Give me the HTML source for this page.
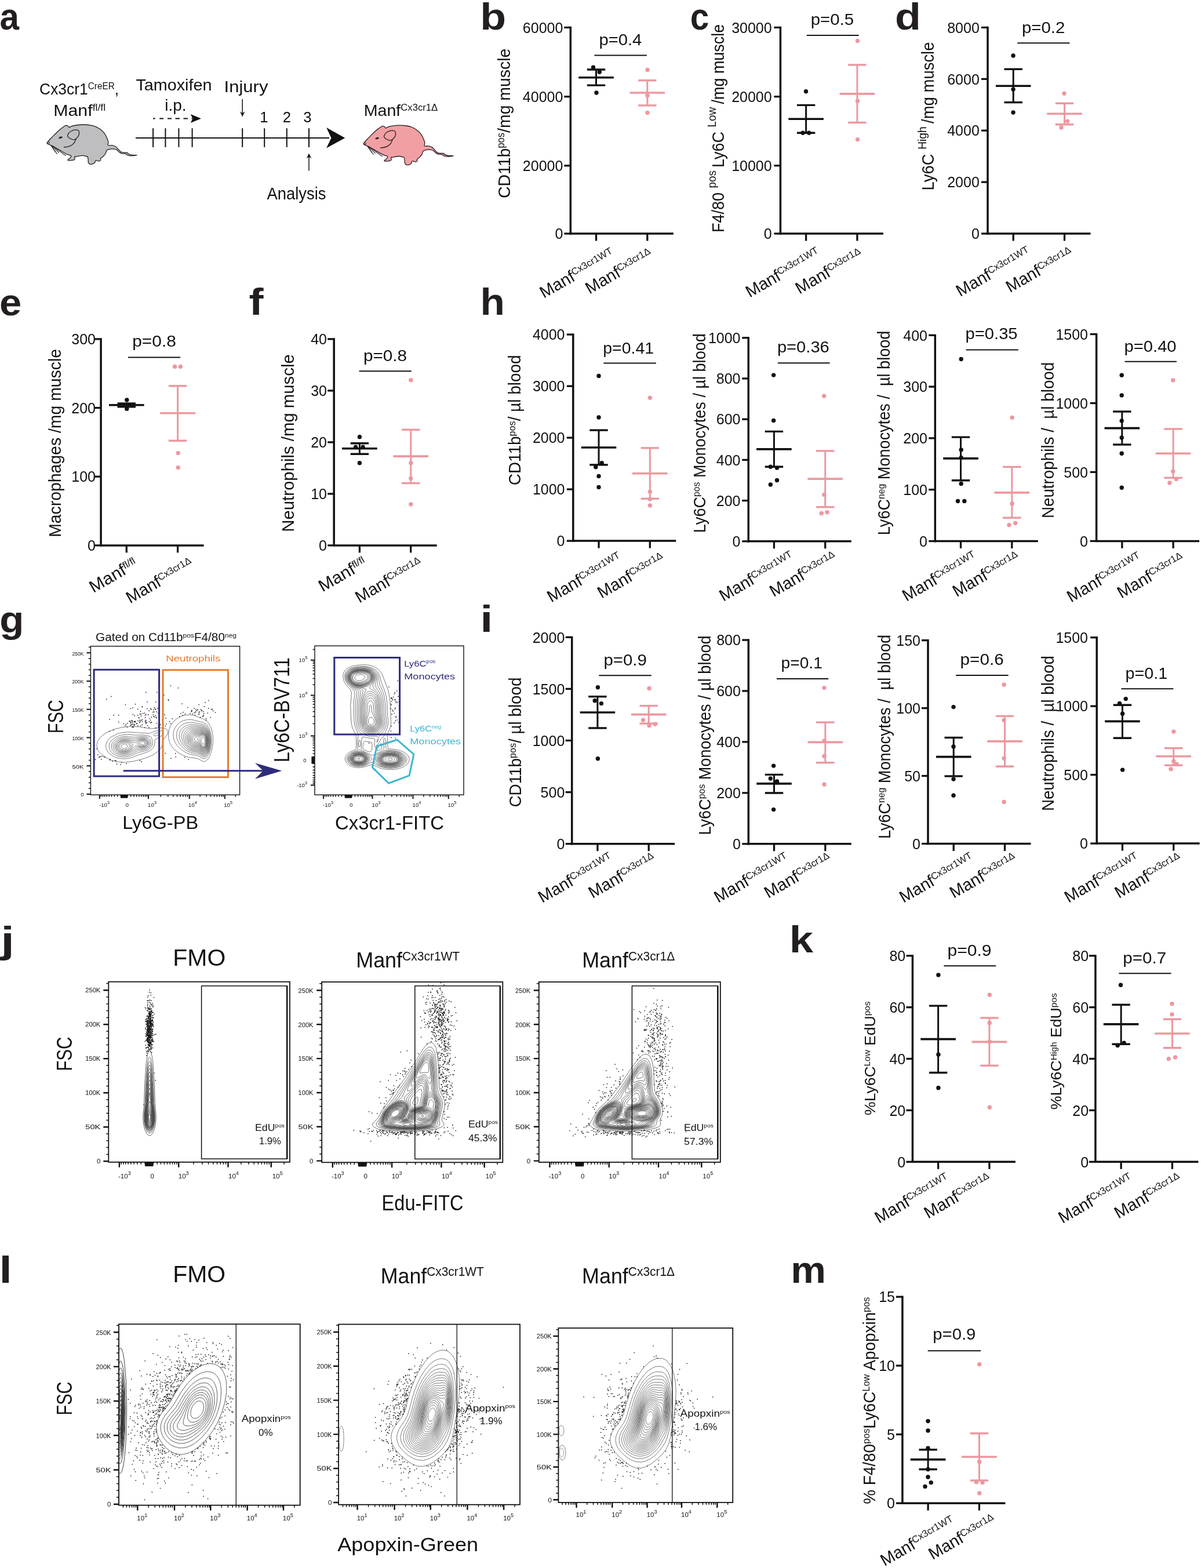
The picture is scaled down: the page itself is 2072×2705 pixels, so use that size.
<!DOCTYPE html>
<html><head><meta charset="utf-8"><title>Figure</title>
<style>html,body{margin:0;padding:0;background:#fff}svg{display:block}</style></head>
<body><svg width="2072" height="2705" viewBox="0 0 2072 2705" font-family="'Liberation Sans', Arial, sans-serif" fill="#111">
<rect width="2072" height="2705" fill="#fff"/>
<line x1="984.3" y1="45.8" x2="984.3" y2="404.7" stroke="#111" stroke-width="3.5"/>
<line x1="982.6" y1="403" x2="1161.8" y2="403" stroke="#111" stroke-width="3.5"/>
<line x1="973.3" y1="47.4" x2="984.3" y2="47.4" stroke="#111" stroke-width="3.3"/>
<text x="971.4" y="56.6" font-size="25" text-anchor="end">60000</text>
<line x1="973.3" y1="166.7" x2="984.3" y2="166.7" stroke="#111" stroke-width="3.3"/>
<text x="971.4" y="175.9" font-size="25" text-anchor="end">40000</text>
<line x1="973.3" y1="285.8" x2="984.3" y2="285.8" stroke="#111" stroke-width="3.3"/>
<text x="971.4" y="295" font-size="25" text-anchor="end">20000</text>
<line x1="973.3" y1="403" x2="984.3" y2="403" stroke="#111" stroke-width="3.3"/>
<text x="971.4" y="412.2" font-size="25" text-anchor="end">0</text>
<line x1="1028.5" y1="403" x2="1028.5" y2="415.5" stroke="#111" stroke-width="3.3"/>
<line x1="1116.8" y1="403" x2="1116.8" y2="415.5" stroke="#111" stroke-width="3.3"/>
<circle cx="1023.5" cy="116.2" r="3.7" fill="#111"/>
<circle cx="1034.3" cy="124.3" r="3.7" fill="#111"/>
<circle cx="1029" cy="160" r="3.7" fill="#111"/>
<circle cx="1117" cy="120.5" r="3.7" fill="#EC98A0"/>
<circle cx="1117" cy="164.8" r="3.7" fill="#EC98A0"/>
<circle cx="1117" cy="194.5" r="3.7" fill="#EC98A0"/>
<line x1="998.2" y1="133.8" x2="1058.8" y2="133.8" stroke="#111" stroke-width="3.6"/>
<line x1="1012.8" y1="120" x2="1044.2" y2="120" stroke="#111" stroke-width="3.4"/>
<line x1="1012.8" y1="147.1" x2="1044.2" y2="147.1" stroke="#111" stroke-width="3.4"/>
<line x1="1028.5" y1="120" x2="1028.5" y2="147.1" stroke="#111" stroke-width="3"/>
<line x1="1086.5" y1="160" x2="1147.1" y2="160" stroke="#EC98A0" stroke-width="3.6"/>
<line x1="1101.1" y1="138.7" x2="1132.5" y2="138.7" stroke="#EC98A0" stroke-width="3.4"/>
<line x1="1101.1" y1="181.9" x2="1132.5" y2="181.9" stroke="#EC98A0" stroke-width="3.4"/>
<line x1="1116.8" y1="138.7" x2="1116.8" y2="181.9" stroke="#EC98A0" stroke-width="3"/>
<line x1="1025.4" y1="95.5" x2="1115.8" y2="95.5" stroke="#111" stroke-width="2"/>
<text x="1033.4" y="78.3" font-size="28.5" textLength="74" lengthAdjust="spacingAndGlyphs">p=0.4</text>
<text x="880" y="341.9" font-size="30" transform="rotate(-90 880 341.9)" textLength="258.2" lengthAdjust="spacingAndGlyphs">CD11b<tspan dy="-10" font-size="17.5">pos</tspan><tspan dy="10">/mg muscle</tspan></text>
<text x="938.3" y="515.2" font-size="29" transform="rotate(-30 938.3 515.2)" textLength="143" lengthAdjust="spacingAndGlyphs">Manf<tspan dy="-8.7" font-size="16.8">Cx3cr1WT</tspan></text>
<text x="1016.9" y="508" font-size="29" transform="rotate(-30 1016.9 508)" textLength="128" lengthAdjust="spacingAndGlyphs">Manf<tspan dy="-8.7" font-size="16.8">Cx3cr1Δ</tspan></text>
<line x1="1346.4" y1="45.8" x2="1346.4" y2="404.7" stroke="#111" stroke-width="3.5"/>
<line x1="1344.7" y1="403" x2="1523.9" y2="403" stroke="#111" stroke-width="3.5"/>
<line x1="1335.4" y1="47.4" x2="1346.4" y2="47.4" stroke="#111" stroke-width="3.3"/>
<text x="1331.7" y="56.6" font-size="25" text-anchor="end">30000</text>
<line x1="1335.4" y1="166.7" x2="1346.4" y2="166.7" stroke="#111" stroke-width="3.3"/>
<text x="1331.7" y="175.9" font-size="25" text-anchor="end">20000</text>
<line x1="1335.4" y1="285.7" x2="1346.4" y2="285.7" stroke="#111" stroke-width="3.3"/>
<text x="1331.7" y="294.9" font-size="25" text-anchor="end">10000</text>
<line x1="1335.4" y1="403" x2="1346.4" y2="403" stroke="#111" stroke-width="3.3"/>
<text x="1331.7" y="412.2" font-size="25" text-anchor="end">0</text>
<line x1="1390.6" y1="403" x2="1390.6" y2="415.5" stroke="#111" stroke-width="3.3"/>
<line x1="1478.9" y1="403" x2="1478.9" y2="415.5" stroke="#111" stroke-width="3.3"/>
<circle cx="1390.5" cy="157.7" r="3.7" fill="#111"/>
<circle cx="1385" cy="229.3" r="3.7" fill="#111"/>
<circle cx="1395.7" cy="229.3" r="3.7" fill="#111"/>
<circle cx="1479.5" cy="70.4" r="3.7" fill="#EC98A0"/>
<circle cx="1479.5" cy="174.3" r="3.7" fill="#EC98A0"/>
<circle cx="1479.5" cy="240.6" r="3.7" fill="#EC98A0"/>
<line x1="1360.3" y1="205.3" x2="1420.9" y2="205.3" stroke="#111" stroke-width="3.6"/>
<line x1="1374.9" y1="181.4" x2="1406.3" y2="181.4" stroke="#111" stroke-width="3.4"/>
<line x1="1374.9" y1="229.3" x2="1406.3" y2="229.3" stroke="#111" stroke-width="3.4"/>
<line x1="1390.6" y1="181.4" x2="1390.6" y2="229.3" stroke="#111" stroke-width="3"/>
<line x1="1448.6" y1="161.9" x2="1509.2" y2="161.9" stroke="#EC98A0" stroke-width="3.6"/>
<line x1="1463.2" y1="111.9" x2="1494.6" y2="111.9" stroke="#EC98A0" stroke-width="3.4"/>
<line x1="1463.2" y1="211.5" x2="1494.6" y2="211.5" stroke="#EC98A0" stroke-width="3.4"/>
<line x1="1478.9" y1="111.9" x2="1478.9" y2="211.5" stroke="#EC98A0" stroke-width="3"/>
<line x1="1391.7" y1="60.9" x2="1481.6" y2="60.9" stroke="#111" stroke-width="2"/>
<text x="1398.7" y="42.7" font-size="28.5" textLength="74.4" lengthAdjust="spacingAndGlyphs">p=0.5</text>
<text x="1248.8" y="401" font-size="30" transform="rotate(-90 1248.8 401)" textLength="359.3" lengthAdjust="spacingAndGlyphs">F4/80 <tspan dy="-13.5" font-size="21">pos </tspan><tspan dy="13.5">Ly6C </tspan><tspan dy="-13.5" font-size="21">Low </tspan><tspan dy="13.5">/mg muscle</tspan></text>
<text x="1293.4" y="514.1" font-size="29" transform="rotate(-30 1293.4 514.1)" textLength="143" lengthAdjust="spacingAndGlyphs">Manf<tspan dy="-8.7" font-size="16.8">Cx3cr1WT</tspan></text>
<text x="1379.3" y="507.9" font-size="29" transform="rotate(-30 1379.3 507.9)" textLength="128" lengthAdjust="spacingAndGlyphs">Manf<tspan dy="-8.7" font-size="16.8">Cx3cr1Δ</tspan></text>
<line x1="1704" y1="45.8" x2="1704" y2="404.7" stroke="#111" stroke-width="3.5"/>
<line x1="1702.3" y1="403" x2="1881.5" y2="403" stroke="#111" stroke-width="3.5"/>
<line x1="1693" y1="47.4" x2="1704" y2="47.4" stroke="#111" stroke-width="3.3"/>
<text x="1689.8" y="56.6" font-size="25" text-anchor="end">8000</text>
<line x1="1693" y1="136.3" x2="1704" y2="136.3" stroke="#111" stroke-width="3.3"/>
<text x="1689.8" y="145.5" font-size="25" text-anchor="end">6000</text>
<line x1="1693" y1="225.2" x2="1704" y2="225.2" stroke="#111" stroke-width="3.3"/>
<text x="1689.8" y="234.4" font-size="25" text-anchor="end">4000</text>
<line x1="1693" y1="314.1" x2="1704" y2="314.1" stroke="#111" stroke-width="3.3"/>
<text x="1689.8" y="323.3" font-size="25" text-anchor="end">2000</text>
<line x1="1693" y1="403" x2="1704" y2="403" stroke="#111" stroke-width="3.3"/>
<text x="1689.8" y="412.2" font-size="25" text-anchor="end">0</text>
<line x1="1748.2" y1="403" x2="1748.2" y2="415.5" stroke="#111" stroke-width="3.3"/>
<line x1="1836.5" y1="403" x2="1836.5" y2="415.5" stroke="#111" stroke-width="3.3"/>
<circle cx="1748" cy="96" r="3.7" fill="#111"/>
<circle cx="1748" cy="154.1" r="3.7" fill="#111"/>
<circle cx="1748" cy="194" r="3.7" fill="#111"/>
<circle cx="1836" cy="161.2" r="3.7" fill="#EC98A0"/>
<circle cx="1841.6" cy="209.1" r="3.7" fill="#EC98A0"/>
<circle cx="1831" cy="220" r="3.7" fill="#EC98A0"/>
<line x1="1717.9" y1="148.2" x2="1778.5" y2="148.2" stroke="#111" stroke-width="3.6"/>
<line x1="1732.5" y1="119.3" x2="1763.9" y2="119.3" stroke="#111" stroke-width="3.4"/>
<line x1="1732.5" y1="176.6" x2="1763.9" y2="176.6" stroke="#111" stroke-width="3.4"/>
<line x1="1748.2" y1="119.3" x2="1748.2" y2="176.6" stroke="#111" stroke-width="3"/>
<line x1="1806.2" y1="196.3" x2="1866.8" y2="196.3" stroke="#EC98A0" stroke-width="3.6"/>
<line x1="1820.8" y1="178.3" x2="1852.2" y2="178.3" stroke="#EC98A0" stroke-width="3.4"/>
<line x1="1820.8" y1="214.8" x2="1852.2" y2="214.8" stroke="#EC98A0" stroke-width="3.4"/>
<line x1="1836.5" y1="178.3" x2="1836.5" y2="214.8" stroke="#EC98A0" stroke-width="3"/>
<line x1="1755.3" y1="74.2" x2="1845.4" y2="74.2" stroke="#111" stroke-width="2"/>
<text x="1763" y="56.9" font-size="28.5" textLength="74.4" lengthAdjust="spacingAndGlyphs">p=0.2</text>
<text x="1611" y="328.5" font-size="30" transform="rotate(-90 1611 328.5)" textLength="256" lengthAdjust="spacingAndGlyphs">Ly6C <tspan dy="-13.5" font-size="21">High </tspan><tspan dy="13.5">/mg muscle</tspan></text>
<text x="1656.5" y="512.6" font-size="29" transform="rotate(-30 1656.5 512.6)" textLength="143" lengthAdjust="spacingAndGlyphs">Manf<tspan dy="-8.7" font-size="16.8">Cx3cr1WT</tspan></text>
<text x="1742.4" y="505.6" font-size="29" transform="rotate(-30 1742.4 505.6)" textLength="128" lengthAdjust="spacingAndGlyphs">Manf<tspan dy="-8.7" font-size="16.8">Cx3cr1Δ</tspan></text>
<line x1="174.1" y1="583.3" x2="174.1" y2="942.6" stroke="#111" stroke-width="3.5"/>
<line x1="172.4" y1="940.9" x2="351.6" y2="940.9" stroke="#111" stroke-width="3.5"/>
<line x1="163.1" y1="584.9" x2="174.1" y2="584.9" stroke="#111" stroke-width="3.3"/>
<text x="165" y="594.1" font-size="25" text-anchor="end">300</text>
<line x1="163.1" y1="703.6" x2="174.1" y2="703.6" stroke="#111" stroke-width="3.3"/>
<text x="165" y="712.8" font-size="25" text-anchor="end">200</text>
<line x1="163.1" y1="822.2" x2="174.1" y2="822.2" stroke="#111" stroke-width="3.3"/>
<text x="165" y="831.4" font-size="25" text-anchor="end">100</text>
<line x1="163.1" y1="940.9" x2="174.1" y2="940.9" stroke="#111" stroke-width="3.3"/>
<text x="165" y="950.1" font-size="25" text-anchor="end">0</text>
<line x1="218.3" y1="940.9" x2="218.3" y2="953.4" stroke="#111" stroke-width="3.3"/>
<line x1="306.6" y1="940.9" x2="306.6" y2="953.4" stroke="#111" stroke-width="3.3"/>
<circle cx="218.8" cy="690" r="3.7" fill="#111"/>
<circle cx="212" cy="699" r="3.7" fill="#111"/>
<circle cx="226" cy="699" r="3.7" fill="#111"/>
<circle cx="218.8" cy="705.2" r="3.7" fill="#111"/>
<circle cx="301.5" cy="632.4" r="3.7" fill="#EC98A0"/>
<circle cx="311.4" cy="632.4" r="3.7" fill="#EC98A0"/>
<circle cx="307.2" cy="781.6" r="3.7" fill="#EC98A0"/>
<circle cx="307.2" cy="806.6" r="3.7" fill="#EC98A0"/>
<line x1="188" y1="698.7" x2="248.6" y2="698.7" stroke="#111" stroke-width="3.6"/>
<line x1="202.6" y1="696" x2="234" y2="696" stroke="#111" stroke-width="3.4"/>
<line x1="202.6" y1="701.8" x2="234" y2="701.8" stroke="#111" stroke-width="3.4"/>
<line x1="218.3" y1="696" x2="218.3" y2="701.8" stroke="#111" stroke-width="3"/>
<line x1="276.3" y1="712.7" x2="336.9" y2="712.7" stroke="#EC98A0" stroke-width="3.6"/>
<line x1="290.9" y1="665.7" x2="322.3" y2="665.7" stroke="#EC98A0" stroke-width="3.4"/>
<line x1="290.9" y1="760.3" x2="322.3" y2="760.3" stroke="#EC98A0" stroke-width="3.4"/>
<line x1="306.6" y1="665.7" x2="306.6" y2="760.3" stroke="#EC98A0" stroke-width="3"/>
<line x1="220.9" y1="616.6" x2="311.1" y2="616.6" stroke="#111" stroke-width="2"/>
<text x="228.2" y="597.9" font-size="28.5" textLength="75.7" lengthAdjust="spacingAndGlyphs">p=0.8</text>
<text x="105.3" y="926.8" font-size="30" transform="rotate(-90 105.3 926.8)" textLength="324.8" lengthAdjust="spacingAndGlyphs">Macrophages /mg muscle</text>
<text x="161.1" y="1023.2" font-size="29" transform="rotate(-30 161.1 1023.2)" textLength="90" lengthAdjust="spacingAndGlyphs">Manf<tspan dy="-8.7" font-size="16.8">fl/fl</tspan></text>
<text x="224.6" y="1041.8" font-size="29" transform="rotate(-30 224.6 1041.8)" textLength="128" lengthAdjust="spacingAndGlyphs">Manf<tspan dy="-8.7" font-size="16.8">Cx3cr1Δ</tspan></text>
<line x1="576.2" y1="583.3" x2="576.2" y2="942.6" stroke="#111" stroke-width="3.5"/>
<line x1="574.5" y1="940.9" x2="753.7" y2="940.9" stroke="#111" stroke-width="3.5"/>
<line x1="565.2" y1="584.9" x2="576.2" y2="584.9" stroke="#111" stroke-width="3.3"/>
<text x="564" y="594.1" font-size="25" text-anchor="end">40</text>
<line x1="565.2" y1="673.9" x2="576.2" y2="673.9" stroke="#111" stroke-width="3.3"/>
<text x="564" y="683.1" font-size="25" text-anchor="end">30</text>
<line x1="565.2" y1="762.9" x2="576.2" y2="762.9" stroke="#111" stroke-width="3.3"/>
<text x="564" y="772.1" font-size="25" text-anchor="end">20</text>
<line x1="565.2" y1="851.9" x2="576.2" y2="851.9" stroke="#111" stroke-width="3.3"/>
<text x="564" y="861.1" font-size="25" text-anchor="end">10</text>
<line x1="565.2" y1="940.9" x2="576.2" y2="940.9" stroke="#111" stroke-width="3.3"/>
<text x="564" y="950.1" font-size="25" text-anchor="end">0</text>
<line x1="620.4" y1="940.9" x2="620.4" y2="953.4" stroke="#111" stroke-width="3.3"/>
<line x1="708.7" y1="940.9" x2="708.7" y2="953.4" stroke="#111" stroke-width="3.3"/>
<circle cx="620.4" cy="753.8" r="3.7" fill="#111"/>
<circle cx="613.6" cy="771.2" r="3.7" fill="#111"/>
<circle cx="626.1" cy="771.2" r="3.7" fill="#111"/>
<circle cx="620.4" cy="798.8" r="3.7" fill="#111"/>
<circle cx="708.8" cy="655.8" r="3.7" fill="#EC98A0"/>
<circle cx="708.8" cy="798.8" r="3.7" fill="#EC98A0"/>
<circle cx="708.8" cy="825.3" r="3.7" fill="#EC98A0"/>
<circle cx="708.8" cy="870" r="3.7" fill="#EC98A0"/>
<line x1="590.1" y1="773.8" x2="650.7" y2="773.8" stroke="#111" stroke-width="3.6"/>
<line x1="604.7" y1="764.7" x2="636.1" y2="764.7" stroke="#111" stroke-width="3.4"/>
<line x1="604.7" y1="783.2" x2="636.1" y2="783.2" stroke="#111" stroke-width="3.4"/>
<line x1="620.4" y1="764.7" x2="620.4" y2="783.2" stroke="#111" stroke-width="3"/>
<line x1="678.4" y1="787.1" x2="739" y2="787.1" stroke="#EC98A0" stroke-width="3.6"/>
<line x1="693" y1="741.3" x2="724.4" y2="741.3" stroke="#EC98A0" stroke-width="3.4"/>
<line x1="693" y1="833.6" x2="724.4" y2="833.6" stroke="#EC98A0" stroke-width="3.4"/>
<line x1="708.7" y1="741.3" x2="708.7" y2="833.6" stroke="#EC98A0" stroke-width="3"/>
<line x1="619.6" y1="640.2" x2="709.8" y2="640.2" stroke="#111" stroke-width="2"/>
<text x="626.9" y="622.5" font-size="28.5" textLength="75.2" lengthAdjust="spacingAndGlyphs">p=0.8</text>
<text x="506.6" y="917.7" font-size="30" transform="rotate(-90 506.6 917.7)" textLength="306.5" lengthAdjust="spacingAndGlyphs">Neutrophils /mg muscle</text>
<text x="556.5" y="1021.7" font-size="29" transform="rotate(-30 556.5 1021.7)" textLength="90" lengthAdjust="spacingAndGlyphs">Manf<tspan dy="-8.7" font-size="16.8">fl/fl</tspan></text>
<text x="619.9" y="1041" font-size="29" transform="rotate(-30 619.9 1041)" textLength="128" lengthAdjust="spacingAndGlyphs">Manf<tspan dy="-8.7" font-size="16.8">Cx3cr1Δ</tspan></text>
<line x1="988.8" y1="575.5" x2="988.8" y2="934.8" stroke="#111" stroke-width="3.5"/>
<line x1="987.1" y1="933.1" x2="1166.3" y2="933.1" stroke="#111" stroke-width="3.5"/>
<line x1="977.8" y1="577.1" x2="988.8" y2="577.1" stroke="#111" stroke-width="3.3"/>
<text x="974.5" y="586.3" font-size="25" text-anchor="end">4000</text>
<line x1="977.8" y1="666.1" x2="988.8" y2="666.1" stroke="#111" stroke-width="3.3"/>
<text x="974.5" y="675.3" font-size="25" text-anchor="end">3000</text>
<line x1="977.8" y1="755.1" x2="988.8" y2="755.1" stroke="#111" stroke-width="3.3"/>
<text x="974.5" y="764.3" font-size="25" text-anchor="end">2000</text>
<line x1="977.8" y1="844.1" x2="988.8" y2="844.1" stroke="#111" stroke-width="3.3"/>
<text x="974.5" y="853.3" font-size="25" text-anchor="end">1000</text>
<line x1="977.8" y1="933.1" x2="988.8" y2="933.1" stroke="#111" stroke-width="3.3"/>
<text x="974.5" y="942.3" font-size="25" text-anchor="end">0</text>
<line x1="1033" y1="933.1" x2="1033" y2="945.6" stroke="#111" stroke-width="3.3"/>
<line x1="1121.3" y1="933.1" x2="1121.3" y2="945.6" stroke="#111" stroke-width="3.3"/>
<circle cx="1033" cy="648.5" r="3.7" fill="#111"/>
<circle cx="1033" cy="720" r="3.7" fill="#111"/>
<circle cx="1038.2" cy="798.8" r="3.7" fill="#111"/>
<circle cx="1027.8" cy="805.8" r="3.7" fill="#111"/>
<circle cx="1033" cy="821.4" r="3.7" fill="#111"/>
<circle cx="1033" cy="840.4" r="3.7" fill="#111"/>
<circle cx="1121.4" cy="686.2" r="3.7" fill="#EC98A0"/>
<circle cx="1121.4" cy="848.2" r="3.7" fill="#EC98A0"/>
<circle cx="1121.4" cy="861.1" r="3.7" fill="#EC98A0"/>
<circle cx="1121.4" cy="872" r="3.7" fill="#EC98A0"/>
<line x1="1002.7" y1="772" x2="1063.3" y2="772" stroke="#111" stroke-width="3.6"/>
<line x1="1017.3" y1="742.1" x2="1048.7" y2="742.1" stroke="#111" stroke-width="3.4"/>
<line x1="1017.3" y1="801.9" x2="1048.7" y2="801.9" stroke="#111" stroke-width="3.4"/>
<line x1="1033" y1="742.1" x2="1033" y2="801.9" stroke="#111" stroke-width="3"/>
<line x1="1091" y1="816.7" x2="1151.6" y2="816.7" stroke="#EC98A0" stroke-width="3.6"/>
<line x1="1105.6" y1="772.8" x2="1137" y2="772.8" stroke="#EC98A0" stroke-width="3.4"/>
<line x1="1105.6" y1="860.3" x2="1137" y2="860.3" stroke="#EC98A0" stroke-width="3.4"/>
<line x1="1121.3" y1="772.8" x2="1121.3" y2="860.3" stroke="#EC98A0" stroke-width="3"/>
<line x1="1041.3" y1="626.5" x2="1131.8" y2="626.5" stroke="#111" stroke-width="2"/>
<text x="1040.2" y="609.5" font-size="28.5" textLength="87.9" lengthAdjust="spacingAndGlyphs">p=0.41</text>
<text x="898.4" y="837.2" font-size="29" transform="rotate(-90 898.4 837.2)" textLength="224.7" lengthAdjust="spacingAndGlyphs">CD11b<tspan dy="-9.7" font-size="16.9">pos</tspan><tspan dy="9.7">/ µl blood</tspan></text>
<text x="951.1" y="1039.9" font-size="29" transform="rotate(-30 951.1 1039.9)" textLength="143" lengthAdjust="spacingAndGlyphs">Manf<tspan dy="-8.7" font-size="16.8">Cx3cr1WT</tspan></text>
<text x="1037.8" y="1032.9" font-size="29" transform="rotate(-30 1037.8 1032.9)" textLength="128" lengthAdjust="spacingAndGlyphs">Manf<tspan dy="-8.7" font-size="16.8">Cx3cr1Δ</tspan></text>
<line x1="1291.2" y1="581.2" x2="1291.2" y2="935.5" stroke="#111" stroke-width="3.5"/>
<line x1="1289.5" y1="933.8" x2="1468.7" y2="933.8" stroke="#111" stroke-width="3.5"/>
<line x1="1280.2" y1="582.8" x2="1291.2" y2="582.8" stroke="#111" stroke-width="3.3"/>
<text x="1277.5" y="592" font-size="25" text-anchor="end">1000</text>
<line x1="1280.2" y1="653" x2="1291.2" y2="653" stroke="#111" stroke-width="3.3"/>
<text x="1277.5" y="662.2" font-size="25" text-anchor="end">800</text>
<line x1="1280.2" y1="723.2" x2="1291.2" y2="723.2" stroke="#111" stroke-width="3.3"/>
<text x="1277.5" y="732.4" font-size="25" text-anchor="end">600</text>
<line x1="1280.2" y1="793.4" x2="1291.2" y2="793.4" stroke="#111" stroke-width="3.3"/>
<text x="1277.5" y="802.6" font-size="25" text-anchor="end">400</text>
<line x1="1280.2" y1="863.6" x2="1291.2" y2="863.6" stroke="#111" stroke-width="3.3"/>
<text x="1277.5" y="872.8" font-size="25" text-anchor="end">200</text>
<line x1="1280.2" y1="933.8" x2="1291.2" y2="933.8" stroke="#111" stroke-width="3.3"/>
<text x="1277.5" y="943" font-size="25" text-anchor="end">0</text>
<line x1="1335.4" y1="933.8" x2="1335.4" y2="946.3" stroke="#111" stroke-width="3.3"/>
<line x1="1423.7" y1="933.8" x2="1423.7" y2="946.3" stroke="#111" stroke-width="3.3"/>
<circle cx="1334.6" cy="647.1" r="3.7" fill="#111"/>
<circle cx="1334.6" cy="725.4" r="3.7" fill="#111"/>
<circle cx="1329.3" cy="805.2" r="3.7" fill="#111"/>
<circle cx="1340.5" cy="807.1" r="3.7" fill="#111"/>
<circle cx="1340.5" cy="828.5" r="3.7" fill="#111"/>
<circle cx="1329.3" cy="836" r="3.7" fill="#111"/>
<circle cx="1421.7" cy="683.3" r="3.7" fill="#EC98A0"/>
<circle cx="1421.7" cy="853.4" r="3.7" fill="#EC98A0"/>
<circle cx="1417.2" cy="885.5" r="3.7" fill="#EC98A0"/>
<circle cx="1427" cy="883.7" r="3.7" fill="#EC98A0"/>
<line x1="1305.1" y1="774.9" x2="1365.7" y2="774.9" stroke="#111" stroke-width="3.6"/>
<line x1="1319.7" y1="744.4" x2="1351.1" y2="744.4" stroke="#111" stroke-width="3.4"/>
<line x1="1319.7" y1="805.2" x2="1351.1" y2="805.2" stroke="#111" stroke-width="3.4"/>
<line x1="1335.4" y1="744.4" x2="1335.4" y2="805.2" stroke="#111" stroke-width="3"/>
<line x1="1393.4" y1="826.1" x2="1454" y2="826.1" stroke="#EC98A0" stroke-width="3.6"/>
<line x1="1408" y1="777.9" x2="1439.4" y2="777.9" stroke="#EC98A0" stroke-width="3.4"/>
<line x1="1408" y1="874.8" x2="1439.4" y2="874.8" stroke="#EC98A0" stroke-width="3.4"/>
<line x1="1423.7" y1="777.9" x2="1423.7" y2="874.8" stroke="#EC98A0" stroke-width="3"/>
<line x1="1341.9" y1="626.3" x2="1431.6" y2="626.3" stroke="#111" stroke-width="2"/>
<text x="1340.9" y="608.3" font-size="28.5" textLength="89.9" lengthAdjust="spacingAndGlyphs">p=0.36</text>
<text x="1216.8" y="919.2" font-size="29" transform="rotate(-90 1216.8 919.2)" textLength="344" lengthAdjust="spacingAndGlyphs">Ly6C<tspan dy="-9.7" font-size="16.9">pos</tspan><tspan dy="9.7"> Monocytes / µl blood</tspan></text>
<text x="1248" y="1038.3" font-size="29" transform="rotate(-30 1248 1038.3)" textLength="143" lengthAdjust="spacingAndGlyphs">Manf<tspan dy="-8.7" font-size="16.8">Cx3cr1WT</tspan></text>
<text x="1334.7" y="1030.6" font-size="29" transform="rotate(-30 1334.7 1030.6)" textLength="128" lengthAdjust="spacingAndGlyphs">Manf<tspan dy="-8.7" font-size="16.8">Cx3cr1Δ</tspan></text>
<line x1="1613.3" y1="576.7" x2="1613.3" y2="935.2" stroke="#111" stroke-width="3.5"/>
<line x1="1611.6" y1="933.5" x2="1790.8" y2="933.5" stroke="#111" stroke-width="3.5"/>
<line x1="1602.3" y1="578.3" x2="1613.3" y2="578.3" stroke="#111" stroke-width="3.3"/>
<text x="1600" y="587.5" font-size="25" text-anchor="end">400</text>
<line x1="1602.3" y1="667.1" x2="1613.3" y2="667.1" stroke="#111" stroke-width="3.3"/>
<text x="1600" y="676.3" font-size="25" text-anchor="end">300</text>
<line x1="1602.3" y1="755.9" x2="1613.3" y2="755.9" stroke="#111" stroke-width="3.3"/>
<text x="1600" y="765.1" font-size="25" text-anchor="end">200</text>
<line x1="1602.3" y1="844.7" x2="1613.3" y2="844.7" stroke="#111" stroke-width="3.3"/>
<text x="1600" y="853.9" font-size="25" text-anchor="end">100</text>
<line x1="1602.3" y1="933.5" x2="1613.3" y2="933.5" stroke="#111" stroke-width="3.3"/>
<text x="1600" y="942.7" font-size="25" text-anchor="end">0</text>
<line x1="1657.5" y1="933.5" x2="1657.5" y2="946" stroke="#111" stroke-width="3.3"/>
<line x1="1745.8" y1="933.5" x2="1745.8" y2="946" stroke="#111" stroke-width="3.3"/>
<circle cx="1658.2" cy="619.5" r="3.7" fill="#111"/>
<circle cx="1658.2" cy="776" r="3.7" fill="#111"/>
<circle cx="1658.2" cy="789.5" r="3.7" fill="#111"/>
<circle cx="1658.2" cy="834.5" r="3.7" fill="#111"/>
<circle cx="1652.5" cy="864.5" r="3.7" fill="#111"/>
<circle cx="1663.8" cy="864.5" r="3.7" fill="#111"/>
<circle cx="1746.1" cy="720.4" r="3.7" fill="#EC98A0"/>
<circle cx="1746.1" cy="868.7" r="3.7" fill="#EC98A0"/>
<circle cx="1741" cy="905.8" r="3.7" fill="#EC98A0"/>
<circle cx="1751.7" cy="902.5" r="3.7" fill="#EC98A0"/>
<line x1="1627.2" y1="790.9" x2="1687.8" y2="790.9" stroke="#111" stroke-width="3.6"/>
<line x1="1641.8" y1="754.1" x2="1673.2" y2="754.1" stroke="#111" stroke-width="3.4"/>
<line x1="1641.8" y1="828.8" x2="1673.2" y2="828.8" stroke="#111" stroke-width="3.4"/>
<line x1="1657.5" y1="754.1" x2="1657.5" y2="828.8" stroke="#111" stroke-width="3"/>
<line x1="1715.5" y1="849.9" x2="1776.1" y2="849.9" stroke="#EC98A0" stroke-width="3.6"/>
<line x1="1730.1" y1="805.5" x2="1761.5" y2="805.5" stroke="#EC98A0" stroke-width="3.4"/>
<line x1="1730.1" y1="893.2" x2="1761.5" y2="893.2" stroke="#EC98A0" stroke-width="3.4"/>
<line x1="1745.8" y1="805.5" x2="1745.8" y2="893.2" stroke="#EC98A0" stroke-width="3"/>
<line x1="1666.6" y1="603.5" x2="1756.8" y2="603.5" stroke="#111" stroke-width="2"/>
<text x="1665.6" y="585" font-size="28.5" textLength="90" lengthAdjust="spacingAndGlyphs">p=0.35</text>
<text x="1535.5" y="923.2" font-size="29" transform="rotate(-90 1535.5 923.2)" textLength="352.6" lengthAdjust="spacingAndGlyphs">Ly6C<tspan dy="-9.7" font-size="16.9">neg</tspan><tspan dy="9.7"> Monocytes /  µl blood</tspan></text>
<text x="1563.7" y="1038.3" font-size="29" transform="rotate(-30 1563.7 1038.3)" textLength="143" lengthAdjust="spacingAndGlyphs">Manf<tspan dy="-8.7" font-size="16.8">Cx3cr1WT</tspan></text>
<text x="1650.4" y="1030.6" font-size="29" transform="rotate(-30 1650.4 1030.6)" textLength="128" lengthAdjust="spacingAndGlyphs">Manf<tspan dy="-8.7" font-size="16.8">Cx3cr1Δ</tspan></text>
<line x1="1891.6" y1="574.9" x2="1891.6" y2="935.1" stroke="#111" stroke-width="3.5"/>
<line x1="1889.9" y1="933.4" x2="2069.1" y2="933.4" stroke="#111" stroke-width="3.5"/>
<line x1="1880.6" y1="576.5" x2="1891.6" y2="576.5" stroke="#111" stroke-width="3.3"/>
<text x="1877" y="585.7" font-size="25" text-anchor="end">1500</text>
<line x1="1880.6" y1="695.5" x2="1891.6" y2="695.5" stroke="#111" stroke-width="3.3"/>
<text x="1877" y="704.7" font-size="25" text-anchor="end">1000</text>
<line x1="1880.6" y1="814.4" x2="1891.6" y2="814.4" stroke="#111" stroke-width="3.3"/>
<text x="1877" y="823.6" font-size="25" text-anchor="end">500</text>
<line x1="1880.6" y1="933.4" x2="1891.6" y2="933.4" stroke="#111" stroke-width="3.3"/>
<text x="1877" y="942.6" font-size="25" text-anchor="end">0</text>
<line x1="1935.8" y1="933.4" x2="1935.8" y2="945.9" stroke="#111" stroke-width="3.3"/>
<line x1="2024.1" y1="933.4" x2="2024.1" y2="945.9" stroke="#111" stroke-width="3.3"/>
<circle cx="1935.2" cy="647.3" r="3.7" fill="#111"/>
<circle cx="1935.2" cy="681.9" r="3.7" fill="#111"/>
<circle cx="1935.2" cy="726" r="3.7" fill="#111"/>
<circle cx="1935.2" cy="755" r="3.7" fill="#111"/>
<circle cx="1935.2" cy="782.2" r="3.7" fill="#111"/>
<circle cx="1935.2" cy="841.2" r="3.7" fill="#111"/>
<circle cx="2023.7" cy="656" r="3.7" fill="#EC98A0"/>
<circle cx="2023.7" cy="813.1" r="3.7" fill="#EC98A0"/>
<circle cx="2029.3" cy="826.6" r="3.7" fill="#EC98A0"/>
<circle cx="2018" cy="833" r="3.7" fill="#EC98A0"/>
<line x1="1905.5" y1="738.6" x2="1966.1" y2="738.6" stroke="#111" stroke-width="3.6"/>
<line x1="1920.1" y1="710" x2="1951.5" y2="710" stroke="#111" stroke-width="3.4"/>
<line x1="1920.1" y1="767" x2="1951.5" y2="767" stroke="#111" stroke-width="3.4"/>
<line x1="1935.8" y1="710" x2="1935.8" y2="767" stroke="#111" stroke-width="3"/>
<line x1="1993.8" y1="782.2" x2="2054.4" y2="782.2" stroke="#EC98A0" stroke-width="3.6"/>
<line x1="2008.4" y1="740" x2="2039.8" y2="740" stroke="#EC98A0" stroke-width="3.4"/>
<line x1="2008.4" y1="824.3" x2="2039.8" y2="824.3" stroke="#EC98A0" stroke-width="3.4"/>
<line x1="2024.1" y1="740" x2="2024.1" y2="824.3" stroke="#EC98A0" stroke-width="3"/>
<line x1="1940.5" y1="623.7" x2="2029.9" y2="623.7" stroke="#111" stroke-width="2"/>
<text x="1939.6" y="606.9" font-size="28.5" textLength="90" lengthAdjust="spacingAndGlyphs">p=0.40</text>
<text x="1817.7" y="894.1" font-size="29" transform="rotate(-90 1817.7 894.1)" textLength="269.4" lengthAdjust="spacingAndGlyphs">Neutrophils /  µl blood</text>
<text x="1847.8" y="1039.9" font-size="29" transform="rotate(-30 1847.8 1039.9)" textLength="143" lengthAdjust="spacingAndGlyphs">Manf<tspan dy="-8.7" font-size="16.8">Cx3cr1WT</tspan></text>
<text x="1934.5" y="1032.9" font-size="29" transform="rotate(-30 1934.5 1032.9)" textLength="128" lengthAdjust="spacingAndGlyphs">Manf<tspan dy="-8.7" font-size="16.8">Cx3cr1Δ</tspan></text>
<line x1="986.7" y1="1097.7" x2="986.7" y2="1457.4" stroke="#111" stroke-width="3.5"/>
<line x1="985" y1="1455.7" x2="1164.2" y2="1455.7" stroke="#111" stroke-width="3.5"/>
<line x1="975.7" y1="1099.3" x2="986.7" y2="1099.3" stroke="#111" stroke-width="3.3"/>
<text x="974.3" y="1108.5" font-size="25" text-anchor="end">2000</text>
<line x1="975.7" y1="1188.4" x2="986.7" y2="1188.4" stroke="#111" stroke-width="3.3"/>
<text x="974.3" y="1197.6" font-size="25" text-anchor="end">1500</text>
<line x1="975.7" y1="1277.5" x2="986.7" y2="1277.5" stroke="#111" stroke-width="3.3"/>
<text x="974.3" y="1286.7" font-size="25" text-anchor="end">1000</text>
<line x1="975.7" y1="1366.6" x2="986.7" y2="1366.6" stroke="#111" stroke-width="3.3"/>
<text x="974.3" y="1375.8" font-size="25" text-anchor="end">500</text>
<line x1="975.7" y1="1455.7" x2="986.7" y2="1455.7" stroke="#111" stroke-width="3.3"/>
<text x="974.3" y="1464.9" font-size="25" text-anchor="end">0</text>
<line x1="1030.9" y1="1455.7" x2="1030.9" y2="1468.2" stroke="#111" stroke-width="3.3"/>
<line x1="1119.2" y1="1455.7" x2="1119.2" y2="1468.2" stroke="#111" stroke-width="3.3"/>
<circle cx="1031.4" cy="1185.7" r="3.7" fill="#111"/>
<circle cx="1026.2" cy="1208.8" r="3.7" fill="#111"/>
<circle cx="1037.4" cy="1213.6" r="3.7" fill="#111"/>
<circle cx="1031.4" cy="1308.8" r="3.7" fill="#111"/>
<circle cx="1120" cy="1187.4" r="3.7" fill="#EC98A0"/>
<circle cx="1109.5" cy="1242.1" r="3.7" fill="#EC98A0"/>
<circle cx="1120" cy="1251.7" r="3.7" fill="#EC98A0"/>
<circle cx="1130.2" cy="1249.3" r="3.7" fill="#EC98A0"/>
<line x1="1000.6" y1="1229" x2="1061.2" y2="1229" stroke="#111" stroke-width="3.6"/>
<line x1="1015.2" y1="1201.7" x2="1046.6" y2="1201.7" stroke="#111" stroke-width="3.4"/>
<line x1="1015.2" y1="1256" x2="1046.6" y2="1256" stroke="#111" stroke-width="3.4"/>
<line x1="1030.9" y1="1201.7" x2="1030.9" y2="1256" stroke="#111" stroke-width="3"/>
<line x1="1088.9" y1="1232.6" x2="1149.5" y2="1232.6" stroke="#EC98A0" stroke-width="3.6"/>
<line x1="1103.5" y1="1217.6" x2="1134.9" y2="1217.6" stroke="#EC98A0" stroke-width="3.4"/>
<line x1="1103.5" y1="1248.1" x2="1134.9" y2="1248.1" stroke="#EC98A0" stroke-width="3.4"/>
<line x1="1119.2" y1="1217.6" x2="1119.2" y2="1248.1" stroke="#EC98A0" stroke-width="3"/>
<line x1="1033.3" y1="1165.2" x2="1123.8" y2="1165.2" stroke="#111" stroke-width="2"/>
<text x="1041.5" y="1147.6" font-size="28.5" textLength="74.4" lengthAdjust="spacingAndGlyphs">p=0.9</text>
<text x="899.3" y="1392.5" font-size="29" transform="rotate(-90 899.3 1392.5)" textLength="224" lengthAdjust="spacingAndGlyphs">CD11b<tspan dy="-9.7" font-size="16.9">pos</tspan><tspan dy="9.7">/ µl blood</tspan></text>
<text x="935.6" y="1558.3" font-size="29" transform="rotate(-30 935.6 1558.3)" textLength="143" lengthAdjust="spacingAndGlyphs">Manf<tspan dy="-8.7" font-size="16.8">Cx3cr1WT</tspan></text>
<text x="1022.3" y="1550.6" font-size="29" transform="rotate(-30 1022.3 1550.6)" textLength="128" lengthAdjust="spacingAndGlyphs">Manf<tspan dy="-8.7" font-size="16.8">Cx3cr1Δ</tspan></text>
<line x1="1291.3" y1="1102.5" x2="1291.3" y2="1457.5" stroke="#111" stroke-width="3.5"/>
<line x1="1289.6" y1="1455.8" x2="1468.8" y2="1455.8" stroke="#111" stroke-width="3.5"/>
<line x1="1280.3" y1="1104.1" x2="1291.3" y2="1104.1" stroke="#111" stroke-width="3.3"/>
<text x="1277.9" y="1113.3" font-size="25" text-anchor="end">800</text>
<line x1="1280.3" y1="1192" x2="1291.3" y2="1192" stroke="#111" stroke-width="3.3"/>
<text x="1277.9" y="1201.2" font-size="25" text-anchor="end">600</text>
<line x1="1280.3" y1="1279.9" x2="1291.3" y2="1279.9" stroke="#111" stroke-width="3.3"/>
<text x="1277.9" y="1289.1" font-size="25" text-anchor="end">400</text>
<line x1="1280.3" y1="1367.9" x2="1291.3" y2="1367.9" stroke="#111" stroke-width="3.3"/>
<text x="1277.9" y="1377.1" font-size="25" text-anchor="end">200</text>
<line x1="1280.3" y1="1455.8" x2="1291.3" y2="1455.8" stroke="#111" stroke-width="3.3"/>
<text x="1277.9" y="1465" font-size="25" text-anchor="end">0</text>
<line x1="1335.5" y1="1455.8" x2="1335.5" y2="1468.3" stroke="#111" stroke-width="3.3"/>
<line x1="1423.8" y1="1455.8" x2="1423.8" y2="1468.3" stroke="#111" stroke-width="3.3"/>
<circle cx="1334.6" cy="1321.1" r="3.7" fill="#111"/>
<circle cx="1329.3" cy="1343" r="3.7" fill="#111"/>
<circle cx="1340.5" cy="1347.9" r="3.7" fill="#111"/>
<circle cx="1334.6" cy="1396.6" r="3.7" fill="#111"/>
<circle cx="1422" cy="1186.6" r="3.7" fill="#EC98A0"/>
<circle cx="1422" cy="1278.2" r="3.7" fill="#EC98A0"/>
<circle cx="1422" cy="1304.5" r="3.7" fill="#EC98A0"/>
<circle cx="1422" cy="1353.2" r="3.7" fill="#EC98A0"/>
<line x1="1305.2" y1="1351.9" x2="1365.8" y2="1351.9" stroke="#111" stroke-width="3.6"/>
<line x1="1319.8" y1="1336.4" x2="1351.2" y2="1336.4" stroke="#111" stroke-width="3.4"/>
<line x1="1319.8" y1="1368" x2="1351.2" y2="1368" stroke="#111" stroke-width="3.4"/>
<line x1="1335.5" y1="1336.4" x2="1335.5" y2="1368" stroke="#111" stroke-width="3"/>
<line x1="1393.5" y1="1280.4" x2="1454.1" y2="1280.4" stroke="#EC98A0" stroke-width="3.6"/>
<line x1="1408.1" y1="1246.1" x2="1439.5" y2="1246.1" stroke="#EC98A0" stroke-width="3.4"/>
<line x1="1408.1" y1="1315.7" x2="1439.5" y2="1315.7" stroke="#EC98A0" stroke-width="3.4"/>
<line x1="1423.8" y1="1246.1" x2="1423.8" y2="1315.7" stroke="#EC98A0" stroke-width="3"/>
<line x1="1340" y1="1171.1" x2="1429.2" y2="1171.1" stroke="#111" stroke-width="2"/>
<text x="1347.6" y="1152.9" font-size="28.5" textLength="71.2" lengthAdjust="spacingAndGlyphs">p=0.1</text>
<text x="1226" y="1440.5" font-size="29" transform="rotate(-90 1226 1440.5)" textLength="344.1" lengthAdjust="spacingAndGlyphs">Ly6C<tspan dy="-9.7" font-size="16.9">pos</tspan><tspan dy="9.7"> Monocytes / µl blood</tspan></text>
<text x="1239" y="1558.3" font-size="29" transform="rotate(-30 1239 1558.3)" textLength="143" lengthAdjust="spacingAndGlyphs">Manf<tspan dy="-8.7" font-size="16.8">Cx3cr1WT</tspan></text>
<text x="1325.6" y="1550.6" font-size="29" transform="rotate(-30 1325.6 1550.6)" textLength="128" lengthAdjust="spacingAndGlyphs">Manf<tspan dy="-8.7" font-size="16.8">Cx3cr1Δ</tspan></text>
<line x1="1601" y1="1103" x2="1601" y2="1457.2" stroke="#111" stroke-width="3.5"/>
<line x1="1599.3" y1="1455.5" x2="1778.5" y2="1455.5" stroke="#111" stroke-width="3.5"/>
<line x1="1590" y1="1104.6" x2="1601" y2="1104.6" stroke="#111" stroke-width="3.3"/>
<text x="1588" y="1113.8" font-size="25" text-anchor="end">150</text>
<line x1="1590" y1="1221.6" x2="1601" y2="1221.6" stroke="#111" stroke-width="3.3"/>
<text x="1588" y="1230.8" font-size="25" text-anchor="end">100</text>
<line x1="1590" y1="1338.5" x2="1601" y2="1338.5" stroke="#111" stroke-width="3.3"/>
<text x="1588" y="1347.7" font-size="25" text-anchor="end">50</text>
<line x1="1590" y1="1455.5" x2="1601" y2="1455.5" stroke="#111" stroke-width="3.3"/>
<text x="1588" y="1464.7" font-size="25" text-anchor="end">0</text>
<line x1="1645.2" y1="1455.5" x2="1645.2" y2="1468" stroke="#111" stroke-width="3.3"/>
<line x1="1733.5" y1="1455.5" x2="1733.5" y2="1468" stroke="#111" stroke-width="3.3"/>
<circle cx="1645" cy="1219.6" r="3.7" fill="#111"/>
<circle cx="1645" cy="1287.9" r="3.7" fill="#111"/>
<circle cx="1645" cy="1344.1" r="3.7" fill="#111"/>
<circle cx="1645" cy="1372.2" r="3.7" fill="#111"/>
<circle cx="1732.1" cy="1181.1" r="3.7" fill="#EC98A0"/>
<circle cx="1732.1" cy="1242.4" r="3.7" fill="#EC98A0"/>
<circle cx="1732.1" cy="1308.1" r="3.7" fill="#EC98A0"/>
<circle cx="1732.1" cy="1383.4" r="3.7" fill="#EC98A0"/>
<line x1="1614.9" y1="1305.6" x2="1675.5" y2="1305.6" stroke="#111" stroke-width="3.6"/>
<line x1="1629.5" y1="1272.5" x2="1660.9" y2="1272.5" stroke="#111" stroke-width="3.4"/>
<line x1="1629.5" y1="1339" x2="1660.9" y2="1339" stroke="#111" stroke-width="3.4"/>
<line x1="1645.2" y1="1272.5" x2="1645.2" y2="1339" stroke="#111" stroke-width="3"/>
<line x1="1703.2" y1="1278.9" x2="1763.8" y2="1278.9" stroke="#EC98A0" stroke-width="3.6"/>
<line x1="1717.8" y1="1235.4" x2="1749.2" y2="1235.4" stroke="#EC98A0" stroke-width="3.4"/>
<line x1="1717.8" y1="1322.2" x2="1749.2" y2="1322.2" stroke="#EC98A0" stroke-width="3.4"/>
<line x1="1733.5" y1="1235.4" x2="1733.5" y2="1322.2" stroke="#EC98A0" stroke-width="3"/>
<line x1="1649.2" y1="1165.1" x2="1739.6" y2="1165.1" stroke="#111" stroke-width="2"/>
<text x="1656.6" y="1147.4" font-size="28.5" textLength="75.1" lengthAdjust="spacingAndGlyphs">p=0.6</text>
<text x="1535.6" y="1447.1" font-size="29" transform="rotate(-90 1535.6 1447.1)" textLength="352.1" lengthAdjust="spacingAndGlyphs">Ly6C<tspan dy="-9.7" font-size="16.9">neg</tspan><tspan dy="9.7"> Monocytes /  µl blood</tspan></text>
<text x="1558.7" y="1558.3" font-size="29" transform="rotate(-30 1558.7 1558.3)" textLength="143" lengthAdjust="spacingAndGlyphs">Manf<tspan dy="-8.7" font-size="16.8">Cx3cr1WT</tspan></text>
<text x="1645.4" y="1550.6" font-size="29" transform="rotate(-30 1645.4 1550.6)" textLength="128" lengthAdjust="spacingAndGlyphs">Manf<tspan dy="-8.7" font-size="16.8">Cx3cr1Δ</tspan></text>
<line x1="1892.2" y1="1098.1" x2="1892.2" y2="1456.8" stroke="#111" stroke-width="3.5"/>
<line x1="1890.5" y1="1455.1" x2="2069.7" y2="1455.1" stroke="#111" stroke-width="3.5"/>
<line x1="1881.2" y1="1099.7" x2="1892.2" y2="1099.7" stroke="#111" stroke-width="3.3"/>
<text x="1877" y="1108.9" font-size="25" text-anchor="end">1500</text>
<line x1="1881.2" y1="1218.2" x2="1892.2" y2="1218.2" stroke="#111" stroke-width="3.3"/>
<text x="1877" y="1227.4" font-size="25" text-anchor="end">1000</text>
<line x1="1881.2" y1="1336.6" x2="1892.2" y2="1336.6" stroke="#111" stroke-width="3.3"/>
<text x="1877" y="1345.8" font-size="25" text-anchor="end">500</text>
<line x1="1881.2" y1="1455.1" x2="1892.2" y2="1455.1" stroke="#111" stroke-width="3.3"/>
<text x="1877" y="1464.3" font-size="25" text-anchor="end">0</text>
<line x1="1936.4" y1="1455.1" x2="1936.4" y2="1467.6" stroke="#111" stroke-width="3.3"/>
<line x1="2024.7" y1="1455.1" x2="2024.7" y2="1467.6" stroke="#111" stroke-width="3.3"/>
<circle cx="1942.2" cy="1205.6" r="3.7" fill="#111"/>
<circle cx="1931.5" cy="1213.5" r="3.7" fill="#111"/>
<circle cx="1936.6" cy="1231.2" r="3.7" fill="#111"/>
<circle cx="1936.6" cy="1328.1" r="3.7" fill="#111"/>
<circle cx="2024.8" cy="1262.1" r="3.7" fill="#EC98A0"/>
<circle cx="2024.8" cy="1313.2" r="3.7" fill="#EC98A0"/>
<circle cx="2029.9" cy="1318.3" r="3.7" fill="#EC98A0"/>
<circle cx="2020" cy="1326.7" r="3.7" fill="#EC98A0"/>
<line x1="1906.1" y1="1244.4" x2="1966.7" y2="1244.4" stroke="#111" stroke-width="3.6"/>
<line x1="1920.7" y1="1216.3" x2="1952.1" y2="1216.3" stroke="#111" stroke-width="3.4"/>
<line x1="1920.7" y1="1273.3" x2="1952.1" y2="1273.3" stroke="#111" stroke-width="3.4"/>
<line x1="1936.4" y1="1216.3" x2="1936.4" y2="1273.3" stroke="#111" stroke-width="3"/>
<line x1="1994.4" y1="1304.8" x2="2055" y2="1304.8" stroke="#EC98A0" stroke-width="3.6"/>
<line x1="2009" y1="1290.7" x2="2040.4" y2="1290.7" stroke="#EC98A0" stroke-width="3.4"/>
<line x1="2009" y1="1320.2" x2="2040.4" y2="1320.2" stroke="#EC98A0" stroke-width="3.4"/>
<line x1="2024.7" y1="1290.7" x2="2024.7" y2="1320.2" stroke="#EC98A0" stroke-width="3"/>
<line x1="1934.3" y1="1188.2" x2="2024.3" y2="1188.2" stroke="#111" stroke-width="2"/>
<text x="1941.5" y="1170.5" font-size="28.5" textLength="72.6" lengthAdjust="spacingAndGlyphs">p=0.1</text>
<text x="1817.7" y="1399" font-size="29" transform="rotate(-90 1817.7 1399)" textLength="268" lengthAdjust="spacingAndGlyphs">Neutrophils /  µl blood</text>
<text x="1843.5" y="1558.3" font-size="29" transform="rotate(-30 1843.5 1558.3)" textLength="143" lengthAdjust="spacingAndGlyphs">Manf<tspan dy="-8.7" font-size="16.8">Cx3cr1WT</tspan></text>
<text x="1930.2" y="1550.6" font-size="29" transform="rotate(-30 1930.2 1550.6)" textLength="128" lengthAdjust="spacingAndGlyphs">Manf<tspan dy="-8.7" font-size="16.8">Cx3cr1Δ</tspan></text>
<line x1="1574.4" y1="1647.2" x2="1574.4" y2="2006" stroke="#111" stroke-width="3.5"/>
<line x1="1572.7" y1="2004.3" x2="1751.9" y2="2004.3" stroke="#111" stroke-width="3.5"/>
<line x1="1563.4" y1="1648.8" x2="1574.4" y2="1648.8" stroke="#111" stroke-width="3.3"/>
<text x="1562.2" y="1658" font-size="25" text-anchor="end">80</text>
<line x1="1563.4" y1="1737.7" x2="1574.4" y2="1737.7" stroke="#111" stroke-width="3.3"/>
<text x="1562.2" y="1746.9" font-size="25" text-anchor="end">60</text>
<line x1="1563.4" y1="1826.5" x2="1574.4" y2="1826.5" stroke="#111" stroke-width="3.3"/>
<text x="1562.2" y="1835.8" font-size="25" text-anchor="end">40</text>
<line x1="1563.4" y1="1915.4" x2="1574.4" y2="1915.4" stroke="#111" stroke-width="3.3"/>
<text x="1562.2" y="1924.6" font-size="25" text-anchor="end">20</text>
<line x1="1563.4" y1="2004.3" x2="1574.4" y2="2004.3" stroke="#111" stroke-width="3.3"/>
<text x="1562.2" y="2013.5" font-size="25" text-anchor="end">0</text>
<line x1="1618.6" y1="2004.3" x2="1618.6" y2="2016.8" stroke="#111" stroke-width="3.3"/>
<line x1="1706.9" y1="2004.3" x2="1706.9" y2="2016.8" stroke="#111" stroke-width="3.3"/>
<circle cx="1618.9" cy="1681.9" r="3.7" fill="#111"/>
<circle cx="1618.9" cy="1819.2" r="3.7" fill="#111"/>
<circle cx="1618.9" cy="1876.7" r="3.7" fill="#111"/>
<circle cx="1707.3" cy="1716.3" r="3.7" fill="#EC98A0"/>
<circle cx="1707.3" cy="1764.7" r="3.7" fill="#EC98A0"/>
<circle cx="1707.3" cy="1796.9" r="3.7" fill="#EC98A0"/>
<circle cx="1707.3" cy="1910.2" r="3.7" fill="#EC98A0"/>
<line x1="1588.3" y1="1792.6" x2="1648.9" y2="1792.6" stroke="#111" stroke-width="3.6"/>
<line x1="1602.9" y1="1735.1" x2="1634.3" y2="1735.1" stroke="#111" stroke-width="3.4"/>
<line x1="1602.9" y1="1850.5" x2="1634.3" y2="1850.5" stroke="#111" stroke-width="3.4"/>
<line x1="1618.6" y1="1735.1" x2="1618.6" y2="1850.5" stroke="#111" stroke-width="3"/>
<line x1="1676.6" y1="1797.4" x2="1737.2" y2="1797.4" stroke="#EC98A0" stroke-width="3.6"/>
<line x1="1691.2" y1="1756" x2="1722.6" y2="1756" stroke="#EC98A0" stroke-width="3.4"/>
<line x1="1691.2" y1="1838.3" x2="1722.6" y2="1838.3" stroke="#EC98A0" stroke-width="3.4"/>
<line x1="1706.9" y1="1756" x2="1706.9" y2="1838.3" stroke="#EC98A0" stroke-width="3"/>
<line x1="1628.4" y1="1666.2" x2="1718.2" y2="1666.2" stroke="#111" stroke-width="2"/>
<text x="1634.5" y="1648.8" font-size="28.5" textLength="76.1" lengthAdjust="spacingAndGlyphs">p=0.9</text>
<text x="1509.9" y="1923.9" font-size="26.5" transform="rotate(-90 1509.9 1923.9)" textLength="196.4" lengthAdjust="spacingAndGlyphs">%Ly6C<tspan dy="-8.8" font-size="15.4">Low</tspan><tspan dy="8.8"> EdU</tspan><tspan dy="-8.8" font-size="15.4">pos</tspan></text>
<text x="1516.2" y="2111.2" font-size="29" transform="rotate(-30 1516.2 2111.2)" textLength="143" lengthAdjust="spacingAndGlyphs">Manf<tspan dy="-8.7" font-size="16.8">Cx3cr1WT</tspan></text>
<text x="1601.2" y="2102.9" font-size="29" transform="rotate(-30 1601.2 2102.9)" textLength="128" lengthAdjust="spacingAndGlyphs">Manf<tspan dy="-8.7" font-size="16.8">Cx3cr1Δ</tspan></text>
<line x1="1889.9" y1="1647.2" x2="1889.9" y2="2006" stroke="#111" stroke-width="3.5"/>
<line x1="1888.2" y1="2004.3" x2="2067.4" y2="2004.3" stroke="#111" stroke-width="3.5"/>
<line x1="1878.9" y1="1648.8" x2="1889.9" y2="1648.8" stroke="#111" stroke-width="3.3"/>
<text x="1878.1" y="1658" font-size="25" text-anchor="end">80</text>
<line x1="1878.9" y1="1737.7" x2="1889.9" y2="1737.7" stroke="#111" stroke-width="3.3"/>
<text x="1878.1" y="1746.9" font-size="25" text-anchor="end">60</text>
<line x1="1878.9" y1="1826.5" x2="1889.9" y2="1826.5" stroke="#111" stroke-width="3.3"/>
<text x="1878.1" y="1835.8" font-size="25" text-anchor="end">40</text>
<line x1="1878.9" y1="1915.4" x2="1889.9" y2="1915.4" stroke="#111" stroke-width="3.3"/>
<text x="1878.1" y="1924.6" font-size="25" text-anchor="end">20</text>
<line x1="1878.9" y1="2004.3" x2="1889.9" y2="2004.3" stroke="#111" stroke-width="3.3"/>
<text x="1878.1" y="2013.5" font-size="25" text-anchor="end">0</text>
<line x1="1934.1" y1="2004.3" x2="1934.1" y2="2016.8" stroke="#111" stroke-width="3.3"/>
<line x1="2022.4" y1="2004.3" x2="2022.4" y2="2016.8" stroke="#111" stroke-width="3.3"/>
<circle cx="1933.5" cy="1699.3" r="3.7" fill="#111"/>
<circle cx="1928.2" cy="1803.5" r="3.7" fill="#111"/>
<circle cx="1939.1" cy="1799.1" r="3.7" fill="#111"/>
<circle cx="2021.9" cy="1731.6" r="3.7" fill="#EC98A0"/>
<circle cx="2021.9" cy="1749.9" r="3.7" fill="#EC98A0"/>
<circle cx="2016.2" cy="1826.6" r="3.7" fill="#EC98A0"/>
<circle cx="2027.6" cy="1824" r="3.7" fill="#EC98A0"/>
<line x1="1903.8" y1="1766.9" x2="1964.4" y2="1766.9" stroke="#111" stroke-width="3.6"/>
<line x1="1918.4" y1="1733.3" x2="1949.8" y2="1733.3" stroke="#111" stroke-width="3.4"/>
<line x1="1918.4" y1="1801.3" x2="1949.8" y2="1801.3" stroke="#111" stroke-width="3.4"/>
<line x1="1934.1" y1="1733.3" x2="1934.1" y2="1801.3" stroke="#111" stroke-width="3"/>
<line x1="1992.1" y1="1783" x2="2052.7" y2="1783" stroke="#EC98A0" stroke-width="3.6"/>
<line x1="2006.7" y1="1758.2" x2="2038.1" y2="1758.2" stroke="#EC98A0" stroke-width="3.4"/>
<line x1="2006.7" y1="1807.8" x2="2038.1" y2="1807.8" stroke="#EC98A0" stroke-width="3.4"/>
<line x1="2022.4" y1="1758.2" x2="2022.4" y2="1807.8" stroke="#EC98A0" stroke-width="3"/>
<line x1="1930.4" y1="1679.3" x2="2020.6" y2="1679.3" stroke="#111" stroke-width="2"/>
<text x="1937.3" y="1661.9" font-size="28.5" textLength="74.8" lengthAdjust="spacingAndGlyphs">p=0.7</text>
<text x="1831.5" y="1914.3" font-size="26.5" transform="rotate(-90 1831.5 1914.3)" textLength="201.1" lengthAdjust="spacingAndGlyphs">%Ly6C<tspan dy="-8.8" font-size="15.4">High</tspan><tspan dy="8.8"> EdU</tspan><tspan dy="-8.8" font-size="15.4">pos</tspan></text>
<text x="1832.9" y="2111.2" font-size="29" transform="rotate(-30 1832.9 2111.2)" textLength="143" lengthAdjust="spacingAndGlyphs">Manf<tspan dy="-8.7" font-size="16.8">Cx3cr1WT</tspan></text>
<text x="1929.6" y="2102.9" font-size="29" transform="rotate(-30 1929.6 2102.9)" textLength="128" lengthAdjust="spacingAndGlyphs">Manf<tspan dy="-8.7" font-size="16.8">Cx3cr1Δ</tspan></text>
<line x1="1556.9" y1="2235.6" x2="1556.9" y2="2594.9" stroke="#111" stroke-width="3.5"/>
<line x1="1555.2" y1="2593.2" x2="1734.4" y2="2593.2" stroke="#111" stroke-width="3.5"/>
<line x1="1545.9" y1="2237.2" x2="1556.9" y2="2237.2" stroke="#111" stroke-width="3.3"/>
<text x="1544" y="2246.4" font-size="25" text-anchor="end">15</text>
<line x1="1545.9" y1="2355.9" x2="1556.9" y2="2355.9" stroke="#111" stroke-width="3.3"/>
<text x="1544" y="2365.1" font-size="25" text-anchor="end">10</text>
<line x1="1545.9" y1="2474.5" x2="1556.9" y2="2474.5" stroke="#111" stroke-width="3.3"/>
<text x="1544" y="2483.7" font-size="25" text-anchor="end">5</text>
<line x1="1545.9" y1="2593.2" x2="1556.9" y2="2593.2" stroke="#111" stroke-width="3.3"/>
<text x="1544" y="2602.4" font-size="25" text-anchor="end">0</text>
<line x1="1601.1" y1="2593.2" x2="1601.1" y2="2605.7" stroke="#111" stroke-width="3.3"/>
<line x1="1689.4" y1="2593.2" x2="1689.4" y2="2605.7" stroke="#111" stroke-width="3.3"/>
<circle cx="1601" cy="2451.6" r="3.7" fill="#111"/>
<circle cx="1601" cy="2468" r="3.7" fill="#111"/>
<circle cx="1601" cy="2498.2" r="3.7" fill="#111"/>
<circle cx="1601" cy="2534.8" r="3.7" fill="#111"/>
<circle cx="1601" cy="2548" r="3.7" fill="#111"/>
<circle cx="1606.2" cy="2557.6" r="3.7" fill="#111"/>
<circle cx="1596" cy="2564.4" r="3.7" fill="#111"/>
<circle cx="1689.7" cy="2353.6" r="3.7" fill="#EC98A0"/>
<circle cx="1689.7" cy="2522" r="3.7" fill="#EC98A0"/>
<circle cx="1684.5" cy="2556.7" r="3.7" fill="#EC98A0"/>
<circle cx="1695.1" cy="2557.6" r="3.7" fill="#EC98A0"/>
<circle cx="1689.7" cy="2575.9" r="3.7" fill="#EC98A0"/>
<line x1="1570.8" y1="2517.9" x2="1631.4" y2="2517.9" stroke="#111" stroke-width="3.6"/>
<line x1="1585.4" y1="2500.9" x2="1616.8" y2="2500.9" stroke="#111" stroke-width="3.4"/>
<line x1="1585.4" y1="2534.8" x2="1616.8" y2="2534.8" stroke="#111" stroke-width="3.4"/>
<line x1="1601.1" y1="2500.9" x2="1601.1" y2="2534.8" stroke="#111" stroke-width="3"/>
<line x1="1659.1" y1="2513.2" x2="1719.7" y2="2513.2" stroke="#EC98A0" stroke-width="3.6"/>
<line x1="1673.7" y1="2472.7" x2="1705.1" y2="2472.7" stroke="#EC98A0" stroke-width="3.4"/>
<line x1="1673.7" y1="2554" x2="1705.1" y2="2554" stroke="#EC98A0" stroke-width="3.4"/>
<line x1="1689.4" y1="2472.7" x2="1689.4" y2="2554" stroke="#EC98A0" stroke-width="3"/>
<line x1="1600.7" y1="2330.3" x2="1691.9" y2="2330.3" stroke="#111" stroke-width="2"/>
<text x="1609.3" y="2311.1" font-size="28.5" textLength="74.1" lengthAdjust="spacingAndGlyphs">p=0.9</text>
<text x="1509.8" y="2594.7" font-size="28.8" transform="rotate(-90 1509.8 2594.7)" textLength="357.1" lengthAdjust="spacingAndGlyphs">% F4/80<tspan dy="-9.6" font-size="16.8">pos</tspan><tspan dy="9.6">Ly6C</tspan><tspan dy="-9.6" font-size="16.8">Low</tspan><tspan dy="9.6"> Apopxin</tspan><tspan dy="-9.6" font-size="16.8">pos</tspan></text>
<text x="1525.9" y="2702.5" font-size="29" transform="rotate(-30 1525.9 2702.5)" textLength="143" lengthAdjust="spacingAndGlyphs">Manf<tspan dy="-8.7" font-size="16.8">Cx3cr1WT</tspan></text>
<text x="1608.9" y="2691.6" font-size="29" transform="rotate(-30 1608.9 2691.6)" textLength="128" lengthAdjust="spacingAndGlyphs">Manf<tspan dy="-8.7" font-size="16.8">Cx3cr1Δ</tspan></text>
<text transform="translate(-0.6 51.2) scale(0.941 1)" font-size="64" font-weight="bold" fill="#231f20">a</text>
<text transform="translate(828.2 51) scale(1.147 1)" font-size="64" font-weight="bold" fill="#231f20">b</text>
<text transform="translate(1190.7 51) scale(0.913 1)" font-size="64" font-weight="bold" fill="#231f20">c</text>
<text transform="translate(1544 51) scale(1.147 1)" font-size="64" font-weight="bold" fill="#231f20">d</text>
<text transform="translate(-0.9 543.6) scale(1.074 1)" font-size="64" font-weight="bold" fill="#231f20">e</text>
<text transform="translate(429.4 543.3) scale(1.175 1)" font-size="64" font-weight="bold" fill="#231f20">f</text>
<text transform="translate(828.5 543.3) scale(1.086 1)" font-size="64" font-weight="bold" fill="#231f20">h</text>
<text transform="translate(-0.7 1090.5) scale(1.078 1)" font-size="64" font-weight="bold" fill="#231f20">g</text>
<text transform="translate(828.4 1089.8) scale(1.219 1)" font-size="64" font-weight="bold" fill="#231f20">i</text>
<text transform="translate(1.3 1644) scale(1.330 1)" font-size="64" font-weight="bold" fill="#231f20">j</text>
<text transform="translate(1361.8 1642.7) scale(1.161 1)" font-size="64" font-weight="bold" fill="#231f20">k</text>
<text transform="translate(-1.6 2212.7) scale(1.253 1)" font-size="64" font-weight="bold" fill="#231f20">l</text>
<text transform="translate(1364.3 2213.4) scale(1.067 1)" font-size="64" font-weight="bold" fill="#231f20">m</text>
<g transform="translate(0 0)">
<path d="M81.4 246.2C82.3 244.7 85.0 241.6 87.4 239.0C89.8 236.5 93.1 233.3 95.7 230.7C98.3 228.2 100.8 225.6 102.9 223.8C104.9 222.0 106.6 220.9 108.2 219.8C109.8 218.6 110.9 217.4 112.4 216.9C113.9 216.4 116.0 216.5 117.1 217.0C118.3 217.5 118.3 219.6 119.3 219.8C120.3 219.9 121.1 218.5 123.1 217.9C125.1 217.2 128.1 216.4 131.4 216.0C134.8 215.5 139.4 215.0 143.3 215.0C147.3 215.0 151.7 215.3 155.2 215.8C158.8 216.4 161.8 217.1 164.8 218.3C167.7 219.5 170.5 221.1 173.1 223.1C175.7 225.1 178.4 227.7 180.2 230.1C182.1 232.6 183.3 235.4 184.4 237.9C185.5 240.3 186.4 242.9 186.8 245.0C187.1 247.1 185.3 249.6 186.4 250.6C187.5 251.5 191.2 250.4 193.3 250.7C195.5 251.1 197.5 251.6 199.3 252.7C201.1 253.9 202.5 256.0 204.0 257.5C205.6 259.0 207.0 261.1 208.8 262.0C210.6 263.0 213.1 263.1 214.8 263.3C216.4 263.5 217.6 262.8 218.9 263.2C220.2 263.7 221.0 265.3 222.5 266.0C224.0 266.6 225.6 267.1 227.9 267.4C230.1 267.7 236.3 267.4 236.2 267.6C236.1 267.9 229.8 268.8 227.3 268.8C224.7 268.8 222.6 268.5 220.7 267.9C218.8 267.3 217.6 265.8 216.0 265.2C214.3 264.7 212.2 265.2 210.6 264.8C209.0 264.4 207.7 263.8 206.2 262.9C204.7 261.9 203.2 259.8 201.7 258.8C200.1 257.9 198.7 257.4 196.9 257.1C195.1 256.9 193.0 256.8 191.0 257.1C188.9 257.5 186.1 257.7 184.5 259.0C183.0 260.4 182.8 263.7 181.7 265.5C180.6 267.3 179.2 268.7 177.9 270.0C176.5 271.3 174.4 272.1 173.7 273.1C173.0 274.1 174.1 275.4 173.7 276.2C173.3 277.0 172.4 277.7 171.3 277.9C170.2 278.0 168.2 277.1 167.1 276.9C166.1 276.7 165.3 276.3 164.8 276.9C164.2 277.5 164.5 279.3 163.8 280.2C163.1 281.2 162.0 282.1 160.6 282.6C159.2 283.1 156.6 283.5 155.2 283.1C153.9 282.7 152.9 281.6 152.4 280.2C151.9 278.8 152.4 276.4 152.1 274.8C151.9 273.1 151.6 271.3 151.0 270.5C150.3 269.6 149.4 269.9 148.1 269.5C146.8 269.2 145.1 268.5 143.3 268.3C141.5 268.2 139.4 268.5 137.4 268.8C135.4 269.1 132.9 270.0 131.4 270.2C130.0 270.5 129.2 269.5 128.8 270.2C128.4 271.0 129.4 273.5 129.0 274.5C128.7 275.5 128.4 275.8 126.7 276.2C124.9 276.6 120.2 277.0 118.6 276.9C117.0 276.8 116.8 276.4 117.1 275.7C117.5 275.0 119.8 274.0 120.7 272.9C121.7 271.7 123.1 270.0 122.9 269.0C122.7 268.1 120.9 267.9 119.5 267.4C118.2 266.8 116.7 266.7 114.8 265.7C112.8 264.8 110.2 263.1 107.6 261.7C105.0 260.2 102.1 258.5 99.3 256.9C96.5 255.3 93.3 253.4 91.0 252.1C88.6 250.9 86.5 250.2 85.0 249.5C83.5 248.8 82.7 248.7 82.1 248.1C81.5 247.5 80.6 247.7 81.4 246.2Z" fill="#BEBDBF" stroke="#231f20" stroke-width="1.3"/>
<path d="M116.5 234.5C116.5 233.0 117.9 230.4 119.2 228.9C120.5 227.4 122.4 226.3 124.3 225.5C126.1 224.6 128.5 224.0 130.2 223.9C132.0 223.8 133.9 224.3 135.0 225.0C136.1 225.7 136.4 226.9 136.5 228.3C136.7 229.8 136.4 232.0 135.7 233.7C135.0 235.4 133.4 237.2 132.1 238.5C130.9 239.7 129.4 240.6 128.1 241.0C126.8 241.3 125.7 241.0 124.3 240.5C122.9 240.0 120.8 239.1 119.5 238.1C118.2 237.1 116.6 236.1 116.5 234.5Z" fill="#BEBDBF" stroke="#231f20" stroke-width="1.3"/>
<path d="M131.4 239.0C130.9 240.1 129.8 243.7 128.5 245.6C127.1 247.5 125.2 249.4 123.1 250.7C121.0 252.0 118.1 252.8 116.0 253.3C113.8 253.8 111.0 253.7 110.0 253.8" fill="none" stroke="#231f20" stroke-width="1.3"/>
<ellipse cx="104.6" cy="237.3" rx="3.2" ry="1.5" transform="rotate(-15 104.6 237.3)" fill="#231f20"/>
<circle cx="83.6" cy="246.4" r="1.8" fill="none" stroke="#231f20" stroke-width="1"/>
<line x1="87.6" y1="250.7" x2="98.7" y2="265.8" stroke="#231f20" stroke-width="1.1"/>
<line x1="89.2" y1="251.2" x2="101.7" y2="263.5" stroke="#231f20" stroke-width="1.1"/>
<line x1="90.7" y1="251.9" x2="113.8" y2="268.8" stroke="#231f20" stroke-width="1.1"/>
<line x1="88.6" y1="251" x2="95.7" y2="262.3" stroke="#231f20" stroke-width="1.1"/>
</g>
<g transform="translate(546 1.2)">
<path d="M81.4 246.2C82.3 244.7 85.0 241.6 87.4 239.0C89.8 236.5 93.1 233.3 95.7 230.7C98.3 228.2 100.8 225.6 102.9 223.8C104.9 222.0 106.6 220.9 108.2 219.8C109.8 218.6 110.9 217.4 112.4 216.9C113.9 216.4 116.0 216.5 117.1 217.0C118.3 217.5 118.3 219.6 119.3 219.8C120.3 219.9 121.1 218.5 123.1 217.9C125.1 217.2 128.1 216.4 131.4 216.0C134.8 215.5 139.4 215.0 143.3 215.0C147.3 215.0 151.7 215.3 155.2 215.8C158.8 216.4 161.8 217.1 164.8 218.3C167.7 219.5 170.5 221.1 173.1 223.1C175.7 225.1 178.4 227.7 180.2 230.1C182.1 232.6 183.3 235.4 184.4 237.9C185.5 240.3 186.4 242.9 186.8 245.0C187.1 247.1 185.3 249.6 186.4 250.6C187.5 251.5 191.2 250.4 193.3 250.7C195.5 251.1 197.5 251.6 199.3 252.7C201.1 253.9 202.5 256.0 204.0 257.5C205.6 259.0 207.0 261.1 208.8 262.0C210.6 263.0 213.1 263.1 214.8 263.3C216.4 263.5 217.6 262.8 218.9 263.2C220.2 263.7 221.0 265.3 222.5 266.0C224.0 266.6 225.6 267.1 227.9 267.4C230.1 267.7 236.3 267.4 236.2 267.6C236.1 267.9 229.8 268.8 227.3 268.8C224.7 268.8 222.6 268.5 220.7 267.9C218.8 267.3 217.6 265.8 216.0 265.2C214.3 264.7 212.2 265.2 210.6 264.8C209.0 264.4 207.7 263.8 206.2 262.9C204.7 261.9 203.2 259.8 201.7 258.8C200.1 257.9 198.7 257.4 196.9 257.1C195.1 256.9 193.0 256.8 191.0 257.1C188.9 257.5 186.1 257.7 184.5 259.0C183.0 260.4 182.8 263.7 181.7 265.5C180.6 267.3 179.2 268.7 177.9 270.0C176.5 271.3 174.4 272.1 173.7 273.1C173.0 274.1 174.1 275.4 173.7 276.2C173.3 277.0 172.4 277.7 171.3 277.9C170.2 278.0 168.2 277.1 167.1 276.9C166.1 276.7 165.3 276.3 164.8 276.9C164.2 277.5 164.5 279.3 163.8 280.2C163.1 281.2 162.0 282.1 160.6 282.6C159.2 283.1 156.6 283.5 155.2 283.1C153.9 282.7 152.9 281.6 152.4 280.2C151.9 278.8 152.4 276.4 152.1 274.8C151.9 273.1 151.6 271.3 151.0 270.5C150.3 269.6 149.4 269.9 148.1 269.5C146.8 269.2 145.1 268.5 143.3 268.3C141.5 268.2 139.4 268.5 137.4 268.8C135.4 269.1 132.9 270.0 131.4 270.2C130.0 270.5 129.2 269.5 128.8 270.2C128.4 271.0 129.4 273.5 129.0 274.5C128.7 275.5 128.4 275.8 126.7 276.2C124.9 276.6 120.2 277.0 118.6 276.9C117.0 276.8 116.8 276.4 117.1 275.7C117.5 275.0 119.8 274.0 120.7 272.9C121.7 271.7 123.1 270.0 122.9 269.0C122.7 268.1 120.9 267.9 119.5 267.4C118.2 266.8 116.7 266.7 114.8 265.7C112.8 264.8 110.2 263.1 107.6 261.7C105.0 260.2 102.1 258.5 99.3 256.9C96.5 255.3 93.3 253.4 91.0 252.1C88.6 250.9 86.5 250.2 85.0 249.5C83.5 248.8 82.7 248.7 82.1 248.1C81.5 247.5 80.6 247.7 81.4 246.2Z" fill="#F29FA3" stroke="#231f20" stroke-width="1.3"/>
<path d="M116.5 234.5C116.5 233.0 117.9 230.4 119.2 228.9C120.5 227.4 122.4 226.3 124.3 225.5C126.1 224.6 128.5 224.0 130.2 223.9C132.0 223.8 133.9 224.3 135.0 225.0C136.1 225.7 136.4 226.9 136.5 228.3C136.7 229.8 136.4 232.0 135.7 233.7C135.0 235.4 133.4 237.2 132.1 238.5C130.9 239.7 129.4 240.6 128.1 241.0C126.8 241.3 125.7 241.0 124.3 240.5C122.9 240.0 120.8 239.1 119.5 238.1C118.2 237.1 116.6 236.1 116.5 234.5Z" fill="#F29FA3" stroke="#231f20" stroke-width="1.3"/>
<path d="M131.4 239.0C130.9 240.1 129.8 243.7 128.5 245.6C127.1 247.5 125.2 249.4 123.1 250.7C121.0 252.0 118.1 252.8 116.0 253.3C113.8 253.8 111.0 253.7 110.0 253.8" fill="none" stroke="#231f20" stroke-width="1.3"/>
<ellipse cx="104.6" cy="237.3" rx="3.2" ry="1.5" transform="rotate(-15 104.6 237.3)" fill="#231f20"/>
<circle cx="83.6" cy="246.4" r="1.8" fill="none" stroke="#231f20" stroke-width="1"/>
<line x1="87.6" y1="250.7" x2="98.7" y2="265.8" stroke="#231f20" stroke-width="1.1"/>
<line x1="89.2" y1="251.2" x2="101.7" y2="263.5" stroke="#231f20" stroke-width="1.1"/>
<line x1="90.7" y1="251.9" x2="113.8" y2="268.8" stroke="#231f20" stroke-width="1.1"/>
<line x1="88.6" y1="251" x2="95.7" y2="262.3" stroke="#231f20" stroke-width="1.1"/>
</g>
<text x="68.1" y="162.9" font-size="28" textLength="137" lengthAdjust="spacingAndGlyphs">Cx3cr1<tspan dy="-9.3" font-size="16.3">CreER</tspan><tspan dy="9.3">,</tspan></text>
<text x="92.2" y="199.8" font-size="28" textLength="90" lengthAdjust="spacingAndGlyphs">Manf<tspan dy="-9.3" font-size="16.3">fl/fl</tspan></text>
<text x="234.4" y="156" font-size="27.6" textLength="131" lengthAdjust="spacingAndGlyphs">Tamoxifen</text>
<text x="284.2" y="191" font-size="27.6" textLength="37.5" lengthAdjust="spacingAndGlyphs">i.p.</text>
<text x="386.5" y="159" font-size="27.6" textLength="76" lengthAdjust="spacingAndGlyphs">Injury</text>
<text x="455.4" y="210.5" font-size="25.7" text-anchor="middle">1</text>
<text x="495" y="210.5" font-size="25.7" text-anchor="middle">2</text>
<text x="530.3" y="210.5" font-size="25.7" text-anchor="middle">3</text>
<text x="460.5" y="344" font-size="29" textLength="102" lengthAdjust="spacingAndGlyphs">Analysis</text>
<text x="627.7" y="200" font-size="28.5" textLength="127.5" lengthAdjust="spacingAndGlyphs">Manf<tspan dy="-9.5" font-size="16.6">Cx3cr1Δ</tspan></text>
<line x1="234" y1="237.9" x2="568" y2="237.9" stroke="#111" stroke-width="2"/>
<path d="M595.2 237.9L563.1 220L571.5 237.9L563.1 255.5Z" fill="#111"/>
<line x1="264.1" y1="221.3" x2="264.1" y2="253.9" stroke="#111" stroke-width="2"/>
<line x1="285.4" y1="221.3" x2="285.4" y2="253.9" stroke="#111" stroke-width="2"/>
<line x1="308.4" y1="221.3" x2="308.4" y2="253.9" stroke="#111" stroke-width="2"/>
<line x1="331.6" y1="221.3" x2="331.6" y2="253.9" stroke="#111" stroke-width="2"/>
<line x1="418.2" y1="221.3" x2="418.2" y2="253.9" stroke="#111" stroke-width="2"/>
<line x1="456.2" y1="221.3" x2="456.2" y2="253.9" stroke="#111" stroke-width="2"/>
<line x1="494.8" y1="221.3" x2="494.8" y2="253.9" stroke="#111" stroke-width="2"/>
<line x1="533" y1="221.3" x2="533" y2="253.9" stroke="#111" stroke-width="2"/>
<line x1="264" y1="204.6" x2="332" y2="204.6" stroke="#111" stroke-width="2" stroke-dasharray="3.7 7.5 7 6.8 7 6.5 7.5 6.5 7.5 6.5 7.5 20"/>
<path d="M347 204.6L328.8 197.1L332.5 204.6L328.8 212.1Z" fill="#111"/>
<line x1="418.2" y1="171" x2="418.2" y2="196" stroke="#111" stroke-width="1.5"/>
<path d="M418.2 201.4L414 192.3L418.2 195.5L422.5 192.3Z" fill="#111"/>
<line x1="533" y1="270" x2="533" y2="294.5" stroke="#111" stroke-width="1.5"/>
<path d="M533 264.5L528.8 273.6L533 270.4L537.2 273.6Z" fill="#111"/>
<clipPath id="c1"><rect x="156.4" y="1114.8" width="257.2" height="256.4"/></clipPath>
<g clip-path="url(#c1)">
<path d="M224.9 1253.3 240.9 1253.9 259.4 1257.1 273.9 1255.8 279.4 1255.8 284.4 1256.8 288.1 1258.8 289.9 1261.8 289.4 1265.8 281.8 1276.3 280.3 1284.3 278.2 1289.3 275.3 1293.3 271.4 1297.1 266.9 1300.4 261.4 1303.6 248.9 1308.5 229.9 1313.5 214.9 1315.2 202.4 1314.2 190.9 1311.0 180.1 1305.3 175.5 1301.8 172.0 1298.3 169.5 1294.8 167.9 1291.3 167.1 1287.8 167.2 1283.8 168.2 1279.8 170.0 1276.3 172.6 1272.8 176.4 1269.1 185.4 1263.0 197.4 1258.0 210.9 1254.7 224.9 1253.3 M273.0 1260.3 277.4 1260.4 280.9 1261.8 282.1 1263.8 281.5 1266.3 277.9 1269.9 268.2 1275.3 267.3 1277.3 266.7 1284.8 264.4 1289.8 259.4 1294.6 252.4 1298.1 241.9 1301.3 225.4 1307.5 217.4 1308.9 209.9 1308.9 200.9 1307.1 193.4 1303.7 187.0 1298.3 183.4 1292.3 182.6 1288.8 182.7 1284.8 183.8 1280.8 185.8 1277.3 188.9 1273.8 192.4 1271.0 201.9 1266.1 211.4 1263.6 221.4 1262.8 256.4 1265.2 259.4 1264.6 267.4 1261.4 273.0 1260.3 M270.0 1264.3 272.9 1263.9 274.9 1264.4 275.5 1265.8 274.5 1267.3 269.4 1269.4 266.4 1269.5 265.1 1268.8 265.1 1267.8 266.2 1266.3 270.0 1264.3 M214.6 1267.3 221.4 1267.1 233.4 1268.2 246.9 1267.9 259.4 1270.5 261.4 1272.2 263.0 1278.3 263.3 1282.3 262.5 1285.8 259.6 1290.3 254.4 1294.0 249.9 1295.6 239.4 1297.9 224.4 1304.4 218.4 1305.7 212.4 1306.0 206.9 1305.4 201.4 1303.8 194.9 1300.2 190.1 1294.8 188.1 1288.8 188.9 1282.8 192.4 1277.2 198.4 1272.3 205.9 1269.0 214.6 1267.3 M217.0 1270.3 231.4 1271.9 244.9 1270.2 248.9 1270.5 252.9 1271.5 256.5 1273.3 259.1 1276.3 260.5 1280.8 260.1 1284.8 257.4 1289.1 252.9 1292.1 248.4 1293.6 236.9 1295.3 227.9 1300.1 222.9 1302.1 218.4 1303.1 213.4 1303.5 208.9 1303.2 204.4 1302.1 198.1 1298.8 193.9 1294.3 192.1 1288.8 192.9 1283.3 196.2 1278.3 201.9 1274.0 208.9 1271.3 217.0 1270.3 M243.4 1272.3 247.9 1272.3 252.4 1273.5 255.4 1275.4 257.6 1278.3 258.4 1281.8 257.6 1285.3 255.4 1288.3 251.4 1290.8 246.4 1292.0 235.9 1292.5 223.9 1299.4 218.9 1300.9 213.9 1301.4 207.9 1300.8 202.6 1298.8 198.6 1295.8 196.0 1291.8 195.3 1286.8 196.8 1282.3 200.4 1278.2 205.9 1274.9 210.9 1273.4 216.9 1272.8 231.9 1275.0 243.4 1272.3 M244.3 1273.8 247.9 1273.8 251.4 1274.8 254.4 1276.8 256.0 1279.3 256.5 1282.3 255.6 1285.3 253.5 1287.8 250.4 1289.5 245.4 1290.5 236.9 1289.7 234.4 1290.0 223.8 1297.3 219.4 1298.9 214.4 1299.6 208.9 1299.1 204.4 1297.5 200.8 1294.8 198.5 1291.3 197.9 1286.8 199.3 1282.8 202.5 1279.3 207.4 1276.5 212.4 1275.2 217.9 1274.9 231.9 1278.0 240.4 1274.7 244.3 1273.8 M243.2 1275.3 246.4 1275.0 249.9 1275.6 252.4 1277.0 254.4 1279.3 255.0 1281.8 254.4 1284.5 252.6 1286.8 249.9 1288.4 243.9 1289.1 235.4 1286.9 233.4 1286.8 224.1 1295.3 219.9 1297.2 214.9 1298.1 210.4 1297.9 205.9 1296.4 202.4 1293.9 200.4 1290.8 200.0 1286.8 201.3 1283.3 204.4 1280.0 208.9 1277.7 213.9 1276.6 219.4 1276.8 223.4 1277.8 231.9 1281.4 233.9 1280.7 239.2 1276.8 243.2 1275.3 M243.7 1276.3 248.9 1276.4 252.6 1278.8 253.6 1280.8 253.7 1282.8 252.9 1284.8 251.4 1286.3 248.4 1287.8 244.4 1288.1 240.4 1287.0 237.2 1284.8 236.4 1282.8 237.4 1280.3 240.1 1277.8 243.7 1276.3 M214.9 1277.8 220.9 1278.6 225.9 1281.0 228.9 1284.3 228.7 1287.8 225.4 1292.6 220.4 1295.7 214.4 1297.0 208.4 1296.1 205.0 1294.3 202.7 1291.8 201.6 1288.8 202.1 1285.3 204.0 1282.3 206.9 1280.0 210.9 1278.4 214.9 1277.8 M243.5 1277.8 247.4 1277.5 250.9 1279.1 252.1 1281.8 250.9 1284.8 248.9 1286.2 245.9 1286.8 242.9 1286.3 240.4 1284.8 239.3 1282.8 239.7 1280.8 241.4 1278.9 243.5 1277.8 M211.6 1279.8 215.4 1279.3 218.9 1279.7 221.9 1280.8 224.6 1282.8 225.9 1284.8 226.2 1286.8 225.5 1289.3 223.6 1291.8 219.4 1294.5 214.4 1295.5 209.4 1294.8 205.4 1292.3 203.6 1288.8 204.2 1285.3 207.2 1281.8 211.6 1279.8 M244.6 1279.3 247.4 1279.2 249.4 1280.3 250.0 1282.3 249.3 1283.8 247.9 1284.7 245.9 1285.1 242.7 1283.8 242.1 1282.8 242.2 1281.3 244.6 1279.3 M212.7 1281.3 218.4 1281.5 220.9 1282.6 222.7 1284.3 223.5 1286.3 223.3 1288.3 220.7 1291.8 217.4 1293.4 213.4 1293.9 209.4 1292.9 206.8 1290.8 205.8 1288.3 206.5 1285.3 209.0 1282.8 212.7 1281.3 M212.6 1283.8 215.9 1283.5 218.9 1284.8 220.1 1287.3 218.9 1289.8 216.9 1291.1 214.4 1291.6 212.2 1291.3 210.3 1290.3 209.2 1288.8 209.2 1286.8 210.4 1285.0 212.6 1283.8" fill="none" stroke="#5a5a5a" stroke-width="0.8"/>
</g>
<clipPath id="c2"><rect x="156.4" y="1114.8" width="257.2" height="256.4"/></clipPath>
<g clip-path="url(#c2)">
<path d="M322.4 1233.3 328.9 1233.3 334.9 1234.4 352.4 1240.9 355.9 1243.1 358.9 1246.1 363.7 1254.3 366.0 1261.8 367.3 1269.8 367.5 1278.3 366.6 1287.8 364.7 1296.8 361.7 1304.8 358.4 1309.9 354.4 1313.1 352.4 1313.6 349.9 1313.4 340.3 1308.3 325.4 1306.5 319.4 1304.5 312.9 1301.6 305.9 1297.3 300.4 1292.6 296.1 1287.3 292.7 1280.8 290.6 1272.8 290.4 1264.8 292.1 1256.8 295.7 1249.3 300.9 1243.0 307.4 1238.0 314.4 1234.9 322.4 1233.3 M321.5 1241.8 326.9 1241.4 332.9 1241.9 351.4 1246.6 356.4 1249.8 360.6 1255.8 363.0 1262.3 364.5 1269.3 365.0 1276.8 364.6 1284.8 363.2 1292.8 360.7 1300.3 357.9 1305.0 354.4 1308.1 352.4 1308.7 349.9 1308.6 340.4 1303.1 328.9 1301.6 321.4 1298.7 315.2 1294.8 309.1 1289.8 304.9 1285.3 301.8 1280.3 299.5 1274.3 298.8 1267.8 299.5 1261.8 301.8 1255.8 305.2 1250.8 309.9 1246.6 315.4 1243.5 321.5 1241.8 M326.8 1246.3 334.4 1246.6 351.9 1250.1 356.4 1253.3 360.0 1258.8 362.1 1264.8 363.2 1271.3 363.6 1278.3 363.1 1285.8 361.7 1292.8 359.6 1298.8 356.9 1303.0 353.9 1305.4 351.9 1305.9 349.4 1305.6 340.9 1300.3 329.9 1298.6 323.4 1295.8 318.3 1292.3 313.5 1287.8 309.4 1282.8 306.5 1277.8 304.8 1272.3 304.4 1266.8 305.4 1261.8 307.7 1256.8 311.0 1252.8 315.4 1249.6 320.9 1247.3 326.8 1246.3 M326.3 1250.3 333.9 1249.9 350.9 1252.2 355.4 1254.8 358.6 1259.3 360.7 1264.3 362.1 1270.8 362.6 1277.3 362.2 1284.3 361.1 1290.8 359.1 1296.8 356.7 1300.8 353.9 1303.2 351.9 1303.8 349.9 1303.5 340.9 1297.9 330.9 1296.3 325.4 1294.0 321.6 1291.3 317.9 1287.8 311.9 1279.3 309.9 1274.3 309.2 1269.8 309.5 1265.3 311.0 1260.8 313.4 1257.3 316.9 1254.1 321.4 1251.7 326.3 1250.3 M330.3 1252.8 335.4 1252.7 351.4 1254.3 355.4 1256.9 358.6 1261.8 360.4 1266.8 361.4 1272.8 361.7 1278.8 361.3 1285.3 360.0 1291.3 358.2 1296.3 355.9 1299.7 353.4 1301.6 351.4 1302.0 349.4 1301.6 340.9 1296.0 331.9 1294.5 326.9 1292.4 320.7 1287.3 315.7 1279.8 313.9 1274.8 313.2 1270.3 313.5 1266.3 315.0 1262.3 317.5 1258.8 320.9 1256.0 325.4 1253.9 330.3 1252.8 M331.0 1255.3 335.4 1255.0 350.9 1255.9 354.9 1258.2 357.7 1262.3 359.5 1266.8 360.6 1272.3 360.7 1283.8 359.7 1289.3 358.0 1294.3 355.9 1297.9 353.4 1299.9 349.9 1300.1 340.9 1294.2 332.4 1292.7 328.4 1291.1 323.1 1286.8 319.0 1280.8 317.3 1276.3 316.6 1272.3 316.8 1268.3 318.1 1264.3 320.4 1260.9 323.4 1258.3 326.9 1256.4 331.0 1255.3 M333.7 1257.3 350.9 1257.5 354.4 1259.5 357.4 1263.8 359.0 1268.3 360.0 1273.3 360.0 1283.8 359.1 1288.8 357.5 1293.3 355.7 1296.3 353.4 1298.3 351.9 1298.8 349.9 1298.6 341.4 1292.7 332.9 1291.0 329.4 1289.6 324.9 1285.9 321.5 1280.8 320.0 1276.8 319.5 1272.8 319.8 1268.8 321.1 1265.3 323.2 1262.3 326.2 1259.8 329.9 1258.1 333.7 1257.3 M345.3 1259.3 350.4 1259.1 353.9 1260.8 357.1 1265.3 359.0 1271.8 359.5 1280.3 358.2 1288.8 355.4 1294.9 353.9 1296.4 351.9 1297.2 348.4 1296.3 340.9 1290.7 332.9 1289.0 328.9 1287.0 324.7 1282.3 322.2 1275.8 322.1 1271.8 322.9 1268.3 324.8 1264.8 327.4 1262.2 330.4 1260.5 333.4 1259.6 345.3 1259.3 M345.6 1260.8 350.4 1260.4 353.9 1262.3 356.6 1266.3 358.4 1272.3 358.9 1280.3 357.8 1287.8 355.4 1293.3 353.9 1294.9 351.9 1295.9 348.4 1294.9 341.4 1289.3 333.4 1287.4 330.1 1285.8 326.4 1281.8 324.3 1276.3 324.1 1272.8 324.8 1269.3 326.4 1266.3 328.9 1263.8 331.4 1262.3 334.4 1261.5 345.6 1260.8 M348.1 1261.8 351.9 1262.3 354.8 1264.8 357.0 1269.3 358.2 1275.3 358.2 1282.3 356.8 1288.8 354.4 1293.0 351.4 1294.6 348.4 1293.6 341.4 1287.7 333.9 1285.8 330.9 1284.2 327.6 1280.3 326.1 1275.3 326.2 1272.3 327.1 1269.3 328.8 1266.8 331.1 1264.8 334.9 1263.4 342.4 1263.0 348.1 1261.8 M347.1 1263.3 350.9 1263.1 353.6 1264.8 355.9 1268.3 357.4 1273.8 357.8 1280.3 356.7 1286.8 354.6 1291.3 351.9 1293.3 350.4 1293.3 348.4 1292.3 341.4 1286.1 334.4 1284.1 331.9 1282.8 329.4 1280.0 328.1 1276.3 328.0 1273.3 328.6 1270.8 329.9 1268.5 331.9 1266.6 335.4 1265.2 342.4 1264.6 347.1 1263.3 M348.4 1264.3 351.4 1264.5 354.2 1266.8 356.1 1270.8 357.1 1275.8 357.1 1281.8 355.9 1287.3 353.9 1290.8 351.4 1292.2 348.4 1291.1 341.4 1284.4 333.0 1281.3 330.9 1278.8 329.9 1275.8 330.6 1271.3 333.4 1268.1 336.4 1267.0 342.4 1266.3 348.4 1264.3 M347.4 1265.8 350.4 1265.4 352.9 1266.6 355.1 1269.8 356.4 1274.5 356.7 1280.3 355.8 1285.8 353.9 1289.5 351.4 1291.0 348.2 1289.8 341.4 1282.6 334.4 1279.7 332.9 1278.1 332.1 1275.8 332.4 1272.7 334.4 1270.2 336.4 1269.2 342.4 1268.1 347.4 1265.8 M347.9 1266.8 350.4 1266.5 352.9 1267.8 354.9 1271.0 356.0 1275.3 356.2 1280.3 355.4 1285.0 353.8 1288.3 351.4 1289.9 348.4 1288.8 341.9 1281.1 336.4 1277.8 334.9 1275.3 335.1 1273.8 336.4 1272.3 341.4 1270.5 347.9 1266.8 M348.5 1267.8 350.9 1267.7 352.9 1269.1 354.5 1271.8 355.5 1275.8 355.7 1280.3 354.9 1284.6 353.4 1287.6 351.4 1288.8 349.4 1288.4 346.9 1286.0 342.6 1279.3 341.1 1275.8 341.6 1273.8 343.1 1271.8 345.9 1269.2 348.5 1267.8 M348.8 1269.8 350.9 1269.7 352.4 1270.7 353.7 1272.8 354.6 1275.8 354.8 1279.3 354.3 1282.8 352.9 1285.8 351.4 1286.8 349.4 1286.4 347.8 1284.8 345.8 1281.3 344.7 1277.8 344.7 1275.3 345.3 1273.3 346.9 1271.1 348.8 1269.8 M349.0 1272.8 350.4 1272.4 351.4 1272.8 352.6 1274.3 353.3 1276.8 353.0 1281.8 351.9 1283.6 350.9 1284.1 348.8 1282.8 347.1 1278.8 347.3 1275.3 349.0 1272.8" fill="none" stroke="#5a5a5a" stroke-width="0.8"/>
</g>
<clipPath id="c3"><rect x="156.4" y="1114.8" width="257.2" height="256.4"/></clipPath>
<g clip-path="url(#c3)">
<path d="M324.4 1232.8 330.4 1233.1 336.4 1234.4 353.4 1241.1 356.9 1243.7 359.7 1246.8 362.2 1250.8 364.6 1256.3 366.6 1263.8 367.6 1272.3 367.5 1280.8 366.2 1290.8 364.0 1299.3 361.1 1306.3 357.9 1310.8 353.9 1313.5 351.4 1313.9 348.9 1313.4 339.4 1308.3 329.9 1307.6 323.9 1306.4 311.9 1301.5 304.9 1297.4 299.0 1292.8 292.3 1286.3 285.4 1278.0 283.9 1277.3 281.4 1278.8 277.2 1286.8 273.0 1292.3 268.3 1296.8 262.9 1300.5 255.4 1304.1 244.4 1308.1 232.4 1311.5 222.4 1313.4 214.4 1314.0 206.4 1313.6 198.9 1312.1 191.4 1309.5 184.9 1306.1 178.9 1301.7 174.3 1296.8 171.5 1291.8 170.5 1287.8 170.7 1283.3 172.1 1278.8 174.6 1274.8 178.2 1270.8 182.9 1267.1 188.9 1263.5 195.4 1260.6 207.9 1257.0 222.4 1255.2 238.4 1255.6 257.9 1258.6 274.9 1256.3 287.9 1255.8 291.4 1254.0 299.4 1243.9 306.4 1238.2 314.9 1234.3 324.4 1232.8" fill="none" stroke="none" stroke-width="0.8"/>
<path d="M259.6 1246.1h1.5v1.5h-1.5zM291.9 1243.8h1.5v1.5h-1.5zM337.1 1223.3h1.5v1.5h-1.5zM340.3 1223.5h1.5v1.5h-1.5zM175.2 1304.3h1.5v1.5h-1.5zM248.9 1254.4h1.5v1.5h-1.5zM180.2 1305.7h1.5v1.5h-1.5zM345.8 1223.3h1.5v1.5h-1.5zM237.3 1251.6h1.5v1.5h-1.5zM330.2 1226.1h1.5v1.5h-1.5zM258.9 1241.7h1.5v1.5h-1.5zM244.6 1249.5h1.5v1.5h-1.5zM362.4 1237.1h1.5v1.5h-1.5zM364.1 1223.0h1.5v1.5h-1.5zM343.4 1227.6h1.5v1.5h-1.5zM212.7 1248.0h1.5v1.5h-1.5zM170.0 1305.4h1.5v1.5h-1.5zM232.0 1244.5h1.5v1.5h-1.5zM260.2 1223.1h1.5v1.5h-1.5zM271.3 1221.3h1.5v1.5h-1.5zM168.2 1301.4h1.5v1.5h-1.5zM244.9 1218.6h1.5v1.5h-1.5zM242.5 1231.1h1.5v1.5h-1.5zM243.2 1241.9h1.5v1.5h-1.5zM273.9 1305.3h1.5v1.5h-1.5zM284.3 1298.8h1.5v1.5h-1.5zM302.0 1299.3h1.5v1.5h-1.5zM243.4 1313.4h1.5v1.5h-1.5zM330.1 1224.5h1.5v1.5h-1.5zM265.0 1227.3h1.5v1.5h-1.5zM334.5 1228.9h1.5v1.5h-1.5zM267.9 1210.3h1.5v1.5h-1.5zM293.8 1247.3h1.5v1.5h-1.5zM349.7 1235.0h1.5v1.5h-1.5zM294.3 1307.4h1.5v1.5h-1.5zM226.2 1242.3h1.5v1.5h-1.5zM188.5 1261.0h1.5v1.5h-1.5zM252.5 1245.6h1.5v1.5h-1.5zM272.5 1250.2h1.5v1.5h-1.5zM284.6 1251.8h1.5v1.5h-1.5zM251.1 1193.8h1.5v1.5h-1.5zM336.9 1227.2h1.5v1.5h-1.5zM228.2 1220.6h1.5v1.5h-1.5zM251.1 1231.7h1.5v1.5h-1.5zM244.6 1240.6h1.5v1.5h-1.5zM237.3 1242.7h1.5v1.5h-1.5zM334.4 1221.3h1.5v1.5h-1.5zM241.2 1244.7h1.5v1.5h-1.5zM242.7 1234.4h1.5v1.5h-1.5zM269.3 1226.9h1.5v1.5h-1.5zM242.2 1251.4h1.5v1.5h-1.5zM269.2 1237.7h1.5v1.5h-1.5zM359.0 1221.0h1.5v1.5h-1.5zM172.7 1304.6h1.5v1.5h-1.5zM349.0 1235.3h1.5v1.5h-1.5zM256.1 1254.3h1.5v1.5h-1.5zM222.6 1243.5h1.5v1.5h-1.5zM240.7 1241.4h1.5v1.5h-1.5zM268.3 1236.5h1.5v1.5h-1.5zM240.7 1231.2h1.5v1.5h-1.5zM224.6 1250.7h1.5v1.5h-1.5zM344.8 1236.7h1.5v1.5h-1.5zM350.3 1233.5h1.5v1.5h-1.5zM239.1 1237.8h1.5v1.5h-1.5zM280.7 1231.4h1.5v1.5h-1.5zM244.4 1218.7h1.5v1.5h-1.5zM293.7 1182.3h1.5v1.5h-1.5zM241.7 1226.5h1.5v1.5h-1.5zM225.2 1250.1h1.5v1.5h-1.5zM268.3 1255.0h1.5v1.5h-1.5zM342.8 1231.1h1.5v1.5h-1.5zM306.8 1186.1h1.5v1.5h-1.5zM266.9 1222.2h1.5v1.5h-1.5zM263.1 1227.8h1.5v1.5h-1.5zM253.8 1251.0h1.5v1.5h-1.5zM318.6 1231.1h1.5v1.5h-1.5zM260.8 1244.9h1.5v1.5h-1.5zM237.0 1222.7h1.5v1.5h-1.5zM267.8 1223.6h1.5v1.5h-1.5zM357.5 1229.4h1.5v1.5h-1.5zM238.7 1236.9h1.5v1.5h-1.5zM342.4 1227.9h1.5v1.5h-1.5zM263.7 1232.6h1.5v1.5h-1.5zM323.2 1219.9h1.5v1.5h-1.5zM204.0 1233.3h1.5v1.5h-1.5zM265.5 1235.9h1.5v1.5h-1.5zM285.5 1238.5h1.5v1.5h-1.5zM267.7 1233.6h1.5v1.5h-1.5zM313.3 1213.5h1.5v1.5h-1.5zM366.9 1225.7h1.5v1.5h-1.5zM251.1 1247.7h1.5v1.5h-1.5zM270.4 1193.8h1.5v1.5h-1.5zM224.6 1221.8h1.5v1.5h-1.5zM215.7 1214.9h1.5v1.5h-1.5zM200.8 1317.2h1.5v1.5h-1.5zM178.5 1303.9h1.5v1.5h-1.5zM204.0 1245.1h1.5v1.5h-1.5zM281.0 1250.6h1.5v1.5h-1.5zM226.5 1248.7h1.5v1.5h-1.5zM354.8 1241.8h1.5v1.5h-1.5zM249.8 1233.1h1.5v1.5h-1.5zM256.8 1244.5h1.5v1.5h-1.5zM217.6 1316.7h1.5v1.5h-1.5zM264.2 1223.8h1.5v1.5h-1.5zM231.4 1234.1h1.5v1.5h-1.5zM197.9 1311.6h1.5v1.5h-1.5zM183.1 1205.6h1.5v1.5h-1.5zM249.8 1237.5h1.5v1.5h-1.5zM255.0 1232.6h1.5v1.5h-1.5zM302.5 1305.1h1.5v1.5h-1.5zM318.1 1305.7h1.5v1.5h-1.5zM272.5 1253.7h1.5v1.5h-1.5zM232.6 1245.0h1.5v1.5h-1.5zM191.1 1200.8h1.5v1.5h-1.5zM194.9 1258.8h1.5v1.5h-1.5zM365.8 1222.7h1.5v1.5h-1.5zM282.2 1198.4h1.5v1.5h-1.5zM351.5 1218.1h1.5v1.5h-1.5zM250.3 1241.7h1.5v1.5h-1.5zM195.5 1233.1h1.5v1.5h-1.5zM259.3 1221.8h1.5v1.5h-1.5zM166.4 1291.1h1.5v1.5h-1.5zM324.3 1309.5h1.5v1.5h-1.5zM359.0 1207.8h1.5v1.5h-1.5zM219.1 1247.1h1.5v1.5h-1.5zM227.7 1253.6h1.5v1.5h-1.5zM335.7 1232.9h1.5v1.5h-1.5zM354.8 1239.0h1.5v1.5h-1.5zM331.7 1231.1h1.5v1.5h-1.5zM256.5 1225.6h1.5v1.5h-1.5zM249.7 1244.2h1.5v1.5h-1.5zM347.8 1225.1h1.5v1.5h-1.5zM235.6 1247.0h1.5v1.5h-1.5zM218.7 1253.4h1.5v1.5h-1.5zM228.6 1248.5h1.5v1.5h-1.5zM216.5 1249.0h1.5v1.5h-1.5zM286.2 1248.6h1.5v1.5h-1.5zM231.5 1249.2h1.5v1.5h-1.5zM207.2 1318.2h1.5v1.5h-1.5zM276.1 1249.3h1.5v1.5h-1.5zM230.4 1250.9h1.5v1.5h-1.5zM174.2 1309.0h1.5v1.5h-1.5zM351.0 1230.3h1.5v1.5h-1.5zM329.1 1226.8h1.5v1.5h-1.5zM353.3 1211.3h1.5v1.5h-1.5zM170.8 1305.0h1.5v1.5h-1.5zM215.3 1251.5h1.5v1.5h-1.5zM227.2 1252.9h1.5v1.5h-1.5zM222.4 1243.5h1.5v1.5h-1.5zM230.4 1244.3h1.5v1.5h-1.5zM240.7 1311.2h1.5v1.5h-1.5zM245.8 1229.9h1.5v1.5h-1.5zM315.2 1228.1h1.5v1.5h-1.5zM257.2 1238.8h1.5v1.5h-1.5zM260.6 1236.5h1.5v1.5h-1.5zM290.1 1207.8h1.5v1.5h-1.5zM232.3 1243.6h1.5v1.5h-1.5zM240.6 1242.5h1.5v1.5h-1.5zM224.6 1244.9h1.5v1.5h-1.5zM339.1 1224.8h1.5v1.5h-1.5zM232.8 1213.9h1.5v1.5h-1.5zM289.5 1205.9h1.5v1.5h-1.5zM269.9 1246.9h1.5v1.5h-1.5zM234.6 1248.1h1.5v1.5h-1.5zM253.2 1210.3h1.5v1.5h-1.5zM327.4 1230.2h1.5v1.5h-1.5zM280.6 1229.9h1.5v1.5h-1.5zM223.6 1243.3h1.5v1.5h-1.5zM248.6 1229.2h1.5v1.5h-1.5zM342.1 1231.6h1.5v1.5h-1.5zM230.8 1249.6h1.5v1.5h-1.5zM251.1 1242.3h1.5v1.5h-1.5zM250.7 1245.6h1.5v1.5h-1.5zM224.7 1246.8h1.5v1.5h-1.5zM283.2 1232.2h1.5v1.5h-1.5zM189.4 1309.3h1.5v1.5h-1.5zM311.1 1230.1h1.5v1.5h-1.5zM189.0 1310.4h1.5v1.5h-1.5zM252.1 1245.7h1.5v1.5h-1.5zM244.9 1243.7h1.5v1.5h-1.5zM227.5 1245.8h1.5v1.5h-1.5zM188.4 1240.6h1.5v1.5h-1.5zM228.7 1231.8h1.5v1.5h-1.5zM272.1 1229.4h1.5v1.5h-1.5zM199.3 1311.8h1.5v1.5h-1.5zM231.2 1244.0h1.5v1.5h-1.5zM350.1 1226.9h1.5v1.5h-1.5zM209.3 1314.7h1.5v1.5h-1.5zM250.9 1242.0h1.5v1.5h-1.5zM342.4 1214.7h1.5v1.5h-1.5zM308.9 1235.3h1.5v1.5h-1.5zM164.0 1309.6h1.5v1.5h-1.5zM236.9 1233.2h1.5v1.5h-1.5zM250.9 1242.2h1.5v1.5h-1.5zM296.5 1239.3h1.5v1.5h-1.5zM265.4 1219.9h1.5v1.5h-1.5zM229.2 1253.9h1.5v1.5h-1.5zM346.7 1225.4h1.5v1.5h-1.5zM336.4 1227.8h1.5v1.5h-1.5zM227.6 1243.1h1.5v1.5h-1.5zM193.5 1312.6h1.5v1.5h-1.5zM253.1 1221.7h1.5v1.5h-1.5zM338.7 1225.0h1.5v1.5h-1.5zM227.5 1243.8h1.5v1.5h-1.5zM314.2 1232.9h1.5v1.5h-1.5zM264.4 1235.5h1.5v1.5h-1.5zM259.2 1245.9h1.5v1.5h-1.5zM279.4 1241.3h1.5v1.5h-1.5zM239.9 1245.4h1.5v1.5h-1.5zM370.9 1228.6h1.5v1.5h-1.5z" fill="#1a1a1a"/>
</g>
<rect x="156.4" y="1114.8" width="257.2" height="256.4" fill="none" stroke="#111" stroke-width="1.4"/>
<path d="M152.9 1360.2H156.4M152.9 1350.5H156.4M152.9 1340.8H156.4M152.9 1331.0H156.4M152.9 1311.5H156.4M152.9 1301.8H156.4M152.9 1292.0H156.4M152.9 1282.2H156.4M152.9 1262.8H156.4M152.9 1253.0H156.4M152.9 1243.2H156.4M152.9 1233.5H156.4M152.9 1214.0H156.4M152.9 1204.2H156.4M152.9 1194.5H156.4M152.9 1184.8H156.4M152.9 1165.2H156.4M152.9 1155.5H156.4M152.9 1145.8H156.4M152.9 1136.0H156.4M152.9 1116.5H156.4" fill="none" stroke="#111" stroke-width="1.5"/>
<path d="M149.4 1370.0H156.4M149.4 1321.2H156.4M149.4 1272.5H156.4M149.4 1223.8H156.4M149.4 1175.0H156.4M149.4 1126.2H156.4" fill="none" stroke="#111" stroke-width="2"/>
<text x="144.5" y="1374.2" font-size="9.5" text-anchor="end">0</text>
<text x="144.5" y="1325.5" font-size="9.5" text-anchor="end" textLength="20" lengthAdjust="spacingAndGlyphs">50K</text>
<text x="144.5" y="1276.7" font-size="9.5" text-anchor="end" textLength="20" lengthAdjust="spacingAndGlyphs">100K</text>
<text x="144.5" y="1228" font-size="9.5" text-anchor="end" textLength="20" lengthAdjust="spacingAndGlyphs">150K</text>
<text x="144.5" y="1179.2" font-size="9.5" text-anchor="end" textLength="20" lengthAdjust="spacingAndGlyphs">200K</text>
<text x="144.5" y="1130.5" font-size="9.5" text-anchor="end" textLength="20" lengthAdjust="spacingAndGlyphs">250K</text>
<path d="M208.4 1371.2V1374.7M220.1 1371.2V1374.7M202.7 1371.2V1374.7M225.7 1371.2V1374.7M197.4 1371.2V1374.7M230.9 1371.2V1374.7M192.6 1371.2V1374.7M235.6 1371.2V1374.7M188.2 1371.2V1374.7M239.9 1371.2V1374.7M184.2 1371.2V1374.7M243.8 1371.2V1374.7M180.6 1371.2V1374.7M247.3 1371.2V1374.7M177.4 1371.2V1374.7M250.5 1371.2V1374.7M174.4 1371.2V1374.7M253.4 1371.2V1374.7M277.4 1371.2V1374.7M289.8 1371.2V1374.7M298.7 1371.2V1374.7M305.5 1371.2V1374.7M311.1 1371.2V1374.7M315.8 1371.2V1374.7M319.9 1371.2V1374.7M323.6 1371.2V1374.7M345.2 1371.2V1374.7M356.0 1371.2V1374.7M363.6 1371.2V1374.7M369.5 1371.2V1374.7M374.3 1371.2V1374.7M378.4 1371.2V1374.7M382.0 1371.2V1374.7M385.1 1371.2V1374.7M406.3 1371.2V1374.7" fill="none" stroke="#111" stroke-width="1.5"/>
<path d="M171.7 1371.2V1378.2M256.1 1371.2V1378.2M326.8 1371.2V1378.2M387.9 1371.2V1378.2" fill="none" stroke="#111" stroke-width="2"/>
<path d="M213.7 1371.2V1376.8M214.9 1371.2V1376.8M213.1 1371.2V1376.8M215.5 1371.2V1376.8M212.5 1371.2V1376.8M216.1 1371.2V1376.8M211.9 1371.2V1376.8M216.6 1371.2V1376.8M211.3 1371.2V1376.8M217.2 1371.2V1376.8M210.7 1371.2V1376.8M217.8 1371.2V1376.8M210.1 1371.2V1376.8M218.4 1371.2V1376.8M209.6 1371.2V1376.8M219.0 1371.2V1376.8M209.0 1371.2V1376.8M219.5 1371.2V1376.8M214.3 1371.2V1376.8" fill="none" stroke="#111" stroke-width="1.6"/>
<text x="180" y="1392" font-size="9.5" text-anchor="middle">-10<tspan dy="-5.2" font-size="7.6">3</tspan></text>
<text x="219.5" y="1392" font-size="9.5" text-anchor="middle">0</text>
<text x="262.5" y="1392" font-size="9.5" text-anchor="middle">10<tspan dy="-5.2" font-size="7.6">3</tspan></text>
<text x="332.5" y="1392" font-size="9.5" text-anchor="middle">10<tspan dy="-5.2" font-size="7.6">4</tspan></text>
<text x="393.7" y="1392" font-size="9.5" text-anchor="middle">10<tspan dy="-5.2" font-size="7.6">5</tspan></text>
<rect x="162.1" y="1155.3" width="112.5" height="183.8" fill="none" stroke="#2D2C7C" stroke-width="3"/>
<rect x="281" y="1155.8" width="112.5" height="184.9" fill="none" stroke="#E8792D" stroke-width="3"/>
<text x="286.3" y="1141.2" font-size="15.5" fill="#E8792D" textLength="94" lengthAdjust="spacingAndGlyphs">Neutrophils</text>
<text x="165.1" y="1106.2" font-size="19.5" textLength="243" lengthAdjust="spacingAndGlyphs">Gated on Cd11b<tspan dy="-6.5" font-size="11.4">pos</tspan><tspan dy="6.5">F4/80</tspan><tspan dy="-6.5" font-size="11.4">neg</tspan></text>
<text x="109.5" y="1265.2" font-size="37" transform="rotate(-90 109.5 1265.2)" textLength="58" lengthAdjust="spacingAndGlyphs">FSC</text>
<text x="211.2" y="1430" font-size="31" textLength="131" lengthAdjust="spacingAndGlyphs">Ly6G-PB</text>
<line x1="212.7" y1="1329.7" x2="460" y2="1329.7" stroke="#2D2C7C" stroke-width="3"/>
<path d="M486.2 1329.7L440 1316.2L454 1329.7L440 1343.8Z" fill="#2D2C7C"/>
<clipPath id="c4"><rect x="543" y="1114.2" width="257" height="257"/></clipPath>
<g clip-path="url(#c4)">
<path d="M624.2 1146.8 631.0 1146.8 637.0 1147.5 642.5 1149.0 648.0 1151.5 652.5 1154.7 656.0 1158.2 658.7 1162.2 660.9 1167.2 669.9 1191.8 671.9 1201.2 673.1 1211.8 674.6 1247.8 673.4 1254.8 669.3 1264.2 668.3 1268.2 669.0 1289.0 670.0 1290.8 672.0 1291.7 685.5 1293.5 691.0 1295.0 696.0 1297.1 700.0 1299.6 702.9 1302.2 705.0 1305.2 706.1 1308.2 705.9 1312.8 703.4 1317.2 698.8 1321.2 692.5 1324.4 686.0 1326.4 680.0 1327.4 667.0 1327.5 656.0 1325.3 644.0 1319.9 641.0 1319.3 625.5 1323.8 620.0 1324.4 614.5 1324.1 608.0 1322.6 602.5 1320.0 598.6 1316.8 596.1 1312.8 595.4 1309.8 595.6 1306.8 596.8 1303.8 598.5 1301.4 603.0 1297.7 612.0 1293.8 614.1 1291.8 614.7 1288.8 614.5 1272.8 613.5 1267.0 607.7 1254.8 605.8 1245.2 604.7 1217.8 606.4 1197.2 606.2 1193.8 604.3 1189.8 597.1 1181.2 593.7 1175.8 591.9 1169.8 591.9 1164.2 593.0 1160.2 595.1 1156.8 598.0 1153.8 601.5 1151.5 610.5 1148.4 624.2 1146.8 M629.0 1278.7 627.5 1280.0 626.5 1283.3 625.8 1289.2 626.5 1292.2 629.0 1294.1 635.5 1296.6 638.0 1297.1 640.0 1296.5 641.1 1295.2 641.6 1292.8 642.1 1284.3 641.5 1281.4 639.5 1280.2 629.0 1278.7 M656.5 1283.1 651.2 1291.2 650.5 1293.2 651.0 1294.5 652.5 1294.7 655.5 1293.9 657.3 1292.8 658.4 1291.2 659.0 1288.2 658.6 1284.8 657.5 1282.9 656.5 1283.1 M618.1 1149.8 630.0 1149.5 640.0 1151.5 644.5 1153.6 648.4 1156.2 651.5 1159.2 653.8 1162.8 655.7 1167.8 658.0 1177.6 663.7 1191.8 666.4 1201.8 667.7 1211.8 668.3 1230.2 669.6 1244.2 669.4 1249.2 668.5 1253.8 662.2 1270.2 658.0 1273.5 652.5 1283.5 649.5 1287.6 647.5 1288.9 646.5 1288.6 646.0 1287.8 645.8 1284.2 647.0 1276.8 646.0 1274.2 644.0 1273.6 636.0 1273.3 628.0 1271.3 626.1 1271.2 624.7 1272.2 624.1 1274.2 623.1 1290.2 623.5 1292.8 626.0 1295.5 640.5 1302.6 643.0 1303.1 645.5 1302.3 658.4 1295.8 661.9 1292.2 662.6 1289.2 661.7 1277.8 662.1 1274.2 663.0 1273.1 664.5 1274.8 665.5 1278.0 665.9 1282.2 665.4 1289.2 665.8 1290.8 667.0 1292.4 670.0 1293.9 681.5 1295.1 690.0 1297.4 696.5 1300.8 700.7 1305.2 701.8 1307.8 702.1 1310.2 700.7 1314.8 697.0 1318.8 691.0 1322.2 685.5 1324.1 678.5 1325.3 671.5 1325.6 665.0 1325.0 654.5 1322.0 650.1 1319.8 644.5 1315.8 642.0 1315.0 639.5 1315.6 632.5 1319.4 627.0 1321.4 621.0 1322.4 615.5 1322.2 610.0 1321.1 605.5 1319.1 601.7 1316.2 599.2 1312.8 598.4 1309.8 598.6 1307.2 599.4 1304.8 601.2 1302.2 606.0 1298.6 614.5 1295.0 616.6 1292.8 617.1 1290.2 616.7 1279.8 618.2 1268.2 617.2 1263.8 612.4 1252.8 610.9 1244.2 610.1 1216.8 610.6 1208.2 612.1 1197.8 612.0 1194.2 609.9 1190.2 601.4 1182.2 597.2 1176.8 594.9 1170.8 594.6 1165.2 595.4 1162.2 596.8 1159.2 601.5 1154.6 608.5 1151.5 618.1 1149.8 M623.3 1150.8 631.5 1151.1 639.0 1153.0 645.0 1156.0 649.5 1160.2 651.4 1163.2 652.7 1166.8 654.8 1180.2 660.2 1192.2 662.7 1200.2 664.6 1212.8 665.1 1229.8 666.7 1244.2 666.4 1249.8 665.2 1254.8 662.5 1260.4 653.0 1272.6 650.0 1270.1 636.0 1270.1 631.5 1268.9 623.0 1265.5 621.0 1263.6 618.5 1259.6 616.2 1254.8 614.7 1250.2 613.8 1242.8 613.2 1217.8 613.8 1208.8 615.6 1197.2 615.5 1193.8 613.4 1190.2 604.0 1182.7 599.6 1177.8 596.8 1172.2 596.1 1166.2 596.9 1162.8 598.4 1159.8 601.0 1156.9 604.0 1154.8 612.0 1152.0 623.3 1150.8 M652.0 1274.8 652.5 1274.3 652.6 1274.8 652.1 1277.8 650.4 1280.8 650.0 1280.6 650.1 1279.2 652.0 1274.8 M619.6 1277.2 620.5 1276.8 621.0 1277.3 621.9 1281.8 621.5 1286.2 620.0 1288.9 619.0 1287.3 618.4 1283.2 618.7 1279.8 619.6 1277.2 M619.5 1293.2 620.5 1293.2 624.6 1296.2 631.5 1299.4 635.5 1301.9 639.9 1306.2 641.0 1308.2 641.1 1309.8 639.5 1312.2 635.8 1315.8 631.9 1318.2 627.5 1320.1 623.0 1321.0 618.5 1321.3 614.0 1320.9 609.5 1319.6 605.0 1317.2 601.6 1313.8 600.2 1310.2 600.6 1306.2 602.3 1303.2 605.5 1300.4 615.5 1296.0 619.5 1293.2 M663.2 1294.8 665.0 1294.4 670.0 1295.4 681.5 1296.4 687.5 1298.0 692.0 1299.9 696.0 1302.8 698.8 1306.2 699.7 1310.2 698.8 1313.8 696.0 1317.2 691.6 1320.2 686.0 1322.5 679.5 1323.9 672.5 1324.3 666.0 1323.8 659.5 1322.4 654.0 1320.1 650.0 1317.5 646.7 1314.2 644.2 1310.8 644.1 1308.8 646.6 1305.2 650.5 1301.8 663.2 1294.8 M618.4 1152.2 627.5 1152.0 635.5 1153.3 642.0 1156.0 647.1 1160.2 649.4 1163.8 650.7 1167.8 650.6 1178.2 651.1 1181.8 657.0 1193.2 659.8 1201.2 661.7 1212.8 662.3 1229.8 664.0 1244.2 663.7 1249.8 661.9 1255.8 658.5 1260.8 654.0 1264.6 649.0 1266.4 643.5 1267.6 638.5 1267.7 634.0 1266.9 629.0 1264.9 625.0 1262.5 622.0 1259.6 619.5 1255.7 617.6 1250.8 616.5 1243.2 616.1 1217.2 616.8 1208.2 619.0 1196.8 618.9 1193.2 618.0 1191.2 616.5 1189.8 607.0 1183.5 602.0 1178.8 598.6 1173.2 597.5 1167.8 597.8 1164.8 598.9 1161.8 600.6 1159.2 603.0 1157.1 609.5 1153.9 618.4 1152.2 M618.3 1296.2 621.0 1296.1 629.5 1299.7 633.5 1302.2 636.1 1304.8 637.6 1307.8 637.6 1310.2 636.0 1313.2 633.5 1315.8 630.0 1317.9 626.0 1319.4 618.0 1320.3 613.5 1319.7 609.5 1318.5 606.0 1316.5 603.6 1314.2 602.1 1311.8 601.6 1309.2 602.1 1306.2 603.6 1303.8 608.5 1300.0 618.3 1296.2 M663.2 1296.8 666.0 1296.4 678.5 1297.1 684.5 1298.3 689.5 1300.2 694.0 1303.1 696.6 1306.2 697.6 1309.8 696.8 1313.2 694.7 1316.2 691.0 1319.0 686.0 1321.2 680.0 1322.6 674.0 1323.2 667.5 1322.8 661.5 1321.7 656.0 1319.5 652.4 1317.2 649.4 1314.2 647.9 1311.2 647.9 1308.2 649.6 1305.2 652.5 1302.5 663.2 1296.8 M618.1 1153.2 629.0 1153.1 638.0 1155.4 641.6 1157.2 644.7 1159.8 647.1 1162.8 648.5 1166.2 648.9 1171.2 647.4 1179.2 647.3 1182.2 648.5 1185.2 654.7 1195.2 657.9 1204.8 659.1 1212.8 659.8 1229.8 661.8 1246.2 660.6 1252.8 657.5 1258.1 653.0 1262.1 646.5 1264.7 639.0 1265.5 632.0 1263.8 625.5 1259.8 621.4 1254.2 619.7 1249.8 618.9 1244.8 618.6 1218.2 619.2 1209.8 622.3 1195.8 622.2 1192.2 621.4 1190.8 619.7 1189.2 610.5 1184.5 605.0 1180.5 601.4 1176.2 599.1 1171.2 598.7 1167.8 599.0 1164.8 600.3 1161.8 602.5 1158.9 605.5 1156.7 609.0 1155.1 618.1 1153.2 M617.4 1297.8 620.5 1297.4 624.0 1298.4 630.0 1301.1 633.9 1304.2 635.7 1307.2 635.9 1309.8 635.0 1312.2 632.9 1314.7 630.0 1316.8 626.5 1318.3 618.5 1319.5 614.5 1319.1 610.5 1317.9 607.5 1316.3 605.1 1314.2 603.4 1311.8 602.9 1309.2 603.3 1306.8 604.6 1304.2 609.0 1300.7 617.4 1297.8 M664.9 1297.8 679.0 1298.2 684.5 1299.4 689.0 1301.2 692.6 1303.8 695.0 1306.8 695.8 1310.2 695.0 1313.2 692.6 1316.2 689.0 1318.7 684.5 1320.6 679.0 1321.8 673.5 1322.2 667.5 1321.9 662.0 1320.7 657.0 1318.8 653.5 1316.4 651.1 1313.8 649.9 1310.8 650.2 1307.8 652.1 1304.8 655.0 1302.3 661.0 1299.0 664.9 1297.8 M616.8 1154.2 627.5 1153.9 636.5 1155.8 640.3 1157.8 643.5 1160.2 645.8 1163.2 647.0 1166.3 647.0 1172.2 643.6 1181.2 643.3 1184.2 644.2 1186.2 651.5 1195.4 655.3 1204.8 656.8 1212.8 657.5 1229.8 659.6 1245.8 658.7 1251.8 656.0 1256.6 651.5 1260.5 646.0 1262.8 639.5 1263.5 633.0 1262.1 627.0 1258.3 623.3 1253.2 621.8 1249.2 621.1 1244.2 621.0 1216.2 622.1 1207.2 626.0 1194.2 626.1 1191.2 625.2 1189.8 623.8 1188.8 613.0 1184.6 607.0 1181.0 602.5 1176.2 600.1 1171.2 599.7 1168.2 600.0 1165.2 601.2 1162.2 603.0 1159.9 608.5 1156.3 616.8 1154.2 M617.0 1298.8 620.0 1298.4 623.5 1299.2 629.0 1301.6 632.5 1304.2 634.1 1306.8 634.5 1309.2 633.9 1311.8 631.9 1314.2 626.5 1317.5 619.0 1318.8 612.0 1317.6 609.0 1316.2 606.4 1314.2 604.9 1312.2 604.1 1309.8 604.3 1307.2 605.2 1305.2 606.9 1303.2 609.5 1301.4 617.0 1298.8 M665.6 1298.8 678.5 1299.0 683.5 1300.1 688.0 1301.9 691.4 1304.2 693.6 1307.2 694.3 1310.2 693.4 1313.2 691.4 1315.8 688.0 1318.1 683.5 1319.9 678.5 1321.0 673.0 1321.4 667.5 1321.0 662.5 1319.9 658.0 1318.1 654.6 1315.8 652.5 1313.2 651.6 1310.8 652.0 1307.8 653.5 1305.2 656.5 1302.7 661.5 1299.9 665.6 1298.8 M618.0 1154.8 628.0 1154.6 636.5 1156.7 640.0 1158.5 642.7 1160.8 644.6 1163.2 645.8 1166.2 646.1 1170.2 645.0 1174.2 643.0 1177.9 638.4 1184.2 637.6 1186.2 638.6 1187.8 644.0 1191.0 647.5 1194.2 650.5 1198.5 652.8 1203.8 654.8 1212.8 655.6 1229.8 657.9 1245.7 657.0 1251.2 654.5 1255.7 650.5 1259.2 645.5 1261.3 642.0 1261.9 638.0 1261.8 634.5 1260.9 631.0 1259.2 628.0 1256.9 625.8 1254.2 623.2 1247.8 622.8 1241.8 622.9 1218.2 623.4 1211.8 625.5 1202.8 631.2 1190.8 631.3 1188.8 629.4 1187.8 616.5 1185.0 610.5 1182.5 607.0 1180.1 604.1 1177.2 602.1 1174.2 600.9 1171.2 600.5 1168.2 600.8 1165.2 602.1 1162.2 604.0 1160.0 609.5 1156.6 618.0 1154.8 M618.0 1299.2 621.5 1299.3 625.5 1300.6 629.5 1302.7 632.0 1305.0 633.4 1307.8 633.4 1310.2 632.2 1312.8 630.2 1314.8 624.5 1317.5 617.5 1318.1 611.0 1316.5 606.5 1313.2 604.9 1309.2 605.3 1306.8 606.5 1304.8 611.0 1301.4 618.0 1299.2 M671.0 1299.2 681.0 1300.2 685.5 1301.6 689.0 1303.6 691.4 1305.8 692.7 1308.2 692.9 1311.2 691.8 1313.8 689.3 1316.2 685.5 1318.4 681.0 1319.8 676.0 1320.6 670.5 1320.6 665.5 1319.9 661.0 1318.6 657.0 1316.5 654.2 1313.8 653.0 1311.2 653.1 1308.2 654.5 1305.8 657.5 1303.1 662.5 1300.4 666.0 1299.5 671.0 1299.2 M618.5 1155.2 627.0 1155.1 634.0 1156.4 639.7 1159.2 643.5 1163.2 645.1 1168.2 644.2 1173.2 640.6 1178.8 635.5 1183.0 632.0 1184.6 628.0 1185.4 623.0 1185.4 617.5 1184.5 613.0 1183.0 609.0 1180.8 605.5 1177.9 603.1 1174.8 601.6 1171.2 601.2 1167.8 601.7 1164.8 603.3 1161.8 605.9 1159.2 609.0 1157.5 613.5 1156.0 618.5 1155.2 M636.7 1192.8 641.0 1193.0 644.9 1195.2 648.4 1199.2 650.9 1204.2 652.9 1212.8 653.9 1230.2 656.4 1244.2 655.8 1250.2 653.0 1255.3 648.0 1258.9 642.0 1260.5 638.5 1260.4 635.0 1259.6 629.5 1256.3 625.9 1251.2 624.4 1244.8 624.7 1217.2 625.9 1208.2 627.7 1202.8 630.5 1197.6 633.5 1194.3 636.7 1192.8 M618.9 1299.8 622.0 1300.0 626.5 1301.7 629.5 1303.5 631.6 1305.8 632.6 1308.2 632.4 1310.8 630.8 1313.2 628.5 1315.2 623.0 1317.3 616.5 1317.5 610.5 1315.7 606.7 1312.2 605.8 1310.2 605.7 1308.2 606.4 1306.2 607.9 1304.2 612.5 1301.4 618.9 1299.8 M665.6 1300.2 676.5 1300.0 681.5 1300.9 685.5 1302.4 689.0 1304.6 691.3 1307.2 692.0 1310.2 691.2 1312.8 689.2 1315.2 686.3 1317.2 682.5 1318.8 678.0 1319.8 668.5 1319.9 664.0 1318.9 660.0 1317.4 657.0 1315.5 655.0 1313.2 654.0 1310.8 654.2 1308.2 655.7 1305.8 658.0 1303.6 662.0 1301.4 665.6 1300.2 M618.8 1155.8 626.0 1155.6 632.5 1156.6 637.7 1158.8 641.5 1161.9 643.7 1165.8 644.0 1170.2 642.2 1174.8 638.5 1178.9 634.5 1181.7 630.5 1183.4 626.0 1184.3 621.5 1184.3 617.0 1183.6 612.5 1182.1 608.5 1179.7 605.3 1176.8 603.0 1173.2 601.9 1169.8 602.0 1166.2 603.4 1162.8 605.6 1160.2 609.0 1158.1 613.5 1156.6 618.8 1155.8 M636.3 1196.8 640.0 1196.4 643.5 1197.9 646.5 1200.9 649.1 1205.8 651.1 1213.2 652.0 1230.2 654.7 1243.8 654.4 1249.2 652.0 1254.0 647.5 1257.5 642.0 1259.0 636.0 1258.4 631.0 1255.6 627.6 1251.2 626.0 1245.2 626.7 1230.8 626.5 1217.8 627.4 1210.8 628.8 1205.8 631.0 1201.5 633.5 1198.5 636.3 1196.8 M616.2 1300.8 619.0 1300.3 622.0 1300.6 626.0 1302.0 629.0 1303.9 630.8 1305.8 631.8 1308.2 631.5 1310.8 630.4 1312.8 626.0 1315.8 620.0 1317.1 614.0 1316.5 609.0 1313.9 606.6 1310.2 606.5 1308.2 607.2 1306.2 610.5 1303.0 616.2 1300.8 M666.6 1300.8 676.5 1300.6 681.0 1301.4 685.0 1302.9 688.0 1304.8 690.2 1307.2 690.9 1309.8 690.4 1312.2 688.6 1314.8 686.0 1316.6 678.5 1319.1 669.5 1319.4 665.0 1318.6 661.0 1317.1 658.0 1315.3 656.1 1313.2 655.1 1310.7 655.3 1308.2 656.8 1305.8 659.5 1303.5 663.0 1301.7 666.6 1300.8 M618.7 1156.2 625.0 1156.0 631.0 1156.8 636.0 1158.6 639.9 1161.2 642.5 1164.8 643.2 1168.8 642.2 1172.8 639.5 1176.6 636.0 1179.4 632.0 1181.6 627.5 1183.0 623.0 1183.6 618.5 1183.3 614.0 1182.1 610.0 1180.1 606.9 1177.8 604.1 1174.2 602.7 1170.8 602.5 1167.2 603.5 1163.8 605.9 1160.8 609.0 1158.7 613.5 1157.1 618.7 1156.2 M636.7 1200.2 640.0 1199.9 643.0 1201.2 645.5 1203.8 647.6 1207.8 649.4 1215.2 650.3 1230.8 653.2 1243.8 652.9 1248.8 650.7 1253.2 646.9 1256.2 642.0 1257.6 636.5 1257.0 632.0 1254.5 629.0 1250.6 627.6 1245.2 628.5 1230.2 628.5 1217.8 629.1 1212.2 630.2 1208.2 632.0 1204.6 634.0 1202.0 636.7 1200.2 M616.2 1301.2 619.0 1300.8 622.0 1301.1 625.5 1302.4 628.5 1304.2 630.3 1306.2 631.0 1308.2 630.8 1310.8 629.5 1312.8 625.5 1315.5 620.0 1316.7 614.5 1316.1 609.7 1313.8 607.3 1310.2 607.7 1306.8 611.0 1303.3 616.2 1301.2 M667.2 1301.2 676.5 1301.1 681.0 1302.0 684.5 1303.3 687.4 1305.2 689.1 1307.2 689.9 1309.8 689.4 1312.2 688.0 1314.2 685.3 1316.2 678.0 1318.7 669.5 1318.9 665.0 1318.0 661.5 1316.7 658.5 1314.8 656.8 1312.8 656.1 1310.8 656.3 1308.2 657.9 1305.8 660.4 1303.8 663.5 1302.2 667.2 1301.2 M618.4 1156.8 625.0 1156.5 630.5 1157.2 635.0 1158.8 638.9 1161.2 641.3 1164.2 642.4 1167.8 641.7 1171.8 639.5 1175.2 636.5 1177.9 632.5 1180.3 628.0 1182.0 623.5 1182.8 619.0 1182.7 615.0 1181.8 611.5 1180.4 608.0 1178.0 605.1 1174.8 603.4 1171.2 603.0 1167.8 603.9 1164.2 606.0 1161.5 609.0 1159.3 613.5 1157.6 618.4 1156.8 M636.9 1204.2 639.5 1203.8 642.0 1204.8 644.3 1207.2 646.0 1210.7 647.3 1216.8 648.1 1230.2 651.6 1244.2 651.2 1248.8 649.4 1252.2 646.0 1254.9 642.0 1256.1 637.0 1255.6 633.0 1253.2 630.4 1249.8 629.2 1245.2 629.3 1241.2 630.6 1230.8 631.1 1214.2 633.4 1207.8 635.0 1205.6 636.9 1204.2 M616.2 1301.8 619.0 1301.3 622.0 1301.6 627.6 1304.2 629.5 1306.2 630.3 1308.2 630.2 1310.2 629.1 1312.2 625.5 1314.9 620.5 1316.2 615.0 1315.8 610.5 1313.7 608.0 1310.2 608.4 1306.8 611.3 1303.8 616.2 1301.8 M667.8 1301.8 676.5 1301.7 684.0 1303.8 686.9 1305.8 688.4 1307.8 689.0 1310.2 688.4 1312.2 686.9 1314.2 684.5 1315.9 677.5 1318.2 669.5 1318.3 662.0 1316.2 659.7 1314.8 657.8 1312.8 657.0 1310.8 657.3 1308.2 659.0 1305.8 661.5 1303.8 664.5 1302.5 667.8 1301.8 M618.0 1157.2 624.0 1157.0 629.5 1157.5 634.0 1158.9 638.0 1161.2 640.5 1164.2 641.5 1167.2 641.2 1170.8 639.2 1174.2 636.5 1176.9 632.5 1179.4 628.5 1181.0 624.0 1182.1 620.0 1182.2 616.0 1181.6 612.5 1180.3 609.0 1178.2 606.1 1175.2 604.1 1171.8 603.6 1168.2 604.3 1164.8 606.5 1161.8 609.2 1159.8 613.0 1158.2 618.0 1157.2 M638.4 1208.8 640.0 1208.9 641.5 1209.8 644.0 1214.2 645.4 1229.8 649.1 1240.8 649.9 1244.8 649.5 1248.2 648.0 1251.2 645.0 1253.6 641.5 1254.5 637.5 1254.0 634.0 1251.9 631.8 1248.8 630.9 1244.8 631.2 1240.8 633.2 1230.2 633.8 1215.2 635.5 1210.9 637.0 1209.4 638.4 1208.8 M616.2 1302.2 619.0 1301.8 622.0 1302.1 627.3 1304.8 628.7 1306.2 629.6 1308.2 629.4 1310.3 628.3 1312.2 624.7 1314.8 620.0 1315.8 615.0 1315.3 610.9 1313.2 608.7 1310.2 609.1 1306.8 611.5 1304.2 616.2 1302.2 M668.1 1302.2 676.5 1302.2 683.5 1304.2 685.8 1305.8 687.4 1307.8 688.0 1310.2 687.4 1312.2 685.8 1314.2 683.5 1315.8 677.0 1317.8 669.5 1317.8 662.5 1315.8 660.2 1314.2 658.5 1312.2 657.9 1310.2 658.3 1308.2 659.6 1306.2 662.0 1304.3 668.1 1302.2 M617.0 1157.8 622.5 1157.3 628.0 1157.7 632.5 1158.8 636.5 1160.8 639.5 1163.7 640.8 1166.8 640.6 1170.2 639.2 1173.2 636.5 1176.1 633.0 1178.4 628.5 1180.4 624.5 1181.5 617.0 1181.4 613.5 1180.3 610.0 1178.4 607.0 1175.8 604.8 1172.2 604.0 1168.7 604.4 1165.8 606.0 1162.9 608.5 1160.7 612.0 1159.0 617.0 1157.8 M638.7 1216.2 639.5 1216.3 640.6 1217.8 641.8 1228.8 647.0 1239.8 648.3 1244.8 648.0 1247.8 646.7 1250.2 644.5 1252.1 641.5 1253.0 638.0 1252.6 635.1 1250.8 633.4 1248.2 632.6 1244.8 633.2 1239.8 636.8 1228.2 637.2 1218.8 638.0 1216.8 638.7 1216.2 M618.5 1302.2 624.0 1303.2 628.1 1306.2 628.9 1307.8 629.0 1309.8 628.1 1311.8 626.5 1313.2 622.5 1315.0 617.5 1315.4 613.0 1314.1 610.1 1311.8 609.1 1308.8 610.5 1305.8 614.0 1303.4 618.5 1302.2 M667.8 1302.8 675.5 1302.5 682.4 1304.2 684.8 1305.8 686.6 1307.8 687.2 1309.8 686.9 1311.8 685.5 1313.7 683.5 1315.2 677.5 1317.2 670.0 1317.5 663.6 1315.8 659.7 1312.8 658.8 1310.8 658.9 1308.8 660.0 1306.8 662.0 1304.9 667.8 1302.8 M616.8 1158.2 622.0 1157.8 627.5 1158.1 632.0 1159.2 635.5 1160.8 638.2 1163.2 639.8 1166.2 639.9 1169.8 638.5 1172.8 636.3 1175.2 633.0 1177.6 629.0 1179.5 624.5 1180.8 620.5 1181.1 617.0 1180.8 610.5 1178.2 607.5 1175.5 605.4 1172.2 604.6 1169.2 605.0 1166.0 606.5 1163.2 609.0 1161.0 612.5 1159.3 616.8 1158.2 M638.4 1237.8 640.0 1237.3 642.0 1238.1 644.0 1240.3 645.3 1243.2 645.6 1245.8 645.1 1247.8 643.9 1249.2 642.0 1250.3 640.0 1250.4 638.0 1249.7 636.4 1248.2 635.5 1246.2 635.7 1241.8 636.9 1239.2 638.4 1237.8 M618.9 1302.8 624.0 1303.8 627.6 1306.8 628.2 1308.2 628.1 1310.2 625.5 1313.2 621.5 1314.7 617.0 1314.8 613.0 1313.5 610.6 1311.2 609.9 1308.2 611.3 1305.8 614.5 1303.7 618.9 1302.8 M668.4 1303.2 675.5 1303.0 681.9 1304.8 685.5 1307.8 686.2 1309.8 685.8 1311.8 682.8 1314.8 677.0 1316.8 670.0 1316.9 664.1 1315.2 660.4 1312.2 659.8 1310.8 659.9 1308.8 661.1 1306.8 662.8 1305.2 668.4 1303.2 M619.7 1158.8 625.0 1158.7 629.5 1159.4 633.1 1160.8 636.0 1162.7 637.9 1165.2 638.5 1167.8 637.9 1170.8 636.3 1173.2 630.5 1177.5 626.5 1179.1 622.5 1179.9 615.5 1179.4 612.5 1178.2 609.5 1176.2 607.3 1173.8 606.0 1170.8 605.7 1167.8 606.7 1164.8 608.5 1162.6 611.5 1160.7 615.0 1159.5 619.7 1158.8 M619.0 1303.8 623.5 1304.8 626.3 1307.2 626.8 1308.8 626.5 1310.2 624.1 1312.8 621.0 1313.8 617.0 1313.8 614.0 1312.8 611.8 1310.8 611.4 1308.2 612.6 1306.2 615.5 1304.5 619.0 1303.8 M669.3 1304.2 675.5 1304.1 681.0 1305.8 683.0 1307.2 684.0 1308.8 684.2 1310.2 683.8 1311.8 680.5 1314.5 675.5 1315.9 670.0 1315.8 665.0 1314.3 662.2 1311.8 661.9 1308.8 664.5 1305.9 669.3 1304.2 M617.0 1160.2 625.5 1160.0 629.3 1160.8 632.5 1162.1 635.0 1164.2 636.1 1166.2 636.4 1168.8 635.4 1171.2 631.0 1175.3 624.0 1178.2 618.0 1178.6 612.4 1176.8 609.8 1174.8 608.0 1172.2 607.2 1169.2 607.5 1166.8 608.5 1164.7 610.5 1162.8 613.5 1161.2 617.0 1160.2 M616.6 1305.8 619.5 1305.3 622.7 1306.2 624.4 1308.2 624.1 1310.2 622.5 1311.7 620.5 1312.4 618.0 1312.4 615.5 1311.6 614.0 1310.2 613.7 1308.8 614.5 1307.1 616.6 1305.8 M670.7 1305.8 675.0 1305.7 678.5 1306.8 680.9 1308.8 680.9 1311.2 678.5 1313.2 675.0 1314.3 670.9 1314.2 667.0 1313.0 665.0 1311.1 665.0 1308.8 667.3 1306.8 670.7 1305.8 M618.0 1161.2 625.0 1161.2 631.0 1163.1 633.1 1164.8 634.1 1166.8 634.2 1168.8 633.5 1170.8 629.5 1174.4 623.5 1176.9 618.0 1177.3 613.0 1175.6 610.7 1173.8 609.4 1171.8 608.7 1169.2 609.1 1166.8 610.3 1164.8 612.1 1163.2 618.0 1161.2 M618.7 1307.8 620.6 1308.2 620.8 1309.2 620.3 1309.8 619.0 1310.1 617.5 1309.4 617.6 1308.2 618.7 1307.8 M670.8 1308.2 675.0 1308.2 676.6 1309.2 676.9 1310.2 676.1 1311.2 674.5 1311.9 670.8 1311.8 669.3 1310.8 669.0 1309.8 670.8 1308.2 M617.9 1163.8 623.0 1163.5 627.3 1164.8 629.5 1167.0 629.4 1169.8 627.1 1172.2 623.0 1174.2 619.0 1174.7 615.3 1173.8 612.5 1171.2 612.0 1168.3 614.0 1165.4 617.9 1163.8" fill="none" stroke="#555" stroke-width="0.8"/>
<path d="M680.1 1206.6h1.5v1.5h-1.5zM673.5 1213.7h1.5v1.5h-1.5zM684.0 1191.0h1.5v1.5h-1.5zM677.9 1201.8h1.5v1.5h-1.5zM681.3 1243.0h1.5v1.5h-1.5zM674.5 1204.0h1.5v1.5h-1.5zM675.7 1204.8h1.5v1.5h-1.5zM674.1 1203.3h1.5v1.5h-1.5zM682.4 1235.1h1.5v1.5h-1.5zM674.8 1209.6h1.5v1.5h-1.5zM681.4 1206.5h1.5v1.5h-1.5zM673.5 1221.7h1.5v1.5h-1.5zM685.5 1173.7h1.5v1.5h-1.5zM679.7 1196.4h1.5v1.5h-1.5zM675.2 1231.6h1.5v1.5h-1.5zM680.5 1194.1h1.5v1.5h-1.5zM680.6 1222.5h1.5v1.5h-1.5zM682.6 1211.4h1.5v1.5h-1.5zM679.2 1246.5h1.5v1.5h-1.5zM681.2 1272.8h1.5v1.5h-1.5zM670.2 1184.2h1.5v1.5h-1.5zM682.3 1209.6h1.5v1.5h-1.5zM681.3 1220.5h1.5v1.5h-1.5zM685.1 1210.8h1.5v1.5h-1.5zM672.6 1267.1h1.5v1.5h-1.5zM644.7 1327.4h1.5v1.5h-1.5zM673.6 1260.6h1.5v1.5h-1.5zM687.1 1245.5h1.5v1.5h-1.5zM677.4 1226.2h1.5v1.5h-1.5zM684.4 1241.6h1.5v1.5h-1.5zM674.2 1271.4h1.5v1.5h-1.5zM674.5 1252.0h1.5v1.5h-1.5zM686.0 1200.8h1.5v1.5h-1.5zM635.9 1281.3h1.5v1.5h-1.5zM676.2 1224.6h1.5v1.5h-1.5zM675.1 1203.4h1.5v1.5h-1.5zM674.6 1215.4h1.5v1.5h-1.5zM679.7 1229.8h1.5v1.5h-1.5zM682.4 1237.0h1.5v1.5h-1.5zM676.8 1206.7h1.5v1.5h-1.5z" fill="#1a1a1a"/>
</g>
<rect x="543" y="1114.2" width="257" height="257" fill="none" stroke="#111" stroke-width="1.4"/>
<path d="M539.5 1317.3H543.0M539.5 1305.5H543.0M539.5 1323.0H543.0M539.5 1299.9H543.0M539.5 1328.4H543.0M539.5 1294.7H543.0M539.5 1333.3H543.0M539.5 1289.9H543.0M539.5 1337.8H543.0M539.5 1285.6H543.0M539.5 1341.8H543.0M539.5 1281.8H543.0M539.5 1345.4H543.0M539.5 1278.3H543.0M539.5 1348.7H543.0M539.5 1275.1H543.0M539.5 1351.7H543.0M539.5 1272.2H543.0M539.5 1248.4H543.0M539.5 1236.1H543.0M539.5 1227.4H543.0M539.5 1220.6H543.0M539.5 1215.0H543.0M539.5 1210.3H543.0M539.5 1206.3H543.0M539.5 1202.7H543.0M539.5 1181.2H543.0M539.5 1170.5H543.0M539.5 1162.9H543.0M539.5 1157.0H543.0M539.5 1152.2H543.0M539.5 1148.2H543.0M539.5 1144.6H543.0M539.5 1141.5H543.0M539.5 1120.5H543.0" fill="none" stroke="#111" stroke-width="1.5"/>
<path d="M536.0 1354.5H543.0M536.0 1269.5H543.0M536.0 1199.5H543.0M536.0 1138.8H543.0" fill="none" stroke="#111" stroke-width="2"/>
<path d="M537.4 1311.9H543.0M537.4 1310.7H543.0M537.4 1312.5H543.0M537.4 1310.1H543.0M537.4 1313.1H543.0M537.4 1309.5H543.0M537.4 1313.7H543.0M537.4 1308.9H543.0M537.4 1314.3H543.0M537.4 1308.3H543.0M537.4 1314.9H543.0M537.4 1307.8H543.0M537.4 1315.5H543.0M537.4 1307.2H543.0M537.4 1316.1H543.0M537.4 1306.6H543.0M537.4 1316.7H543.0M537.4 1306.0H543.0M537.4 1311.2H543.0" fill="none" stroke="#111" stroke-width="1.6"/>
<text x="523" y="1142.2" font-size="9.5" text-anchor="middle">10<tspan dy="-5.2" font-size="7.6">5</tspan></text>
<text x="523" y="1203" font-size="9.5" text-anchor="middle">10<tspan dy="-5.2" font-size="7.6">4</tspan></text>
<text x="523" y="1273" font-size="9.5" text-anchor="middle">10<tspan dy="-5.2" font-size="7.6">3</tspan></text>
<text x="526" y="1314.8" font-size="9.5" text-anchor="middle">0</text>
<text x="521" y="1358" font-size="9.5" text-anchor="middle">-10<tspan dy="-5.2" font-size="7.6">3</tspan></text>
<path d="M595.2 1371.2V1374.8M607.0 1371.2V1374.8M589.5 1371.2V1374.8M612.5 1371.2V1374.8M584.1 1371.2V1374.8M617.6 1371.2V1374.8M579.2 1371.2V1374.8M622.3 1371.2V1374.8M574.7 1371.2V1374.8M626.5 1371.2V1374.8M570.7 1371.2V1374.8M630.4 1371.2V1374.8M567.1 1371.2V1374.8M633.8 1371.2V1374.8M563.8 1371.2V1374.8M637.0 1371.2V1374.8M560.8 1371.2V1374.8M639.9 1371.2V1374.8M663.6 1371.2V1374.8M675.9 1371.2V1374.8M684.6 1371.2V1374.8M691.4 1371.2V1374.8M697.0 1371.2V1374.8M701.7 1371.2V1374.8M705.7 1371.2V1374.8M709.3 1371.2V1374.8M730.9 1371.2V1374.8M741.7 1371.2V1374.8M749.4 1371.2V1374.8M755.3 1371.2V1374.8M760.2 1371.2V1374.8M764.3 1371.2V1374.8M767.8 1371.2V1374.8M770.9 1371.2V1374.8M792.2 1371.2V1374.8" fill="none" stroke="#111" stroke-width="1.5"/>
<path d="M558.0 1371.2V1378.2M642.5 1371.2V1378.2M712.5 1371.2V1378.2M773.8 1371.2V1378.2" fill="none" stroke="#111" stroke-width="2"/>
<path d="M600.6 1371.2V1376.8M601.8 1371.2V1376.8M600.0 1371.2V1376.8M602.4 1371.2V1376.8M599.4 1371.2V1376.8M603.0 1371.2V1376.8M598.8 1371.2V1376.8M603.6 1371.2V1376.8M598.2 1371.2V1376.8M604.1 1371.2V1376.8M597.6 1371.2V1376.8M604.7 1371.2V1376.8M597.0 1371.2V1376.8M605.3 1371.2V1376.8M596.4 1371.2V1376.8M605.8 1371.2V1376.8M595.8 1371.2V1376.8M606.4 1371.2V1376.8M601.2 1371.2V1376.8" fill="none" stroke="#111" stroke-width="1.6"/>
<text x="566" y="1392" font-size="9.5" text-anchor="middle">-10<tspan dy="-5.2" font-size="7.6">3</tspan></text>
<text x="606" y="1392" font-size="9.5" text-anchor="middle">0</text>
<text x="649" y="1392" font-size="9.5" text-anchor="middle">10<tspan dy="-5.2" font-size="7.6">3</tspan></text>
<text x="719" y="1392" font-size="9.5" text-anchor="middle">10<tspan dy="-5.2" font-size="7.6">4</tspan></text>
<text x="780" y="1392" font-size="9.5" text-anchor="middle">10<tspan dy="-5.2" font-size="7.6">5</tspan></text>
<rect x="576.8" y="1134.5" width="112.8" height="132.5" fill="none" stroke="#2D2C7C" stroke-width="3"/>
<polygon points="685,1276.2 713.8,1301.2 706.2,1338 670.5,1351.2 642.5,1323.8 650,1287.5" fill="none" stroke="#3EB6D1" stroke-width="3"/>
<text x="697.2" y="1149.5" font-size="15.5" fill="#2D2C7C" textLength="54" lengthAdjust="spacingAndGlyphs">Ly6C<tspan dy="-5.2" font-size="9">pos</tspan></text>
<text x="697.2" y="1172" font-size="15.5" fill="#2D2C7C" textLength="88" lengthAdjust="spacingAndGlyphs">Monocytes</text>
<text x="707.2" y="1262" font-size="15.5" fill="#3EB6D1" textLength="54" lengthAdjust="spacingAndGlyphs">Ly6C<tspan dy="-5.2" font-size="9">neg</tspan></text>
<text x="707.2" y="1283.8" font-size="15.5" fill="#3EB6D1" textLength="88" lengthAdjust="spacingAndGlyphs">Monocytes</text>
<text x="498.8" y="1315.2" font-size="36" transform="rotate(-90 498.8 1315.2)" textLength="181" lengthAdjust="spacingAndGlyphs">Ly6C-BV711</text>
<text x="578" y="1431.2" font-size="33" textLength="188" lengthAdjust="spacingAndGlyphs">Cx3cr1-FITC</text>
<clipPath id="c5"><rect x="187.3" y="1693.7" width="312.6" height="311.1"/></clipPath>
<g clip-path="url(#c5)">
<path d="M257.1 1813.2 257.8 1812.8 258.8 1813.1 260.8 1816.7 262.4 1823.2 263.7 1832.2 266.5 1872.7 267.4 1902.7 269.4 1926.7 268.6 1938.7 266.1 1949.2 262.3 1956.5 260.3 1958.4 257.8 1959.2 255.8 1958.5 253.8 1956.6 249.9 1949.2 247.5 1939.2 246.6 1927.7 248.6 1902.7 249.5 1872.7 252.0 1835.7 254.1 1820.7 255.6 1815.7 257.1 1813.2 M257.7 1823.7 258.3 1823.7 259.3 1824.7 260.4 1827.7 262.6 1841.2 264.9 1876.7 265.7 1903.2 267.9 1927.2 267.1 1937.7 265.1 1946.2 261.8 1952.5 259.8 1954.2 257.8 1954.7 255.8 1954.0 254.3 1952.6 250.9 1946.2 248.9 1938.2 248.1 1927.2 250.3 1902.9 251.1 1876.2 253.4 1841.7 255.3 1828.7 256.3 1825.5 257.7 1823.7 M257.7 1831.2 258.8 1831.6 259.8 1833.9 261.7 1845.7 263.9 1877.7 264.7 1902.7 266.6 1919.2 267.1 1927.2 266.4 1936.2 264.4 1944.7 261.3 1950.4 259.3 1952.0 257.8 1952.2 255.8 1951.5 254.3 1950.0 251.6 1944.7 249.6 1936.7 248.9 1927.2 249.4 1918.7 251.3 1902.7 252.1 1877.7 254.1 1847.7 255.7 1835.7 256.8 1832.3 257.7 1831.2 M257.7 1837.2 258.8 1837.8 259.8 1840.7 261.1 1850.2 263.1 1877.7 263.9 1902.2 266.0 1919.2 266.5 1927.2 265.9 1935.7 264.0 1943.7 261.3 1948.7 259.8 1950.1 257.8 1950.6 254.8 1948.8 252.0 1943.7 250.1 1935.7 249.5 1927.2 250.0 1919.2 252.1 1902.7 252.9 1877.7 254.8 1851.2 256.1 1841.2 257.7 1837.2 M257.7 1843.2 258.3 1843.1 259.3 1845.4 260.7 1855.2 262.5 1879.2 263.3 1902.7 265.6 1919.2 266.0 1927.2 265.4 1935.7 263.5 1943.2 260.8 1947.9 259.3 1949.0 257.8 1949.3 256.3 1948.8 254.8 1947.4 252.1 1942.2 250.5 1935.2 250.0 1927.2 250.4 1919.2 252.8 1902.2 253.5 1879.2 255.2 1855.7 256.3 1847.2 257.7 1843.2 M257.7 1849.2 258.3 1849.2 259.2 1851.7 260.3 1859.5 261.9 1879.7 262.7 1902.2 265.1 1918.7 265.6 1927.2 265.1 1935.2 263.4 1942.2 260.8 1946.8 259.3 1948.0 257.8 1948.3 256.3 1947.7 254.8 1946.3 252.5 1941.7 250.9 1935.2 250.4 1927.2 250.9 1918.7 253.3 1902.2 254.0 1881.2 255.3 1863.6 256.3 1854.2 257.7 1849.2 M257.6 1856.2 258.3 1855.9 258.8 1857.1 260.3 1867.4 261.5 1882.2 262.2 1902.2 264.8 1918.7 265.3 1927.2 264.7 1935.2 263.1 1941.7 260.8 1945.8 259.3 1947.0 257.8 1947.3 255.1 1945.7 252.7 1941.2 251.2 1934.7 250.7 1927.2 251.2 1919.2 253.8 1902.2 255.6 1868.7 256.8 1858.9 257.6 1856.2 M257.7 1863.2 258.3 1863.2 258.8 1864.5 259.8 1870.7 260.9 1882.7 261.7 1902.2 264.5 1919.2 265.0 1927.2 264.5 1934.7 263.0 1940.7 260.8 1944.9 259.3 1946.2 257.8 1946.5 255.3 1945.0 253.0 1940.7 251.5 1934.7 251.0 1927.2 251.6 1918.7 254.3 1901.7 255.8 1873.9 256.8 1866.3 257.7 1863.2 M257.7 1870.2 258.3 1870.2 258.8 1871.5 259.8 1877.6 261.1 1901.7 264.1 1918.7 264.7 1927.2 264.2 1934.7 262.6 1940.7 260.3 1944.6 257.8 1945.7 255.3 1944.2 253.2 1940.2 251.8 1934.2 251.3 1927.2 251.9 1918.2 254.8 1902.7 255.9 1880.7 256.8 1873.3 257.7 1870.2 M257.7 1877.2 258.3 1877.2 259.3 1881.5 260.6 1901.7 263.8 1918.2 264.5 1927.2 264.0 1934.2 262.4 1940.2 260.3 1943.8 257.8 1945.0 255.3 1943.4 253.4 1939.7 252.0 1934.2 251.5 1927.2 252.2 1918.7 255.4 1901.7 256.4 1884.7 257.7 1877.2 M257.7 1885.2 258.3 1885.1 258.8 1887.5 259.9 1901.2 263.4 1917.7 264.2 1927.2 263.7 1934.2 262.3 1939.6 260.3 1943.1 257.8 1944.3 255.3 1942.7 253.5 1939.2 252.2 1933.7 251.8 1927.2 252.6 1917.7 256.2 1901.2 257.7 1885.2 M257.8 1900.2 258.3 1900.2 258.8 1901.4 262.5 1914.7 263.6 1921.2 264.0 1927.2 263.5 1933.7 262.1 1939.2 260.3 1942.4 257.8 1943.6 255.6 1942.2 253.7 1938.7 252.5 1933.7 252.0 1927.2 253.3 1915.7 257.8 1900.2 M257.7 1906.2 258.3 1906.2 259.3 1907.4 261.6 1913.7 263.0 1920.2 263.5 1926.7 263.1 1933.2 261.8 1938.2 259.8 1941.6 257.8 1942.4 255.8 1941.1 254.0 1937.7 252.9 1933.2 252.5 1927.2 252.8 1921.2 254.0 1915.2 255.8 1909.3 257.7 1906.2 M257.3 1909.7 258.8 1909.7 260.8 1913.5 262.4 1919.7 263.0 1926.2 262.8 1931.7 261.7 1936.7 259.8 1940.2 257.8 1941.1 255.8 1939.7 254.3 1936.7 253.0 1927.7 254.1 1917.2 255.8 1912.0 257.3 1909.7 M257.2 1912.2 258.8 1912.1 260.3 1914.5 261.8 1919.4 262.5 1925.2 262.4 1930.7 261.5 1935.2 260.2 1938.2 258.3 1939.7 256.7 1939.2 255.0 1936.7 253.5 1928.7 254.3 1919.0 255.8 1914.2 257.2 1912.2 M257.3 1914.2 258.8 1914.3 260.3 1916.6 261.6 1921.2 262.0 1926.2 261.8 1931.2 260.8 1935.2 259.3 1937.7 257.8 1938.3 256.3 1937.3 255.2 1935.2 254.0 1927.7 254.8 1919.5 255.8 1916.4 257.3 1914.2 M257.1 1916.2 258.3 1915.8 259.8 1917.4 260.9 1920.7 261.5 1925.2 260.8 1933.2 259.8 1935.7 258.3 1937.0 256.8 1936.5 255.8 1934.9 254.5 1928.7 255.0 1921.2 257.1 1916.2 M257.7 1917.7 258.8 1918.0 259.8 1919.7 261.0 1926.7 260.1 1933.2 258.8 1935.2 257.8 1935.5 256.8 1934.8 255.8 1932.9 255.0 1927.2 255.8 1920.7 256.8 1918.5 257.7 1917.7 M257.7 1919.7 258.8 1920.1 259.5 1921.2 260.4 1926.7 259.8 1931.7 258.8 1933.5 257.8 1933.8 256.3 1931.9 255.6 1927.2 256.2 1922.2 257.7 1919.7 M257.6 1922.2 258.3 1922.1 258.8 1922.7 259.7 1926.7 259.2 1930.2 257.8 1931.7 256.8 1930.3 256.3 1927.2 256.8 1923.7 257.6 1922.2" fill="none" stroke="#444" stroke-width="0.8"/>
<path d="M260.4 1809.2h1.5v1.5h-1.5zM258.7 1784.0h1.5v1.5h-1.5zM256.6 1773.4h1.5v1.5h-1.5zM254.7 1772.6h1.5v1.5h-1.5zM254.3 1765.4h1.5v1.5h-1.5zM259.4 1716.1h1.5v1.5h-1.5zM255.8 1789.2h1.5v1.5h-1.5zM252.8 1786.0h1.5v1.5h-1.5zM256.3 1747.7h1.5v1.5h-1.5zM257.6 1793.3h1.5v1.5h-1.5zM262.0 1769.1h1.5v1.5h-1.5zM262.4 1760.7h1.5v1.5h-1.5zM260.7 1796.4h1.5v1.5h-1.5zM257.6 1789.0h1.5v1.5h-1.5zM256.5 1748.6h1.5v1.5h-1.5zM251.4 1807.2h1.5v1.5h-1.5zM260.4 1780.2h1.5v1.5h-1.5zM256.3 1725.1h1.5v1.5h-1.5zM255.6 1779.7h1.5v1.5h-1.5zM255.4 1769.2h1.5v1.5h-1.5zM259.3 1797.0h1.5v1.5h-1.5zM257.6 1752.4h1.5v1.5h-1.5zM255.9 1792.9h1.5v1.5h-1.5zM260.2 1767.7h1.5v1.5h-1.5zM265.2 1850.5h1.5v1.5h-1.5zM254.5 1767.6h1.5v1.5h-1.5zM255.8 1776.7h1.5v1.5h-1.5zM259.7 1767.1h1.5v1.5h-1.5zM255.2 1774.9h1.5v1.5h-1.5zM254.1 1796.0h1.5v1.5h-1.5zM253.9 1789.4h1.5v1.5h-1.5zM258.9 1807.3h1.5v1.5h-1.5zM257.2 1798.6h1.5v1.5h-1.5zM258.8 1756.1h1.5v1.5h-1.5zM260.4 1777.1h1.5v1.5h-1.5zM259.9 1808.1h1.5v1.5h-1.5zM254.0 1785.0h1.5v1.5h-1.5zM253.9 1777.2h1.5v1.5h-1.5zM255.1 1801.7h1.5v1.5h-1.5zM258.8 1800.1h1.5v1.5h-1.5zM257.3 1770.2h1.5v1.5h-1.5zM261.7 1777.4h1.5v1.5h-1.5zM255.1 1773.5h1.5v1.5h-1.5zM255.0 1789.0h1.5v1.5h-1.5zM260.5 1748.0h1.5v1.5h-1.5zM255.4 1797.3h1.5v1.5h-1.5zM254.6 1773.7h1.5v1.5h-1.5zM260.0 1759.8h1.5v1.5h-1.5zM255.2 1788.6h1.5v1.5h-1.5zM263.0 1762.8h1.5v1.5h-1.5zM259.1 1809.7h1.5v1.5h-1.5zM249.7 1737.2h1.5v1.5h-1.5zM254.5 1788.7h1.5v1.5h-1.5zM260.2 1725.4h1.5v1.5h-1.5zM256.0 1752.6h1.5v1.5h-1.5zM255.7 1765.6h1.5v1.5h-1.5zM258.2 1765.4h1.5v1.5h-1.5zM256.9 1792.9h1.5v1.5h-1.5zM263.2 1775.3h1.5v1.5h-1.5zM254.8 1770.4h1.5v1.5h-1.5zM251.2 1783.0h1.5v1.5h-1.5zM256.1 1776.5h1.5v1.5h-1.5zM253.2 1791.6h1.5v1.5h-1.5zM259.6 1711.9h1.5v1.5h-1.5zM259.7 1782.5h1.5v1.5h-1.5zM259.0 1803.3h1.5v1.5h-1.5zM262.0 1758.0h1.5v1.5h-1.5zM260.0 1764.7h1.5v1.5h-1.5zM262.7 1767.2h1.5v1.5h-1.5zM254.8 1739.4h1.5v1.5h-1.5zM255.2 1812.7h1.5v1.5h-1.5zM251.8 1813.1h1.5v1.5h-1.5zM257.5 1764.3h1.5v1.5h-1.5zM251.8 1765.8h1.5v1.5h-1.5zM257.2 1745.6h1.5v1.5h-1.5zM259.8 1745.0h1.5v1.5h-1.5zM253.3 1770.7h1.5v1.5h-1.5zM252.7 1794.8h1.5v1.5h-1.5zM257.7 1788.2h1.5v1.5h-1.5zM259.9 1739.5h1.5v1.5h-1.5zM257.9 1763.4h1.5v1.5h-1.5zM259.0 1782.3h1.5v1.5h-1.5zM256.5 1801.3h1.5v1.5h-1.5zM253.7 1737.6h1.5v1.5h-1.5zM251.1 1786.0h1.5v1.5h-1.5zM254.3 1729.2h1.5v1.5h-1.5zM252.5 1752.4h1.5v1.5h-1.5zM251.7 1757.5h1.5v1.5h-1.5zM261.0 1804.0h1.5v1.5h-1.5zM251.4 1765.9h1.5v1.5h-1.5zM260.5 1732.8h1.5v1.5h-1.5zM254.5 1800.8h1.5v1.5h-1.5zM261.7 1781.9h1.5v1.5h-1.5zM255.7 1796.2h1.5v1.5h-1.5zM258.8 1798.7h1.5v1.5h-1.5zM255.1 1783.7h1.5v1.5h-1.5zM262.2 1746.2h1.5v1.5h-1.5zM257.0 1810.3h1.5v1.5h-1.5zM255.8 1785.1h1.5v1.5h-1.5zM254.2 1792.0h1.5v1.5h-1.5zM254.0 1776.4h1.5v1.5h-1.5zM253.9 1762.5h1.5v1.5h-1.5zM257.4 1747.9h1.5v1.5h-1.5zM258.8 1798.0h1.5v1.5h-1.5zM259.6 1756.9h1.5v1.5h-1.5zM253.8 1731.9h1.5v1.5h-1.5zM260.9 1760.7h1.5v1.5h-1.5zM262.8 1736.2h1.5v1.5h-1.5zM261.1 1803.8h1.5v1.5h-1.5zM257.8 1761.0h1.5v1.5h-1.5zM252.6 1778.7h1.5v1.5h-1.5zM257.6 1748.7h1.5v1.5h-1.5zM258.3 1795.3h1.5v1.5h-1.5zM255.5 1756.4h1.5v1.5h-1.5zM258.7 1779.8h1.5v1.5h-1.5zM260.0 1800.1h1.5v1.5h-1.5zM260.6 1784.2h1.5v1.5h-1.5zM256.8 1759.9h1.5v1.5h-1.5zM258.3 1753.5h1.5v1.5h-1.5zM251.8 1780.2h1.5v1.5h-1.5zM260.1 1774.7h1.5v1.5h-1.5zM254.8 1738.5h1.5v1.5h-1.5zM265.6 1748.4h1.5v1.5h-1.5zM253.5 1785.0h1.5v1.5h-1.5zM255.2 1786.7h1.5v1.5h-1.5zM258.3 1762.6h1.5v1.5h-1.5zM257.0 1801.3h1.5v1.5h-1.5zM252.7 1762.3h1.5v1.5h-1.5zM260.4 1766.6h1.5v1.5h-1.5zM256.3 1789.6h1.5v1.5h-1.5zM257.1 1796.7h1.5v1.5h-1.5zM263.3 1769.1h1.5v1.5h-1.5zM260.2 1745.5h1.5v1.5h-1.5zM253.2 1784.0h1.5v1.5h-1.5zM253.4 1773.2h1.5v1.5h-1.5zM261.8 1778.2h1.5v1.5h-1.5zM259.2 1770.3h1.5v1.5h-1.5zM260.7 1806.4h1.5v1.5h-1.5zM254.1 1812.9h1.5v1.5h-1.5zM258.9 1748.7h1.5v1.5h-1.5zM250.5 1802.5h1.5v1.5h-1.5zM254.3 1791.4h1.5v1.5h-1.5zM259.9 1748.9h1.5v1.5h-1.5zM259.8 1756.4h1.5v1.5h-1.5zM254.7 1779.4h1.5v1.5h-1.5zM257.6 1763.1h1.5v1.5h-1.5zM256.1 1801.8h1.5v1.5h-1.5zM259.2 1790.4h1.5v1.5h-1.5zM262.4 1791.9h1.5v1.5h-1.5zM259.6 1798.6h1.5v1.5h-1.5zM260.7 1765.0h1.5v1.5h-1.5zM260.0 1759.5h1.5v1.5h-1.5zM255.5 1801.6h1.5v1.5h-1.5zM259.7 1792.7h1.5v1.5h-1.5zM258.4 1740.4h1.5v1.5h-1.5zM254.7 1796.2h1.5v1.5h-1.5zM262.2 1801.5h1.5v1.5h-1.5zM254.3 1757.0h1.5v1.5h-1.5zM261.9 1755.1h1.5v1.5h-1.5zM252.9 1781.6h1.5v1.5h-1.5zM256.6 1779.0h1.5v1.5h-1.5zM253.4 1813.1h1.5v1.5h-1.5zM262.5 1778.7h1.5v1.5h-1.5zM262.1 1793.6h1.5v1.5h-1.5zM254.9 1740.6h1.5v1.5h-1.5zM256.8 1778.3h1.5v1.5h-1.5zM258.2 1768.7h1.5v1.5h-1.5zM259.7 1779.4h1.5v1.5h-1.5zM260.8 1772.5h1.5v1.5h-1.5zM255.6 1806.9h1.5v1.5h-1.5zM258.3 1764.5h1.5v1.5h-1.5zM254.1 1785.6h1.5v1.5h-1.5zM255.0 1763.9h1.5v1.5h-1.5zM255.1 1789.6h1.5v1.5h-1.5zM258.2 1782.8h1.5v1.5h-1.5zM257.9 1756.7h1.5v1.5h-1.5zM263.6 1745.7h1.5v1.5h-1.5zM263.9 1785.3h1.5v1.5h-1.5zM259.6 1779.1h1.5v1.5h-1.5zM263.0 1750.7h1.5v1.5h-1.5zM258.8 1758.8h1.5v1.5h-1.5zM257.1 1728.1h1.5v1.5h-1.5zM256.0 1781.3h1.5v1.5h-1.5zM255.2 1797.6h1.5v1.5h-1.5zM261.1 1732.9h1.5v1.5h-1.5zM254.6 1810.7h1.5v1.5h-1.5zM264.3 1796.1h1.5v1.5h-1.5zM257.8 1777.3h1.5v1.5h-1.5zM257.5 1802.5h1.5v1.5h-1.5zM254.0 1719.8h1.5v1.5h-1.5zM259.0 1761.7h1.5v1.5h-1.5zM255.1 1805.4h1.5v1.5h-1.5zM259.0 1780.0h1.5v1.5h-1.5zM254.0 1794.5h1.5v1.5h-1.5zM254.0 1785.7h1.5v1.5h-1.5zM257.0 1771.7h1.5v1.5h-1.5zM255.5 1759.6h1.5v1.5h-1.5zM254.0 1761.3h1.5v1.5h-1.5zM256.7 1759.4h1.5v1.5h-1.5zM259.3 1769.6h1.5v1.5h-1.5zM258.3 1766.4h1.5v1.5h-1.5zM264.1 1770.6h1.5v1.5h-1.5zM256.0 1787.7h1.5v1.5h-1.5zM256.7 1787.0h1.5v1.5h-1.5zM259.2 1773.1h1.5v1.5h-1.5zM263.8 1735.6h1.5v1.5h-1.5zM259.1 1788.5h1.5v1.5h-1.5zM259.7 1762.7h1.5v1.5h-1.5zM255.4 1773.9h1.5v1.5h-1.5zM254.2 1773.8h1.5v1.5h-1.5zM259.2 1774.6h1.5v1.5h-1.5zM260.2 1800.8h1.5v1.5h-1.5zM261.0 1781.8h1.5v1.5h-1.5zM258.0 1772.3h1.5v1.5h-1.5zM259.7 1768.9h1.5v1.5h-1.5zM252.8 1759.5h1.5v1.5h-1.5zM260.0 1807.1h1.5v1.5h-1.5zM262.7 1759.4h1.5v1.5h-1.5zM259.3 1778.9h1.5v1.5h-1.5zM257.6 1734.8h1.5v1.5h-1.5zM254.5 1759.9h1.5v1.5h-1.5zM263.2 1754.8h1.5v1.5h-1.5zM250.0 1760.9h1.5v1.5h-1.5zM253.1 1783.8h1.5v1.5h-1.5zM253.0 1793.8h1.5v1.5h-1.5zM255.5 1774.3h1.5v1.5h-1.5zM249.6 1795.7h1.5v1.5h-1.5zM258.0 1780.4h1.5v1.5h-1.5zM257.2 1706.9h1.5v1.5h-1.5zM250.7 1758.0h1.5v1.5h-1.5zM257.7 1745.6h1.5v1.5h-1.5zM259.7 1743.7h1.5v1.5h-1.5zM255.6 1774.1h1.5v1.5h-1.5zM260.4 1743.4h1.5v1.5h-1.5zM258.0 1752.1h1.5v1.5h-1.5zM256.7 1787.6h1.5v1.5h-1.5zM257.1 1750.4h1.5v1.5h-1.5zM253.9 1763.2h1.5v1.5h-1.5zM262.9 1733.2h1.5v1.5h-1.5zM258.5 1729.7h1.5v1.5h-1.5zM255.4 1771.3h1.5v1.5h-1.5zM260.1 1765.6h1.5v1.5h-1.5zM258.3 1787.0h1.5v1.5h-1.5zM256.4 1779.5h1.5v1.5h-1.5zM257.5 1798.6h1.5v1.5h-1.5zM257.2 1748.7h1.5v1.5h-1.5zM254.2 1794.1h1.5v1.5h-1.5zM262.9 1782.6h1.5v1.5h-1.5zM257.1 1751.7h1.5v1.5h-1.5zM260.3 1785.6h1.5v1.5h-1.5zM258.1 1776.5h1.5v1.5h-1.5zM258.9 1766.7h1.5v1.5h-1.5zM256.4 1759.3h1.5v1.5h-1.5zM260.3 1788.4h1.5v1.5h-1.5zM259.8 1786.6h1.5v1.5h-1.5zM258.2 1798.6h1.5v1.5h-1.5zM260.4 1771.3h1.5v1.5h-1.5zM259.9 1794.4h1.5v1.5h-1.5zM255.5 1755.8h1.5v1.5h-1.5zM262.4 1751.8h1.5v1.5h-1.5zM267.5 1863.0h1.5v1.5h-1.5zM263.4 1766.4h1.5v1.5h-1.5zM253.5 1789.5h1.5v1.5h-1.5zM263.9 1762.4h1.5v1.5h-1.5zM261.3 1754.4h1.5v1.5h-1.5zM259.2 1745.1h1.5v1.5h-1.5zM255.0 1798.3h1.5v1.5h-1.5zM256.0 1757.2h1.5v1.5h-1.5zM253.3 1781.3h1.5v1.5h-1.5zM256.7 1768.3h1.5v1.5h-1.5zM260.5 1769.7h1.5v1.5h-1.5zM256.0 1754.4h1.5v1.5h-1.5zM259.0 1780.0h1.5v1.5h-1.5zM256.0 1738.3h1.5v1.5h-1.5zM257.2 1772.0h1.5v1.5h-1.5zM254.5 1781.9h1.5v1.5h-1.5zM254.5 1785.0h1.5v1.5h-1.5zM259.4 1768.8h1.5v1.5h-1.5zM261.5 1743.2h1.5v1.5h-1.5zM256.6 1746.7h1.5v1.5h-1.5zM253.0 1759.8h1.5v1.5h-1.5zM255.7 1777.4h1.5v1.5h-1.5zM247.5 1904.4h1.5v1.5h-1.5zM256.9 1770.7h1.5v1.5h-1.5zM256.1 1798.1h1.5v1.5h-1.5zM256.2 1774.9h1.5v1.5h-1.5zM256.9 1783.9h1.5v1.5h-1.5zM256.2 1773.8h1.5v1.5h-1.5zM260.6 1792.4h1.5v1.5h-1.5zM252.2 1756.3h1.5v1.5h-1.5zM261.4 1784.4h1.5v1.5h-1.5zM258.9 1765.0h1.5v1.5h-1.5zM258.8 1796.9h1.5v1.5h-1.5zM255.2 1782.3h1.5v1.5h-1.5zM250.2 1772.6h1.5v1.5h-1.5zM252.9 1769.1h1.5v1.5h-1.5zM257.8 1770.0h1.5v1.5h-1.5zM260.8 1801.4h1.5v1.5h-1.5zM254.2 1777.9h1.5v1.5h-1.5zM253.8 1734.3h1.5v1.5h-1.5zM258.2 1769.8h1.5v1.5h-1.5zM255.5 1779.9h1.5v1.5h-1.5zM257.2 1793.7h1.5v1.5h-1.5zM254.5 1794.8h1.5v1.5h-1.5zM262.6 1765.2h1.5v1.5h-1.5zM254.5 1743.4h1.5v1.5h-1.5zM260.3 1763.6h1.5v1.5h-1.5zM266.4 1784.0h1.5v1.5h-1.5zM254.8 1782.9h1.5v1.5h-1.5zM254.3 1776.1h1.5v1.5h-1.5zM255.8 1788.7h1.5v1.5h-1.5zM254.4 1769.0h1.5v1.5h-1.5zM262.9 1794.3h1.5v1.5h-1.5zM254.1 1759.5h1.5v1.5h-1.5zM261.6 1776.0h1.5v1.5h-1.5zM256.3 1808.0h1.5v1.5h-1.5zM255.2 1753.4h1.5v1.5h-1.5zM259.1 1813.3h1.5v1.5h-1.5zM250.9 1782.7h1.5v1.5h-1.5zM257.6 1773.9h1.5v1.5h-1.5zM257.3 1740.0h1.5v1.5h-1.5zM257.2 1775.0h1.5v1.5h-1.5zM257.6 1810.5h1.5v1.5h-1.5zM257.2 1771.9h1.5v1.5h-1.5zM253.4 1796.7h1.5v1.5h-1.5zM257.1 1778.2h1.5v1.5h-1.5zM253.1 1794.7h1.5v1.5h-1.5zM256.0 1790.0h1.5v1.5h-1.5zM259.5 1768.8h1.5v1.5h-1.5zM258.0 1724.4h1.5v1.5h-1.5zM260.6 1739.7h1.5v1.5h-1.5zM259.4 1806.8h1.5v1.5h-1.5zM252.2 1806.2h1.5v1.5h-1.5zM256.7 1774.7h1.5v1.5h-1.5zM256.9 1776.6h1.5v1.5h-1.5zM262.6 1791.2h1.5v1.5h-1.5zM258.5 1760.2h1.5v1.5h-1.5zM258.0 1804.5h1.5v1.5h-1.5zM251.0 1793.9h1.5v1.5h-1.5zM254.8 1760.7h1.5v1.5h-1.5zM253.4 1774.7h1.5v1.5h-1.5zM255.5 1802.2h1.5v1.5h-1.5zM254.4 1781.5h1.5v1.5h-1.5zM255.8 1796.9h1.5v1.5h-1.5zM255.4 1792.0h1.5v1.5h-1.5zM258.8 1760.0h1.5v1.5h-1.5zM264.3 1755.1h1.5v1.5h-1.5zM256.8 1774.4h1.5v1.5h-1.5zM257.4 1771.8h1.5v1.5h-1.5zM253.5 1766.0h1.5v1.5h-1.5zM255.3 1765.5h1.5v1.5h-1.5zM257.2 1763.9h1.5v1.5h-1.5zM260.1 1794.4h1.5v1.5h-1.5zM255.2 1787.0h1.5v1.5h-1.5zM253.5 1783.3h1.5v1.5h-1.5zM255.2 1772.2h1.5v1.5h-1.5zM259.7 1751.8h1.5v1.5h-1.5zM253.0 1761.7h1.5v1.5h-1.5zM259.7 1742.5h1.5v1.5h-1.5zM252.7 1770.3h1.5v1.5h-1.5zM261.2 1760.5h1.5v1.5h-1.5zM257.3 1791.7h1.5v1.5h-1.5zM254.3 1795.2h1.5v1.5h-1.5zM258.4 1758.3h1.5v1.5h-1.5zM256.8 1770.4h1.5v1.5h-1.5zM262.9 1807.0h1.5v1.5h-1.5zM259.0 1760.8h1.5v1.5h-1.5zM252.5 1776.0h1.5v1.5h-1.5zM256.8 1784.2h1.5v1.5h-1.5zM257.1 1740.9h1.5v1.5h-1.5zM256.0 1810.1h1.5v1.5h-1.5zM254.7 1805.4h1.5v1.5h-1.5zM253.9 1806.0h1.5v1.5h-1.5zM256.9 1770.4h1.5v1.5h-1.5zM256.5 1803.8h1.5v1.5h-1.5zM255.1 1765.4h1.5v1.5h-1.5zM257.8 1801.2h1.5v1.5h-1.5zM256.3 1754.3h1.5v1.5h-1.5zM263.4 1795.4h1.5v1.5h-1.5zM255.0 1738.1h1.5v1.5h-1.5zM252.4 1760.6h1.5v1.5h-1.5zM255.3 1790.5h1.5v1.5h-1.5zM257.7 1790.1h1.5v1.5h-1.5zM257.3 1763.0h1.5v1.5h-1.5zM251.3 1761.7h1.5v1.5h-1.5zM258.3 1738.0h1.5v1.5h-1.5zM251.3 1787.5h1.5v1.5h-1.5zM257.5 1762.1h1.5v1.5h-1.5zM255.5 1788.4h1.5v1.5h-1.5zM254.8 1752.7h1.5v1.5h-1.5zM252.4 1766.7h1.5v1.5h-1.5zM259.3 1767.6h1.5v1.5h-1.5zM253.3 1786.3h1.5v1.5h-1.5zM257.3 1798.0h1.5v1.5h-1.5zM254.9 1717.0h1.5v1.5h-1.5zM262.1 1779.4h1.5v1.5h-1.5zM257.1 1788.6h1.5v1.5h-1.5zM257.9 1745.5h1.5v1.5h-1.5zM252.1 1783.6h1.5v1.5h-1.5zM257.1 1779.7h1.5v1.5h-1.5zM256.6 1754.5h1.5v1.5h-1.5zM262.0 1730.3h1.5v1.5h-1.5zM256.9 1773.5h1.5v1.5h-1.5zM262.2 1786.3h1.5v1.5h-1.5zM259.9 1750.5h1.5v1.5h-1.5zM259.0 1769.1h1.5v1.5h-1.5zM258.0 1758.6h1.5v1.5h-1.5zM260.5 1764.5h1.5v1.5h-1.5zM260.2 1768.9h1.5v1.5h-1.5zM259.2 1798.1h1.5v1.5h-1.5zM258.3 1785.5h1.5v1.5h-1.5zM256.2 1755.3h1.5v1.5h-1.5zM255.6 1747.1h1.5v1.5h-1.5zM259.4 1750.9h1.5v1.5h-1.5zM256.0 1776.9h1.5v1.5h-1.5zM257.2 1786.5h1.5v1.5h-1.5zM256.1 1738.3h1.5v1.5h-1.5zM256.0 1794.9h1.5v1.5h-1.5zM255.0 1790.6h1.5v1.5h-1.5zM258.5 1755.8h1.5v1.5h-1.5zM255.9 1756.0h1.5v1.5h-1.5zM253.6 1767.2h1.5v1.5h-1.5zM258.1 1765.6h1.5v1.5h-1.5zM250.2 1772.8h1.5v1.5h-1.5zM261.8 1789.3h1.5v1.5h-1.5zM260.0 1796.8h1.5v1.5h-1.5zM257.0 1788.5h1.5v1.5h-1.5zM250.8 1807.2h1.5v1.5h-1.5zM259.7 1731.7h1.5v1.5h-1.5zM255.9 1740.5h1.5v1.5h-1.5zM254.3 1780.3h1.5v1.5h-1.5zM257.3 1764.0h1.5v1.5h-1.5zM253.1 1771.1h1.5v1.5h-1.5zM257.2 1764.1h1.5v1.5h-1.5zM257.7 1785.4h1.5v1.5h-1.5zM256.8 1751.7h1.5v1.5h-1.5zM258.4 1779.5h1.5v1.5h-1.5zM255.6 1762.5h1.5v1.5h-1.5zM254.0 1789.5h1.5v1.5h-1.5zM253.5 1770.8h1.5v1.5h-1.5zM264.6 1719.9h1.5v1.5h-1.5zM261.1 1760.0h1.5v1.5h-1.5zM261.9 1774.2h1.5v1.5h-1.5zM259.2 1787.4h1.5v1.5h-1.5zM253.7 1759.7h1.5v1.5h-1.5zM259.5 1747.6h1.5v1.5h-1.5zM255.8 1762.0h1.5v1.5h-1.5zM262.5 1746.0h1.5v1.5h-1.5zM257.9 1767.1h1.5v1.5h-1.5zM255.3 1769.4h1.5v1.5h-1.5zM256.8 1786.1h1.5v1.5h-1.5zM256.8 1789.8h1.5v1.5h-1.5zM260.0 1742.6h1.5v1.5h-1.5zM254.7 1792.5h1.5v1.5h-1.5zM254.0 1764.9h1.5v1.5h-1.5zM262.4 1796.6h1.5v1.5h-1.5zM259.9 1747.9h1.5v1.5h-1.5zM254.6 1755.2h1.5v1.5h-1.5zM255.0 1778.5h1.5v1.5h-1.5zM254.4 1725.7h1.5v1.5h-1.5zM255.5 1775.3h1.5v1.5h-1.5zM259.3 1779.3h1.5v1.5h-1.5zM259.3 1787.0h1.5v1.5h-1.5zM256.5 1744.0h1.5v1.5h-1.5zM258.3 1757.2h1.5v1.5h-1.5zM255.0 1802.8h1.5v1.5h-1.5zM258.0 1774.7h1.5v1.5h-1.5zM259.4 1759.4h1.5v1.5h-1.5zM259.9 1767.5h1.5v1.5h-1.5zM255.3 1766.7h1.5v1.5h-1.5zM268.3 1783.2h1.5v1.5h-1.5zM252.7 1816.0h1.5v1.5h-1.5zM258.8 1751.9h1.5v1.5h-1.5zM259.0 1752.9h1.5v1.5h-1.5zM257.5 1803.1h1.5v1.5h-1.5zM254.5 1785.5h1.5v1.5h-1.5zM258.0 1776.3h1.5v1.5h-1.5zM257.9 1776.3h1.5v1.5h-1.5zM259.3 1761.1h1.5v1.5h-1.5zM257.5 1765.3h1.5v1.5h-1.5zM253.3 1778.0h1.5v1.5h-1.5zM255.2 1782.8h1.5v1.5h-1.5zM258.8 1779.5h1.5v1.5h-1.5zM257.4 1776.2h1.5v1.5h-1.5zM261.7 1794.5h1.5v1.5h-1.5zM256.3 1749.8h1.5v1.5h-1.5zM253.2 1792.6h1.5v1.5h-1.5zM260.0 1789.2h1.5v1.5h-1.5zM261.4 1784.9h1.5v1.5h-1.5zM253.9 1785.4h1.5v1.5h-1.5zM261.8 1759.9h1.5v1.5h-1.5zM255.9 1769.1h1.5v1.5h-1.5zM252.8 1791.1h1.5v1.5h-1.5zM261.4 1765.0h1.5v1.5h-1.5zM257.8 1794.8h1.5v1.5h-1.5zM262.0 1766.7h1.5v1.5h-1.5zM254.1 1752.2h1.5v1.5h-1.5zM253.7 1776.6h1.5v1.5h-1.5zM259.5 1763.6h1.5v1.5h-1.5zM255.2 1760.3h1.5v1.5h-1.5zM257.7 1750.1h1.5v1.5h-1.5zM253.2 1778.6h1.5v1.5h-1.5zM253.0 1742.6h1.5v1.5h-1.5zM257.7 1760.9h1.5v1.5h-1.5zM262.0 1759.5h1.5v1.5h-1.5zM258.3 1785.3h1.5v1.5h-1.5zM257.6 1744.8h1.5v1.5h-1.5zM253.4 1725.6h1.5v1.5h-1.5zM255.9 1762.7h1.5v1.5h-1.5zM257.6 1776.0h1.5v1.5h-1.5zM255.6 1773.1h1.5v1.5h-1.5zM262.6 1768.6h1.5v1.5h-1.5zM257.9 1735.3h1.5v1.5h-1.5zM259.4 1753.5h1.5v1.5h-1.5zM257.2 1749.3h1.5v1.5h-1.5zM258.8 1786.6h1.5v1.5h-1.5zM258.0 1784.1h1.5v1.5h-1.5zM256.1 1748.9h1.5v1.5h-1.5zM256.9 1711.1h1.5v1.5h-1.5zM253.7 1790.5h1.5v1.5h-1.5zM254.4 1766.7h1.5v1.5h-1.5zM257.5 1781.7h1.5v1.5h-1.5zM256.7 1799.6h1.5v1.5h-1.5zM258.3 1750.3h1.5v1.5h-1.5zM252.6 1784.1h1.5v1.5h-1.5zM258.1 1800.6h1.5v1.5h-1.5zM259.5 1749.4h1.5v1.5h-1.5zM256.2 1752.5h1.5v1.5h-1.5zM256.2 1772.6h1.5v1.5h-1.5zM253.5 1751.6h1.5v1.5h-1.5zM258.8 1754.9h1.5v1.5h-1.5zM252.9 1764.3h1.5v1.5h-1.5zM259.2 1773.9h1.5v1.5h-1.5zM253.4 1771.0h1.5v1.5h-1.5zM254.4 1778.8h1.5v1.5h-1.5zM259.4 1787.1h1.5v1.5h-1.5zM258.0 1804.3h1.5v1.5h-1.5zM252.3 1793.0h1.5v1.5h-1.5zM259.0 1804.0h1.5v1.5h-1.5zM257.3 1762.2h1.5v1.5h-1.5zM260.9 1815.0h1.5v1.5h-1.5zM250.7 1739.5h1.5v1.5h-1.5zM255.4 1786.1h1.5v1.5h-1.5zM260.6 1768.9h1.5v1.5h-1.5zM257.8 1746.7h1.5v1.5h-1.5zM256.2 1802.0h1.5v1.5h-1.5zM259.4 1775.5h1.5v1.5h-1.5zM256.1 1756.0h1.5v1.5h-1.5zM261.2 1745.5h1.5v1.5h-1.5zM252.0 1820.2h1.5v1.5h-1.5zM257.2 1784.6h1.5v1.5h-1.5zM252.0 1784.1h1.5v1.5h-1.5zM259.8 1798.6h1.5v1.5h-1.5zM260.5 1780.8h1.5v1.5h-1.5zM259.3 1778.4h1.5v1.5h-1.5zM256.7 1772.7h1.5v1.5h-1.5zM258.3 1766.2h1.5v1.5h-1.5zM250.5 1774.7h1.5v1.5h-1.5zM260.1 1762.5h1.5v1.5h-1.5zM256.5 1776.1h1.5v1.5h-1.5z" fill="#1a1a1a"/>
</g>
<rect x="187.3" y="1693.7" width="312.6" height="311.1" fill="none" stroke="#111" stroke-width="1.8"/>
<path d="M183.3 1991.4H187.3M183.3 1979.6H187.3M183.3 1967.8H187.3M183.3 1956.0H187.3M183.3 1932.4H187.3M183.3 1920.6H187.3M183.3 1908.8H187.3M183.3 1897.0H187.3M183.3 1873.4H187.3M183.3 1861.6H187.3M183.3 1849.8H187.3M183.3 1838.0H187.3M183.3 1814.4H187.3M183.3 1802.6H187.3M183.3 1790.8H187.3M183.3 1779.0H187.3M183.3 1755.4H187.3M183.3 1743.6H187.3M183.3 1731.8H187.3M183.3 1720.0H187.3M183.3 1696.4H187.3" fill="none" stroke="#111" stroke-width="1.5"/>
<path d="M178.3 2003.2H187.3M178.3 1944.2H187.3M178.3 1885.2H187.3M178.3 1826.2H187.3M178.3 1767.2H187.3M178.3 1708.2H187.3" fill="none" stroke="#111" stroke-width="2.4"/>
<text x="173.3" y="2007.4" font-size="11.5" text-anchor="end">0</text>
<text x="173.3" y="1948.4" font-size="11.5" text-anchor="end" textLength="26" lengthAdjust="spacingAndGlyphs">50K</text>
<text x="173.3" y="1889.4" font-size="11.5" text-anchor="end" textLength="26" lengthAdjust="spacingAndGlyphs">100K</text>
<text x="173.3" y="1830.4" font-size="11.5" text-anchor="end" textLength="26" lengthAdjust="spacingAndGlyphs">150K</text>
<text x="173.3" y="1771.4" font-size="11.5" text-anchor="end" textLength="26" lengthAdjust="spacingAndGlyphs">200K</text>
<text x="173.3" y="1712.4" font-size="11.5" text-anchor="end" textLength="26" lengthAdjust="spacingAndGlyphs">250K</text>
<path d="M250.2 2004.8V2008.8M264.4 2004.8V2008.8M243.3 2004.8V2008.8M271.2 2004.8V2008.8M236.9 2004.8V2008.8M277.5 2004.8V2008.8M231.1 2004.8V2008.8M283.3 2004.8V2008.8M225.8 2004.8V2008.8M288.5 2004.8V2008.8M221.0 2004.8V2008.8M293.2 2004.8V2008.8M216.7 2004.8V2008.8M297.5 2004.8V2008.8M212.8 2004.8V2008.8M301.4 2004.8V2008.8M209.2 2004.8V2008.8M304.9 2004.8V2008.8M333.9 2004.8V2008.8M348.9 2004.8V2008.8M359.6 2004.8V2008.8M367.8 2004.8V2008.8M374.6 2004.8V2008.8M380.3 2004.8V2008.8M385.2 2004.8V2008.8M389.6 2004.8V2008.8M415.9 2004.8V2008.8M429.0 2004.8V2008.8M438.2 2004.8V2008.8M445.4 2004.8V2008.8M451.3 2004.8V2008.8M456.3 2004.8V2008.8M460.6 2004.8V2008.8M464.4 2004.8V2008.8M490.2 2004.8V2008.8" fill="none" stroke="#111" stroke-width="1.5"/>
<path d="M205.9 2004.8V2013.8M308.2 2004.8V2013.8M393.5 2004.8V2013.8M467.8 2004.8V2013.8" fill="none" stroke="#111" stroke-width="2.4"/>
<path d="M256.6 2004.8V2012.0M258.0 2004.8V2012.0M255.9 2004.8V2012.0M258.7 2004.8V2012.0M255.1 2004.8V2012.0M259.4 2004.8V2012.0M254.4 2004.8V2012.0M260.1 2004.8V2012.0M253.7 2004.8V2012.0M260.9 2004.8V2012.0M253.0 2004.8V2012.0M261.6 2004.8V2012.0M252.3 2004.8V2012.0M262.3 2004.8V2012.0M251.6 2004.8V2012.0M263.0 2004.8V2012.0M250.9 2004.8V2012.0M263.7 2004.8V2012.0M257.3 2004.8V2012.0" fill="none" stroke="#111" stroke-width="1.6"/>
<text x="214.9" y="2033" font-size="11.5" text-anchor="middle">-10<tspan dy="-6.3" font-size="9.2">3</tspan></text>
<text x="262.8" y="2033" font-size="11.5" text-anchor="middle">0</text>
<text x="316.7" y="2033" font-size="11.5" text-anchor="middle">10<tspan dy="-6.3" font-size="9.2">3</tspan></text>
<text x="403" y="2033" font-size="11.5" text-anchor="middle">10<tspan dy="-6.3" font-size="9.2">4</tspan></text>
<text x="478.8" y="2033" font-size="11.5" text-anchor="middle">10<tspan dy="-6.3" font-size="9.2">5</tspan></text>
<rect x="347.6" y="1700.8" width="147.6" height="298.4" fill="none" stroke="#111" stroke-width="1.5"/>
<line x1="495.2" y1="1700.8" x2="495.2" y2="1999.2" stroke="#111" stroke-width="2.5"/>
<text x="440" y="1950.6" font-size="17" textLength="51" lengthAdjust="spacingAndGlyphs">EdU<tspan dy="-5.7" font-size="9.9">pos</tspan></text>
<text x="465.9" y="1973.8" font-size="17" text-anchor="middle" textLength="38" lengthAdjust="spacingAndGlyphs">1.9%</text>
<text x="298.3" y="1665.8" font-size="41" textLength="91" lengthAdjust="spacingAndGlyphs">FMO</text>
<text x="123.8" y="1847.8" font-size="37" transform="rotate(-90 123.8 1847.8)" textLength="59" lengthAdjust="spacingAndGlyphs">FSC</text>
<clipPath id="c6"><rect x="555.2" y="1694" width="312.1" height="311.3"/></clipPath>
<g clip-path="url(#c6)">
<path d="M742.9 1798.5 746.7 1799.4 750.2 1803.0 752.4 1808.5 754.2 1817.0 756.6 1841.0 757.7 1877.0 759.6 1883.5 766.0 1896.0 767.6 1903.0 767.0 1911.0 762.2 1930.5 762.8 1933.5 765.8 1938.5 766.0 1940.0 765.3 1941.5 763.1 1943.5 759.2 1945.4 747.2 1948.8 733.2 1950.7 713.7 1951.7 693.7 1951.6 662.7 1949.9 653.2 1948.1 645.7 1944.7 642.7 1941.5 642.4 1940.0 643.0 1938.0 651.7 1929.4 659.8 1914.5 670.1 1900.5 683.0 1881.0 700.7 1857.1 730.7 1808.4 737.2 1801.1 740.2 1799.2 742.9 1798.5 M718.7 1892.9 715.2 1895.7 712.6 1900.0 712.2 1904.1 712.8 1905.5 714.2 1906.4 716.2 1906.3 718.1 1905.5 720.3 1902.5 721.0 1898.5 721.0 1894.5 720.2 1892.8 718.7 1892.9 M739.6 1806.5 742.7 1806.1 745.7 1807.6 748.1 1811.0 750.0 1816.5 751.9 1827.5 753.4 1842.5 754.4 1878.5 756.2 1884.8 762.0 1896.5 763.4 1902.0 763.1 1910.0 757.9 1931.5 757.8 1934.0 758.9 1938.5 758.1 1941.0 755.9 1943.0 752.9 1944.5 743.7 1947.2 729.7 1949.1 713.2 1950.1 693.2 1950.0 667.7 1948.2 658.7 1946.7 652.1 1944.0 649.5 1941.5 649.1 1938.5 654.7 1930.2 660.8 1917.5 665.2 1911.5 676.9 1898.0 687.1 1882.5 700.2 1864.2 720.9 1829.5 729.2 1816.8 734.7 1810.0 739.6 1806.5 M724.7 1879.0 722.2 1880.4 718.2 1884.3 711.1 1892.5 708.3 1897.0 707.4 1900.5 707.7 1904.5 708.7 1908.0 710.5 1910.0 713.7 1910.3 718.7 1909.0 722.4 1907.0 724.3 1904.5 727.6 1889.0 728.1 1884.5 727.2 1880.1 726.2 1879.1 724.7 1879.0 M739.2 1811.5 742.2 1811.4 744.7 1813.2 746.6 1816.5 748.2 1821.5 750.0 1832.5 751.4 1846.5 752.1 1879.5 753.8 1885.5 759.4 1897.0 760.8 1902.5 760.5 1909.5 757.8 1924.0 755.0 1932.5 754.7 1938.5 753.9 1940.5 752.2 1942.2 749.2 1943.8 740.7 1946.3 727.7 1948.1 712.7 1949.1 694.2 1948.9 670.7 1947.2 661.7 1945.7 655.7 1943.4 653.2 1941.0 652.9 1938.0 661.9 1918.5 667.6 1911.0 679.3 1899.5 683.1 1895.0 703.7 1863.6 718.9 1837.0 726.7 1824.5 733.7 1815.4 736.7 1812.8 739.2 1811.5 M725.7 1872.8 722.7 1874.8 719.2 1878.4 707.7 1891.5 704.8 1896.0 704.2 1899.0 704.7 1902.5 706.7 1909.5 708.7 1912.1 712.7 1912.3 720.6 1910.0 724.5 1908.0 726.7 1905.2 730.9 1887.0 731.4 1881.0 730.9 1877.0 729.7 1874.2 727.7 1872.6 725.7 1872.8 M738.5 1815.5 741.2 1815.5 743.4 1817.0 745.2 1820.1 746.7 1825.0 748.4 1835.5 749.7 1849.0 750.1 1879.5 751.7 1885.5 757.6 1897.5 758.9 1903.0 758.8 1907.5 756.3 1923.5 752.9 1933.0 751.2 1940.0 747.2 1943.0 739.2 1945.6 727.7 1947.3 712.7 1948.3 695.2 1948.1 672.7 1946.4 664.2 1945.1 658.2 1942.9 655.7 1940.5 655.3 1937.5 660.4 1923.5 663.0 1918.5 670.2 1909.8 683.9 1898.0 688.0 1893.5 704.4 1866.5 718.0 1842.0 725.2 1830.1 732.7 1819.8 735.7 1817.0 738.5 1815.5 M726.7 1868.4 724.2 1869.8 720.7 1873.1 704.3 1891.0 701.6 1895.0 701.2 1897.5 701.7 1900.0 705.7 1911.5 707.7 1913.9 711.7 1913.8 723.2 1910.2 726.9 1908.0 728.6 1905.5 733.2 1886.0 733.8 1879.0 732.9 1874.0 731.2 1870.0 729.2 1868.3 726.7 1868.4 M738.1 1818.5 740.3 1818.5 742.5 1820.0 744.2 1823.0 745.5 1827.5 747.2 1838.0 748.4 1851.0 748.4 1880.0 750.3 1886.0 756.1 1897.5 757.5 1903.0 757.4 1907.0 755.9 1915.0 754.9 1924.5 749.4 1939.5 745.7 1942.5 738.2 1945.0 726.7 1946.8 712.7 1947.7 695.7 1947.6 674.2 1945.9 665.2 1944.5 659.7 1942.4 657.3 1940.0 657.0 1937.0 660.9 1924.5 663.8 1918.5 668.1 1913.0 673.2 1908.0 679.2 1903.2 691.3 1895.0 693.9 1892.5 699.1 1880.0 721.7 1838.2 731.2 1824.1 734.7 1820.4 738.1 1818.5 M727.7 1864.9 722.7 1868.3 711.2 1880.6 699.4 1891.0 697.4 1893.5 697.8 1897.0 702.6 1905.5 705.2 1913.6 706.7 1915.3 710.2 1915.1 724.5 1910.5 728.0 1908.5 729.8 1906.0 731.8 1896.5 735.1 1885.0 735.6 1878.5 734.7 1872.5 732.7 1867.5 730.2 1865.0 727.7 1864.9 M737.7 1821.0 739.7 1821.0 741.7 1822.5 743.3 1825.5 744.6 1830.0 746.2 1840.0 747.3 1852.5 747.3 1862.0 746.5 1875.5 746.8 1880.0 748.6 1885.5 754.7 1897.0 756.3 1903.0 754.1 1924.5 748.1 1939.0 744.2 1942.2 737.2 1944.6 726.2 1946.3 712.7 1947.3 695.7 1947.1 674.7 1945.4 666.2 1944.1 660.8 1942.0 658.7 1940.0 658.1 1937.0 661.3 1925.0 664.1 1919.0 667.8 1914.0 673.2 1908.7 679.7 1903.8 686.7 1899.7 692.7 1897.9 694.7 1898.2 697.2 1899.8 701.4 1905.0 704.7 1915.1 706.2 1916.6 708.7 1916.4 724.9 1911.0 728.1 1909.5 730.2 1907.5 731.3 1905.0 733.1 1895.5 736.5 1885.0 737.3 1880.5 737.1 1876.0 736.0 1871.0 734.5 1866.5 732.6 1863.5 729.7 1862.0 726.7 1862.9 723.2 1865.5 713.2 1875.8 708.2 1880.1 704.2 1882.1 703.0 1881.5 702.9 1880.0 704.2 1875.5 708.7 1865.5 722.2 1839.6 731.2 1826.2 734.7 1822.6 737.7 1821.0 M700.2 1926.9 698.6 1928.0 698.3 1929.0 698.7 1929.4 700.2 1929.4 701.3 1928.5 701.2 1927.1 700.2 1926.9 M737.7 1823.5 740.2 1824.3 742.2 1827.3 743.7 1832.5 744.9 1840.0 746.0 1858.0 744.4 1875.5 744.6 1879.5 746.4 1884.5 753.4 1896.5 755.2 1903.0 755.1 1907.0 753.8 1914.5 753.3 1924.5 752.1 1928.0 747.0 1938.5 743.2 1941.8 736.7 1944.1 726.2 1945.9 713.2 1946.8 696.2 1946.7 676.2 1945.0 667.2 1943.7 661.7 1941.6 659.7 1939.5 659.2 1936.5 661.5 1926.0 664.1 1920.0 667.7 1914.8 672.7 1909.8 678.7 1905.2 684.7 1901.7 688.7 1900.1 692.2 1899.6 695.2 1900.3 697.7 1901.9 701.5 1907.0 704.0 1916.5 705.2 1918.2 706.7 1918.0 715.2 1914.6 726.5 1911.0 729.4 1909.5 731.4 1907.5 732.3 1905.0 734.1 1896.0 738.5 1884.0 739.5 1879.5 738.4 1872.0 734.7 1862.5 731.7 1859.6 728.2 1859.7 724.2 1862.2 712.2 1873.1 709.7 1874.0 709.1 1873.5 708.9 1872.0 710.2 1867.0 713.7 1858.5 723.2 1840.2 731.7 1827.7 734.7 1824.8 737.7 1823.5 M701.2 1924.4 697.2 1927.5 696.2 1929.5 696.6 1930.5 699.7 1930.9 702.7 1929.4 703.3 1928.0 703.2 1926.0 702.3 1924.5 701.2 1924.4 M736.7 1826.0 739.2 1826.5 740.8 1828.5 742.2 1832.2 743.4 1838.5 744.6 1857.0 744.0 1864.0 742.7 1869.0 741.7 1870.1 740.7 1869.6 735.3 1859.5 733.3 1857.5 731.2 1856.7 729.2 1856.9 726.7 1858.1 717.2 1865.9 714.2 1867.1 713.6 1866.5 713.5 1865.0 714.7 1860.5 722.2 1844.2 730.7 1830.9 734.2 1827.3 736.7 1826.0 M741.3 1884.0 742.7 1883.6 744.2 1884.6 749.7 1891.9 753.2 1898.5 754.3 1904.0 752.9 1914.0 753.0 1921.5 752.4 1925.5 746.1 1938.0 743.2 1940.9 737.2 1943.4 728.2 1945.2 716.2 1946.4 702.7 1946.6 689.7 1945.9 670.2 1943.8 663.9 1942.0 660.8 1939.5 660.1 1937.5 660.4 1934.0 662.0 1926.0 664.0 1921.0 669.4 1913.5 677.2 1906.7 684.2 1902.7 690.2 1900.8 694.7 1901.2 698.7 1903.9 700.7 1906.7 702.0 1910.0 703.2 1920.5 696.7 1927.0 695.0 1930.0 695.4 1931.0 696.7 1931.6 701.2 1931.3 702.9 1930.5 704.1 1929.0 704.0 1922.0 705.6 1920.0 712.8 1916.0 727.8 1911.0 731.7 1908.5 733.0 1906.0 734.3 1898.5 735.7 1894.0 738.7 1887.6 741.3 1884.0 M735.3 1829.0 737.2 1828.7 738.8 1829.5 740.2 1831.7 741.3 1835.5 742.8 1850.5 742.5 1856.5 741.7 1860.1 741.2 1860.8 740.2 1860.9 735.2 1855.3 731.7 1853.9 728.2 1854.6 720.7 1859.4 718.7 1859.8 718.2 1858.0 719.1 1854.5 724.1 1843.5 730.2 1833.8 732.7 1830.9 735.3 1829.0 M741.3 1887.5 742.7 1887.1 744.2 1887.6 748.7 1892.4 752.2 1898.5 753.3 1904.0 752.0 1913.5 752.4 1921.5 751.8 1925.5 750.4 1929.0 745.3 1937.5 742.2 1940.7 736.7 1943.0 727.7 1944.9 715.7 1946.0 702.7 1946.3 690.2 1945.6 671.2 1943.5 665.2 1941.9 661.7 1939.3 660.9 1936.5 661.5 1931.0 662.6 1925.5 664.4 1921.0 666.9 1917.0 670.2 1913.1 678.7 1906.2 685.2 1902.9 690.7 1901.6 695.2 1902.4 698.8 1905.0 700.5 1907.5 701.7 1911.0 702.3 1915.5 702.1 1919.0 701.0 1921.5 695.1 1928.0 694.0 1930.5 694.4 1931.5 696.2 1932.3 701.2 1932.0 703.6 1931.0 704.9 1929.5 705.5 1922.5 706.3 1921.0 708.4 1919.0 715.7 1915.2 729.1 1911.0 732.7 1908.6 734.0 1906.0 735.1 1899.0 736.6 1894.5 739.2 1889.7 741.3 1887.5 M735.1 1832.5 736.7 1832.5 737.7 1833.2 739.2 1836.5 740.0 1843.5 739.2 1849.3 737.7 1850.5 732.2 1850.0 726.2 1851.3 724.7 1851.2 724.3 1850.0 724.6 1848.0 727.7 1841.1 731.7 1835.1 735.1 1832.5 M742.1 1890.0 743.7 1890.0 745.2 1890.8 748.8 1894.5 751.4 1899.5 752.2 1904.5 751.0 1913.0 751.7 1921.5 751.0 1926.0 749.4 1929.5 744.2 1937.3 740.9 1940.5 735.2 1942.9 726.7 1944.6 715.2 1945.7 702.7 1945.9 690.7 1945.2 671.7 1943.1 665.9 1941.5 662.6 1939.0 661.7 1936.0 662.0 1931.0 662.9 1926.0 664.6 1921.5 667.0 1917.5 670.2 1913.7 678.7 1906.7 684.7 1903.7 690.2 1902.4 694.7 1903.0 698.3 1905.5 700.0 1908.0 701.2 1911.0 701.4 1918.0 700.0 1921.5 694.1 1928.5 693.0 1931.0 693.7 1932.3 695.7 1932.9 701.8 1932.5 704.2 1931.5 705.7 1930.0 706.6 1922.5 709.5 1919.0 715.2 1915.9 729.4 1911.5 733.6 1909.0 735.0 1906.5 736.1 1899.5 737.4 1895.5 739.7 1891.7 742.1 1890.0 M742.5 1892.5 744.7 1892.8 747.2 1894.8 749.2 1897.7 750.5 1901.0 750.9 1905.0 749.8 1913.0 750.9 1923.0 750.2 1926.5 748.2 1930.2 742.7 1937.6 739.3 1940.5 733.2 1942.8 724.7 1944.4 713.7 1945.3 701.7 1945.4 690.7 1944.7 671.7 1942.5 666.6 1941.0 663.4 1938.5 662.6 1935.5 662.8 1929.5 663.7 1925.0 665.3 1921.0 667.8 1917.0 671.2 1913.2 679.7 1906.7 685.7 1903.9 690.7 1903.1 694.7 1903.9 698.3 1906.5 699.9 1909.0 700.8 1912.0 701.0 1915.5 700.6 1918.5 698.8 1922.0 693.0 1929.0 692.0 1931.5 692.7 1932.8 694.7 1933.5 701.7 1933.2 704.9 1932.0 706.4 1930.5 707.4 1923.0 708.4 1921.0 710.7 1918.9 716.7 1915.7 730.7 1911.6 734.6 1909.5 736.1 1907.0 737.1 1900.5 738.2 1897.0 740.2 1893.9 742.5 1892.5 M742.1 1897.5 743.7 1897.1 745.2 1897.7 746.7 1899.2 747.8 1901.5 748.1 1904.5 747.1 1911.5 749.5 1920.0 749.6 1924.0 748.6 1927.5 746.2 1931.1 740.5 1937.5 736.7 1940.3 730.7 1942.4 722.2 1943.9 711.7 1944.7 700.7 1944.7 672.2 1941.5 667.2 1939.8 664.7 1937.3 663.8 1934.0 663.8 1928.5 664.6 1924.5 666.3 1920.5 669.0 1916.5 672.7 1912.6 681.2 1906.7 686.7 1904.7 691.2 1904.3 695.2 1905.5 698.1 1908.0 700.0 1913.0 699.5 1918.5 697.3 1922.5 691.1 1930.0 690.2 1932.5 691.2 1933.9 693.2 1934.6 700.7 1934.4 705.2 1933.3 707.7 1931.5 708.3 1930.0 708.8 1923.0 710.4 1920.5 712.8 1918.5 718.7 1915.7 733.0 1912.0 737.2 1909.9 738.9 1907.5 740.2 1900.0 742.1 1897.5 M686.6 1905.5 691.2 1905.2 695.1 1906.5 697.7 1909.1 699.1 1913.0 699.0 1917.0 697.7 1920.5 688.8 1932.0 688.7 1934.0 690.7 1935.3 694.2 1935.7 699.2 1935.4 707.2 1933.5 708.6 1932.5 709.5 1931.0 709.4 1925.5 709.9 1923.0 711.1 1921.0 713.4 1919.0 721.2 1915.5 740.2 1911.2 743.2 1911.7 746.7 1916.1 748.6 1921.5 748.2 1926.0 745.1 1931.0 737.7 1938.1 732.7 1940.7 725.7 1942.6 714.2 1943.9 701.2 1944.0 691.7 1943.1 670.7 1940.0 667.0 1938.0 665.1 1934.5 664.6 1928.0 666.2 1922.0 669.7 1916.5 674.7 1911.6 680.7 1907.7 686.6 1905.5 M686.2 1906.5 690.7 1906.2 694.6 1907.5 697.2 1910.3 698.3 1914.0 698.0 1917.5 696.5 1921.0 686.4 1933.5 686.3 1935.5 688.2 1937.0 692.2 1937.3 699.2 1936.7 705.2 1935.6 709.2 1934.2 711.1 1932.0 710.7 1925.0 711.2 1923.0 712.5 1921.0 717.7 1917.5 725.7 1915.2 737.2 1913.6 742.2 1914.4 744.7 1916.4 746.7 1919.5 747.4 1922.5 747.1 1925.5 744.1 1930.5 736.7 1936.7 730.7 1939.9 723.2 1941.9 712.7 1943.0 701.7 1942.9 693.4 1942.0 685.2 1940.2 675.7 1939.5 671.7 1938.7 668.2 1936.7 666.2 1933.0 665.6 1927.5 667.0 1922.0 670.2 1917.0 674.7 1912.5 680.2 1908.8 686.2 1906.5 M687.5 1907.0 692.7 1907.5 694.7 1908.6 696.4 1910.5 697.3 1913.0 697.5 1915.5 695.8 1921.0 693.2 1924.5 681.7 1937.2 676.2 1938.1 670.7 1936.8 667.9 1934.0 666.5 1930.0 666.6 1925.5 668.4 1920.5 671.7 1916.0 676.7 1911.6 682.2 1908.5 687.5 1907.0 M730.7 1915.0 736.7 1914.7 740.7 1915.4 743.7 1917.3 745.9 1920.5 746.4 1924.0 745.3 1927.5 742.7 1930.7 738.7 1934.0 729.4 1939.0 719.2 1941.4 704.2 1942.0 697.7 1941.2 694.7 1940.0 695.2 1939.2 697.0 1938.5 707.2 1936.4 711.2 1934.8 712.7 1932.5 711.7 1924.5 713.6 1921.0 716.2 1919.0 720.2 1917.2 730.7 1915.0 M685.8 1908.0 691.2 1907.9 693.7 1909.0 695.3 1910.5 696.3 1912.5 696.8 1915.0 696.5 1917.5 695.3 1920.5 690.7 1926.4 680.7 1935.2 676.2 1936.5 673.7 1936.3 671.2 1935.4 668.7 1933.0 667.3 1929.5 667.3 1925.5 668.8 1921.0 672.0 1916.5 676.2 1912.6 680.7 1909.8 685.8 1908.0 M728.0 1916.0 737.2 1915.7 740.2 1916.5 742.7 1918.1 744.6 1920.5 745.3 1923.5 744.7 1926.5 742.6 1929.5 739.7 1932.1 735.2 1934.8 725.7 1938.5 713.7 1940.4 708.2 1940.3 705.5 1939.5 712.2 1936.7 714.4 1935.0 714.8 1933.0 712.7 1925.5 713.3 1923.0 714.7 1921.1 719.8 1918.0 728.0 1916.0 M688.2 1908.5 692.7 1909.6 695.3 1912.5 695.7 1917.0 693.6 1922.0 687.7 1928.3 680.2 1933.7 675.2 1934.9 671.2 1933.6 668.9 1931.0 668.0 1927.0 668.7 1923.0 670.8 1919.0 674.3 1915.0 678.7 1911.6 683.7 1909.3 688.2 1908.5 M729.9 1916.5 736.7 1916.7 741.2 1918.5 743.8 1922.0 744.1 1924.0 743.5 1926.5 740.1 1930.5 733.7 1934.1 725.7 1936.3 722.2 1936.5 720.1 1936.0 718.2 1934.3 714.5 1928.5 713.9 1925.5 714.5 1923.0 716.8 1920.5 720.2 1918.6 724.7 1917.3 729.9 1916.5 M684.8 1910.0 689.7 1909.8 691.7 1910.5 693.4 1912.0 694.4 1914.0 694.7 1916.0 693.1 1921.0 688.5 1926.5 681.7 1931.3 676.7 1933.0 674.2 1932.8 672.2 1932.0 670.2 1930.0 669.2 1927.0 669.5 1924.0 670.9 1920.5 673.5 1917.0 676.7 1914.0 680.7 1911.5 684.8 1910.0 M730.8 1917.5 736.7 1918.1 740.8 1920.5 741.9 1922.0 742.3 1924.0 741.9 1926.0 740.7 1928.0 735.7 1931.7 729.2 1933.7 723.2 1933.5 718.7 1931.1 716.7 1928.9 715.7 1926.5 715.8 1924.0 717.0 1922.0 719.2 1920.3 722.7 1918.8 730.8 1917.5 M684.9 1911.0 689.7 1911.1 692.7 1913.4 693.4 1917.0 691.7 1921.5 687.2 1926.5 681.7 1930.1 676.7 1931.5 672.8 1930.5 671.1 1928.5 670.4 1926.0 670.9 1923.0 672.3 1920.0 674.6 1917.0 677.7 1914.3 681.2 1912.3 684.9 1911.0 M726.0 1919.0 732.2 1918.6 737.5 1920.0 739.2 1921.3 740.2 1923.0 740.4 1924.5 739.8 1926.5 736.7 1929.6 731.2 1931.7 725.7 1932.1 721.2 1930.7 717.9 1927.5 717.4 1925.5 717.6 1924.0 720.4 1921.0 726.0 1919.0 M685.7 1912.0 689.5 1912.5 691.7 1914.7 692.0 1918.0 690.2 1922.0 686.3 1926.0 681.7 1928.9 677.2 1930.0 673.7 1929.1 672.3 1927.5 671.8 1925.0 672.2 1922.5 673.8 1919.5 676.2 1916.7 679.2 1914.4 682.7 1912.7 685.7 1912.0 M727.2 1920.0 732.2 1920.0 736.2 1921.3 738.1 1923.5 738.2 1925.0 737.6 1926.5 734.6 1929.0 730.2 1930.4 725.7 1930.4 722.0 1929.0 719.7 1926.5 719.5 1925.0 720.0 1923.5 722.7 1921.3 727.2 1920.0 M683.9 1913.5 687.7 1913.5 690.0 1915.0 690.7 1917.5 689.5 1921.0 686.6 1924.5 682.2 1927.4 678.2 1928.5 675.2 1927.9 673.7 1926.5 673.2 1925.0 673.4 1923.0 674.4 1920.5 678.6 1916.0 683.9 1913.5 M727.1 1921.5 730.7 1921.4 733.7 1922.2 735.4 1924.0 735.1 1926.0 733.2 1927.6 730.2 1928.7 727.2 1928.8 724.2 1927.9 722.5 1926.5 722.2 1924.5 724.1 1922.5 727.1 1921.5 M682.9 1915.0 686.2 1914.7 688.5 1916.0 689.1 1918.0 688.1 1921.0 685.5 1924.0 682.2 1926.1 678.7 1927.0 676.3 1926.5 675.3 1925.5 674.8 1924.0 675.8 1920.5 679.0 1917.0 682.9 1915.0 M727.3 1924.0 729.7 1923.8 731.1 1925.0 730.1 1926.0 727.7 1926.2 726.4 1925.0 727.3 1924.0" fill="none" stroke="#4a4a4a" stroke-width="0.8"/>
<path d="M784.8 1774.9h1.5v1.5h-1.5zM763.3 1835.9h1.5v1.5h-1.5zM753.7 1738.1h1.5v1.5h-1.5zM773.6 1762.0h1.5v1.5h-1.5zM758.2 1722.3h1.5v1.5h-1.5zM762.9 1788.2h1.5v1.5h-1.5zM769.1 1858.9h1.5v1.5h-1.5zM766.7 1724.9h1.5v1.5h-1.5zM767.3 1763.1h1.5v1.5h-1.5zM715.3 1955.3h1.5v1.5h-1.5zM701.1 1848.0h1.5v1.5h-1.5zM770.6 1901.7h1.5v1.5h-1.5zM751.9 1739.1h1.5v1.5h-1.5zM691.0 1952.3h1.5v1.5h-1.5zM772.3 1887.9h1.5v1.5h-1.5zM672.4 1887.5h1.5v1.5h-1.5zM762.3 1789.5h1.5v1.5h-1.5zM779.5 1874.5h1.5v1.5h-1.5zM752.9 1776.9h1.5v1.5h-1.5zM696.2 1954.1h1.5v1.5h-1.5zM772.7 1845.1h1.5v1.5h-1.5zM764.2 1840.4h1.5v1.5h-1.5zM761.4 1719.6h1.5v1.5h-1.5zM756.0 1757.4h1.5v1.5h-1.5zM776.5 1853.2h1.5v1.5h-1.5zM759.1 1781.1h1.5v1.5h-1.5zM710.3 1954.2h1.5v1.5h-1.5zM761.6 1714.6h1.5v1.5h-1.5zM762.4 1711.1h1.5v1.5h-1.5zM659.2 1949.9h1.5v1.5h-1.5zM758.4 1749.3h1.5v1.5h-1.5zM766.5 1795.4h1.5v1.5h-1.5zM773.1 1747.0h1.5v1.5h-1.5zM754.5 1755.6h1.5v1.5h-1.5zM651.1 1951.8h1.5v1.5h-1.5zM771.3 1755.9h1.5v1.5h-1.5zM678.6 1872.2h1.5v1.5h-1.5zM764.5 1835.1h1.5v1.5h-1.5zM729.4 1954.1h1.5v1.5h-1.5zM634.2 1954.9h1.5v1.5h-1.5zM769.5 1776.0h1.5v1.5h-1.5zM763.5 1788.3h1.5v1.5h-1.5zM761.5 1769.0h1.5v1.5h-1.5zM765.5 1917.0h1.5v1.5h-1.5zM757.7 1704.2h1.5v1.5h-1.5zM759.7 1750.4h1.5v1.5h-1.5zM765.8 1796.7h1.5v1.5h-1.5zM752.4 1795.8h1.5v1.5h-1.5zM755.6 1792.2h1.5v1.5h-1.5zM756.5 1728.9h1.5v1.5h-1.5zM775.5 1816.9h1.5v1.5h-1.5zM774.0 1743.2h1.5v1.5h-1.5zM704.4 1843.9h1.5v1.5h-1.5zM759.0 1776.8h1.5v1.5h-1.5zM746.3 1719.9h1.5v1.5h-1.5zM735.5 1728.2h1.5v1.5h-1.5zM765.9 1760.1h1.5v1.5h-1.5zM782.4 1769.5h1.5v1.5h-1.5zM736.8 1765.9h1.5v1.5h-1.5zM756.3 1836.5h1.5v1.5h-1.5zM761.3 1799.1h1.5v1.5h-1.5zM680.9 1955.7h1.5v1.5h-1.5zM767.0 1805.4h1.5v1.5h-1.5zM780.7 1888.3h1.5v1.5h-1.5zM622.1 1951.7h1.5v1.5h-1.5zM759.4 1707.2h1.5v1.5h-1.5zM759.3 1749.5h1.5v1.5h-1.5zM750.4 1756.6h1.5v1.5h-1.5zM766.6 1813.3h1.5v1.5h-1.5zM763.4 1864.8h1.5v1.5h-1.5zM762.7 1874.1h1.5v1.5h-1.5zM765.6 1944.8h1.5v1.5h-1.5zM762.1 1852.7h1.5v1.5h-1.5zM773.4 1774.3h1.5v1.5h-1.5zM766.9 1844.0h1.5v1.5h-1.5zM776.0 1876.7h1.5v1.5h-1.5zM748.2 1773.2h1.5v1.5h-1.5zM752.5 1753.1h1.5v1.5h-1.5zM756.3 1747.3h1.5v1.5h-1.5zM682.8 1956.2h1.5v1.5h-1.5zM698.1 1847.6h1.5v1.5h-1.5zM756.3 1764.7h1.5v1.5h-1.5zM762.7 1747.1h1.5v1.5h-1.5zM666.9 1953.2h1.5v1.5h-1.5zM677.4 1953.5h1.5v1.5h-1.5zM758.3 1824.7h1.5v1.5h-1.5zM732.0 1955.2h1.5v1.5h-1.5zM643.4 1949.5h1.5v1.5h-1.5zM766.5 1725.1h1.5v1.5h-1.5zM768.6 1805.1h1.5v1.5h-1.5zM707.7 1955.5h1.5v1.5h-1.5zM757.5 1759.4h1.5v1.5h-1.5zM757.1 1757.0h1.5v1.5h-1.5zM767.3 1730.4h1.5v1.5h-1.5zM683.3 1954.7h1.5v1.5h-1.5zM748.8 1762.2h1.5v1.5h-1.5zM766.0 1863.2h1.5v1.5h-1.5zM675.1 1952.4h1.5v1.5h-1.5zM761.4 1754.6h1.5v1.5h-1.5zM738.7 1698.6h1.5v1.5h-1.5zM695.9 1951.1h1.5v1.5h-1.5zM756.6 1828.3h1.5v1.5h-1.5zM746.3 1724.9h1.5v1.5h-1.5zM758.6 1837.1h1.5v1.5h-1.5zM636.4 1946.0h1.5v1.5h-1.5zM768.3 1882.9h1.5v1.5h-1.5zM757.9 1726.9h1.5v1.5h-1.5zM766.3 1747.3h1.5v1.5h-1.5zM774.0 1808.4h1.5v1.5h-1.5zM776.0 1811.1h1.5v1.5h-1.5zM780.1 1940.2h1.5v1.5h-1.5zM771.2 1844.3h1.5v1.5h-1.5zM745.6 1750.9h1.5v1.5h-1.5zM763.6 1740.2h1.5v1.5h-1.5zM744.8 1772.0h1.5v1.5h-1.5zM769.9 1863.4h1.5v1.5h-1.5zM731.2 1757.4h1.5v1.5h-1.5zM670.8 1951.2h1.5v1.5h-1.5zM772.9 1905.7h1.5v1.5h-1.5zM753.6 1708.3h1.5v1.5h-1.5zM749.9 1733.6h1.5v1.5h-1.5zM755.7 1756.8h1.5v1.5h-1.5zM750.3 1720.0h1.5v1.5h-1.5zM662.4 1908.3h1.5v1.5h-1.5zM766.3 1754.2h1.5v1.5h-1.5zM763.6 1886.4h1.5v1.5h-1.5zM761.4 1870.4h1.5v1.5h-1.5zM771.5 1758.0h1.5v1.5h-1.5zM744.7 1738.9h1.5v1.5h-1.5zM746.4 1760.2h1.5v1.5h-1.5zM708.9 1952.0h1.5v1.5h-1.5zM725.9 1788.6h1.5v1.5h-1.5zM776.6 1824.7h1.5v1.5h-1.5zM763.9 1761.5h1.5v1.5h-1.5zM763.8 1881.3h1.5v1.5h-1.5zM746.4 1757.0h1.5v1.5h-1.5zM763.0 1848.5h1.5v1.5h-1.5zM773.9 1800.6h1.5v1.5h-1.5zM714.7 1956.6h1.5v1.5h-1.5zM753.0 1956.8h1.5v1.5h-1.5zM760.2 1870.0h1.5v1.5h-1.5zM761.7 1739.6h1.5v1.5h-1.5zM767.9 1807.5h1.5v1.5h-1.5zM757.4 1759.0h1.5v1.5h-1.5zM770.1 1873.3h1.5v1.5h-1.5zM755.3 1822.7h1.5v1.5h-1.5zM759.4 1782.4h1.5v1.5h-1.5zM703.1 1953.0h1.5v1.5h-1.5zM650.0 1952.9h1.5v1.5h-1.5zM768.5 1785.4h1.5v1.5h-1.5zM669.5 1863.1h1.5v1.5h-1.5zM752.8 1734.8h1.5v1.5h-1.5zM762.4 1784.5h1.5v1.5h-1.5zM697.1 1951.5h1.5v1.5h-1.5zM690.6 1953.9h1.5v1.5h-1.5zM756.0 1741.4h1.5v1.5h-1.5zM758.1 1846.6h1.5v1.5h-1.5zM775.3 1829.9h1.5v1.5h-1.5zM769.4 1892.1h1.5v1.5h-1.5zM759.6 1859.4h1.5v1.5h-1.5zM756.8 1761.4h1.5v1.5h-1.5zM767.4 1775.9h1.5v1.5h-1.5zM763.4 1828.1h1.5v1.5h-1.5zM771.8 1870.6h1.5v1.5h-1.5zM689.8 1952.1h1.5v1.5h-1.5zM742.4 1711.5h1.5v1.5h-1.5zM676.7 1951.7h1.5v1.5h-1.5zM744.0 1771.1h1.5v1.5h-1.5zM749.6 1768.7h1.5v1.5h-1.5zM779.7 1751.2h1.5v1.5h-1.5zM769.1 1774.5h1.5v1.5h-1.5zM745.3 1771.2h1.5v1.5h-1.5zM760.0 1820.3h1.5v1.5h-1.5zM773.9 1926.5h1.5v1.5h-1.5zM779.5 1867.9h1.5v1.5h-1.5zM762.3 1775.5h1.5v1.5h-1.5zM757.9 1849.6h1.5v1.5h-1.5zM720.8 1956.7h1.5v1.5h-1.5zM771.9 1908.7h1.5v1.5h-1.5zM746.4 1739.1h1.5v1.5h-1.5zM759.3 1750.8h1.5v1.5h-1.5zM777.0 1776.9h1.5v1.5h-1.5zM770.4 1885.7h1.5v1.5h-1.5zM762.2 1816.5h1.5v1.5h-1.5zM765.1 1811.9h1.5v1.5h-1.5zM756.9 1762.6h1.5v1.5h-1.5zM774.8 1828.8h1.5v1.5h-1.5zM767.8 1740.3h1.5v1.5h-1.5zM756.1 1755.4h1.5v1.5h-1.5zM762.5 1755.6h1.5v1.5h-1.5zM764.5 1858.2h1.5v1.5h-1.5zM744.0 1720.6h1.5v1.5h-1.5zM761.6 1726.1h1.5v1.5h-1.5zM756.0 1953.5h1.5v1.5h-1.5zM754.1 1953.5h1.5v1.5h-1.5zM770.7 1759.0h1.5v1.5h-1.5zM765.6 1885.5h1.5v1.5h-1.5zM773.9 1775.2h1.5v1.5h-1.5zM620.5 1951.2h1.5v1.5h-1.5zM640.5 1951.1h1.5v1.5h-1.5zM762.1 1775.5h1.5v1.5h-1.5zM765.6 1745.4h1.5v1.5h-1.5zM732.8 1747.8h1.5v1.5h-1.5zM735.9 1800.0h1.5v1.5h-1.5zM740.1 1740.0h1.5v1.5h-1.5zM698.2 1842.2h1.5v1.5h-1.5zM760.7 1788.4h1.5v1.5h-1.5zM715.3 1952.2h1.5v1.5h-1.5zM761.7 1817.0h1.5v1.5h-1.5zM754.3 1737.6h1.5v1.5h-1.5zM764.9 1774.2h1.5v1.5h-1.5zM766.3 1795.2h1.5v1.5h-1.5zM770.5 1846.3h1.5v1.5h-1.5zM682.2 1854.5h1.5v1.5h-1.5zM751.7 1739.7h1.5v1.5h-1.5zM772.8 1742.2h1.5v1.5h-1.5zM731.9 1762.6h1.5v1.5h-1.5zM741.5 1729.6h1.5v1.5h-1.5zM756.8 1758.0h1.5v1.5h-1.5zM716.0 1953.6h1.5v1.5h-1.5zM745.7 1780.2h1.5v1.5h-1.5zM769.6 1863.7h1.5v1.5h-1.5zM759.2 1703.9h1.5v1.5h-1.5zM773.8 1864.4h1.5v1.5h-1.5zM769.8 1880.6h1.5v1.5h-1.5zM775.0 1865.9h1.5v1.5h-1.5zM743.8 1953.7h1.5v1.5h-1.5zM765.2 1891.2h1.5v1.5h-1.5zM743.6 1779.0h1.5v1.5h-1.5zM755.2 1744.8h1.5v1.5h-1.5zM761.2 1767.0h1.5v1.5h-1.5zM685.1 1953.8h1.5v1.5h-1.5zM766.0 1799.0h1.5v1.5h-1.5zM751.5 1732.4h1.5v1.5h-1.5zM634.1 1947.5h1.5v1.5h-1.5zM760.4 1742.5h1.5v1.5h-1.5zM757.3 1738.4h1.5v1.5h-1.5zM655.3 1949.2h1.5v1.5h-1.5zM775.5 1954.8h1.5v1.5h-1.5zM777.5 1751.8h1.5v1.5h-1.5zM762.1 1778.0h1.5v1.5h-1.5zM780.4 1852.9h1.5v1.5h-1.5zM765.3 1698.0h1.5v1.5h-1.5zM749.5 1757.9h1.5v1.5h-1.5zM787.5 1760.2h1.5v1.5h-1.5zM748.1 1746.5h1.5v1.5h-1.5zM731.0 1955.8h1.5v1.5h-1.5zM767.5 1822.4h1.5v1.5h-1.5zM742.3 1763.3h1.5v1.5h-1.5zM775.1 1826.6h1.5v1.5h-1.5zM768.9 1809.9h1.5v1.5h-1.5zM757.0 1858.0h1.5v1.5h-1.5zM649.6 1956.4h1.5v1.5h-1.5zM737.9 1722.8h1.5v1.5h-1.5zM766.9 1855.7h1.5v1.5h-1.5zM757.5 1768.7h1.5v1.5h-1.5zM692.5 1952.9h1.5v1.5h-1.5zM770.2 1835.3h1.5v1.5h-1.5zM758.4 1735.4h1.5v1.5h-1.5zM755.9 1756.0h1.5v1.5h-1.5zM760.4 1794.3h1.5v1.5h-1.5zM772.6 1757.5h1.5v1.5h-1.5zM773.2 1753.6h1.5v1.5h-1.5zM656.4 1902.4h1.5v1.5h-1.5zM686.6 1962.8h1.5v1.5h-1.5zM677.3 1955.5h1.5v1.5h-1.5zM720.9 1816.9h1.5v1.5h-1.5zM764.2 1867.2h1.5v1.5h-1.5zM773.0 1797.2h1.5v1.5h-1.5zM754.6 1744.5h1.5v1.5h-1.5zM717.9 1952.2h1.5v1.5h-1.5zM651.6 1959.2h1.5v1.5h-1.5zM748.2 1780.6h1.5v1.5h-1.5zM784.1 1736.9h1.5v1.5h-1.5zM765.1 1794.7h1.5v1.5h-1.5zM641.8 1951.2h1.5v1.5h-1.5zM764.3 1731.0h1.5v1.5h-1.5zM692.9 1952.5h1.5v1.5h-1.5zM663.1 1955.7h1.5v1.5h-1.5zM757.4 1859.1h1.5v1.5h-1.5zM759.9 1854.5h1.5v1.5h-1.5zM761.3 1762.7h1.5v1.5h-1.5zM764.4 1744.7h1.5v1.5h-1.5zM680.7 1952.5h1.5v1.5h-1.5zM738.9 1761.6h1.5v1.5h-1.5zM765.0 1719.6h1.5v1.5h-1.5zM650.2 1952.5h1.5v1.5h-1.5zM756.1 1765.5h1.5v1.5h-1.5zM759.8 1741.8h1.5v1.5h-1.5zM768.5 1788.5h1.5v1.5h-1.5zM763.9 1786.3h1.5v1.5h-1.5zM759.8 1958.2h1.5v1.5h-1.5zM733.3 1729.5h1.5v1.5h-1.5zM699.0 1849.7h1.5v1.5h-1.5zM620.6 1950.3h1.5v1.5h-1.5zM757.0 1802.0h1.5v1.5h-1.5zM784.8 1823.2h1.5v1.5h-1.5zM763.0 1779.6h1.5v1.5h-1.5zM636.1 1917.0h1.5v1.5h-1.5zM706.5 1953.1h1.5v1.5h-1.5zM783.3 1846.2h1.5v1.5h-1.5zM672.4 1879.6h1.5v1.5h-1.5zM727.0 1759.7h1.5v1.5h-1.5zM748.2 1953.7h1.5v1.5h-1.5zM749.9 1741.6h1.5v1.5h-1.5zM760.2 1877.4h1.5v1.5h-1.5zM694.5 1846.8h1.5v1.5h-1.5zM758.5 1825.2h1.5v1.5h-1.5zM743.5 1750.2h1.5v1.5h-1.5zM746.4 1747.8h1.5v1.5h-1.5zM768.3 1756.5h1.5v1.5h-1.5zM760.9 1745.4h1.5v1.5h-1.5zM703.1 1954.2h1.5v1.5h-1.5zM729.0 1951.9h1.5v1.5h-1.5zM740.7 1743.9h1.5v1.5h-1.5zM754.1 1711.0h1.5v1.5h-1.5zM777.9 1956.8h1.5v1.5h-1.5zM763.9 1781.3h1.5v1.5h-1.5zM732.0 1746.4h1.5v1.5h-1.5zM777.7 1762.0h1.5v1.5h-1.5zM728.6 1950.2h1.5v1.5h-1.5zM677.2 1880.1h1.5v1.5h-1.5zM733.9 1766.9h1.5v1.5h-1.5zM759.4 1758.4h1.5v1.5h-1.5zM743.3 1756.4h1.5v1.5h-1.5zM766.6 1783.1h1.5v1.5h-1.5zM765.5 1800.7h1.5v1.5h-1.5zM763.5 1856.8h1.5v1.5h-1.5zM741.5 1752.8h1.5v1.5h-1.5zM677.9 1884.1h1.5v1.5h-1.5zM766.8 1951.5h1.5v1.5h-1.5zM755.9 1777.4h1.5v1.5h-1.5zM765.2 1802.4h1.5v1.5h-1.5zM665.3 1951.0h1.5v1.5h-1.5zM740.1 1769.9h1.5v1.5h-1.5zM777.5 1727.4h1.5v1.5h-1.5zM756.9 1803.0h1.5v1.5h-1.5zM757.8 1759.4h1.5v1.5h-1.5zM739.5 1953.2h1.5v1.5h-1.5zM757.3 1766.4h1.5v1.5h-1.5zM659.5 1949.2h1.5v1.5h-1.5zM771.3 1799.3h1.5v1.5h-1.5zM747.6 1776.6h1.5v1.5h-1.5zM775.5 1891.3h1.5v1.5h-1.5zM737.1 1952.3h1.5v1.5h-1.5zM773.9 1789.7h1.5v1.5h-1.5zM690.0 1851.4h1.5v1.5h-1.5zM769.3 1804.7h1.5v1.5h-1.5zM757.4 1792.4h1.5v1.5h-1.5zM689.2 1860.4h1.5v1.5h-1.5zM760.1 1819.2h1.5v1.5h-1.5zM776.4 1804.7h1.5v1.5h-1.5zM766.5 1803.3h1.5v1.5h-1.5zM764.5 1750.6h1.5v1.5h-1.5zM740.8 1763.8h1.5v1.5h-1.5zM757.5 1756.9h1.5v1.5h-1.5zM761.9 1747.4h1.5v1.5h-1.5zM667.4 1951.9h1.5v1.5h-1.5zM749.3 1734.8h1.5v1.5h-1.5zM769.5 1728.2h1.5v1.5h-1.5zM738.4 1745.1h1.5v1.5h-1.5zM746.5 1699.3h1.5v1.5h-1.5zM765.5 1819.2h1.5v1.5h-1.5zM751.7 1947.9h1.5v1.5h-1.5zM760.2 1761.1h1.5v1.5h-1.5zM769.9 1887.8h1.5v1.5h-1.5zM766.7 1809.5h1.5v1.5h-1.5zM730.4 1957.5h1.5v1.5h-1.5zM681.9 1955.2h1.5v1.5h-1.5zM765.0 1841.1h1.5v1.5h-1.5zM752.8 1766.5h1.5v1.5h-1.5zM747.0 1729.6h1.5v1.5h-1.5zM693.9 1952.4h1.5v1.5h-1.5zM698.3 1957.7h1.5v1.5h-1.5zM760.6 1852.0h1.5v1.5h-1.5zM763.5 1808.8h1.5v1.5h-1.5zM709.3 1954.6h1.5v1.5h-1.5zM720.4 1957.0h1.5v1.5h-1.5zM776.0 1767.6h1.5v1.5h-1.5zM772.4 1950.7h1.5v1.5h-1.5zM769.6 1822.0h1.5v1.5h-1.5zM666.1 1898.4h1.5v1.5h-1.5zM674.7 1952.6h1.5v1.5h-1.5zM757.1 1841.9h1.5v1.5h-1.5zM749.4 1732.5h1.5v1.5h-1.5zM763.3 1783.2h1.5v1.5h-1.5zM750.1 1953.6h1.5v1.5h-1.5zM686.7 1953.6h1.5v1.5h-1.5zM759.2 1824.0h1.5v1.5h-1.5zM657.0 1955.0h1.5v1.5h-1.5zM762.2 1777.8h1.5v1.5h-1.5zM763.3 1761.6h1.5v1.5h-1.5zM764.3 1862.9h1.5v1.5h-1.5zM768.5 1750.4h1.5v1.5h-1.5zM782.0 1853.4h1.5v1.5h-1.5zM675.5 1886.6h1.5v1.5h-1.5zM745.5 1750.8h1.5v1.5h-1.5zM767.6 1788.9h1.5v1.5h-1.5zM763.3 1784.4h1.5v1.5h-1.5zM769.1 1930.5h1.5v1.5h-1.5zM754.8 1712.6h1.5v1.5h-1.5zM758.9 1770.9h1.5v1.5h-1.5zM609.4 1948.9h1.5v1.5h-1.5zM661.7 1949.6h1.5v1.5h-1.5zM759.8 1853.1h1.5v1.5h-1.5zM752.7 1771.9h1.5v1.5h-1.5zM764.0 1746.9h1.5v1.5h-1.5zM770.9 1842.9h1.5v1.5h-1.5zM745.9 1761.7h1.5v1.5h-1.5zM761.5 1778.0h1.5v1.5h-1.5zM764.7 1760.3h1.5v1.5h-1.5zM768.5 1812.2h1.5v1.5h-1.5zM756.9 1849.4h1.5v1.5h-1.5zM665.8 1875.1h1.5v1.5h-1.5zM774.2 1725.9h1.5v1.5h-1.5zM766.3 1727.0h1.5v1.5h-1.5zM775.3 1792.0h1.5v1.5h-1.5zM757.5 1775.4h1.5v1.5h-1.5zM758.0 1739.6h1.5v1.5h-1.5zM683.1 1956.1h1.5v1.5h-1.5zM768.1 1860.0h1.5v1.5h-1.5zM748.0 1786.3h1.5v1.5h-1.5zM699.5 1953.3h1.5v1.5h-1.5zM760.1 1768.0h1.5v1.5h-1.5zM640.8 1919.4h1.5v1.5h-1.5zM768.4 1772.4h1.5v1.5h-1.5zM760.5 1761.1h1.5v1.5h-1.5zM760.4 1805.7h1.5v1.5h-1.5zM751.4 1763.0h1.5v1.5h-1.5zM745.5 1749.8h1.5v1.5h-1.5zM690.7 1814.0h1.5v1.5h-1.5zM759.7 1757.8h1.5v1.5h-1.5zM655.3 1865.6h1.5v1.5h-1.5zM760.8 1722.3h1.5v1.5h-1.5zM662.3 1903.1h1.5v1.5h-1.5zM752.5 1785.3h1.5v1.5h-1.5zM756.5 1825.7h1.5v1.5h-1.5zM703.6 1959.4h1.5v1.5h-1.5zM774.1 1902.6h1.5v1.5h-1.5zM767.7 1897.0h1.5v1.5h-1.5zM758.8 1734.2h1.5v1.5h-1.5zM755.5 1793.2h1.5v1.5h-1.5zM755.9 1727.5h1.5v1.5h-1.5zM728.4 1954.2h1.5v1.5h-1.5zM771.6 1912.3h1.5v1.5h-1.5zM765.4 1928.6h1.5v1.5h-1.5zM772.7 1776.9h1.5v1.5h-1.5zM740.0 1740.0h1.5v1.5h-1.5zM669.7 1878.1h1.5v1.5h-1.5zM768.8 1866.3h1.5v1.5h-1.5zM653.7 1892.8h1.5v1.5h-1.5zM748.1 1762.6h1.5v1.5h-1.5zM772.5 1815.9h1.5v1.5h-1.5zM765.6 1789.8h1.5v1.5h-1.5zM638.8 1967.9h1.5v1.5h-1.5zM748.6 1743.2h1.5v1.5h-1.5zM760.8 1741.0h1.5v1.5h-1.5zM671.6 1950.5h1.5v1.5h-1.5zM771.0 1926.4h1.5v1.5h-1.5zM679.3 1953.7h1.5v1.5h-1.5zM689.2 1955.8h1.5v1.5h-1.5zM655.5 1952.5h1.5v1.5h-1.5zM762.7 1821.8h1.5v1.5h-1.5zM672.8 1853.1h1.5v1.5h-1.5zM715.3 1955.9h1.5v1.5h-1.5zM772.5 1801.8h1.5v1.5h-1.5zM736.3 1742.2h1.5v1.5h-1.5zM703.7 1953.2h1.5v1.5h-1.5zM661.1 1951.2h1.5v1.5h-1.5zM693.1 1951.6h1.5v1.5h-1.5zM750.5 1742.6h1.5v1.5h-1.5zM701.2 1958.4h1.5v1.5h-1.5zM765.9 1790.9h1.5v1.5h-1.5zM649.1 1949.8h1.5v1.5h-1.5zM773.9 1835.7h1.5v1.5h-1.5zM753.1 1952.2h1.5v1.5h-1.5zM725.5 1772.4h1.5v1.5h-1.5zM745.3 1791.5h1.5v1.5h-1.5zM758.4 1739.2h1.5v1.5h-1.5zM764.2 1757.0h1.5v1.5h-1.5zM751.6 1770.4h1.5v1.5h-1.5zM779.3 1881.5h1.5v1.5h-1.5zM760.1 1816.4h1.5v1.5h-1.5zM699.6 1953.5h1.5v1.5h-1.5zM765.6 1735.2h1.5v1.5h-1.5zM751.0 1736.1h1.5v1.5h-1.5zM739.2 1951.0h1.5v1.5h-1.5zM764.7 1880.9h1.5v1.5h-1.5zM762.6 1740.4h1.5v1.5h-1.5zM714.6 1951.2h1.5v1.5h-1.5zM762.8 1726.7h1.5v1.5h-1.5zM751.6 1754.6h1.5v1.5h-1.5zM763.2 1751.5h1.5v1.5h-1.5zM770.5 1858.7h1.5v1.5h-1.5zM763.2 1765.8h1.5v1.5h-1.5zM779.9 1886.8h1.5v1.5h-1.5zM775.5 1877.5h1.5v1.5h-1.5zM770.6 1782.4h1.5v1.5h-1.5zM757.9 1716.4h1.5v1.5h-1.5zM772.1 1791.6h1.5v1.5h-1.5zM766.0 1795.6h1.5v1.5h-1.5zM753.6 1951.9h1.5v1.5h-1.5zM757.3 1847.0h1.5v1.5h-1.5zM764.3 1818.0h1.5v1.5h-1.5zM753.2 1709.4h1.5v1.5h-1.5zM764.8 1773.9h1.5v1.5h-1.5zM772.3 1833.7h1.5v1.5h-1.5zM707.1 1954.5h1.5v1.5h-1.5zM760.9 1764.7h1.5v1.5h-1.5zM774.1 1745.6h1.5v1.5h-1.5zM766.0 1808.6h1.5v1.5h-1.5zM739.8 1749.8h1.5v1.5h-1.5zM735.3 1722.4h1.5v1.5h-1.5zM756.9 1753.2h1.5v1.5h-1.5zM750.1 1788.2h1.5v1.5h-1.5zM753.9 1770.3h1.5v1.5h-1.5zM761.5 1839.0h1.5v1.5h-1.5zM770.0 1878.7h1.5v1.5h-1.5zM770.4 1854.9h1.5v1.5h-1.5zM785.6 1949.7h1.5v1.5h-1.5zM752.5 1747.1h1.5v1.5h-1.5zM741.8 1742.6h1.5v1.5h-1.5zM744.3 1954.1h1.5v1.5h-1.5zM688.3 1871.7h1.5v1.5h-1.5zM754.5 1799.9h1.5v1.5h-1.5zM778.8 1767.9h1.5v1.5h-1.5zM773.2 1797.8h1.5v1.5h-1.5zM690.8 1954.3h1.5v1.5h-1.5zM754.0 1771.9h1.5v1.5h-1.5zM765.0 1745.3h1.5v1.5h-1.5zM674.5 1881.7h1.5v1.5h-1.5zM757.4 1743.6h1.5v1.5h-1.5zM698.2 1852.3h1.5v1.5h-1.5zM762.0 1778.8h1.5v1.5h-1.5zM763.0 1880.6h1.5v1.5h-1.5zM745.5 1733.6h1.5v1.5h-1.5zM767.2 1904.3h1.5v1.5h-1.5zM770.1 1873.7h1.5v1.5h-1.5zM696.9 1846.7h1.5v1.5h-1.5zM755.2 1759.0h1.5v1.5h-1.5zM765.2 1747.1h1.5v1.5h-1.5zM771.7 1874.9h1.5v1.5h-1.5zM769.4 1864.2h1.5v1.5h-1.5zM754.2 1730.6h1.5v1.5h-1.5zM780.0 1940.0h1.5v1.5h-1.5zM756.0 1728.7h1.5v1.5h-1.5zM766.3 1732.9h1.5v1.5h-1.5zM766.8 1809.3h1.5v1.5h-1.5zM761.9 1879.8h1.5v1.5h-1.5zM755.4 1763.2h1.5v1.5h-1.5zM760.7 1745.5h1.5v1.5h-1.5zM766.5 1754.3h1.5v1.5h-1.5zM767.9 1798.9h1.5v1.5h-1.5zM708.4 1827.9h1.5v1.5h-1.5zM781.1 1945.3h1.5v1.5h-1.5zM762.7 1748.0h1.5v1.5h-1.5zM759.8 1789.9h1.5v1.5h-1.5zM775.2 1891.6h1.5v1.5h-1.5zM737.0 1717.1h1.5v1.5h-1.5zM749.8 1737.1h1.5v1.5h-1.5zM768.7 1896.8h1.5v1.5h-1.5zM750.1 1951.8h1.5v1.5h-1.5zM768.6 1795.5h1.5v1.5h-1.5zM744.9 1948.7h1.5v1.5h-1.5zM719.0 1955.1h1.5v1.5h-1.5zM742.1 1954.1h1.5v1.5h-1.5zM771.8 1820.7h1.5v1.5h-1.5zM758.6 1789.7h1.5v1.5h-1.5zM766.9 1822.0h1.5v1.5h-1.5zM766.6 1832.4h1.5v1.5h-1.5zM763.5 1718.1h1.5v1.5h-1.5zM761.4 1763.2h1.5v1.5h-1.5zM771.6 1811.1h1.5v1.5h-1.5zM715.6 1952.4h1.5v1.5h-1.5zM718.4 1957.8h1.5v1.5h-1.5zM774.4 1830.9h1.5v1.5h-1.5zM771.1 1819.3h1.5v1.5h-1.5zM749.6 1731.0h1.5v1.5h-1.5zM775.9 1786.9h1.5v1.5h-1.5zM627.2 1953.6h1.5v1.5h-1.5zM751.3 1791.3h1.5v1.5h-1.5zM756.1 1786.0h1.5v1.5h-1.5zM685.9 1874.8h1.5v1.5h-1.5zM753.5 1815.4h1.5v1.5h-1.5zM686.6 1957.4h1.5v1.5h-1.5zM767.7 1873.2h1.5v1.5h-1.5zM761.7 1810.3h1.5v1.5h-1.5zM771.9 1832.2h1.5v1.5h-1.5zM707.4 1952.1h1.5v1.5h-1.5zM750.9 1771.5h1.5v1.5h-1.5zM664.9 1893.1h1.5v1.5h-1.5zM756.2 1723.3h1.5v1.5h-1.5zM751.4 1752.3h1.5v1.5h-1.5zM765.5 1736.5h1.5v1.5h-1.5zM768.0 1830.5h1.5v1.5h-1.5zM769.3 1781.5h1.5v1.5h-1.5zM768.0 1804.1h1.5v1.5h-1.5zM747.7 1728.4h1.5v1.5h-1.5zM771.4 1943.9h1.5v1.5h-1.5zM754.8 1736.9h1.5v1.5h-1.5zM770.0 1871.4h1.5v1.5h-1.5zM743.7 1790.5h1.5v1.5h-1.5zM772.2 1832.4h1.5v1.5h-1.5zM730.7 1742.7h1.5v1.5h-1.5zM768.3 1842.9h1.5v1.5h-1.5zM728.9 1953.0h1.5v1.5h-1.5zM760.7 1773.3h1.5v1.5h-1.5zM669.5 1955.8h1.5v1.5h-1.5zM775.5 1895.8h1.5v1.5h-1.5zM673.9 1952.8h1.5v1.5h-1.5zM709.2 1839.2h1.5v1.5h-1.5zM754.6 1818.6h1.5v1.5h-1.5zM742.3 1739.9h1.5v1.5h-1.5zM768.9 1881.2h1.5v1.5h-1.5zM752.1 1787.1h1.5v1.5h-1.5zM746.9 1775.8h1.5v1.5h-1.5zM693.8 1853.6h1.5v1.5h-1.5zM738.5 1769.3h1.5v1.5h-1.5zM658.3 1950.9h1.5v1.5h-1.5zM760.9 1752.6h1.5v1.5h-1.5zM679.1 1953.9h1.5v1.5h-1.5zM724.6 1753.3h1.5v1.5h-1.5zM738.8 1952.1h1.5v1.5h-1.5zM750.8 1958.9h1.5v1.5h-1.5zM754.9 1779.3h1.5v1.5h-1.5zM773.1 1762.8h1.5v1.5h-1.5zM768.0 1826.3h1.5v1.5h-1.5zM745.2 1733.3h1.5v1.5h-1.5zM691.8 1956.0h1.5v1.5h-1.5zM750.4 1950.4h1.5v1.5h-1.5zM770.2 1774.6h1.5v1.5h-1.5zM766.3 1829.9h1.5v1.5h-1.5zM733.0 1747.1h1.5v1.5h-1.5zM761.9 1857.2h1.5v1.5h-1.5zM780.9 1958.6h1.5v1.5h-1.5zM770.0 1816.4h1.5v1.5h-1.5zM741.1 1951.4h1.5v1.5h-1.5zM753.0 1743.6h1.5v1.5h-1.5zM748.2 1739.5h1.5v1.5h-1.5zM785.8 1746.6h1.5v1.5h-1.5zM671.1 1953.0h1.5v1.5h-1.5zM664.3 1954.7h1.5v1.5h-1.5zM761.7 1767.0h1.5v1.5h-1.5zM771.1 1805.6h1.5v1.5h-1.5zM758.5 1733.0h1.5v1.5h-1.5zM758.2 1791.5h1.5v1.5h-1.5zM706.4 1832.8h1.5v1.5h-1.5zM766.5 1882.3h1.5v1.5h-1.5zM764.2 1733.0h1.5v1.5h-1.5zM779.5 1837.1h1.5v1.5h-1.5zM711.0 1953.7h1.5v1.5h-1.5zM758.6 1745.4h1.5v1.5h-1.5zM702.2 1954.0h1.5v1.5h-1.5zM759.8 1728.1h1.5v1.5h-1.5zM761.9 1738.8h1.5v1.5h-1.5zM682.3 1956.8h1.5v1.5h-1.5zM656.4 1958.6h1.5v1.5h-1.5zM774.2 1804.7h1.5v1.5h-1.5zM700.5 1952.0h1.5v1.5h-1.5zM745.2 1705.6h1.5v1.5h-1.5zM758.6 1828.4h1.5v1.5h-1.5zM768.5 1856.8h1.5v1.5h-1.5zM766.1 1744.9h1.5v1.5h-1.5zM660.8 1954.5h1.5v1.5h-1.5zM763.5 1764.5h1.5v1.5h-1.5zM659.6 1953.1h1.5v1.5h-1.5zM764.6 1760.8h1.5v1.5h-1.5zM750.6 1794.7h1.5v1.5h-1.5zM749.1 1780.5h1.5v1.5h-1.5zM729.6 1718.9h1.5v1.5h-1.5zM734.5 1954.6h1.5v1.5h-1.5zM678.2 1880.5h1.5v1.5h-1.5zM655.1 1948.8h1.5v1.5h-1.5zM695.9 1952.1h1.5v1.5h-1.5zM772.1 1759.0h1.5v1.5h-1.5zM759.1 1805.6h1.5v1.5h-1.5zM761.4 1880.2h1.5v1.5h-1.5zM753.0 1732.1h1.5v1.5h-1.5zM749.0 1776.2h1.5v1.5h-1.5zM774.1 1828.6h1.5v1.5h-1.5zM763.5 1730.9h1.5v1.5h-1.5zM732.5 1771.4h1.5v1.5h-1.5zM679.7 1877.8h1.5v1.5h-1.5zM766.2 1921.4h1.5v1.5h-1.5zM756.6 1814.5h1.5v1.5h-1.5zM762.6 1844.8h1.5v1.5h-1.5zM763.1 1758.4h1.5v1.5h-1.5zM771.5 1760.8h1.5v1.5h-1.5zM743.2 1795.9h1.5v1.5h-1.5zM747.6 1764.2h1.5v1.5h-1.5zM752.8 1746.4h1.5v1.5h-1.5zM694.2 1953.1h1.5v1.5h-1.5zM653.2 1950.7h1.5v1.5h-1.5zM677.3 1885.6h1.5v1.5h-1.5zM754.5 1745.2h1.5v1.5h-1.5zM745.1 1716.9h1.5v1.5h-1.5zM732.4 1956.5h1.5v1.5h-1.5zM749.9 1736.9h1.5v1.5h-1.5zM741.9 1951.4h1.5v1.5h-1.5zM760.7 1786.1h1.5v1.5h-1.5zM684.8 1952.4h1.5v1.5h-1.5zM650.1 1920.2h1.5v1.5h-1.5zM757.8 1750.9h1.5v1.5h-1.5zM757.5 1843.4h1.5v1.5h-1.5zM762.1 1797.0h1.5v1.5h-1.5zM744.2 1779.1h1.5v1.5h-1.5zM767.6 1742.6h1.5v1.5h-1.5zM748.9 1785.9h1.5v1.5h-1.5zM742.3 1710.5h1.5v1.5h-1.5zM764.9 1851.2h1.5v1.5h-1.5zM773.3 1894.9h1.5v1.5h-1.5zM758.8 1749.2h1.5v1.5h-1.5zM743.4 1743.7h1.5v1.5h-1.5zM746.1 1760.1h1.5v1.5h-1.5zM740.1 1957.0h1.5v1.5h-1.5zM777.3 1871.0h1.5v1.5h-1.5zM742.1 1758.5h1.5v1.5h-1.5zM766.1 1864.3h1.5v1.5h-1.5zM730.8 1951.1h1.5v1.5h-1.5zM759.6 1694.7h1.5v1.5h-1.5zM742.2 1745.8h1.5v1.5h-1.5zM768.3 1860.8h1.5v1.5h-1.5zM756.5 1816.3h1.5v1.5h-1.5zM753.7 1746.1h1.5v1.5h-1.5zM683.2 1863.1h1.5v1.5h-1.5zM765.4 1830.6h1.5v1.5h-1.5zM762.0 1882.4h1.5v1.5h-1.5zM773.5 1855.4h1.5v1.5h-1.5zM756.0 1964.2h1.5v1.5h-1.5zM756.6 1780.0h1.5v1.5h-1.5zM746.2 1779.6h1.5v1.5h-1.5zM740.6 1953.6h1.5v1.5h-1.5zM749.6 1754.6h1.5v1.5h-1.5zM762.7 1759.0h1.5v1.5h-1.5zM759.5 1725.2h1.5v1.5h-1.5zM757.9 1737.9h1.5v1.5h-1.5zM701.6 1812.0h1.5v1.5h-1.5zM749.9 1744.5h1.5v1.5h-1.5zM773.6 1844.0h1.5v1.5h-1.5zM767.5 1770.0h1.5v1.5h-1.5zM782.1 1835.5h1.5v1.5h-1.5zM751.3 1763.5h1.5v1.5h-1.5zM765.7 1769.2h1.5v1.5h-1.5zM762.5 1874.7h1.5v1.5h-1.5zM636.7 1951.0h1.5v1.5h-1.5zM759.2 1769.9h1.5v1.5h-1.5zM734.3 1731.9h1.5v1.5h-1.5zM761.5 1759.2h1.5v1.5h-1.5zM755.9 1747.5h1.5v1.5h-1.5zM764.2 1850.3h1.5v1.5h-1.5zM761.6 1792.8h1.5v1.5h-1.5zM763.7 1749.9h1.5v1.5h-1.5zM765.4 1953.6h1.5v1.5h-1.5zM748.8 1768.2h1.5v1.5h-1.5zM737.1 1764.6h1.5v1.5h-1.5zM765.9 1833.1h1.5v1.5h-1.5zM773.9 1849.0h1.5v1.5h-1.5zM750.7 1951.9h1.5v1.5h-1.5zM764.0 1757.7h1.5v1.5h-1.5zM758.9 1840.6h1.5v1.5h-1.5zM773.5 1792.9h1.5v1.5h-1.5zM766.7 1873.3h1.5v1.5h-1.5zM740.1 1765.5h1.5v1.5h-1.5zM736.0 1949.9h1.5v1.5h-1.5zM685.6 1850.6h1.5v1.5h-1.5zM777.5 1872.2h1.5v1.5h-1.5zM764.6 1749.3h1.5v1.5h-1.5zM756.9 1859.9h1.5v1.5h-1.5zM756.9 1767.7h1.5v1.5h-1.5zM748.1 1772.8h1.5v1.5h-1.5zM760.1 1738.7h1.5v1.5h-1.5zM767.8 1783.0h1.5v1.5h-1.5zM746.5 1783.4h1.5v1.5h-1.5zM757.2 1839.9h1.5v1.5h-1.5zM756.5 1749.8h1.5v1.5h-1.5zM754.5 1737.6h1.5v1.5h-1.5zM751.7 1725.4h1.5v1.5h-1.5zM738.5 1771.9h1.5v1.5h-1.5zM661.1 1910.3h1.5v1.5h-1.5zM738.2 1711.3h1.5v1.5h-1.5zM759.6 1741.9h1.5v1.5h-1.5zM750.6 1782.0h1.5v1.5h-1.5zM721.9 1956.5h1.5v1.5h-1.5zM772.4 1807.1h1.5v1.5h-1.5zM760.1 1766.0h1.5v1.5h-1.5zM668.1 1958.6h1.5v1.5h-1.5zM765.9 1754.2h1.5v1.5h-1.5zM770.7 1883.4h1.5v1.5h-1.5zM753.1 1769.9h1.5v1.5h-1.5zM695.3 1856.5h1.5v1.5h-1.5zM756.9 1804.7h1.5v1.5h-1.5zM749.1 1745.2h1.5v1.5h-1.5zM762.2 1766.9h1.5v1.5h-1.5zM759.2 1761.1h1.5v1.5h-1.5zM777.5 1893.9h1.5v1.5h-1.5zM768.9 1723.6h1.5v1.5h-1.5zM697.6 1952.8h1.5v1.5h-1.5zM701.7 1957.1h1.5v1.5h-1.5zM761.7 1710.8h1.5v1.5h-1.5zM755.4 1750.6h1.5v1.5h-1.5z" fill="#1a1a1a"/>
</g>
<rect x="555.2" y="1694" width="312.1" height="311.3" fill="none" stroke="#111" stroke-width="1.8"/>
<path d="M551.2 1990.8H555.2M551.2 1979.1H555.2M551.2 1967.3H555.2M551.2 1955.5H555.2M551.2 1932.0H555.2M551.2 1920.3H555.2M551.2 1908.5H555.2M551.2 1896.7H555.2M551.2 1873.2H555.2M551.2 1861.4H555.2M551.2 1849.7H555.2M551.2 1837.9H555.2M551.2 1814.4H555.2M551.2 1802.6H555.2M551.2 1790.8H555.2M551.2 1779.1H555.2M551.2 1755.6H555.2M551.2 1743.8H555.2M551.2 1732.0H555.2M551.2 1720.3H555.2M551.2 1696.7H555.2" fill="none" stroke="#111" stroke-width="1.5"/>
<path d="M546.2 2002.6H555.2M546.2 1943.8H555.2M546.2 1885.0H555.2M546.2 1826.1H555.2M546.2 1767.3H555.2M546.2 1708.5H555.2" fill="none" stroke="#111" stroke-width="2.4"/>
<text x="540.5" y="2006.8" font-size="11.5" text-anchor="end">0</text>
<text x="540.5" y="1948" font-size="11.5" text-anchor="end" textLength="26" lengthAdjust="spacingAndGlyphs">50K</text>
<text x="540.5" y="1889.2" font-size="11.5" text-anchor="end" textLength="26" lengthAdjust="spacingAndGlyphs">100K</text>
<text x="540.5" y="1830.3" font-size="11.5" text-anchor="end" textLength="26" lengthAdjust="spacingAndGlyphs">150K</text>
<text x="540.5" y="1771.5" font-size="11.5" text-anchor="end" textLength="26" lengthAdjust="spacingAndGlyphs">200K</text>
<text x="540.5" y="1712.7" font-size="11.5" text-anchor="end" textLength="26" lengthAdjust="spacingAndGlyphs">250K</text>
<path d="M618.1 2005.3V2009.3M632.3 2005.3V2009.3M611.2 2005.3V2009.3M639.1 2005.3V2009.3M604.8 2005.3V2009.3M645.4 2005.3V2009.3M599.0 2005.3V2009.3M651.2 2005.3V2009.3M593.7 2005.3V2009.3M656.4 2005.3V2009.3M588.9 2005.3V2009.3M661.1 2005.3V2009.3M584.6 2005.3V2009.3M665.4 2005.3V2009.3M580.7 2005.3V2009.3M669.3 2005.3V2009.3M577.1 2005.3V2009.3M672.8 2005.3V2009.3M701.8 2005.3V2009.3M716.8 2005.3V2009.3M727.5 2005.3V2009.3M735.7 2005.3V2009.3M742.5 2005.3V2009.3M748.2 2005.3V2009.3M753.1 2005.3V2009.3M757.5 2005.3V2009.3M783.8 2005.3V2009.3M796.9 2005.3V2009.3M806.1 2005.3V2009.3M813.3 2005.3V2009.3M819.2 2005.3V2009.3M824.2 2005.3V2009.3M828.5 2005.3V2009.3M832.3 2005.3V2009.3M858.1 2005.3V2009.3" fill="none" stroke="#111" stroke-width="1.5"/>
<path d="M573.8 2005.3V2014.3M676.1 2005.3V2014.3M761.4 2005.3V2014.3M835.7 2005.3V2014.3" fill="none" stroke="#111" stroke-width="2.4"/>
<path d="M624.5 2005.3V2012.5M625.9 2005.3V2012.5M623.8 2005.3V2012.5M626.6 2005.3V2012.5M623.0 2005.3V2012.5M627.3 2005.3V2012.5M622.3 2005.3V2012.5M628.0 2005.3V2012.5M621.6 2005.3V2012.5M628.8 2005.3V2012.5M620.9 2005.3V2012.5M629.5 2005.3V2012.5M620.2 2005.3V2012.5M630.2 2005.3V2012.5M619.5 2005.3V2012.5M630.9 2005.3V2012.5M618.8 2005.3V2012.5M631.6 2005.3V2012.5M625.2 2005.3V2012.5" fill="none" stroke="#111" stroke-width="1.6"/>
<text x="582.8" y="2033" font-size="11.5" text-anchor="middle">-10<tspan dy="-6.3" font-size="9.2">3</tspan></text>
<text x="630.7" y="2033" font-size="11.5" text-anchor="middle">0</text>
<text x="684.6" y="2033" font-size="11.5" text-anchor="middle">10<tspan dy="-6.3" font-size="9.2">3</tspan></text>
<text x="770.9" y="2033" font-size="11.5" text-anchor="middle">10<tspan dy="-6.3" font-size="9.2">4</tspan></text>
<text x="846.7" y="2033" font-size="11.5" text-anchor="middle">10<tspan dy="-6.3" font-size="9.2">5</tspan></text>
<rect x="715.8" y="1700.8" width="147" height="298.6" fill="none" stroke="#111" stroke-width="1.5"/>
<line x1="862.8" y1="1700.8" x2="862.8" y2="1999.4" stroke="#111" stroke-width="2.5"/>
<text x="808" y="1945.1" font-size="17" textLength="51" lengthAdjust="spacingAndGlyphs">EdU<tspan dy="-5.7" font-size="9.9">pos</tspan></text>
<text x="808" y="1969.1" font-size="17" textLength="49.5" lengthAdjust="spacingAndGlyphs">45.3%</text>
<text x="614.2" y="1669.2" font-size="37" textLength="179" lengthAdjust="spacingAndGlyphs">Manf<tspan dy="-12.3" font-size="21.6">Cx3cr1WT</tspan></text>
<text x="658.6" y="2087.6" font-size="37" textLength="141" lengthAdjust="spacingAndGlyphs">Edu-FITC</text>
<clipPath id="c7"><rect x="929.8" y="1694" width="313" height="311"/></clipPath>
<g clip-path="url(#c7)">
<path d="M1112.8 1818.5 1116.3 1818.7 1119.8 1820.8 1122.5 1824.5 1124.6 1829.5 1126.4 1837.0 1127.7 1846.5 1128.9 1876.0 1129.6 1881.5 1131.4 1886.5 1139.0 1899.0 1142.0 1909.0 1143.0 1915.0 1143.1 1919.5 1142.1 1924.0 1138.9 1932.0 1138.8 1934.0 1140.0 1939.0 1139.1 1941.5 1136.7 1943.5 1133.3 1945.2 1122.3 1948.2 1107.8 1950.3 1088.8 1951.4 1068.3 1951.3 1035.8 1949.4 1027.3 1947.8 1020.8 1944.7 1017.9 1941.5 1017.5 1940.0 1017.8 1938.0 1029.7 1917.0 1034.8 1911.0 1047.2 1899.5 1052.3 1893.8 1072.8 1867.2 1090.0 1841.5 1100.3 1828.0 1106.8 1821.4 1109.8 1819.5 1112.8 1818.5 M1094.8 1894.9 1091.4 1898.0 1090.8 1899.5 1091.3 1900.7 1092.8 1901.1 1094.8 1900.7 1097.3 1898.7 1097.8 1897.0 1097.3 1895.4 1096.3 1894.7 1094.8 1894.9 M1110.2 1826.0 1113.8 1825.7 1116.6 1827.0 1119.1 1830.0 1121.2 1834.5 1123.0 1842.0 1124.4 1852.0 1125.2 1878.0 1125.9 1883.5 1127.9 1888.5 1135.6 1900.5 1137.6 1905.5 1139.2 1912.0 1139.8 1917.5 1139.2 1922.0 1137.7 1926.0 1133.5 1933.0 1132.6 1938.5 1131.7 1940.5 1129.5 1942.5 1126.6 1944.0 1117.3 1946.7 1103.3 1948.6 1087.3 1949.6 1067.3 1949.4 1039.3 1947.3 1031.3 1945.9 1026.1 1943.5 1023.5 1940.5 1023.3 1937.0 1027.7 1925.0 1031.4 1918.5 1038.3 1910.7 1053.1 1899.0 1058.1 1894.0 1074.3 1872.1 1088.7 1849.5 1095.8 1839.5 1103.8 1830.3 1107.3 1827.5 1110.2 1826.0 M1098.3 1885.5 1095.8 1886.4 1092.8 1888.7 1084.5 1897.5 1081.6 1902.5 1081.5 1904.5 1082.3 1905.9 1085.8 1906.4 1094.8 1904.5 1098.9 1903.0 1101.8 1900.6 1103.3 1896.5 1102.9 1890.5 1100.9 1886.5 1098.3 1885.5 M1110.2 1830.0 1112.8 1830.0 1115.3 1831.2 1117.6 1834.0 1119.3 1838.0 1121.1 1845.5 1122.4 1855.0 1122.9 1879.5 1123.5 1884.5 1125.6 1889.5 1131.5 1897.5 1134.1 1902.0 1136.2 1907.5 1137.6 1913.5 1138.0 1918.5 1137.1 1923.0 1135.0 1927.0 1130.2 1933.5 1127.6 1940.0 1125.8 1941.7 1122.8 1943.3 1114.3 1945.8 1101.3 1947.7 1085.8 1948.6 1067.3 1948.3 1041.3 1946.1 1033.8 1944.9 1028.5 1942.5 1026.1 1939.5 1025.9 1936.0 1029.0 1925.5 1032.9 1918.5 1036.6 1914.0 1041.3 1909.7 1057.3 1898.5 1062.2 1894.0 1074.3 1876.9 1088.5 1853.5 1095.3 1843.6 1103.8 1833.9 1107.3 1831.2 1110.2 1830.0 M1098.3 1880.8 1095.3 1882.5 1091.8 1885.5 1079.5 1898.5 1077.9 1901.5 1077.1 1904.5 1077.3 1907.5 1078.6 1909.5 1081.8 1909.7 1097.3 1905.2 1101.3 1903.5 1104.1 1901.0 1105.3 1898.5 1106.0 1895.0 1105.9 1890.5 1105.1 1886.5 1103.8 1883.3 1102.3 1881.5 1100.3 1880.6 1098.3 1880.8 M1071.8 1923.9 1068.5 1927.0 1068.1 1928.5 1069.0 1929.5 1073.3 1929.6 1075.8 1928.0 1075.9 1926.5 1074.8 1924.5 1073.3 1923.6 1071.8 1923.9 M1110.4 1833.0 1113.3 1833.6 1115.8 1836.0 1117.6 1839.5 1119.1 1845.0 1121.0 1859.0 1121.0 1880.5 1121.8 1886.0 1124.0 1890.5 1129.9 1898.0 1132.7 1902.5 1135.1 1908.5 1136.5 1914.5 1136.6 1919.5 1135.4 1924.0 1133.2 1927.5 1127.7 1934.0 1124.9 1939.5 1120.8 1942.6 1112.3 1945.2 1100.3 1947.0 1085.8 1947.9 1067.8 1947.6 1042.3 1945.2 1035.0 1944.0 1030.3 1941.9 1027.9 1939.0 1027.7 1934.5 1030.0 1925.5 1033.8 1918.5 1038.2 1913.5 1043.3 1909.1 1061.4 1898.0 1065.5 1894.5 1070.3 1887.7 1088.2 1857.0 1094.8 1846.9 1103.8 1836.5 1107.3 1834.0 1110.4 1833.0 M1098.8 1877.4 1095.8 1879.1 1092.3 1882.0 1079.6 1894.0 1076.2 1898.0 1074.9 1901.0 1074.6 1905.0 1075.3 1910.5 1076.8 1913.1 1078.8 1913.0 1087.3 1909.3 1100.6 1905.0 1104.0 1903.0 1106.2 1900.5 1107.5 1897.0 1108.0 1892.5 1107.8 1888.0 1106.9 1884.0 1105.3 1880.3 1103.3 1877.9 1101.3 1877.1 1098.8 1877.4 M1073.3 1920.5 1070.3 1922.7 1067.0 1926.5 1065.9 1929.0 1066.7 1930.5 1069.3 1931.2 1073.3 1931.0 1076.3 1930.2 1078.0 1929.0 1078.1 1926.5 1076.3 1922.4 1074.8 1920.6 1073.3 1920.5 M1108.6 1835.5 1111.3 1835.3 1113.8 1836.7 1115.8 1839.5 1117.6 1844.5 1119.0 1852.0 1119.8 1860.5 1119.7 1884.5 1121.9 1890.0 1131.0 1901.5 1134.5 1909.5 1135.7 1914.5 1135.9 1919.0 1134.9 1923.0 1133.0 1926.5 1126.2 1934.0 1123.2 1939.0 1121.2 1941.0 1114.8 1943.8 1104.8 1945.8 1087.3 1947.3 1068.8 1947.1 1039.8 1944.3 1034.8 1943.1 1031.3 1941.4 1029.0 1938.5 1028.7 1933.5 1030.6 1925.5 1034.5 1918.5 1039.8 1912.7 1046.3 1907.7 1053.8 1903.3 1066.9 1897.0 1070.3 1894.5 1083.4 1868.0 1092.0 1853.0 1101.3 1840.8 1105.3 1837.2 1108.6 1835.5 M1099.3 1874.9 1094.8 1877.7 1073.1 1896.0 1072.4 1900.5 1073.9 1912.5 1073.9 1916.0 1072.6 1918.5 1065.4 1927.5 1064.6 1929.5 1065.3 1931.0 1067.8 1931.8 1071.8 1931.9 1076.3 1931.2 1078.8 1930.1 1079.6 1929.0 1079.6 1927.5 1077.0 1919.0 1077.4 1917.0 1078.4 1915.5 1081.5 1913.0 1086.3 1910.4 1102.8 1904.7 1105.3 1903.0 1107.4 1900.5 1108.9 1896.5 1109.7 1891.5 1109.6 1887.5 1108.6 1883.0 1106.6 1878.5 1104.3 1875.6 1101.8 1874.6 1099.3 1874.9 M1108.6 1837.5 1111.3 1837.6 1113.8 1839.6 1115.8 1843.5 1117.3 1849.4 1118.7 1863.5 1117.4 1882.0 1118.0 1886.5 1120.3 1890.5 1129.9 1901.5 1132.6 1906.5 1134.4 1912.0 1135.2 1916.0 1135.0 1920.0 1134.0 1923.5 1132.2 1926.5 1124.8 1934.0 1121.3 1939.0 1119.1 1941.0 1113.2 1943.5 1103.3 1945.5 1086.8 1946.9 1068.8 1946.7 1040.3 1943.7 1035.8 1942.7 1032.3 1941.0 1030.1 1938.5 1029.5 1935.0 1030.5 1928.0 1032.5 1922.5 1035.4 1918.0 1039.8 1913.3 1044.8 1909.3 1051.3 1905.3 1057.8 1902.3 1064.3 1900.2 1067.8 1900.1 1069.8 1901.5 1072.1 1908.0 1072.7 1912.0 1072.4 1915.5 1070.6 1919.5 1064.2 1928.0 1063.6 1930.5 1064.2 1931.5 1065.8 1932.2 1071.8 1932.5 1077.9 1931.5 1080.0 1930.5 1080.8 1929.5 1080.9 1928.0 1078.9 1922.5 1078.4 1919.5 1079.4 1916.5 1081.7 1914.0 1088.3 1910.2 1103.3 1905.1 1105.9 1903.5 1107.8 1901.5 1109.5 1898.5 1110.7 1894.5 1111.6 1890.0 1111.6 1886.5 1110.6 1882.5 1108.6 1878.0 1106.7 1875.0 1104.6 1873.0 1101.8 1872.2 1098.3 1873.3 1086.3 1882.6 1081.8 1885.3 1079.5 1885.5 1078.8 1884.0 1079.9 1879.5 1083.2 1871.5 1088.2 1861.5 1092.8 1853.7 1097.3 1847.3 1101.8 1842.1 1105.3 1839.1 1108.6 1837.5 M1107.1 1840.0 1110.3 1839.7 1112.8 1841.4 1114.7 1845.0 1116.0 1850.0 1117.1 1858.0 1117.3 1866.5 1116.4 1874.0 1114.8 1878.8 1113.8 1879.6 1112.8 1879.3 1106.8 1871.7 1104.8 1870.3 1102.3 1869.9 1097.8 1871.4 1087.3 1878.8 1084.3 1879.4 1083.7 1878.5 1083.6 1877.0 1084.7 1872.5 1087.8 1865.0 1091.8 1857.5 1099.8 1846.1 1103.8 1842.1 1107.1 1840.0 M1115.5 1890.0 1117.8 1890.9 1121.8 1894.1 1128.9 1901.5 1132.9 1909.5 1134.6 1917.0 1134.0 1921.5 1131.8 1926.0 1117.0 1941.0 1110.6 1943.5 1100.8 1945.4 1088.8 1946.4 1075.3 1946.6 1063.3 1945.8 1039.8 1943.0 1034.3 1941.3 1031.2 1938.5 1030.3 1935.5 1030.5 1930.5 1031.6 1926.0 1033.6 1921.5 1036.4 1917.5 1039.8 1913.8 1048.8 1907.2 1054.8 1904.2 1061.3 1902.0 1065.3 1901.6 1068.3 1902.8 1069.8 1904.7 1071.1 1908.0 1071.6 1911.5 1071.5 1915.0 1069.7 1919.5 1063.2 1928.5 1062.6 1931.0 1064.1 1932.5 1067.3 1933.1 1073.3 1932.9 1078.6 1932.0 1081.0 1931.0 1082.0 1929.5 1079.4 1920.5 1079.8 1918.0 1081.3 1915.5 1084.2 1913.0 1087.8 1911.0 1101.8 1906.3 1106.4 1904.0 1109.2 1901.0 1113.8 1891.5 1115.5 1890.0 M1106.5 1842.5 1108.8 1842.1 1111.1 1843.0 1112.8 1845.3 1114.1 1849.0 1115.2 1855.0 1115.5 1862.0 1115.1 1867.5 1114.0 1871.0 1112.8 1872.0 1111.8 1871.9 1106.7 1868.0 1102.8 1867.2 1098.8 1868.4 1091.3 1873.0 1088.8 1873.5 1087.9 1872.0 1088.4 1868.5 1093.3 1857.6 1100.3 1847.6 1103.8 1844.2 1106.5 1842.5 M1115.7 1894.0 1117.8 1893.8 1120.8 1895.2 1124.8 1898.3 1128.1 1902.0 1132.3 1910.0 1133.5 1914.0 1133.9 1918.0 1133.0 1922.5 1130.6 1926.5 1114.8 1941.0 1108.3 1943.4 1098.8 1945.1 1086.8 1946.1 1074.3 1946.1 1063.8 1945.3 1040.3 1942.4 1034.8 1940.6 1032.0 1938.0 1031.1 1935.0 1031.2 1930.0 1032.3 1925.5 1034.1 1921.5 1036.9 1917.5 1040.8 1913.5 1045.3 1909.9 1050.3 1906.9 1056.3 1904.3 1061.3 1903.0 1065.3 1903.1 1067.8 1904.4 1069.3 1906.5 1070.4 1909.5 1070.5 1915.5 1068.6 1920.0 1062.2 1929.0 1061.6 1930.5 1061.7 1932.0 1063.3 1933.1 1066.8 1933.7 1078.3 1932.7 1082.0 1931.5 1083.2 1930.0 1080.4 1920.5 1081.0 1917.5 1082.9 1915.0 1089.3 1910.9 1102.8 1906.5 1106.8 1904.5 1109.6 1902.0 1113.8 1895.7 1115.7 1894.0 M1107.2 1845.0 1108.8 1845.1 1110.3 1846.1 1112.4 1850.5 1113.2 1858.5 1112.1 1864.0 1110.3 1865.0 1105.8 1864.1 1102.8 1864.2 1094.8 1867.3 1092.8 1867.4 1092.3 1866.0 1092.8 1863.0 1096.8 1855.0 1102.3 1848.0 1104.8 1846.0 1107.2 1845.0 M1116.0 1896.5 1118.3 1896.1 1121.3 1897.2 1124.8 1899.8 1127.7 1903.0 1130.2 1907.0 1132.1 1911.5 1133.1 1915.5 1133.2 1919.0 1131.9 1923.5 1129.3 1927.2 1119.3 1935.0 1114.9 1939.5 1112.3 1941.2 1105.3 1943.4 1095.8 1945.0 1084.3 1945.7 1072.3 1945.5 1039.8 1941.6 1035.3 1940.0 1032.5 1937.0 1031.7 1933.5 1031.9 1929.0 1033.0 1925.0 1034.9 1921.0 1037.8 1917.0 1041.3 1913.5 1045.8 1910.1 1050.8 1907.2 1056.3 1904.9 1060.8 1903.9 1064.8 1904.2 1067.3 1905.6 1069.6 1910.0 1070.0 1913.0 1069.6 1916.0 1067.6 1920.5 1061.2 1929.5 1060.6 1931.0 1060.7 1932.5 1062.3 1933.7 1065.8 1934.2 1078.3 1933.3 1082.8 1932.1 1084.4 1930.5 1084.3 1929.0 1081.9 1924.0 1081.2 1921.0 1081.7 1918.0 1083.8 1915.0 1089.8 1911.2 1102.8 1907.0 1107.2 1905.0 1109.8 1903.0 1116.0 1896.5 M1105.1 1849.5 1107.3 1849.2 1109.1 1851.0 1109.8 1854.5 1109.0 1857.5 1106.3 1859.3 1100.8 1860.5 1098.8 1860.3 1098.3 1858.5 1099.8 1855.0 1102.3 1851.7 1105.1 1849.5 M1116.2 1898.5 1118.8 1898.0 1121.3 1898.8 1124.3 1900.8 1127.3 1903.9 1129.8 1907.8 1131.6 1912.0 1132.5 1916.0 1132.5 1919.5 1131.2 1923.5 1128.2 1927.5 1117.6 1935.0 1112.8 1939.5 1110.3 1941.0 1104.3 1943.0 1094.8 1944.6 1083.8 1945.3 1072.3 1945.1 1040.3 1941.1 1035.8 1939.3 1033.3 1936.5 1032.4 1933.0 1032.6 1928.5 1033.6 1924.5 1035.7 1920.5 1038.8 1916.5 1042.3 1913.2 1046.8 1909.9 1051.8 1907.2 1058.3 1905.0 1063.3 1904.9 1066.6 1906.5 1068.7 1910.0 1069.2 1913.5 1068.4 1917.5 1066.1 1922.0 1060.2 1930.0 1059.5 1932.0 1060.0 1933.5 1061.8 1934.5 1064.8 1934.8 1077.8 1934.0 1083.3 1932.8 1085.6 1931.0 1085.3 1929.0 1082.4 1923.5 1082.0 1921.0 1082.5 1918.0 1084.8 1915.0 1090.8 1911.3 1107.5 1905.5 1116.2 1898.5 M1117.8 1900.5 1120.3 1900.6 1122.8 1901.7 1125.6 1904.0 1128.0 1907.0 1129.9 1910.5 1131.3 1914.5 1131.7 1918.0 1131.3 1921.0 1129.7 1924.5 1126.3 1928.2 1114.1 1935.5 1109.5 1939.5 1106.8 1941.0 1099.9 1943.0 1091.3 1944.2 1080.8 1944.7 1070.8 1944.3 1052.8 1941.4 1040.3 1940.0 1036.3 1938.2 1033.9 1935.0 1033.2 1931.5 1033.5 1927.5 1034.5 1924.0 1036.7 1920.0 1039.5 1916.5 1043.3 1913.0 1047.3 1910.3 1052.3 1907.7 1058.3 1906.0 1062.8 1906.0 1066.2 1908.0 1067.9 1911.5 1068.1 1915.0 1067.1 1918.5 1064.9 1922.5 1058.6 1931.0 1057.9 1933.0 1058.3 1934.5 1060.2 1935.5 1063.3 1935.8 1077.8 1934.8 1084.8 1933.6 1087.5 1932.0 1087.4 1930.0 1084.2 1925.0 1083.0 1921.5 1083.7 1918.0 1086.0 1915.0 1092.3 1911.3 1107.3 1906.5 1115.8 1901.2 1117.8 1900.5 M1116.9 1903.0 1119.8 1902.8 1122.3 1903.6 1124.8 1905.4 1127.3 1908.3 1129.3 1911.9 1130.4 1915.5 1130.6 1919.0 1129.9 1922.0 1127.8 1925.5 1124.3 1928.6 1119.8 1931.2 1110.1 1935.5 1105.2 1939.5 1102.3 1941.0 1096.7 1942.5 1088.8 1943.5 1079.8 1943.8 1070.8 1943.4 1062.8 1942.0 1054.8 1939.4 1045.3 1939.4 1040.8 1938.8 1037.1 1937.0 1034.9 1934.0 1034.2 1930.0 1034.8 1925.5 1036.5 1921.5 1039.9 1917.0 1044.3 1913.0 1049.3 1909.9 1054.8 1907.6 1059.8 1906.9 1062.8 1907.4 1065.3 1909.0 1066.8 1912.0 1067.0 1915.5 1064.7 1921.5 1056.1 1933.0 1055.6 1935.5 1056.3 1936.9 1058.3 1937.6 1061.3 1937.5 1082.8 1935.2 1088.6 1934.0 1090.1 1933.0 1090.2 1931.5 1085.7 1925.5 1084.2 1921.5 1084.6 1918.5 1086.3 1916.0 1088.8 1913.9 1092.3 1912.1 1107.0 1907.5 1116.9 1903.0 M1117.2 1904.5 1120.8 1904.7 1124.3 1906.6 1127.5 1910.5 1129.4 1915.0 1129.8 1919.0 1128.9 1922.5 1126.8 1925.5 1123.3 1928.5 1116.8 1931.7 1105.2 1935.5 1100.2 1940.0 1093.6 1942.0 1084.8 1942.9 1075.3 1942.8 1067.8 1941.8 1065.1 1941.0 1063.7 1940.0 1064.3 1939.0 1067.8 1937.9 1088.3 1935.5 1092.8 1934.5 1093.6 1933.5 1093.3 1932.5 1087.4 1926.5 1085.4 1923.0 1085.3 1919.5 1086.8 1916.6 1089.8 1914.1 1093.8 1912.1 1107.5 1908.0 1117.2 1904.5 M1056.0 1908.0 1059.3 1907.7 1061.8 1908.1 1063.8 1909.1 1065.3 1910.8 1066.1 1913.0 1066.1 1916.0 1064.0 1921.5 1051.3 1937.0 1048.8 1937.9 1044.8 1938.2 1041.3 1937.8 1038.8 1936.8 1036.1 1934.0 1035.0 1930.0 1035.4 1925.5 1037.4 1921.0 1040.8 1916.7 1045.3 1912.9 1050.8 1909.7 1056.0 1908.0 M1115.5 1906.0 1119.3 1905.6 1122.8 1906.9 1126.3 1910.2 1128.5 1914.5 1129.1 1918.5 1128.3 1922.0 1126.3 1925.2 1123.0 1928.0 1118.8 1930.3 1112.8 1932.3 1105.8 1933.8 1100.8 1934.0 1097.8 1933.3 1094.3 1931.4 1089.8 1928.0 1087.2 1925.0 1085.9 1922.0 1086.1 1919.5 1087.3 1917.0 1090.1 1914.5 1096.3 1911.7 1115.5 1906.0 M1056.6 1908.5 1061.8 1909.0 1063.8 1910.3 1064.9 1912.0 1065.5 1914.5 1065.3 1917.0 1062.8 1922.5 1057.8 1928.6 1050.3 1935.8 1047.8 1936.8 1044.3 1937.2 1041.3 1936.7 1038.8 1935.6 1036.5 1933.0 1035.6 1929.0 1036.1 1925.0 1038.3 1920.5 1041.8 1916.3 1046.3 1912.7 1051.8 1909.8 1056.6 1908.5 M1084.4 1937.0 1093.3 1936.7 1096.7 1937.5 1097.2 1938.5 1096.5 1939.5 1090.8 1941.4 1084.3 1942.1 1076.8 1942.0 1071.3 1941.3 1068.8 1940.0 1069.9 1939.0 1072.8 1938.2 1084.4 1937.0 M1116.0 1907.0 1119.8 1907.0 1123.3 1908.7 1126.0 1911.5 1127.9 1915.5 1128.3 1919.0 1127.3 1922.5 1125.1 1925.5 1121.8 1928.0 1117.3 1930.2 1112.3 1931.7 1106.8 1932.6 1101.8 1932.6 1097.8 1931.8 1093.8 1929.9 1090.3 1927.4 1087.8 1924.5 1086.8 1921.5 1087.1 1919.0 1088.8 1916.5 1091.3 1914.5 1097.8 1911.7 1116.0 1907.0 M1054.7 1909.5 1060.3 1909.4 1062.3 1910.3 1063.8 1911.9 1064.7 1916.0 1062.8 1921.5 1057.8 1927.8 1050.3 1934.3 1047.8 1935.5 1044.8 1936.0 1042.3 1935.8 1039.8 1934.9 1037.4 1932.5 1036.4 1929.5 1036.6 1925.5 1038.3 1921.5 1041.3 1917.5 1045.3 1914.0 1049.8 1911.3 1054.7 1909.5 M1080.7 1939.0 1085.3 1938.9 1087.4 1939.5 1084.3 1940.4 1080.2 1940.5 1078.0 1940.0 1078.3 1939.5 1080.7 1939.0 M1112.9 1909.0 1117.3 1908.6 1120.8 1909.3 1123.8 1911.4 1126.0 1914.5 1126.9 1918.0 1126.3 1921.5 1124.4 1924.5 1121.4 1927.0 1117.8 1928.9 1113.3 1930.3 1108.3 1931.2 1103.3 1931.3 1099.3 1930.6 1095.3 1929.2 1091.8 1927.0 1089.4 1924.5 1088.3 1922.0 1088.4 1919.5 1089.9 1917.0 1092.3 1915.0 1098.8 1912.3 1112.9 1909.0 M1054.8 1910.5 1059.8 1910.7 1061.4 1911.5 1062.8 1913.2 1063.4 1915.0 1063.3 1917.5 1061.1 1922.5 1055.8 1928.5 1049.8 1932.9 1044.8 1934.3 1042.3 1934.1 1040.3 1933.2 1038.3 1931.0 1037.5 1928.0 1037.9 1924.5 1039.6 1921.0 1042.4 1917.5 1046.3 1914.2 1050.8 1911.7 1054.8 1910.5 M1111.6 1910.5 1115.8 1910.2 1119.3 1910.7 1122.3 1912.4 1124.4 1915.0 1125.3 1918.0 1124.9 1921.0 1123.1 1924.0 1120.3 1926.4 1112.8 1929.3 1103.8 1930.1 1099.3 1929.3 1095.8 1928.0 1092.8 1926.2 1090.8 1924.0 1089.9 1922.0 1090.1 1919.5 1091.2 1917.5 1093.6 1915.5 1100.3 1912.8 1111.6 1910.5 M1053.1 1912.0 1057.8 1911.7 1061.0 1913.5 1061.9 1915.5 1061.9 1917.5 1060.2 1922.0 1055.8 1927.2 1050.3 1931.1 1045.3 1932.6 1041.3 1931.7 1039.6 1930.0 1038.8 1927.5 1039.1 1924.5 1040.4 1921.5 1042.7 1918.5 1045.8 1915.7 1049.3 1913.5 1053.1 1912.0 M1113.7 1911.5 1117.3 1911.8 1119.8 1912.7 1122.0 1914.5 1123.4 1917.0 1123.7 1919.5 1122.8 1922.2 1120.9 1924.5 1117.9 1926.5 1110.8 1928.7 1102.8 1928.9 1095.8 1926.7 1093.4 1925.0 1091.8 1923.0 1091.4 1921.0 1091.9 1919.0 1093.5 1917.0 1095.8 1915.5 1103.3 1912.9 1113.7 1911.5 M1053.4 1913.0 1057.4 1913.0 1060.1 1915.0 1060.5 1918.5 1058.8 1922.4 1055.2 1926.5 1050.3 1929.8 1045.8 1931.1 1042.3 1930.4 1040.8 1928.9 1040.1 1926.5 1040.4 1924.0 1041.9 1921.0 1046.8 1916.0 1050.3 1914.0 1053.4 1913.0 M1108.5 1913.0 1115.8 1913.0 1118.7 1914.0 1120.6 1915.5 1121.8 1917.5 1121.9 1920.0 1120.9 1922.5 1118.8 1924.6 1112.8 1927.3 1105.3 1928.1 1098.3 1926.6 1095.8 1925.3 1093.9 1923.5 1093.2 1922.0 1093.2 1920.0 1095.5 1917.0 1100.8 1914.5 1108.5 1913.0 M1052.0 1914.5 1055.8 1914.2 1058.3 1915.5 1059.1 1918.5 1057.8 1922.0 1054.8 1925.5 1050.3 1928.5 1046.3 1929.6 1043.3 1928.9 1042.0 1927.5 1041.6 1926.0 1041.7 1924.0 1042.8 1921.5 1046.8 1917.2 1052.0 1914.5 M1108.7 1914.0 1115.3 1914.3 1119.1 1916.5 1120.1 1918.5 1120.1 1920.5 1119.0 1922.5 1117.3 1924.1 1111.8 1926.5 1105.3 1927.1 1099.3 1925.8 1095.5 1923.0 1094.8 1921.5 1095.0 1920.0 1097.3 1917.2 1102.3 1915.1 1108.7 1914.0 M1053.1 1915.5 1055.8 1915.8 1057.4 1917.5 1057.3 1920.0 1055.8 1922.9 1053.2 1925.5 1049.8 1927.5 1046.8 1928.1 1044.3 1927.4 1043.3 1926.1 1043.1 1924.5 1044.8 1920.5 1048.8 1917.0 1053.1 1915.5 M1105.3 1915.5 1110.8 1915.1 1115.3 1916.0 1117.8 1918.0 1118.2 1919.5 1117.9 1921.0 1115.3 1923.8 1110.8 1925.6 1105.3 1926.0 1100.3 1924.9 1097.2 1922.5 1096.7 1921.0 1097.2 1919.5 1100.3 1917.0 1105.3 1915.5 M1050.7 1917.5 1053.3 1917.1 1055.2 1918.0 1055.6 1920.0 1054.8 1922.0 1052.8 1924.2 1050.3 1925.8 1047.8 1926.5 1045.9 1926.0 1044.9 1924.0 1045.7 1921.5 1047.8 1919.2 1050.7 1917.5 M1107.3 1916.5 1111.8 1916.7 1114.8 1918.0 1115.7 1920.0 1114.3 1922.5 1111.3 1924.1 1106.8 1924.8 1102.3 1924.1 1099.8 1922.5 1099.2 1920.5 1100.3 1918.8 1103.3 1917.3 1107.3 1916.5 M1049.9 1920.0 1052.3 1919.8 1052.8 1920.5 1052.6 1921.5 1050.6 1923.5 1048.3 1923.8 1047.7 1923.0 1047.9 1922.0 1049.9 1920.0" fill="none" stroke="#4a4a4a" stroke-width="0.8"/>
<path d="M1139.7 1755.9h1.5v1.5h-1.5zM1141.0 1871.6h1.5v1.5h-1.5zM1132.1 1739.5h1.5v1.5h-1.5zM1096.5 1953.0h1.5v1.5h-1.5zM1022.6 1909.2h1.5v1.5h-1.5zM1110.4 1776.3h1.5v1.5h-1.5zM1140.7 1783.6h1.5v1.5h-1.5zM1139.9 1902.0h1.5v1.5h-1.5zM1012.0 1952.1h1.5v1.5h-1.5zM1133.8 1771.7h1.5v1.5h-1.5zM1084.6 1953.5h1.5v1.5h-1.5zM1138.9 1848.6h1.5v1.5h-1.5zM1139.8 1813.1h1.5v1.5h-1.5zM1069.0 1954.5h1.5v1.5h-1.5zM1081.5 1955.1h1.5v1.5h-1.5zM1154.2 1812.8h1.5v1.5h-1.5zM1098.8 1827.3h1.5v1.5h-1.5zM1139.6 1751.5h1.5v1.5h-1.5zM1101.4 1953.1h1.5v1.5h-1.5zM1104.8 1746.3h1.5v1.5h-1.5zM1014.2 1901.7h1.5v1.5h-1.5zM1157.6 1925.2h1.5v1.5h-1.5zM1115.1 1756.8h1.5v1.5h-1.5zM1118.6 1764.0h1.5v1.5h-1.5zM1114.8 1775.5h1.5v1.5h-1.5zM1135.9 1756.3h1.5v1.5h-1.5zM1142.3 1829.2h1.5v1.5h-1.5zM1116.8 1800.7h1.5v1.5h-1.5zM1117.8 1812.8h1.5v1.5h-1.5zM1131.8 1753.2h1.5v1.5h-1.5zM1139.3 1735.9h1.5v1.5h-1.5zM1043.7 1891.7h1.5v1.5h-1.5zM1144.5 1789.6h1.5v1.5h-1.5zM1107.2 1812.2h1.5v1.5h-1.5zM1015.3 1940.9h1.5v1.5h-1.5zM1128.5 1956.7h1.5v1.5h-1.5zM1127.6 1740.7h1.5v1.5h-1.5zM1112.3 1795.2h1.5v1.5h-1.5zM1152.7 1736.9h1.5v1.5h-1.5zM1110.0 1957.9h1.5v1.5h-1.5zM1049.2 1889.6h1.5v1.5h-1.5zM1138.6 1838.2h1.5v1.5h-1.5zM1150.1 1844.9h1.5v1.5h-1.5zM1131.0 1886.1h1.5v1.5h-1.5zM1145.6 1800.6h1.5v1.5h-1.5zM1036.8 1954.5h1.5v1.5h-1.5zM1135.6 1805.8h1.5v1.5h-1.5zM1141.3 1907.8h1.5v1.5h-1.5zM1139.7 1753.0h1.5v1.5h-1.5zM1043.4 1952.9h1.5v1.5h-1.5zM1137.1 1823.5h1.5v1.5h-1.5zM1147.4 1850.6h1.5v1.5h-1.5zM1123.8 1775.1h1.5v1.5h-1.5zM1107.4 1959.1h1.5v1.5h-1.5zM1132.5 1781.8h1.5v1.5h-1.5zM1087.3 1955.1h1.5v1.5h-1.5zM1146.8 1867.3h1.5v1.5h-1.5zM1144.0 1864.0h1.5v1.5h-1.5zM1145.1 1911.6h1.5v1.5h-1.5zM1125.4 1953.8h1.5v1.5h-1.5zM1054.3 1954.8h1.5v1.5h-1.5zM1100.2 1756.7h1.5v1.5h-1.5zM1132.2 1848.9h1.5v1.5h-1.5zM1126.1 1777.3h1.5v1.5h-1.5zM1137.5 1868.5h1.5v1.5h-1.5zM1132.7 1761.2h1.5v1.5h-1.5zM1142.3 1834.2h1.5v1.5h-1.5zM1027.4 1906.8h1.5v1.5h-1.5zM1118.7 1951.4h1.5v1.5h-1.5zM1139.1 1844.7h1.5v1.5h-1.5zM1126.2 1781.5h1.5v1.5h-1.5zM1147.1 1854.6h1.5v1.5h-1.5zM1123.8 1788.8h1.5v1.5h-1.5zM1142.5 1894.1h1.5v1.5h-1.5zM1140.9 1826.8h1.5v1.5h-1.5zM1134.0 1874.1h1.5v1.5h-1.5zM1035.0 1891.6h1.5v1.5h-1.5zM1142.8 1823.9h1.5v1.5h-1.5zM1148.4 1838.9h1.5v1.5h-1.5zM1023.8 1951.3h1.5v1.5h-1.5zM1048.5 1954.6h1.5v1.5h-1.5zM1137.3 1951.5h1.5v1.5h-1.5zM1124.9 1812.2h1.5v1.5h-1.5zM1045.6 1875.5h1.5v1.5h-1.5zM1115.9 1950.4h1.5v1.5h-1.5zM1044.9 1884.3h1.5v1.5h-1.5zM1127.5 1808.6h1.5v1.5h-1.5zM1128.2 1821.4h1.5v1.5h-1.5zM1063.3 1843.3h1.5v1.5h-1.5zM1135.4 1776.1h1.5v1.5h-1.5zM1039.0 1894.3h1.5v1.5h-1.5zM1139.5 1739.4h1.5v1.5h-1.5zM1143.3 1831.9h1.5v1.5h-1.5zM1138.2 1864.3h1.5v1.5h-1.5zM1137.5 1847.6h1.5v1.5h-1.5zM1137.7 1854.8h1.5v1.5h-1.5zM1142.1 1822.9h1.5v1.5h-1.5zM983.9 1938.2h1.5v1.5h-1.5zM1118.3 1802.9h1.5v1.5h-1.5zM1150.2 1756.1h1.5v1.5h-1.5zM1128.0 1794.6h1.5v1.5h-1.5zM1135.0 1830.3h1.5v1.5h-1.5zM1125.1 1821.5h1.5v1.5h-1.5zM1115.7 1797.9h1.5v1.5h-1.5zM1150.0 1788.3h1.5v1.5h-1.5zM1072.0 1954.9h1.5v1.5h-1.5zM1136.4 1890.3h1.5v1.5h-1.5zM1091.9 1815.8h1.5v1.5h-1.5zM1037.9 1892.3h1.5v1.5h-1.5zM1113.4 1960.8h1.5v1.5h-1.5zM1131.8 1849.5h1.5v1.5h-1.5zM1123.0 1949.9h1.5v1.5h-1.5zM982.2 1949.7h1.5v1.5h-1.5zM1134.5 1816.2h1.5v1.5h-1.5zM1104.2 1956.1h1.5v1.5h-1.5zM1111.4 1742.9h1.5v1.5h-1.5zM1163.5 1874.4h1.5v1.5h-1.5zM1124.3 1783.6h1.5v1.5h-1.5zM1089.0 1952.4h1.5v1.5h-1.5zM1063.8 1956.0h1.5v1.5h-1.5zM1138.3 1821.2h1.5v1.5h-1.5zM1139.3 1774.3h1.5v1.5h-1.5zM1142.4 1783.2h1.5v1.5h-1.5zM1054.9 1953.9h1.5v1.5h-1.5zM1141.3 1902.9h1.5v1.5h-1.5zM1141.7 1885.3h1.5v1.5h-1.5zM1138.0 1772.2h1.5v1.5h-1.5zM1132.9 1755.3h1.5v1.5h-1.5zM1067.6 1952.1h1.5v1.5h-1.5zM1121.9 1780.5h1.5v1.5h-1.5zM1143.6 1895.8h1.5v1.5h-1.5zM1113.7 1735.9h1.5v1.5h-1.5zM1141.3 1878.9h1.5v1.5h-1.5zM1132.5 1771.8h1.5v1.5h-1.5zM1137.6 1747.5h1.5v1.5h-1.5zM1158.3 1792.4h1.5v1.5h-1.5zM1136.2 1865.4h1.5v1.5h-1.5zM1084.8 1956.6h1.5v1.5h-1.5zM1120.9 1760.8h1.5v1.5h-1.5zM1108.6 1813.9h1.5v1.5h-1.5zM1143.3 1778.0h1.5v1.5h-1.5zM1142.6 1802.6h1.5v1.5h-1.5zM1142.0 1853.0h1.5v1.5h-1.5zM1136.5 1837.7h1.5v1.5h-1.5zM1112.8 1776.8h1.5v1.5h-1.5zM1131.7 1731.7h1.5v1.5h-1.5zM1070.1 1952.8h1.5v1.5h-1.5zM1060.0 1953.7h1.5v1.5h-1.5zM1128.1 1773.6h1.5v1.5h-1.5zM1138.2 1870.9h1.5v1.5h-1.5zM1119.0 1804.9h1.5v1.5h-1.5zM1023.4 1946.9h1.5v1.5h-1.5zM1117.6 1785.2h1.5v1.5h-1.5zM1141.2 1829.5h1.5v1.5h-1.5zM1120.9 1806.4h1.5v1.5h-1.5zM1134.6 1785.3h1.5v1.5h-1.5zM1134.3 1786.9h1.5v1.5h-1.5zM1143.2 1838.3h1.5v1.5h-1.5zM1111.6 1752.6h1.5v1.5h-1.5zM1115.3 1769.2h1.5v1.5h-1.5zM1131.2 1950.2h1.5v1.5h-1.5zM1133.6 1773.6h1.5v1.5h-1.5zM1095.8 1762.1h1.5v1.5h-1.5zM1118.0 1955.0h1.5v1.5h-1.5zM1118.0 1767.2h1.5v1.5h-1.5zM1113.8 1791.8h1.5v1.5h-1.5zM1123.1 1804.3h1.5v1.5h-1.5zM1154.7 1847.9h1.5v1.5h-1.5zM1139.2 1828.7h1.5v1.5h-1.5zM1072.3 1952.1h1.5v1.5h-1.5zM1121.2 1744.0h1.5v1.5h-1.5zM1146.9 1822.3h1.5v1.5h-1.5zM1136.8 1798.3h1.5v1.5h-1.5zM1139.5 1832.5h1.5v1.5h-1.5zM1074.0 1855.3h1.5v1.5h-1.5zM1089.7 1952.4h1.5v1.5h-1.5zM1159.6 1770.0h1.5v1.5h-1.5zM1111.9 1777.1h1.5v1.5h-1.5zM1119.7 1755.8h1.5v1.5h-1.5zM1136.3 1947.0h1.5v1.5h-1.5zM1028.5 1903.1h1.5v1.5h-1.5zM1099.7 1756.6h1.5v1.5h-1.5zM1097.6 1807.5h1.5v1.5h-1.5zM1101.1 1819.2h1.5v1.5h-1.5zM1134.0 1784.1h1.5v1.5h-1.5zM1154.0 1952.1h1.5v1.5h-1.5zM1132.4 1854.4h1.5v1.5h-1.5zM1134.9 1955.1h1.5v1.5h-1.5zM1121.9 1801.8h1.5v1.5h-1.5zM1072.7 1953.1h1.5v1.5h-1.5zM1143.5 1905.8h1.5v1.5h-1.5zM1125.3 1761.2h1.5v1.5h-1.5zM1061.3 1955.2h1.5v1.5h-1.5zM1058.4 1953.2h1.5v1.5h-1.5zM1127.2 1813.5h1.5v1.5h-1.5zM1098.7 1952.7h1.5v1.5h-1.5zM1144.5 1765.9h1.5v1.5h-1.5zM1066.6 1847.8h1.5v1.5h-1.5zM1106.1 1950.2h1.5v1.5h-1.5zM1038.9 1883.1h1.5v1.5h-1.5zM1145.3 1825.5h1.5v1.5h-1.5zM1133.7 1778.7h1.5v1.5h-1.5zM1118.5 1802.2h1.5v1.5h-1.5zM1133.2 1876.8h1.5v1.5h-1.5zM1134.5 1889.1h1.5v1.5h-1.5zM1117.8 1764.0h1.5v1.5h-1.5zM1126.1 1745.3h1.5v1.5h-1.5zM1083.0 1953.8h1.5v1.5h-1.5zM1147.3 1786.6h1.5v1.5h-1.5zM1141.6 1840.1h1.5v1.5h-1.5zM1042.5 1884.4h1.5v1.5h-1.5zM1103.3 1822.9h1.5v1.5h-1.5zM1142.0 1809.8h1.5v1.5h-1.5zM1047.3 1953.3h1.5v1.5h-1.5zM1036.3 1954.7h1.5v1.5h-1.5zM1061.9 1957.0h1.5v1.5h-1.5zM1133.5 1953.5h1.5v1.5h-1.5zM1130.2 1810.2h1.5v1.5h-1.5zM1128.2 1870.5h1.5v1.5h-1.5zM1131.9 1854.3h1.5v1.5h-1.5zM1147.3 1776.8h1.5v1.5h-1.5zM1120.3 1770.1h1.5v1.5h-1.5zM1134.8 1953.6h1.5v1.5h-1.5zM1091.7 1955.8h1.5v1.5h-1.5zM1117.3 1754.4h1.5v1.5h-1.5zM1133.6 1747.9h1.5v1.5h-1.5zM1030.9 1901.1h1.5v1.5h-1.5zM1141.7 1898.7h1.5v1.5h-1.5zM1149.6 1875.8h1.5v1.5h-1.5zM1062.6 1952.7h1.5v1.5h-1.5zM1051.3 1857.7h1.5v1.5h-1.5zM1078.8 1955.1h1.5v1.5h-1.5zM1146.8 1818.2h1.5v1.5h-1.5zM1139.6 1773.1h1.5v1.5h-1.5zM1138.4 1754.2h1.5v1.5h-1.5zM1039.8 1949.0h1.5v1.5h-1.5zM1111.8 1796.7h1.5v1.5h-1.5zM1111.0 1805.8h1.5v1.5h-1.5zM1138.5 1814.4h1.5v1.5h-1.5zM1142.4 1842.1h1.5v1.5h-1.5zM1137.8 1837.0h1.5v1.5h-1.5zM1010.6 1943.1h1.5v1.5h-1.5zM993.3 1944.1h1.5v1.5h-1.5zM1040.8 1950.6h1.5v1.5h-1.5zM1162.6 1953.8h1.5v1.5h-1.5zM1141.5 1734.1h1.5v1.5h-1.5zM1152.1 1947.2h1.5v1.5h-1.5zM1061.5 1863.7h1.5v1.5h-1.5zM1092.8 1951.1h1.5v1.5h-1.5zM1058.3 1953.5h1.5v1.5h-1.5zM1069.3 1869.8h1.5v1.5h-1.5zM1046.8 1857.8h1.5v1.5h-1.5zM1120.0 1745.7h1.5v1.5h-1.5zM1125.5 1798.6h1.5v1.5h-1.5zM1092.7 1740.8h1.5v1.5h-1.5zM1133.5 1748.6h1.5v1.5h-1.5zM1045.2 1846.0h1.5v1.5h-1.5zM1129.5 1807.5h1.5v1.5h-1.5zM1110.8 1776.3h1.5v1.5h-1.5zM1130.5 1764.3h1.5v1.5h-1.5zM1122.9 1742.1h1.5v1.5h-1.5zM1133.2 1882.4h1.5v1.5h-1.5zM1146.9 1763.1h1.5v1.5h-1.5zM1121.8 1786.9h1.5v1.5h-1.5zM1133.4 1788.3h1.5v1.5h-1.5zM1131.1 1741.7h1.5v1.5h-1.5zM1126.7 1776.0h1.5v1.5h-1.5zM1036.4 1896.9h1.5v1.5h-1.5zM1122.5 1799.2h1.5v1.5h-1.5zM1055.0 1880.4h1.5v1.5h-1.5zM1060.2 1835.5h1.5v1.5h-1.5zM1126.0 1772.9h1.5v1.5h-1.5zM1108.0 1812.0h1.5v1.5h-1.5zM1033.4 1951.3h1.5v1.5h-1.5zM1004.5 1954.5h1.5v1.5h-1.5zM1129.0 1794.3h1.5v1.5h-1.5zM1140.7 1822.6h1.5v1.5h-1.5zM1068.1 1869.1h1.5v1.5h-1.5zM1125.8 1790.5h1.5v1.5h-1.5zM1014.8 1938.8h1.5v1.5h-1.5zM1127.1 1730.2h1.5v1.5h-1.5zM1069.4 1861.4h1.5v1.5h-1.5zM1123.2 1775.4h1.5v1.5h-1.5zM1030.9 1949.6h1.5v1.5h-1.5zM1054.2 1885.6h1.5v1.5h-1.5zM1132.4 1865.1h1.5v1.5h-1.5zM1122.6 1767.2h1.5v1.5h-1.5zM1129.7 1742.3h1.5v1.5h-1.5zM1087.6 1951.7h1.5v1.5h-1.5zM1124.9 1790.3h1.5v1.5h-1.5zM1149.3 1834.3h1.5v1.5h-1.5zM1026.7 1918.6h1.5v1.5h-1.5zM1072.9 1956.0h1.5v1.5h-1.5zM1155.3 1804.8h1.5v1.5h-1.5zM1040.6 1886.5h1.5v1.5h-1.5zM1127.9 1792.5h1.5v1.5h-1.5zM1147.6 1822.5h1.5v1.5h-1.5zM1054.0 1875.2h1.5v1.5h-1.5zM1145.7 1807.7h1.5v1.5h-1.5zM1154.1 1953.8h1.5v1.5h-1.5zM1004.2 1921.5h1.5v1.5h-1.5zM1120.9 1953.0h1.5v1.5h-1.5zM1048.4 1896.7h1.5v1.5h-1.5zM1131.9 1826.5h1.5v1.5h-1.5zM1094.5 1950.7h1.5v1.5h-1.5zM1025.1 1913.1h1.5v1.5h-1.5zM1027.4 1952.2h1.5v1.5h-1.5zM1110.6 1757.4h1.5v1.5h-1.5zM1006.8 1943.9h1.5v1.5h-1.5zM1115.4 1951.3h1.5v1.5h-1.5zM1020.6 1949.5h1.5v1.5h-1.5zM1111.5 1954.4h1.5v1.5h-1.5zM1153.3 1760.3h1.5v1.5h-1.5zM1146.0 1810.0h1.5v1.5h-1.5zM1069.4 1860.2h1.5v1.5h-1.5zM1100.1 1953.8h1.5v1.5h-1.5zM1130.9 1846.3h1.5v1.5h-1.5zM1139.8 1764.9h1.5v1.5h-1.5zM1136.5 1751.1h1.5v1.5h-1.5zM1136.2 1869.4h1.5v1.5h-1.5zM1137.6 1876.7h1.5v1.5h-1.5zM1138.4 1765.8h1.5v1.5h-1.5zM1095.1 1956.5h1.5v1.5h-1.5zM1053.0 1884.4h1.5v1.5h-1.5zM1127.0 1704.5h1.5v1.5h-1.5zM1128.4 1790.9h1.5v1.5h-1.5zM1146.2 1759.2h1.5v1.5h-1.5zM1135.6 1885.7h1.5v1.5h-1.5zM1141.8 1839.6h1.5v1.5h-1.5zM1003.0 1952.6h1.5v1.5h-1.5zM1147.5 1868.5h1.5v1.5h-1.5zM1124.2 1796.9h1.5v1.5h-1.5zM1101.2 1803.2h1.5v1.5h-1.5zM1129.9 1810.7h1.5v1.5h-1.5zM1106.0 1950.1h1.5v1.5h-1.5zM1121.1 1814.1h1.5v1.5h-1.5zM1049.5 1889.8h1.5v1.5h-1.5zM1147.5 1784.4h1.5v1.5h-1.5zM1146.9 1863.2h1.5v1.5h-1.5zM1138.2 1809.8h1.5v1.5h-1.5zM1131.7 1746.5h1.5v1.5h-1.5zM1134.5 1857.0h1.5v1.5h-1.5zM1054.0 1888.8h1.5v1.5h-1.5zM1008.9 1960.5h1.5v1.5h-1.5zM1132.9 1774.1h1.5v1.5h-1.5zM1069.4 1857.4h1.5v1.5h-1.5zM1131.8 1748.7h1.5v1.5h-1.5zM1124.9 1788.3h1.5v1.5h-1.5zM1156.4 1909.2h1.5v1.5h-1.5zM1131.8 1762.4h1.5v1.5h-1.5zM1089.1 1952.6h1.5v1.5h-1.5zM1061.8 1876.4h1.5v1.5h-1.5zM1142.1 1724.9h1.5v1.5h-1.5zM1089.8 1953.2h1.5v1.5h-1.5zM1182.5 1962.0h1.5v1.5h-1.5zM1125.6 1802.0h1.5v1.5h-1.5zM1146.5 1792.5h1.5v1.5h-1.5zM1138.9 1835.8h1.5v1.5h-1.5zM1138.7 1762.1h1.5v1.5h-1.5zM1131.7 1816.1h1.5v1.5h-1.5zM1140.3 1748.9h1.5v1.5h-1.5zM1119.8 1812.1h1.5v1.5h-1.5zM1086.7 1952.6h1.5v1.5h-1.5zM1085.4 1955.0h1.5v1.5h-1.5zM1124.8 1805.9h1.5v1.5h-1.5zM1141.0 1850.3h1.5v1.5h-1.5zM1139.4 1822.6h1.5v1.5h-1.5zM1131.4 1863.5h1.5v1.5h-1.5zM1140.8 1829.9h1.5v1.5h-1.5zM1135.0 1872.9h1.5v1.5h-1.5zM1127.3 1950.6h1.5v1.5h-1.5zM1051.2 1950.8h1.5v1.5h-1.5zM1132.7 1825.4h1.5v1.5h-1.5zM1139.7 1834.3h1.5v1.5h-1.5zM1135.4 1778.1h1.5v1.5h-1.5zM1128.8 1827.7h1.5v1.5h-1.5zM1048.6 1951.9h1.5v1.5h-1.5zM1029.4 1950.2h1.5v1.5h-1.5zM1051.6 1881.9h1.5v1.5h-1.5zM1151.5 1918.0h1.5v1.5h-1.5zM1146.5 1769.1h1.5v1.5h-1.5zM1096.6 1952.8h1.5v1.5h-1.5zM1141.0 1749.0h1.5v1.5h-1.5zM1154.1 1858.2h1.5v1.5h-1.5zM1138.9 1774.3h1.5v1.5h-1.5zM1127.5 1852.1h1.5v1.5h-1.5zM1089.8 1957.5h1.5v1.5h-1.5zM1142.6 1860.7h1.5v1.5h-1.5zM1015.3 1929.5h1.5v1.5h-1.5zM1031.0 1952.2h1.5v1.5h-1.5zM1027.5 1956.2h1.5v1.5h-1.5zM1150.4 1871.8h1.5v1.5h-1.5zM1132.6 1842.2h1.5v1.5h-1.5zM1046.8 1869.1h1.5v1.5h-1.5zM1117.0 1755.8h1.5v1.5h-1.5zM1061.0 1951.5h1.5v1.5h-1.5zM1151.3 1925.9h1.5v1.5h-1.5zM1147.2 1785.5h1.5v1.5h-1.5zM1128.5 1800.5h1.5v1.5h-1.5zM1132.0 1883.5h1.5v1.5h-1.5zM1142.5 1860.2h1.5v1.5h-1.5zM1028.9 1955.4h1.5v1.5h-1.5zM1151.1 1917.3h1.5v1.5h-1.5zM1110.1 1949.6h1.5v1.5h-1.5zM1138.0 1775.7h1.5v1.5h-1.5zM1118.1 1790.2h1.5v1.5h-1.5zM1153.2 1861.2h1.5v1.5h-1.5zM1135.8 1793.8h1.5v1.5h-1.5zM1003.1 1950.7h1.5v1.5h-1.5zM1099.7 1957.1h1.5v1.5h-1.5zM1041.0 1955.1h1.5v1.5h-1.5zM1146.7 1804.7h1.5v1.5h-1.5zM1134.7 1784.8h1.5v1.5h-1.5zM1133.7 1810.5h1.5v1.5h-1.5zM1023.5 1957.6h1.5v1.5h-1.5zM1125.8 1783.3h1.5v1.5h-1.5zM1151.7 1838.8h1.5v1.5h-1.5zM1150.2 1947.8h1.5v1.5h-1.5zM1046.4 1957.9h1.5v1.5h-1.5zM1140.6 1777.0h1.5v1.5h-1.5zM988.0 1958.8h1.5v1.5h-1.5zM1131.1 1825.4h1.5v1.5h-1.5zM1131.2 1759.5h1.5v1.5h-1.5zM1135.1 1870.4h1.5v1.5h-1.5zM1155.8 1889.3h1.5v1.5h-1.5zM1076.0 1958.0h1.5v1.5h-1.5zM1064.3 1951.0h1.5v1.5h-1.5zM1154.0 1886.2h1.5v1.5h-1.5zM1084.5 1951.5h1.5v1.5h-1.5zM1005.4 1954.6h1.5v1.5h-1.5zM1042.0 1890.7h1.5v1.5h-1.5zM1130.0 1752.2h1.5v1.5h-1.5zM1074.0 1952.1h1.5v1.5h-1.5zM1016.2 1897.6h1.5v1.5h-1.5zM1145.5 1886.2h1.5v1.5h-1.5zM1063.9 1952.6h1.5v1.5h-1.5zM1052.4 1955.4h1.5v1.5h-1.5zM1144.6 1797.4h1.5v1.5h-1.5zM1138.1 1780.9h1.5v1.5h-1.5zM1107.3 1954.0h1.5v1.5h-1.5zM1143.8 1810.3h1.5v1.5h-1.5zM1135.6 1805.4h1.5v1.5h-1.5zM1140.0 1931.7h1.5v1.5h-1.5zM1142.4 1801.2h1.5v1.5h-1.5zM1128.7 1758.6h1.5v1.5h-1.5zM1058.1 1956.1h1.5v1.5h-1.5zM1125.1 1953.7h1.5v1.5h-1.5zM1141.9 1875.4h1.5v1.5h-1.5zM1138.5 1782.4h1.5v1.5h-1.5zM1069.4 1953.6h1.5v1.5h-1.5zM1117.3 1811.6h1.5v1.5h-1.5zM1139.3 1862.7h1.5v1.5h-1.5zM1111.8 1774.8h1.5v1.5h-1.5zM1067.5 1865.3h1.5v1.5h-1.5zM1128.6 1767.7h1.5v1.5h-1.5zM1070.1 1954.7h1.5v1.5h-1.5zM1141.7 1903.7h1.5v1.5h-1.5zM1109.8 1950.1h1.5v1.5h-1.5zM1041.4 1950.9h1.5v1.5h-1.5zM1103.2 1952.9h1.5v1.5h-1.5zM1141.3 1836.8h1.5v1.5h-1.5zM1128.2 1846.3h1.5v1.5h-1.5zM1130.6 1798.6h1.5v1.5h-1.5zM1138.1 1784.5h1.5v1.5h-1.5zM1052.5 1881.2h1.5v1.5h-1.5zM1059.7 1953.3h1.5v1.5h-1.5zM1147.1 1812.2h1.5v1.5h-1.5zM1147.2 1950.1h1.5v1.5h-1.5zM1147.8 1754.3h1.5v1.5h-1.5zM1118.5 1785.8h1.5v1.5h-1.5zM1068.8 1865.8h1.5v1.5h-1.5zM1137.2 1820.1h1.5v1.5h-1.5zM1133.3 1812.4h1.5v1.5h-1.5zM1142.8 1906.1h1.5v1.5h-1.5zM1135.9 1812.0h1.5v1.5h-1.5zM1061.9 1955.0h1.5v1.5h-1.5zM1069.9 1952.1h1.5v1.5h-1.5zM1116.6 1793.4h1.5v1.5h-1.5zM1143.3 1796.2h1.5v1.5h-1.5zM1148.1 1790.8h1.5v1.5h-1.5zM1068.2 1954.0h1.5v1.5h-1.5zM1159.4 1841.5h1.5v1.5h-1.5zM1133.4 1816.8h1.5v1.5h-1.5zM1102.7 1744.2h1.5v1.5h-1.5zM1115.5 1959.2h1.5v1.5h-1.5zM1145.3 1763.0h1.5v1.5h-1.5zM1133.1 1724.5h1.5v1.5h-1.5zM1149.5 1907.3h1.5v1.5h-1.5zM1119.1 1950.7h1.5v1.5h-1.5zM1128.9 1840.6h1.5v1.5h-1.5zM1127.5 1795.9h1.5v1.5h-1.5zM1113.6 1775.7h1.5v1.5h-1.5zM1105.9 1812.7h1.5v1.5h-1.5zM1121.3 1804.5h1.5v1.5h-1.5zM1182.6 1951.8h1.5v1.5h-1.5zM1148.3 1800.7h1.5v1.5h-1.5zM1140.4 1813.1h1.5v1.5h-1.5zM1139.5 1756.8h1.5v1.5h-1.5zM1040.2 1953.6h1.5v1.5h-1.5zM1047.1 1956.9h1.5v1.5h-1.5zM1054.2 1953.7h1.5v1.5h-1.5zM1135.9 1770.1h1.5v1.5h-1.5zM1115.9 1759.9h1.5v1.5h-1.5zM1117.4 1811.9h1.5v1.5h-1.5zM1154.9 1947.3h1.5v1.5h-1.5zM1140.1 1852.3h1.5v1.5h-1.5zM1138.4 1880.2h1.5v1.5h-1.5zM1102.9 1957.2h1.5v1.5h-1.5zM1012.0 1941.1h1.5v1.5h-1.5zM1142.6 1843.9h1.5v1.5h-1.5zM1067.5 1951.2h1.5v1.5h-1.5zM1129.2 1817.4h1.5v1.5h-1.5zM1138.4 1790.4h1.5v1.5h-1.5zM1127.0 1784.9h1.5v1.5h-1.5zM1129.4 1751.0h1.5v1.5h-1.5zM1133.3 1734.7h1.5v1.5h-1.5zM1121.5 1757.4h1.5v1.5h-1.5zM1135.6 1766.5h1.5v1.5h-1.5zM996.2 1948.7h1.5v1.5h-1.5zM1152.7 1828.3h1.5v1.5h-1.5zM1120.5 1803.1h1.5v1.5h-1.5zM1152.0 1819.8h1.5v1.5h-1.5zM1014.7 1952.7h1.5v1.5h-1.5zM1137.7 1954.3h1.5v1.5h-1.5zM1114.0 1760.8h1.5v1.5h-1.5zM1032.6 1880.5h1.5v1.5h-1.5zM1138.2 1809.4h1.5v1.5h-1.5zM1136.2 1882.3h1.5v1.5h-1.5zM1143.5 1916.5h1.5v1.5h-1.5zM1074.2 1953.4h1.5v1.5h-1.5zM1068.4 1952.9h1.5v1.5h-1.5zM1045.2 1952.9h1.5v1.5h-1.5zM1044.0 1951.0h1.5v1.5h-1.5zM1154.8 1798.8h1.5v1.5h-1.5zM1142.3 1900.7h1.5v1.5h-1.5zM1152.1 1774.2h1.5v1.5h-1.5zM1127.1 1789.8h1.5v1.5h-1.5zM1111.7 1949.4h1.5v1.5h-1.5zM1134.0 1830.3h1.5v1.5h-1.5zM1131.9 1768.5h1.5v1.5h-1.5zM1140.4 1777.5h1.5v1.5h-1.5zM1157.8 1953.0h1.5v1.5h-1.5zM1116.1 1749.5h1.5v1.5h-1.5zM1073.6 1845.1h1.5v1.5h-1.5zM1155.9 1797.7h1.5v1.5h-1.5zM1133.4 1761.3h1.5v1.5h-1.5zM1137.6 1828.9h1.5v1.5h-1.5zM1058.4 1870.8h1.5v1.5h-1.5zM1142.9 1839.4h1.5v1.5h-1.5zM1128.1 1780.8h1.5v1.5h-1.5zM1138.3 1758.4h1.5v1.5h-1.5zM1122.7 1749.1h1.5v1.5h-1.5zM1040.8 1870.2h1.5v1.5h-1.5zM1132.4 1948.2h1.5v1.5h-1.5zM1143.3 1814.5h1.5v1.5h-1.5zM1118.5 1815.7h1.5v1.5h-1.5zM1015.1 1937.6h1.5v1.5h-1.5zM1121.0 1777.4h1.5v1.5h-1.5zM991.6 1956.0h1.5v1.5h-1.5zM1132.5 1800.9h1.5v1.5h-1.5z" fill="#1a1a1a"/>
</g>
<rect x="929.8" y="1694" width="313" height="311" fill="none" stroke="#111" stroke-width="1.8"/>
<path d="M925.8 1990.8H929.8M925.8 1979.1H929.8M925.8 1967.3H929.8M925.8 1955.5H929.8M925.8 1932.0H929.8M925.8 1920.3H929.8M925.8 1908.5H929.8M925.8 1896.7H929.8M925.8 1873.2H929.8M925.8 1861.4H929.8M925.8 1849.7H929.8M925.8 1837.9H929.8M925.8 1814.4H929.8M925.8 1802.6H929.8M925.8 1790.8H929.8M925.8 1779.1H929.8M925.8 1755.6H929.8M925.8 1743.8H929.8M925.8 1732.0H929.8M925.8 1720.3H929.8M925.8 1696.7H929.8" fill="none" stroke="#111" stroke-width="1.5"/>
<path d="M920.8 2002.6H929.8M920.8 1943.8H929.8M920.8 1885.0H929.8M920.8 1826.1H929.8M920.8 1767.3H929.8M920.8 1708.5H929.8" fill="none" stroke="#111" stroke-width="2.4"/>
<text x="915.1" y="2006.8" font-size="11.5" text-anchor="end">0</text>
<text x="915.1" y="1948" font-size="11.5" text-anchor="end" textLength="26" lengthAdjust="spacingAndGlyphs">50K</text>
<text x="915.1" y="1889.2" font-size="11.5" text-anchor="end" textLength="26" lengthAdjust="spacingAndGlyphs">100K</text>
<text x="915.1" y="1830.3" font-size="11.5" text-anchor="end" textLength="26" lengthAdjust="spacingAndGlyphs">150K</text>
<text x="915.1" y="1771.5" font-size="11.5" text-anchor="end" textLength="26" lengthAdjust="spacingAndGlyphs">200K</text>
<text x="915.1" y="1712.7" font-size="11.5" text-anchor="end" textLength="26" lengthAdjust="spacingAndGlyphs">250K</text>
<path d="M992.7 2005.0V2009.0M1006.9 2005.0V2009.0M985.8 2005.0V2009.0M1013.7 2005.0V2009.0M979.4 2005.0V2009.0M1020.0 2005.0V2009.0M973.6 2005.0V2009.0M1025.8 2005.0V2009.0M968.3 2005.0V2009.0M1031.0 2005.0V2009.0M963.5 2005.0V2009.0M1035.7 2005.0V2009.0M959.2 2005.0V2009.0M1040.0 2005.0V2009.0M955.3 2005.0V2009.0M1043.9 2005.0V2009.0M951.7 2005.0V2009.0M1047.4 2005.0V2009.0M1076.4 2005.0V2009.0M1091.4 2005.0V2009.0M1102.1 2005.0V2009.0M1110.3 2005.0V2009.0M1117.1 2005.0V2009.0M1122.8 2005.0V2009.0M1127.7 2005.0V2009.0M1132.1 2005.0V2009.0M1158.4 2005.0V2009.0M1171.5 2005.0V2009.0M1180.7 2005.0V2009.0M1187.9 2005.0V2009.0M1193.8 2005.0V2009.0M1198.8 2005.0V2009.0M1203.1 2005.0V2009.0M1206.9 2005.0V2009.0M1232.7 2005.0V2009.0" fill="none" stroke="#111" stroke-width="1.5"/>
<path d="M948.4 2005.0V2014.0M1050.7 2005.0V2014.0M1136.0 2005.0V2014.0M1210.3 2005.0V2014.0" fill="none" stroke="#111" stroke-width="2.4"/>
<path d="M999.1 2005.0V2012.2M1000.5 2005.0V2012.2M998.4 2005.0V2012.2M1001.2 2005.0V2012.2M997.6 2005.0V2012.2M1001.9 2005.0V2012.2M996.9 2005.0V2012.2M1002.6 2005.0V2012.2M996.2 2005.0V2012.2M1003.4 2005.0V2012.2M995.5 2005.0V2012.2M1004.1 2005.0V2012.2M994.8 2005.0V2012.2M1004.8 2005.0V2012.2M994.1 2005.0V2012.2M1005.5 2005.0V2012.2M993.4 2005.0V2012.2M1006.2 2005.0V2012.2M999.8 2005.0V2012.2" fill="none" stroke="#111" stroke-width="1.6"/>
<text x="957.4" y="2033" font-size="11.5" text-anchor="middle">-10<tspan dy="-6.3" font-size="9.2">3</tspan></text>
<text x="1005.3" y="2033" font-size="11.5" text-anchor="middle">0</text>
<text x="1059.2" y="2033" font-size="11.5" text-anchor="middle">10<tspan dy="-6.3" font-size="9.2">3</tspan></text>
<text x="1145.5" y="2033" font-size="11.5" text-anchor="middle">10<tspan dy="-6.3" font-size="9.2">4</tspan></text>
<text x="1221.3" y="2033" font-size="11.5" text-anchor="middle">10<tspan dy="-6.3" font-size="9.2">5</tspan></text>
<rect x="1090.4" y="1700.8" width="147.9" height="298.6" fill="none" stroke="#111" stroke-width="1.5"/>
<line x1="1238.3" y1="1700.8" x2="1238.3" y2="1999.4" stroke="#111" stroke-width="2.5"/>
<text x="1179.9" y="1950.6" font-size="17" textLength="51" lengthAdjust="spacingAndGlyphs">EdU<tspan dy="-5.7" font-size="9.9">pos</tspan></text>
<text x="1179.9" y="1974.5" font-size="17" textLength="50.5" lengthAdjust="spacingAndGlyphs">57.3%</text>
<text x="1004.2" y="1669.2" font-size="37" textLength="160" lengthAdjust="spacingAndGlyphs">Manf<tspan dy="-12.3" font-size="21.6">Cx3cr1Δ</tspan></text>
<clipPath id="c8"><rect x="205" y="2284.3" width="312.7" height="312.4"/></clipPath>
<g clip-path="url(#c8)">
<path d="M205.0 2330.0 206.1 2327.3 207.5 2325.8 209.0 2326.1 210.0 2327.6 212.2 2334.3 214.3 2346.3 217.4 2381.8 218.6 2432.3 217.6 2477.8 216.3 2499.8 214.4 2518.3 212.3 2530.8 210.0 2538.9 209.0 2540.8 207.5 2541.9 206.0 2541.2 205.0 2539.6 M205.0 2353.4 207.0 2348.5 208.0 2347.9 209.0 2348.5 211.0 2353.4 212.8 2362.8 215.4 2391.8 216.4 2432.3 215.4 2473.8 212.8 2504.3 211.1 2515.3 209.0 2522.5 208.0 2524.2 207.0 2524.9 206.0 2524.4 205.0 2522.8 M205.0 2366.3 206.5 2361.4 207.5 2360.0 208.5 2360.0 210.5 2364.3 212.0 2371.8 214.3 2397.3 215.2 2432.8 214.4 2468.8 212.1 2497.3 210.4 2507.8 208.6 2514.3 207.0 2516.4 206.0 2516.1 205.0 2514.4 M205.0 2376.3 206.5 2370.5 208.0 2368.7 209.0 2369.5 209.8 2371.3 211.3 2378.3 213.6 2402.3 214.4 2433.3 213.6 2465.3 211.4 2493.8 210.0 2502.5 208.4 2508.3 207.5 2510.0 206.5 2510.4 205.0 2508.2 M205.0 2385.0 206.5 2378.4 208.0 2376.3 209.5 2378.4 210.8 2383.8 212.9 2404.8 213.6 2434.3 212.8 2465.8 210.8 2490.8 209.5 2498.9 208.0 2504.0 206.5 2505.4 205.0 2503.1 M205.0 2393.0 206.0 2387.2 207.5 2383.3 208.5 2383.3 209.0 2384.1 210.3 2388.8 212.3 2407.8 213.0 2434.8 212.3 2464.3 210.4 2487.8 208.0 2499.6 206.5 2501.2 205.0 2498.7 M205.0 2400.6 206.0 2393.9 207.5 2389.5 208.5 2389.5 209.0 2390.4 210.0 2394.2 211.8 2411.3 212.4 2435.8 211.8 2463.3 210.0 2485.3 208.9 2492.3 207.5 2496.6 206.5 2497.4 206.0 2497.0 205.0 2494.6 M205.0 2408.5 207.0 2396.6 207.5 2395.7 208.5 2395.8 209.5 2398.6 211.2 2413.8 211.8 2437.3 211.2 2462.8 209.6 2483.3 207.5 2492.8 206.5 2493.7 206.0 2493.3 205.0 2490.6 M205.0 2416.5 207.0 2402.9 208.0 2401.6 209.0 2403.3 210.7 2416.3 211.3 2438.8 210.8 2462.3 209.3 2480.8 208.1 2487.3 207.0 2489.9 206.0 2489.6 205.0 2486.6 M205.0 2424.5 206.5 2411.4 207.5 2408.1 208.0 2407.9 208.5 2408.5 210.1 2419.3 210.8 2440.8 210.3 2461.8 209.0 2478.3 208.0 2483.9 207.0 2486.4 206.0 2486.0 205.0 2482.4 M205.0 2432.7 206.5 2418.3 207.5 2414.7 208.0 2414.5 208.4 2415.3 209.7 2424.8 210.2 2442.8 209.8 2462.3 208.5 2477.1 207.5 2481.7 206.5 2482.9 205.0 2477.8 M205.0 2441.7 206.5 2425.6 207.5 2422.0 208.0 2422.1 209.2 2429.8 209.7 2445.8 209.2 2463.3 208.0 2475.3 207.4 2477.8 206.5 2478.9 205.5 2476.0 205.0 2471.9 M205.0 2457.2 205.5 2443.2 207.0 2430.9 207.5 2429.9 208.0 2430.6 208.5 2433.5 209.1 2448.3 208.5 2465.1 207.0 2474.2 206.5 2474.4 206.0 2473.2 205.5 2470.1 205.0 2459.0 M207.0 2440.8 207.5 2440.5 208.0 2443.4 208.2 2454.3 207.5 2465.7 207.0 2467.7 206.5 2467.7 205.9 2463.8 205.7 2455.3 207.0 2440.8" fill="none" stroke="#2a2a2a" stroke-width="0.9"/>
</g>
<clipPath id="c9"><rect x="205" y="2284.3" width="312.7" height="312.4"/></clipPath>
<g clip-path="url(#c9)">
<path d="M357.6 2352.8 363.0 2352.4 368.0 2352.9 372.5 2354.3 376.5 2356.5 380.4 2359.8 383.6 2363.8 386.3 2368.8 388.4 2374.3 389.8 2380.3 390.7 2387.3 390.6 2402.8 387.8 2419.8 382.6 2437.3 375.7 2453.3 366.7 2468.8 356.0 2482.9 344.5 2494.5 333.5 2502.5 327.5 2505.6 322.0 2507.6 316.5 2508.8 311.0 2509.2 306.0 2508.7 301.0 2507.3 293.5 2503.5 286.5 2497.9 279.8 2490.3 274.4 2481.8 271.2 2473.8 269.8 2465.8 270.1 2457.8 271.9 2450.3 277.1 2440.3 292.0 2421.0 308.7 2392.8 314.3 2384.8 320.5 2377.2 329.5 2368.1 339.0 2360.7 348.5 2355.5 357.6 2352.8 M356.3 2366.3 360.5 2366.3 364.5 2367.1 368.5 2368.9 371.8 2371.3 374.5 2374.3 377.0 2378.3 379.0 2382.9 380.5 2388.3 381.7 2400.8 380.7 2414.8 377.3 2430.3 372.3 2444.3 365.8 2456.8 357.2 2469.3 347.0 2480.7 336.5 2489.6 327.0 2495.0 318.0 2497.6 309.0 2497.9 300.0 2495.4 294.0 2492.1 288.2 2487.3 283.5 2481.8 280.0 2475.8 277.8 2469.3 277.1 2462.8 277.8 2456.3 279.8 2450.3 284.8 2441.8 298.9 2424.3 313.9 2399.3 324.5 2385.5 332.5 2377.7 340.5 2371.9 348.5 2368.1 356.3 2366.3 M351.7 2377.3 355.5 2377.1 359.0 2377.6 362.5 2378.9 365.5 2380.8 368.4 2383.8 370.5 2387.1 373.6 2395.8 374.9 2406.8 374.1 2419.8 371.2 2432.8 366.7 2444.8 360.6 2455.8 353.0 2465.9 343.0 2476.0 333.0 2483.7 324.5 2488.0 316.0 2490.1 308.0 2490.0 300.0 2487.4 295.0 2484.5 291.0 2481.0 287.5 2476.6 285.0 2471.8 283.6 2466.8 283.2 2461.8 284.0 2456.3 285.8 2451.3 290.1 2444.3 303.5 2428.1 317.0 2405.3 325.5 2394.1 332.0 2387.6 338.5 2382.7 345.5 2379.0 351.7 2377.3 M348.5 2385.8 355.0 2385.7 358.0 2386.7 361.0 2388.4 363.5 2390.8 365.6 2393.8 368.8 2401.8 370.1 2411.8 369.5 2423.3 367.0 2434.3 362.9 2444.8 357.3 2454.3 350.5 2462.7 341.5 2471.1 331.5 2478.3 323.5 2482.3 316.0 2484.2 308.5 2484.1 301.5 2481.9 297.5 2479.5 294.4 2476.8 291.6 2473.3 289.6 2469.3 288.6 2465.3 288.4 2460.8 289.2 2456.3 290.8 2452.3 294.6 2446.3 307.0 2431.3 319.1 2410.3 326.5 2400.3 332.0 2394.8 337.5 2390.5 343.0 2387.5 348.5 2385.8 M348.8 2392.3 354.5 2393.1 359.5 2396.3 363.3 2401.8 365.7 2409.3 366.5 2417.8 365.6 2427.3 363.2 2436.8 359.2 2445.8 353.9 2453.8 347.0 2461.4 338.5 2468.3 329.0 2474.2 321.5 2477.5 315.0 2478.9 308.5 2478.7 302.5 2476.5 299.5 2474.5 297.0 2471.9 295.0 2468.8 293.9 2465.8 293.6 2459.3 296.0 2452.5 298.8 2448.3 309.5 2435.0 320.7 2414.8 327.9 2404.8 333.0 2399.7 338.5 2395.8 343.5 2393.4 348.8 2392.3 M345.9 2397.8 351.5 2398.0 356.5 2400.7 360.2 2405.3 362.6 2411.8 363.5 2419.3 362.9 2427.8 360.8 2436.3 357.2 2444.3 352.6 2451.3 347.0 2457.4 340.5 2462.6 332.0 2467.7 323.5 2471.7 316.5 2473.6 310.5 2473.6 305.2 2471.8 301.1 2468.3 299.0 2463.8 299.0 2458.8 301.0 2453.5 311.7 2438.8 321.6 2419.3 327.5 2410.3 332.0 2405.4 336.5 2401.8 341.5 2399.0 345.9 2397.8 M345.1 2402.3 350.0 2402.5 354.5 2404.9 358.0 2409.2 360.1 2414.8 360.9 2421.3 360.4 2428.8 358.4 2436.3 355.3 2443.3 351.5 2449.0 347.0 2453.9 342.0 2457.9 336.0 2461.5 327.5 2465.0 319.5 2467.3 314.0 2467.6 309.5 2466.3 307.5 2464.8 306.1 2462.3 305.7 2459.8 306.2 2456.8 314.5 2441.7 324.1 2420.3 328.8 2413.3 334.0 2407.8 339.5 2404.1 345.1 2402.3 M344.5 2406.3 349.0 2406.6 352.5 2408.4 355.5 2411.8 357.5 2416.3 358.4 2421.8 358.3 2427.8 357.0 2433.8 354.7 2439.8 351.8 2444.8 348.2 2449.3 344.0 2453.1 339.5 2456.1 334.0 2458.4 328.5 2459.7 323.0 2460.0 319.0 2459.1 317.1 2457.8 316.3 2456.3 316.1 2451.8 320.5 2435.8 324.7 2424.8 328.7 2417.8 333.5 2412.1 339.0 2408.1 344.5 2406.3 M342.3 2411.3 345.5 2411.0 348.8 2411.8 351.5 2413.7 353.5 2416.5 354.9 2420.3 355.5 2424.8 355.2 2429.3 354.1 2434.3 352.2 2438.8 349.9 2442.8 347.0 2446.3 343.5 2449.4 340.0 2451.6 336.0 2453.0 332.5 2453.5 329.0 2453.1 325.5 2450.8 323.6 2446.3 323.7 2439.3 325.5 2431.3 328.5 2424.1 332.5 2418.1 337.1 2413.8 342.3 2411.3 M343.0 2416.8 345.5 2417.0 347.4 2417.8 350.4 2421.3 351.6 2426.8 350.7 2433.3 347.9 2439.3 343.5 2444.2 338.5 2446.8 334.0 2446.8 331.0 2444.9 329.2 2441.3 328.9 2436.3 330.0 2430.8 332.4 2425.3 335.5 2421.0 339.0 2418.2 343.0 2416.8" fill="none" stroke="#4a4a4a" stroke-width="0.9"/>
<path d="M268.2 2438.8h1.5v1.5h-1.5zM346.4 2353.3h1.5v1.5h-1.5zM263.7 2405.4h1.5v1.5h-1.5zM270.0 2310.4h1.5v1.5h-1.5zM294.0 2411.1h1.5v1.5h-1.5zM230.8 2534.0h1.5v1.5h-1.5zM287.0 2409.4h1.5v1.5h-1.5zM302.6 2374.7h1.5v1.5h-1.5zM256.6 2483.2h1.5v1.5h-1.5zM391.9 2420.5h1.5v1.5h-1.5zM275.6 2432.2h1.5v1.5h-1.5zM266.0 2487.2h1.5v1.5h-1.5zM288.0 2397.7h1.5v1.5h-1.5zM266.6 2433.3h1.5v1.5h-1.5zM262.8 2485.7h1.5v1.5h-1.5zM318.4 2350.0h1.5v1.5h-1.5zM290.0 2415.0h1.5v1.5h-1.5zM325.3 2351.6h1.5v1.5h-1.5zM399.4 2364.7h1.5v1.5h-1.5zM276.0 2387.0h1.5v1.5h-1.5zM340.9 2335.6h1.5v1.5h-1.5zM298.2 2393.1h1.5v1.5h-1.5zM304.3 2383.0h1.5v1.5h-1.5zM266.4 2459.7h1.5v1.5h-1.5zM258.5 2521.6h1.5v1.5h-1.5zM308.4 2304.0h1.5v1.5h-1.5zM271.5 2373.1h1.5v1.5h-1.5zM290.9 2374.2h1.5v1.5h-1.5zM242.2 2413.2h1.5v1.5h-1.5zM278.0 2524.0h1.5v1.5h-1.5zM268.4 2521.3h1.5v1.5h-1.5zM293.6 2397.8h1.5v1.5h-1.5zM284.1 2407.8h1.5v1.5h-1.5zM280.2 2428.0h1.5v1.5h-1.5zM338.2 2323.6h1.5v1.5h-1.5zM239.5 2428.8h1.5v1.5h-1.5zM258.5 2371.6h1.5v1.5h-1.5zM317.1 2375.3h1.5v1.5h-1.5zM293.7 2389.7h1.5v1.5h-1.5zM265.7 2455.0h1.5v1.5h-1.5zM269.7 2494.3h1.5v1.5h-1.5zM383.1 2466.1h1.5v1.5h-1.5zM253.9 2503.4h1.5v1.5h-1.5zM260.7 2397.5h1.5v1.5h-1.5zM292.9 2374.6h1.5v1.5h-1.5zM366.8 2338.6h1.5v1.5h-1.5zM244.1 2442.7h1.5v1.5h-1.5zM365.3 2347.6h1.5v1.5h-1.5zM264.2 2532.8h1.5v1.5h-1.5zM265.9 2418.7h1.5v1.5h-1.5zM400.8 2324.0h1.5v1.5h-1.5zM296.9 2386.5h1.5v1.5h-1.5zM379.7 2457.2h1.5v1.5h-1.5zM355.1 2487.3h1.5v1.5h-1.5zM314.0 2361.5h1.5v1.5h-1.5zM304.1 2374.5h1.5v1.5h-1.5zM256.2 2422.1h1.5v1.5h-1.5zM388.9 2505.8h1.5v1.5h-1.5zM259.5 2404.7h1.5v1.5h-1.5zM373.3 2472.7h1.5v1.5h-1.5zM396.0 2412.4h1.5v1.5h-1.5zM350.3 2509.1h1.5v1.5h-1.5zM377.4 2452.7h1.5v1.5h-1.5zM395.5 2344.5h1.5v1.5h-1.5zM268.6 2469.8h1.5v1.5h-1.5zM258.0 2475.4h1.5v1.5h-1.5zM389.7 2417.4h1.5v1.5h-1.5zM304.6 2526.1h1.5v1.5h-1.5zM266.1 2488.3h1.5v1.5h-1.5zM274.7 2440.7h1.5v1.5h-1.5zM282.0 2498.1h1.5v1.5h-1.5zM279.5 2390.3h1.5v1.5h-1.5zM272.8 2549.5h1.5v1.5h-1.5zM401.1 2412.8h1.5v1.5h-1.5zM271.1 2480.1h1.5v1.5h-1.5zM270.3 2406.6h1.5v1.5h-1.5zM289.0 2340.1h1.5v1.5h-1.5zM306.0 2379.5h1.5v1.5h-1.5zM378.7 2470.1h1.5v1.5h-1.5zM271.6 2337.6h1.5v1.5h-1.5zM338.6 2530.5h1.5v1.5h-1.5zM393.4 2329.5h1.5v1.5h-1.5zM301.2 2358.5h1.5v1.5h-1.5zM330.4 2504.2h1.5v1.5h-1.5zM305.1 2348.4h1.5v1.5h-1.5zM378.1 2317.1h1.5v1.5h-1.5zM258.9 2452.2h1.5v1.5h-1.5zM295.2 2348.9h1.5v1.5h-1.5zM275.4 2491.7h1.5v1.5h-1.5zM321.5 2300.9h1.5v1.5h-1.5zM340.9 2351.2h1.5v1.5h-1.5zM308.1 2388.7h1.5v1.5h-1.5zM289.8 2513.1h1.5v1.5h-1.5zM252.9 2414.1h1.5v1.5h-1.5zM248.1 2545.2h1.5v1.5h-1.5zM335.0 2503.7h1.5v1.5h-1.5zM384.4 2435.5h1.5v1.5h-1.5zM275.3 2525.1h1.5v1.5h-1.5zM233.2 2423.5h1.5v1.5h-1.5zM287.4 2412.2h1.5v1.5h-1.5zM232.3 2510.3h1.5v1.5h-1.5zM294.9 2398.1h1.5v1.5h-1.5zM276.5 2514.1h1.5v1.5h-1.5zM258.2 2370.5h1.5v1.5h-1.5zM294.2 2384.5h1.5v1.5h-1.5zM244.1 2393.6h1.5v1.5h-1.5zM269.1 2466.1h1.5v1.5h-1.5zM287.0 2387.9h1.5v1.5h-1.5zM327.7 2361.8h1.5v1.5h-1.5zM258.3 2434.8h1.5v1.5h-1.5zM267.7 2483.0h1.5v1.5h-1.5zM247.7 2429.1h1.5v1.5h-1.5zM381.9 2443.9h1.5v1.5h-1.5zM284.8 2420.4h1.5v1.5h-1.5zM287.8 2423.2h1.5v1.5h-1.5zM281.9 2522.7h1.5v1.5h-1.5zM361.9 2482.3h1.5v1.5h-1.5zM269.8 2396.4h1.5v1.5h-1.5zM293.9 2411.2h1.5v1.5h-1.5zM330.3 2357.7h1.5v1.5h-1.5zM288.9 2415.7h1.5v1.5h-1.5zM274.7 2379.9h1.5v1.5h-1.5zM257.2 2508.9h1.5v1.5h-1.5zM342.5 2310.9h1.5v1.5h-1.5zM375.1 2465.5h1.5v1.5h-1.5zM387.6 2441.7h1.5v1.5h-1.5zM286.6 2383.3h1.5v1.5h-1.5zM375.8 2350.6h1.5v1.5h-1.5zM284.6 2557.7h1.5v1.5h-1.5zM325.3 2356.2h1.5v1.5h-1.5zM319.0 2343.4h1.5v1.5h-1.5zM293.9 2399.0h1.5v1.5h-1.5zM335.1 2351.8h1.5v1.5h-1.5zM308.0 2521.3h1.5v1.5h-1.5zM311.3 2368.0h1.5v1.5h-1.5zM224.0 2420.2h1.5v1.5h-1.5zM387.1 2464.7h1.5v1.5h-1.5zM343.8 2355.8h1.5v1.5h-1.5zM320.2 2363.9h1.5v1.5h-1.5zM374.7 2326.8h1.5v1.5h-1.5zM254.8 2496.9h1.5v1.5h-1.5zM241.2 2475.7h1.5v1.5h-1.5zM397.0 2476.6h1.5v1.5h-1.5zM311.0 2381.1h1.5v1.5h-1.5zM392.7 2349.5h1.5v1.5h-1.5zM326.8 2367.2h1.5v1.5h-1.5zM292.8 2363.1h1.5v1.5h-1.5zM301.0 2354.2h1.5v1.5h-1.5zM255.5 2485.8h1.5v1.5h-1.5zM271.9 2515.6h1.5v1.5h-1.5zM252.7 2370.0h1.5v1.5h-1.5zM329.1 2361.0h1.5v1.5h-1.5zM235.3 2511.7h1.5v1.5h-1.5zM265.3 2486.2h1.5v1.5h-1.5zM380.1 2352.5h1.5v1.5h-1.5zM244.8 2446.7h1.5v1.5h-1.5zM288.6 2412.0h1.5v1.5h-1.5zM384.5 2339.1h1.5v1.5h-1.5zM400.9 2435.9h1.5v1.5h-1.5zM294.1 2413.1h1.5v1.5h-1.5zM284.7 2390.7h1.5v1.5h-1.5zM284.7 2370.9h1.5v1.5h-1.5zM276.0 2424.2h1.5v1.5h-1.5zM290.0 2394.9h1.5v1.5h-1.5zM276.8 2383.6h1.5v1.5h-1.5zM339.8 2498.2h1.5v1.5h-1.5zM388.2 2453.3h1.5v1.5h-1.5zM285.1 2413.9h1.5v1.5h-1.5zM303.4 2397.6h1.5v1.5h-1.5zM278.4 2530.8h1.5v1.5h-1.5zM312.7 2333.3h1.5v1.5h-1.5zM241.6 2471.2h1.5v1.5h-1.5zM263.4 2402.5h1.5v1.5h-1.5zM338.6 2315.5h1.5v1.5h-1.5zM255.3 2454.7h1.5v1.5h-1.5zM264.8 2468.5h1.5v1.5h-1.5zM268.4 2500.1h1.5v1.5h-1.5zM332.5 2328.6h1.5v1.5h-1.5zM301.1 2510.8h1.5v1.5h-1.5zM355.0 2537.5h1.5v1.5h-1.5zM223.8 2446.7h1.5v1.5h-1.5zM263.5 2436.5h1.5v1.5h-1.5zM265.1 2397.6h1.5v1.5h-1.5zM231.9 2425.8h1.5v1.5h-1.5zM260.2 2450.3h1.5v1.5h-1.5zM257.0 2505.6h1.5v1.5h-1.5zM263.1 2435.6h1.5v1.5h-1.5zM290.1 2548.7h1.5v1.5h-1.5zM323.0 2363.1h1.5v1.5h-1.5zM254.3 2492.9h1.5v1.5h-1.5zM315.5 2340.7h1.5v1.5h-1.5zM307.5 2332.1h1.5v1.5h-1.5zM220.7 2473.6h1.5v1.5h-1.5zM326.7 2308.6h1.5v1.5h-1.5zM292.2 2322.5h1.5v1.5h-1.5zM395.4 2340.2h1.5v1.5h-1.5zM355.8 2315.5h1.5v1.5h-1.5zM283.7 2355.0h1.5v1.5h-1.5zM346.3 2511.0h1.5v1.5h-1.5zM262.7 2450.9h1.5v1.5h-1.5zM303.4 2507.8h1.5v1.5h-1.5zM307.2 2376.9h1.5v1.5h-1.5zM285.7 2410.2h1.5v1.5h-1.5zM263.2 2401.8h1.5v1.5h-1.5zM376.2 2493.8h1.5v1.5h-1.5zM269.3 2408.7h1.5v1.5h-1.5zM284.4 2428.9h1.5v1.5h-1.5zM248.3 2492.3h1.5v1.5h-1.5zM384.4 2328.5h1.5v1.5h-1.5zM360.8 2480.8h1.5v1.5h-1.5zM283.9 2429.4h1.5v1.5h-1.5zM279.5 2417.6h1.5v1.5h-1.5zM265.0 2400.2h1.5v1.5h-1.5zM371.9 2347.9h1.5v1.5h-1.5zM299.8 2403.0h1.5v1.5h-1.5zM259.8 2459.7h1.5v1.5h-1.5zM221.0 2460.8h1.5v1.5h-1.5zM271.3 2557.8h1.5v1.5h-1.5zM345.4 2354.7h1.5v1.5h-1.5zM379.2 2348.4h1.5v1.5h-1.5zM303.4 2524.6h1.5v1.5h-1.5zM354.3 2344.7h1.5v1.5h-1.5zM279.3 2502.2h1.5v1.5h-1.5zM269.3 2489.2h1.5v1.5h-1.5zM304.5 2346.9h1.5v1.5h-1.5zM275.6 2387.0h1.5v1.5h-1.5zM312.7 2331.7h1.5v1.5h-1.5zM316.9 2347.3h1.5v1.5h-1.5zM290.7 2410.2h1.5v1.5h-1.5zM262.4 2408.4h1.5v1.5h-1.5zM279.3 2349.8h1.5v1.5h-1.5zM275.4 2431.0h1.5v1.5h-1.5zM287.1 2406.2h1.5v1.5h-1.5zM252.5 2423.1h1.5v1.5h-1.5zM276.1 2501.1h1.5v1.5h-1.5zM313.2 2515.6h1.5v1.5h-1.5zM305.5 2358.7h1.5v1.5h-1.5zM273.4 2427.6h1.5v1.5h-1.5zM302.8 2398.1h1.5v1.5h-1.5zM276.0 2416.7h1.5v1.5h-1.5zM329.7 2313.6h1.5v1.5h-1.5zM270.1 2387.4h1.5v1.5h-1.5zM261.1 2486.4h1.5v1.5h-1.5zM323.8 2364.5h1.5v1.5h-1.5zM292.5 2403.8h1.5v1.5h-1.5zM337.1 2360.0h1.5v1.5h-1.5zM301.4 2532.7h1.5v1.5h-1.5zM339.1 2545.1h1.5v1.5h-1.5zM257.3 2415.4h1.5v1.5h-1.5zM269.1 2353.0h1.5v1.5h-1.5zM301.9 2369.9h1.5v1.5h-1.5zM253.7 2417.9h1.5v1.5h-1.5zM275.9 2341.3h1.5v1.5h-1.5zM355.1 2324.4h1.5v1.5h-1.5zM391.8 2373.4h1.5v1.5h-1.5zM253.0 2538.8h1.5v1.5h-1.5zM291.7 2405.0h1.5v1.5h-1.5zM324.5 2364.7h1.5v1.5h-1.5zM271.2 2487.3h1.5v1.5h-1.5zM281.3 2428.9h1.5v1.5h-1.5zM269.0 2456.0h1.5v1.5h-1.5zM335.3 2309.9h1.5v1.5h-1.5zM226.0 2481.3h1.5v1.5h-1.5zM391.3 2505.5h1.5v1.5h-1.5zM304.8 2359.8h1.5v1.5h-1.5zM329.2 2520.3h1.5v1.5h-1.5zM362.6 2481.3h1.5v1.5h-1.5zM367.0 2317.2h1.5v1.5h-1.5zM354.4 2339.1h1.5v1.5h-1.5zM267.2 2526.2h1.5v1.5h-1.5zM304.0 2398.4h1.5v1.5h-1.5zM263.3 2423.4h1.5v1.5h-1.5zM295.6 2505.4h1.5v1.5h-1.5zM239.0 2421.0h1.5v1.5h-1.5zM238.3 2488.1h1.5v1.5h-1.5zM301.2 2397.8h1.5v1.5h-1.5zM346.6 2516.1h1.5v1.5h-1.5zM249.0 2548.8h1.5v1.5h-1.5zM229.6 2519.6h1.5v1.5h-1.5zM290.8 2416.8h1.5v1.5h-1.5zM286.7 2505.2h1.5v1.5h-1.5zM265.5 2397.4h1.5v1.5h-1.5zM359.2 2336.2h1.5v1.5h-1.5zM245.5 2510.1h1.5v1.5h-1.5zM393.3 2408.1h1.5v1.5h-1.5zM251.0 2417.2h1.5v1.5h-1.5zM241.1 2475.5h1.5v1.5h-1.5zM282.9 2421.9h1.5v1.5h-1.5zM318.8 2347.6h1.5v1.5h-1.5zM250.3 2436.6h1.5v1.5h-1.5zM393.8 2430.2h1.5v1.5h-1.5zM386.5 2353.8h1.5v1.5h-1.5zM284.3 2380.6h1.5v1.5h-1.5zM351.3 2307.7h1.5v1.5h-1.5zM253.3 2481.8h1.5v1.5h-1.5zM343.3 2344.1h1.5v1.5h-1.5zM279.3 2507.9h1.5v1.5h-1.5zM285.5 2385.2h1.5v1.5h-1.5zM281.8 2415.7h1.5v1.5h-1.5zM258.2 2398.4h1.5v1.5h-1.5zM271.7 2430.8h1.5v1.5h-1.5zM313.4 2368.6h1.5v1.5h-1.5zM247.3 2459.5h1.5v1.5h-1.5zM272.2 2480.8h1.5v1.5h-1.5zM265.9 2450.9h1.5v1.5h-1.5zM285.5 2343.8h1.5v1.5h-1.5zM309.1 2368.0h1.5v1.5h-1.5zM237.5 2446.6h1.5v1.5h-1.5zM263.2 2423.9h1.5v1.5h-1.5zM304.0 2370.8h1.5v1.5h-1.5zM275.3 2411.6h1.5v1.5h-1.5zM260.8 2462.8h1.5v1.5h-1.5zM301.4 2401.3h1.5v1.5h-1.5zM379.6 2464.6h1.5v1.5h-1.5zM253.0 2466.4h1.5v1.5h-1.5zM331.6 2519.8h1.5v1.5h-1.5zM265.5 2405.8h1.5v1.5h-1.5zM279.6 2430.5h1.5v1.5h-1.5zM221.7 2505.3h1.5v1.5h-1.5zM319.5 2355.2h1.5v1.5h-1.5zM398.2 2340.8h1.5v1.5h-1.5zM295.4 2391.5h1.5v1.5h-1.5zM227.3 2525.6h1.5v1.5h-1.5zM269.5 2437.6h1.5v1.5h-1.5zM225.9 2378.1h1.5v1.5h-1.5zM252.6 2469.0h1.5v1.5h-1.5zM371.9 2481.9h1.5v1.5h-1.5zM224.4 2397.1h1.5v1.5h-1.5zM353.5 2336.5h1.5v1.5h-1.5zM315.6 2355.6h1.5v1.5h-1.5zM291.1 2416.6h1.5v1.5h-1.5zM245.5 2523.6h1.5v1.5h-1.5zM242.9 2395.8h1.5v1.5h-1.5zM346.1 2504.4h1.5v1.5h-1.5zM279.0 2520.5h1.5v1.5h-1.5zM344.9 2515.1h1.5v1.5h-1.5zM381.9 2453.8h1.5v1.5h-1.5zM343.3 2526.3h1.5v1.5h-1.5zM281.7 2519.3h1.5v1.5h-1.5zM253.2 2452.8h1.5v1.5h-1.5zM306.1 2325.2h1.5v1.5h-1.5zM325.9 2354.1h1.5v1.5h-1.5zM320.8 2519.4h1.5v1.5h-1.5zM237.2 2456.3h1.5v1.5h-1.5zM298.2 2405.0h1.5v1.5h-1.5zM307.2 2361.5h1.5v1.5h-1.5zM308.6 2367.8h1.5v1.5h-1.5zM244.9 2491.4h1.5v1.5h-1.5zM397.5 2426.5h1.5v1.5h-1.5zM398.8 2434.7h1.5v1.5h-1.5zM312.7 2527.4h1.5v1.5h-1.5zM401.9 2379.5h1.5v1.5h-1.5zM272.0 2543.1h1.5v1.5h-1.5zM369.3 2493.8h1.5v1.5h-1.5zM262.8 2458.0h1.5v1.5h-1.5zM338.6 2356.3h1.5v1.5h-1.5zM382.4 2482.1h1.5v1.5h-1.5zM305.5 2512.2h1.5v1.5h-1.5zM385.1 2486.0h1.5v1.5h-1.5zM249.6 2347.0h1.5v1.5h-1.5zM282.1 2513.7h1.5v1.5h-1.5zM283.9 2506.6h1.5v1.5h-1.5zM251.3 2448.9h1.5v1.5h-1.5zM333.3 2510.0h1.5v1.5h-1.5zM271.7 2374.0h1.5v1.5h-1.5zM269.7 2368.4h1.5v1.5h-1.5zM250.1 2459.9h1.5v1.5h-1.5zM321.1 2364.4h1.5v1.5h-1.5zM349.9 2496.6h1.5v1.5h-1.5zM291.7 2405.4h1.5v1.5h-1.5zM309.5 2349.6h1.5v1.5h-1.5zM301.1 2379.3h1.5v1.5h-1.5zM324.4 2539.9h1.5v1.5h-1.5zM268.6 2469.3h1.5v1.5h-1.5zM259.8 2451.7h1.5v1.5h-1.5zM287.3 2398.1h1.5v1.5h-1.5zM272.1 2485.0h1.5v1.5h-1.5zM273.9 2434.1h1.5v1.5h-1.5zM289.6 2383.3h1.5v1.5h-1.5zM343.5 2517.0h1.5v1.5h-1.5zM269.1 2528.5h1.5v1.5h-1.5zM288.2 2407.7h1.5v1.5h-1.5zM286.3 2538.4h1.5v1.5h-1.5zM365.7 2349.3h1.5v1.5h-1.5zM367.1 2498.5h1.5v1.5h-1.5zM283.0 2554.5h1.5v1.5h-1.5zM270.0 2482.0h1.5v1.5h-1.5zM310.6 2354.1h1.5v1.5h-1.5zM274.0 2426.5h1.5v1.5h-1.5zM261.6 2573.6h1.5v1.5h-1.5zM400.6 2433.9h1.5v1.5h-1.5zM298.9 2384.5h1.5v1.5h-1.5zM278.7 2505.9h1.5v1.5h-1.5zM285.4 2391.1h1.5v1.5h-1.5zM271.7 2443.6h1.5v1.5h-1.5zM315.7 2358.2h1.5v1.5h-1.5zM340.0 2357.5h1.5v1.5h-1.5zM329.5 2534.2h1.5v1.5h-1.5zM307.7 2361.0h1.5v1.5h-1.5zM256.5 2472.1h1.5v1.5h-1.5zM264.8 2473.6h1.5v1.5h-1.5zM330.5 2506.3h1.5v1.5h-1.5zM281.3 2431.9h1.5v1.5h-1.5zM391.2 2505.9h1.5v1.5h-1.5zM279.3 2398.2h1.5v1.5h-1.5zM356.9 2327.6h1.5v1.5h-1.5zM350.8 2340.4h1.5v1.5h-1.5zM329.7 2544.3h1.5v1.5h-1.5zM260.7 2381.8h1.5v1.5h-1.5zM256.0 2394.2h1.5v1.5h-1.5zM257.6 2425.3h1.5v1.5h-1.5zM287.2 2418.5h1.5v1.5h-1.5zM283.2 2362.9h1.5v1.5h-1.5zM310.7 2518.1h1.5v1.5h-1.5zM281.7 2427.7h1.5v1.5h-1.5zM362.1 2342.2h1.5v1.5h-1.5zM301.7 2378.7h1.5v1.5h-1.5zM397.2 2456.9h1.5v1.5h-1.5zM236.3 2468.0h1.5v1.5h-1.5zM230.7 2436.2h1.5v1.5h-1.5zM309.4 2356.5h1.5v1.5h-1.5zM293.6 2513.9h1.5v1.5h-1.5zM250.4 2478.1h1.5v1.5h-1.5zM245.3 2395.4h1.5v1.5h-1.5zM392.9 2420.7h1.5v1.5h-1.5zM295.0 2356.9h1.5v1.5h-1.5zM397.6 2381.4h1.5v1.5h-1.5zM300.4 2399.5h1.5v1.5h-1.5zM224.1 2442.9h1.5v1.5h-1.5zM284.3 2408.6h1.5v1.5h-1.5zM281.4 2414.2h1.5v1.5h-1.5zM266.1 2444.4h1.5v1.5h-1.5zM270.7 2549.9h1.5v1.5h-1.5zM280.2 2413.4h1.5v1.5h-1.5zM245.5 2446.9h1.5v1.5h-1.5zM395.5 2432.5h1.5v1.5h-1.5zM284.3 2505.9h1.5v1.5h-1.5zM357.3 2351.5h1.5v1.5h-1.5zM307.3 2381.7h1.5v1.5h-1.5zM382.3 2353.6h1.5v1.5h-1.5zM322.3 2312.9h1.5v1.5h-1.5zM242.2 2469.9h1.5v1.5h-1.5zM304.9 2360.0h1.5v1.5h-1.5zM248.9 2586.6h1.5v1.5h-1.5zM240.3 2363.7h1.5v1.5h-1.5zM286.1 2416.4h1.5v1.5h-1.5zM274.9 2428.0h1.5v1.5h-1.5zM304.7 2395.3h1.5v1.5h-1.5zM384.8 2459.5h1.5v1.5h-1.5zM265.9 2451.6h1.5v1.5h-1.5zM361.4 2479.9h1.5v1.5h-1.5zM253.3 2420.7h1.5v1.5h-1.5zM220.7 2413.6h1.5v1.5h-1.5zM267.7 2412.8h1.5v1.5h-1.5zM278.4 2400.6h1.5v1.5h-1.5zM285.1 2425.1h1.5v1.5h-1.5zM281.7 2429.5h1.5v1.5h-1.5zM259.0 2497.3h1.5v1.5h-1.5zM395.2 2392.1h1.5v1.5h-1.5zM242.8 2497.7h1.5v1.5h-1.5zM350.3 2580.8h1.5v1.5h-1.5zM250.9 2488.2h1.5v1.5h-1.5zM322.6 2529.4h1.5v1.5h-1.5zM397.0 2370.9h1.5v1.5h-1.5zM317.7 2514.9h1.5v1.5h-1.5zM375.6 2497.7h1.5v1.5h-1.5zM235.3 2501.4h1.5v1.5h-1.5zM241.1 2407.0h1.5v1.5h-1.5zM292.6 2344.9h1.5v1.5h-1.5zM380.8 2476.8h1.5v1.5h-1.5zM375.8 2344.6h1.5v1.5h-1.5zM300.8 2391.5h1.5v1.5h-1.5zM349.8 2325.8h1.5v1.5h-1.5zM308.4 2531.0h1.5v1.5h-1.5zM379.0 2445.7h1.5v1.5h-1.5zM264.1 2381.6h1.5v1.5h-1.5zM378.7 2461.5h1.5v1.5h-1.5zM230.8 2450.8h1.5v1.5h-1.5zM292.4 2360.3h1.5v1.5h-1.5zM236.4 2456.1h1.5v1.5h-1.5zM234.5 2497.6h1.5v1.5h-1.5zM266.8 2465.3h1.5v1.5h-1.5zM244.9 2469.4h1.5v1.5h-1.5zM295.0 2388.5h1.5v1.5h-1.5zM370.0 2463.9h1.5v1.5h-1.5zM349.4 2347.2h1.5v1.5h-1.5zM400.7 2452.4h1.5v1.5h-1.5zM312.3 2361.1h1.5v1.5h-1.5zM280.1 2395.5h1.5v1.5h-1.5zM306.9 2353.9h1.5v1.5h-1.5zM362.5 2338.3h1.5v1.5h-1.5zM238.1 2422.7h1.5v1.5h-1.5zM302.2 2323.3h1.5v1.5h-1.5zM333.3 2510.2h1.5v1.5h-1.5zM344.5 2493.9h1.5v1.5h-1.5zM386.1 2358.5h1.5v1.5h-1.5zM288.7 2388.3h1.5v1.5h-1.5zM240.5 2518.2h1.5v1.5h-1.5zM295.2 2405.5h1.5v1.5h-1.5zM301.7 2378.8h1.5v1.5h-1.5zM236.3 2514.0h1.5v1.5h-1.5zM228.2 2449.8h1.5v1.5h-1.5zM232.7 2538.3h1.5v1.5h-1.5zM288.6 2382.9h1.5v1.5h-1.5zM382.5 2351.4h1.5v1.5h-1.5zM383.8 2353.3h1.5v1.5h-1.5zM283.2 2384.8h1.5v1.5h-1.5zM297.3 2508.6h1.5v1.5h-1.5zM264.6 2401.9h1.5v1.5h-1.5zM325.0 2370.3h1.5v1.5h-1.5zM271.6 2434.7h1.5v1.5h-1.5zM344.9 2346.3h1.5v1.5h-1.5zM319.4 2310.3h1.5v1.5h-1.5zM352.7 2519.2h1.5v1.5h-1.5zM249.0 2475.5h1.5v1.5h-1.5zM263.6 2446.5h1.5v1.5h-1.5zM280.4 2425.7h1.5v1.5h-1.5zM338.8 2340.0h1.5v1.5h-1.5zM269.2 2379.9h1.5v1.5h-1.5zM310.4 2381.2h1.5v1.5h-1.5zM312.9 2376.2h1.5v1.5h-1.5zM287.8 2376.6h1.5v1.5h-1.5zM247.9 2425.9h1.5v1.5h-1.5zM227.1 2466.2h1.5v1.5h-1.5zM250.4 2467.7h1.5v1.5h-1.5zM271.6 2404.3h1.5v1.5h-1.5zM256.2 2478.0h1.5v1.5h-1.5zM250.6 2387.1h1.5v1.5h-1.5zM266.7 2452.1h1.5v1.5h-1.5zM327.0 2363.7h1.5v1.5h-1.5zM336.4 2340.7h1.5v1.5h-1.5zM273.8 2423.7h1.5v1.5h-1.5zM231.8 2475.5h1.5v1.5h-1.5zM265.8 2509.9h1.5v1.5h-1.5zM383.4 2478.8h1.5v1.5h-1.5zM357.8 2584.7h1.5v1.5h-1.5zM329.1 2357.0h1.5v1.5h-1.5zM376.4 2488.0h1.5v1.5h-1.5zM396.1 2308.0h1.5v1.5h-1.5zM354.7 2485.1h1.5v1.5h-1.5zM243.7 2537.2h1.5v1.5h-1.5zM394.7 2343.8h1.5v1.5h-1.5zM276.2 2367.2h1.5v1.5h-1.5zM396.9 2392.0h1.5v1.5h-1.5zM245.8 2540.0h1.5v1.5h-1.5zM388.1 2359.8h1.5v1.5h-1.5zM377.4 2456.2h1.5v1.5h-1.5zM261.7 2498.6h1.5v1.5h-1.5zM304.6 2391.0h1.5v1.5h-1.5zM329.0 2364.5h1.5v1.5h-1.5zM374.5 2347.7h1.5v1.5h-1.5zM338.5 2351.9h1.5v1.5h-1.5zM371.5 2350.1h1.5v1.5h-1.5zM269.2 2432.6h1.5v1.5h-1.5zM402.1 2454.5h1.5v1.5h-1.5zM293.8 2415.4h1.5v1.5h-1.5zM265.2 2485.8h1.5v1.5h-1.5zM331.2 2362.1h1.5v1.5h-1.5zM263.0 2373.9h1.5v1.5h-1.5zM279.9 2422.6h1.5v1.5h-1.5zM293.0 2378.7h1.5v1.5h-1.5zM241.3 2423.0h1.5v1.5h-1.5zM242.7 2440.7h1.5v1.5h-1.5zM246.7 2396.3h1.5v1.5h-1.5zM292.4 2363.6h1.5v1.5h-1.5zM252.7 2496.0h1.5v1.5h-1.5zM243.7 2478.9h1.5v1.5h-1.5zM324.2 2574.0h1.5v1.5h-1.5zM349.9 2570.2h1.5v1.5h-1.5zM381.2 2467.0h1.5v1.5h-1.5zM277.0 2492.3h1.5v1.5h-1.5zM245.9 2458.8h1.5v1.5h-1.5zM372.5 2320.0h1.5v1.5h-1.5zM318.1 2301.3h1.5v1.5h-1.5zM301.5 2399.4h1.5v1.5h-1.5zM322.4 2369.2h1.5v1.5h-1.5zM282.8 2427.6h1.5v1.5h-1.5zM258.7 2385.9h1.5v1.5h-1.5zM274.6 2434.8h1.5v1.5h-1.5zM270.0 2449.9h1.5v1.5h-1.5zM264.5 2435.1h1.5v1.5h-1.5zM396.7 2409.7h1.5v1.5h-1.5zM245.9 2419.9h1.5v1.5h-1.5zM276.6 2427.4h1.5v1.5h-1.5zM243.7 2478.5h1.5v1.5h-1.5zM269.8 2453.1h1.5v1.5h-1.5zM352.7 2492.2h1.5v1.5h-1.5zM320.6 2351.0h1.5v1.5h-1.5zM331.7 2351.2h1.5v1.5h-1.5zM349.9 2489.4h1.5v1.5h-1.5zM230.9 2460.3h1.5v1.5h-1.5zM330.3 2363.9h1.5v1.5h-1.5zM274.9 2422.2h1.5v1.5h-1.5zM381.2 2463.0h1.5v1.5h-1.5zM366.3 2315.1h1.5v1.5h-1.5zM365.5 2339.5h1.5v1.5h-1.5zM388.3 2355.8h1.5v1.5h-1.5zM243.5 2462.9h1.5v1.5h-1.5zM393.9 2353.6h1.5v1.5h-1.5zM295.1 2528.4h1.5v1.5h-1.5zM255.2 2439.1h1.5v1.5h-1.5zM282.8 2503.1h1.5v1.5h-1.5zM260.1 2419.3h1.5v1.5h-1.5zM244.6 2403.8h1.5v1.5h-1.5zM359.8 2548.5h1.5v1.5h-1.5zM330.9 2340.1h1.5v1.5h-1.5zM307.8 2391.4h1.5v1.5h-1.5zM263.3 2404.9h1.5v1.5h-1.5zM350.7 2516.3h1.5v1.5h-1.5zM264.7 2471.4h1.5v1.5h-1.5zM387.6 2431.6h1.5v1.5h-1.5zM273.8 2442.9h1.5v1.5h-1.5zM292.5 2412.0h1.5v1.5h-1.5zM314.5 2381.9h1.5v1.5h-1.5zM319.7 2363.6h1.5v1.5h-1.5zM393.6 2360.9h1.5v1.5h-1.5zM346.5 2347.7h1.5v1.5h-1.5zM383.0 2331.3h1.5v1.5h-1.5zM269.8 2418.4h1.5v1.5h-1.5zM322.6 2519.4h1.5v1.5h-1.5zM302.9 2372.1h1.5v1.5h-1.5zM312.2 2373.6h1.5v1.5h-1.5zM398.0 2377.0h1.5v1.5h-1.5zM285.6 2388.8h1.5v1.5h-1.5zM381.6 2318.7h1.5v1.5h-1.5zM265.1 2476.7h1.5v1.5h-1.5zM250.4 2451.6h1.5v1.5h-1.5zM313.3 2363.2h1.5v1.5h-1.5zM305.9 2389.3h1.5v1.5h-1.5zM257.5 2459.3h1.5v1.5h-1.5zM330.6 2560.7h1.5v1.5h-1.5zM260.6 2499.1h1.5v1.5h-1.5zM254.8 2440.3h1.5v1.5h-1.5zM282.9 2409.2h1.5v1.5h-1.5zM280.1 2503.0h1.5v1.5h-1.5zM272.1 2499.1h1.5v1.5h-1.5zM347.6 2343.0h1.5v1.5h-1.5zM286.8 2373.8h1.5v1.5h-1.5zM290.1 2503.6h1.5v1.5h-1.5zM263.1 2432.6h1.5v1.5h-1.5zM288.9 2392.8h1.5v1.5h-1.5zM362.0 2477.0h1.5v1.5h-1.5zM388.8 2478.4h1.5v1.5h-1.5zM307.7 2341.8h1.5v1.5h-1.5zM279.7 2433.4h1.5v1.5h-1.5zM269.0 2488.1h1.5v1.5h-1.5zM241.8 2504.1h1.5v1.5h-1.5zM292.3 2384.7h1.5v1.5h-1.5zM278.1 2427.3h1.5v1.5h-1.5zM309.0 2510.1h1.5v1.5h-1.5zM397.8 2381.4h1.5v1.5h-1.5zM341.2 2353.5h1.5v1.5h-1.5zM341.1 2497.2h1.5v1.5h-1.5zM287.2 2404.5h1.5v1.5h-1.5zM275.8 2566.7h1.5v1.5h-1.5zM273.5 2539.3h1.5v1.5h-1.5zM296.4 2400.5h1.5v1.5h-1.5zM366.1 2506.1h1.5v1.5h-1.5zM267.8 2439.1h1.5v1.5h-1.5zM255.7 2502.6h1.5v1.5h-1.5zM279.8 2384.1h1.5v1.5h-1.5zM317.5 2360.3h1.5v1.5h-1.5zM279.3 2492.5h1.5v1.5h-1.5zM279.1 2496.4h1.5v1.5h-1.5zM233.0 2500.7h1.5v1.5h-1.5zM273.0 2414.1h1.5v1.5h-1.5zM290.8 2374.0h1.5v1.5h-1.5zM268.0 2416.4h1.5v1.5h-1.5zM312.4 2380.2h1.5v1.5h-1.5zM285.0 2393.4h1.5v1.5h-1.5zM396.1 2337.9h1.5v1.5h-1.5zM293.8 2392.0h1.5v1.5h-1.5zM308.5 2346.7h1.5v1.5h-1.5zM241.3 2509.6h1.5v1.5h-1.5zM270.7 2484.8h1.5v1.5h-1.5zM272.1 2440.0h1.5v1.5h-1.5zM373.2 2541.4h1.5v1.5h-1.5zM333.3 2356.8h1.5v1.5h-1.5zM288.8 2521.4h1.5v1.5h-1.5zM267.4 2515.6h1.5v1.5h-1.5zM282.2 2409.6h1.5v1.5h-1.5zM269.7 2491.4h1.5v1.5h-1.5zM334.8 2519.8h1.5v1.5h-1.5zM236.4 2443.4h1.5v1.5h-1.5zM330.7 2506.6h1.5v1.5h-1.5zM243.0 2372.9h1.5v1.5h-1.5zM275.5 2366.7h1.5v1.5h-1.5zM279.7 2433.0h1.5v1.5h-1.5zM273.4 2501.7h1.5v1.5h-1.5zM270.1 2492.9h1.5v1.5h-1.5zM263.5 2390.2h1.5v1.5h-1.5zM285.4 2397.3h1.5v1.5h-1.5zM397.9 2452.2h1.5v1.5h-1.5zM256.5 2464.0h1.5v1.5h-1.5zM277.9 2416.8h1.5v1.5h-1.5zM375.9 2509.8h1.5v1.5h-1.5zM255.6 2432.4h1.5v1.5h-1.5zM271.7 2398.7h1.5v1.5h-1.5zM283.6 2503.5h1.5v1.5h-1.5zM276.0 2390.6h1.5v1.5h-1.5zM284.9 2415.2h1.5v1.5h-1.5zM265.0 2441.1h1.5v1.5h-1.5zM304.2 2395.5h1.5v1.5h-1.5zM389.6 2422.3h1.5v1.5h-1.5zM337.9 2320.1h1.5v1.5h-1.5zM290.4 2412.2h1.5v1.5h-1.5zM333.1 2535.4h1.5v1.5h-1.5zM233.5 2553.3h1.5v1.5h-1.5zM235.6 2436.9h1.5v1.5h-1.5zM273.3 2440.3h1.5v1.5h-1.5zM269.0 2401.8h1.5v1.5h-1.5zM261.5 2382.5h1.5v1.5h-1.5zM297.6 2407.3h1.5v1.5h-1.5zM358.0 2512.7h1.5v1.5h-1.5zM253.1 2454.7h1.5v1.5h-1.5zM253.7 2464.6h1.5v1.5h-1.5zM263.3 2334.3h1.5v1.5h-1.5zM295.7 2381.8h1.5v1.5h-1.5zM324.3 2320.9h1.5v1.5h-1.5zM246.7 2558.9h1.5v1.5h-1.5zM242.1 2426.4h1.5v1.5h-1.5zM305.8 2367.9h1.5v1.5h-1.5zM372.0 2340.4h1.5v1.5h-1.5zM326.0 2369.1h1.5v1.5h-1.5zM272.6 2508.5h1.5v1.5h-1.5zM268.8 2450.7h1.5v1.5h-1.5zM288.7 2405.0h1.5v1.5h-1.5zM251.1 2416.0h1.5v1.5h-1.5zM256.3 2468.8h1.5v1.5h-1.5zM308.3 2363.5h1.5v1.5h-1.5zM267.1 2398.1h1.5v1.5h-1.5zM279.6 2515.3h1.5v1.5h-1.5zM319.3 2363.9h1.5v1.5h-1.5zM346.0 2335.5h1.5v1.5h-1.5zM292.0 2412.0h1.5v1.5h-1.5zM383.5 2357.5h1.5v1.5h-1.5zM351.6 2488.2h1.5v1.5h-1.5zM290.3 2361.6h1.5v1.5h-1.5zM316.6 2378.5h1.5v1.5h-1.5zM265.2 2365.5h1.5v1.5h-1.5zM345.0 2523.4h1.5v1.5h-1.5zM380.6 2358.6h1.5v1.5h-1.5zM262.0 2501.7h1.5v1.5h-1.5zM315.9 2361.5h1.5v1.5h-1.5zM269.8 2410.7h1.5v1.5h-1.5zM270.4 2381.3h1.5v1.5h-1.5zM258.6 2446.4h1.5v1.5h-1.5zM398.2 2417.7h1.5v1.5h-1.5zM369.3 2338.0h1.5v1.5h-1.5zM289.6 2403.6h1.5v1.5h-1.5zM350.2 2491.5h1.5v1.5h-1.5zM232.6 2453.7h1.5v1.5h-1.5zM279.7 2500.3h1.5v1.5h-1.5zM266.8 2371.8h1.5v1.5h-1.5zM400.3 2355.1h1.5v1.5h-1.5zM253.1 2501.2h1.5v1.5h-1.5zM325.1 2352.7h1.5v1.5h-1.5zM306.0 2379.2h1.5v1.5h-1.5zM257.8 2478.1h1.5v1.5h-1.5zM337.1 2336.0h1.5v1.5h-1.5zM255.0 2436.9h1.5v1.5h-1.5zM275.7 2391.1h1.5v1.5h-1.5zM336.3 2520.2h1.5v1.5h-1.5zM260.6 2445.3h1.5v1.5h-1.5zM399.2 2411.4h1.5v1.5h-1.5zM276.7 2394.3h1.5v1.5h-1.5zM321.4 2372.4h1.5v1.5h-1.5zM244.9 2472.6h1.5v1.5h-1.5zM259.3 2464.0h1.5v1.5h-1.5zM300.8 2381.3h1.5v1.5h-1.5zM242.8 2461.4h1.5v1.5h-1.5zM263.8 2456.8h1.5v1.5h-1.5zM267.0 2423.8h1.5v1.5h-1.5zM225.0 2545.6h1.5v1.5h-1.5zM271.4 2529.2h1.5v1.5h-1.5zM294.3 2399.2h1.5v1.5h-1.5zM246.2 2519.5h1.5v1.5h-1.5zM306.9 2319.9h1.5v1.5h-1.5zM224.7 2486.4h1.5v1.5h-1.5zM273.8 2368.6h1.5v1.5h-1.5zM363.8 2493.7h1.5v1.5h-1.5zM225.1 2471.5h1.5v1.5h-1.5zM298.4 2391.0h1.5v1.5h-1.5zM391.2 2427.6h1.5v1.5h-1.5zM256.6 2470.3h1.5v1.5h-1.5zM295.4 2524.4h1.5v1.5h-1.5zM317.1 2519.5h1.5v1.5h-1.5zM304.9 2360.5h1.5v1.5h-1.5zM275.7 2504.4h1.5v1.5h-1.5zM272.2 2507.7h1.5v1.5h-1.5zM296.1 2372.1h1.5v1.5h-1.5zM393.0 2304.4h1.5v1.5h-1.5zM276.3 2527.7h1.5v1.5h-1.5zM361.0 2477.9h1.5v1.5h-1.5zM365.0 2332.1h1.5v1.5h-1.5zM272.4 2543.4h1.5v1.5h-1.5zM331.4 2503.8h1.5v1.5h-1.5zM331.6 2355.9h1.5v1.5h-1.5zM262.5 2460.3h1.5v1.5h-1.5zM272.5 2432.6h1.5v1.5h-1.5z" fill="#1a1a1a"/>
</g>
<rect x="205" y="2284.3" width="312.7" height="312.4" fill="none" stroke="#111" stroke-width="1.8"/>
<path d="M201.0 2583.1H205.0M201.0 2571.3H205.0M201.0 2559.4H205.0M201.0 2547.5H205.0M201.0 2523.8H205.0M201.0 2511.9H205.0M201.0 2500.1H205.0M201.0 2488.2H205.0M201.0 2464.5H205.0M201.0 2452.6H205.0M201.0 2440.7H205.0M201.0 2428.8H205.0M201.0 2405.1H205.0M201.0 2393.2H205.0M201.0 2381.4H205.0M201.0 2369.5H205.0M201.0 2345.8H205.0M201.0 2333.9H205.0M201.0 2322.0H205.0M201.0 2310.2H205.0M201.0 2286.4H205.0" fill="none" stroke="#111" stroke-width="1.5"/>
<path d="M196.0 2595.0H205.0M196.0 2535.7H205.0M196.0 2476.3H205.0M196.0 2417.0H205.0M196.0 2357.6H205.0M196.0 2298.3H205.0" fill="none" stroke="#111" stroke-width="2.4"/>
<text x="191.5" y="2599.2" font-size="11.5" text-anchor="end">0</text>
<text x="191.5" y="2539.9" font-size="11.5" text-anchor="end" textLength="26" lengthAdjust="spacingAndGlyphs">50K</text>
<text x="191.5" y="2480.5" font-size="11.5" text-anchor="end" textLength="26" lengthAdjust="spacingAndGlyphs">100K</text>
<text x="191.5" y="2421.2" font-size="11.5" text-anchor="end" textLength="26" lengthAdjust="spacingAndGlyphs">150K</text>
<text x="191.5" y="2361.8" font-size="11.5" text-anchor="end" textLength="26" lengthAdjust="spacingAndGlyphs">200K</text>
<text x="191.5" y="2302.5" font-size="11.5" text-anchor="end" textLength="26" lengthAdjust="spacingAndGlyphs">250K</text>
<path d="M212.3 2596.7V2600.7M218.4 2596.7V2600.7M223.3 2596.7V2600.7M227.6 2596.7V2600.7M231.2 2596.7V2600.7M234.4 2596.7V2600.7M256.2 2596.7V2600.7M267.3 2596.7V2600.7M275.2 2596.7V2600.7M281.3 2596.7V2600.7M286.3 2596.7V2600.7M290.5 2596.7V2600.7M294.1 2596.7V2600.7M297.3 2596.7V2600.7M319.9 2596.7V2600.7M331.0 2596.7V2600.7M338.9 2596.7V2600.7M345.0 2596.7V2600.7M350.0 2596.7V2600.7M354.2 2596.7V2600.7M357.8 2596.7V2600.7M361.0 2596.7V2600.7M382.2 2596.7V2600.7M393.3 2596.7V2600.7M401.2 2596.7V2600.7M407.3 2596.7V2600.7M412.3 2596.7V2600.7M416.5 2596.7V2600.7M420.1 2596.7V2600.7M423.3 2596.7V2600.7M445.6 2596.7V2600.7M456.7 2596.7V2600.7M464.6 2596.7V2600.7M470.7 2596.7V2600.7M475.7 2596.7V2600.7M479.9 2596.7V2600.7M483.5 2596.7V2600.7M486.7 2596.7V2600.7M507.9 2596.7V2600.7" fill="none" stroke="#111" stroke-width="1.5"/>
<path d="M237.3 2596.7V2605.7M301.0 2596.7V2605.7M363.3 2596.7V2605.7M426.7 2596.7V2605.7M489.0 2596.7V2605.7" fill="none" stroke="#111" stroke-width="2.4"/>
<text x="245.3" y="2623" font-size="11.5" text-anchor="middle">10<tspan dy="-6.3" font-size="9.2">1</tspan></text>
<text x="309" y="2623" font-size="11.5" text-anchor="middle">10<tspan dy="-6.3" font-size="9.2">2</tspan></text>
<text x="371.3" y="2623" font-size="11.5" text-anchor="middle">10<tspan dy="-6.3" font-size="9.2">3</tspan></text>
<text x="434.7" y="2623" font-size="11.5" text-anchor="middle">10<tspan dy="-6.3" font-size="9.2">4</tspan></text>
<text x="497" y="2623" font-size="11.5" text-anchor="middle">10<tspan dy="-6.3" font-size="9.2">5</tspan></text>
<line x1="407.3" y1="2284.3" x2="407.3" y2="2596.7" stroke="#111" stroke-width="1.3"/>
<text x="416.7" y="2453.3" font-size="17" textLength="85" lengthAdjust="spacingAndGlyphs">Apopxin<tspan dy="-5.7" font-size="9.9">pos</tspan></text>
<text x="458.3" y="2476.7" font-size="17" text-anchor="middle">0%</text>
<text x="298.2" y="2211.7" font-size="41" textLength="91" lengthAdjust="spacingAndGlyphs">FMO</text>
<text x="124" y="2441.5" font-size="37" transform="rotate(-90 124 2441.5)" textLength="58" lengthAdjust="spacingAndGlyphs">FSC</text>
<clipPath id="c10"><rect x="584.1" y="2284.6" width="312.9" height="311.1"/></clipPath>
<g clip-path="url(#c10)">
<path d="M763.4 2329.1 768.6 2329.6 773.1 2331.5 777.6 2335.0 781.7 2340.1 785.3 2346.6 788.3 2354.6 790.4 2363.1 791.9 2372.6 792.9 2391.1 791.7 2411.6 789.3 2429.6 781.0 2478.1 777.8 2489.1 773.2 2498.1 766.5 2506.6 757.1 2515.5 747.1 2522.8 737.1 2527.7 728.6 2529.7 720.1 2529.3 712.6 2526.6 704.1 2521.4 692.2 2511.6 683.6 2502.6 678.9 2495.6 675.8 2488.1 674.7 2481.1 675.4 2473.6 677.1 2468.1 679.9 2462.6 692.6 2445.6 696.8 2438.1 699.6 2430.3 705.9 2406.6 710.9 2391.1 717.8 2374.6 725.3 2360.6 734.6 2347.3 744.1 2337.6 749.1 2334.0 754.1 2331.3 758.6 2329.8 763.4 2329.1 M758.5 2344.1 763.1 2343.8 767.6 2344.6 771.1 2346.4 774.6 2349.6 777.6 2353.9 780.3 2359.6 782.6 2366.6 784.4 2374.6 786.2 2392.6 785.8 2413.6 783.3 2437.6 778.8 2462.6 775.2 2476.6 771.1 2486.6 764.8 2496.6 757.1 2505.3 748.1 2512.4 738.6 2517.2 729.6 2519.3 720.6 2518.7 713.6 2516.3 705.6 2511.7 698.1 2505.7 691.9 2499.1 687.9 2493.1 685.4 2486.6 684.5 2480.6 685.2 2474.1 688.7 2465.1 699.1 2449.2 702.9 2441.6 705.6 2433.6 710.8 2413.1 714.8 2400.1 720.3 2386.1 726.3 2374.1 734.1 2362.1 742.1 2353.1 750.1 2347.2 754.1 2345.3 758.5 2344.1 M759.5 2353.6 763.6 2353.6 767.1 2354.4 770.1 2356.0 773.1 2359.0 775.6 2362.9 777.9 2368.1 781.0 2380.6 782.8 2397.6 782.7 2417.1 780.8 2437.6 777.2 2456.6 773.5 2469.1 768.6 2480.1 761.2 2492.6 754.1 2501.1 746.1 2507.4 737.6 2511.5 729.1 2513.1 720.6 2512.3 714.1 2510.0 707.6 2506.2 701.6 2501.3 696.9 2496.1 693.6 2490.6 691.6 2485.1 691.0 2479.6 691.8 2473.6 694.7 2466.1 703.1 2452.0 706.7 2444.6 709.1 2437.4 714.3 2416.6 717.9 2404.6 723.0 2391.6 728.7 2380.1 736.0 2369.1 743.6 2360.9 747.6 2357.8 751.6 2355.6 755.6 2354.2 759.5 2353.6 M758.1 2361.1 762.6 2361.0 766.1 2361.6 768.6 2362.6 771.1 2364.7 773.3 2367.6 775.3 2371.6 778.6 2382.6 780.5 2398.1 780.8 2416.6 779.4 2435.1 776.3 2451.6 773.6 2460.6 770.1 2468.5 759.2 2488.6 752.2 2497.6 745.1 2503.3 737.1 2507.1 729.1 2508.6 721.1 2507.7 715.1 2505.5 709.6 2502.3 704.6 2498.1 700.7 2493.6 698.1 2489.1 696.5 2484.1 696.0 2479.1 696.7 2473.6 699.3 2466.6 706.6 2453.3 709.6 2446.6 719.9 2409.1 724.4 2397.1 729.5 2386.6 736.5 2375.6 743.6 2367.8 750.6 2363.1 758.1 2361.1 M758.2 2367.1 765.6 2367.4 768.1 2368.3 770.1 2369.8 772.1 2372.2 774.1 2375.9 777.2 2386.1 779.1 2400.6 779.4 2418.1 778.0 2435.1 775.2 2449.6 771.3 2460.1 764.2 2472.1 758.0 2484.6 754.6 2490.1 750.3 2495.1 743.6 2500.4 736.1 2503.8 728.6 2505.0 721.1 2504.0 716.1 2502.1 711.1 2499.0 707.1 2495.5 703.6 2491.1 701.3 2486.6 700.1 2482.1 700.0 2477.6 700.8 2472.6 702.9 2467.1 712.0 2448.1 721.9 2411.6 726.0 2400.6 730.7 2390.6 737.1 2380.6 744.1 2373.0 750.6 2368.8 758.2 2367.1 M754.8 2372.6 763.6 2372.2 768.1 2373.3 770.1 2374.9 772.1 2377.6 775.1 2385.1 777.5 2398.1 778.3 2414.1 777.4 2430.6 774.9 2445.1 773.1 2451.2 770.6 2456.8 763.1 2468.4 754.8 2485.1 749.6 2492.0 743.6 2497.2 736.6 2500.6 729.6 2501.9 722.6 2501.2 718.1 2499.6 713.6 2497.0 709.6 2493.6 706.8 2490.1 704.7 2486.1 703.6 2482.1 703.3 2477.6 704.0 2473.1 705.9 2467.6 714.1 2449.1 722.9 2415.6 726.4 2405.6 730.5 2396.6 736.1 2387.0 742.1 2379.7 748.1 2375.0 754.8 2372.6 M757.0 2377.1 765.1 2376.9 768.6 2378.1 772.1 2382.5 774.8 2390.1 776.8 2402.6 777.3 2417.6 776.3 2432.1 773.8 2444.6 770.1 2453.7 762.6 2464.5 753.4 2483.1 748.1 2490.2 742.6 2494.8 736.1 2498.0 729.1 2499.1 722.6 2498.3 718.6 2496.7 714.6 2494.2 711.3 2491.1 708.8 2487.6 707.3 2484.1 706.4 2480.1 706.4 2476.1 707.3 2471.6 716.0 2449.6 721.9 2425.6 725.2 2414.6 732.1 2398.4 738.1 2388.7 744.1 2382.2 750.1 2378.4 757.0 2377.1 M759.1 2381.6 765.6 2381.2 769.1 2382.7 772.1 2387.2 774.4 2394.6 776.0 2406.6 776.3 2420.1 775.1 2433.1 772.8 2443.6 769.6 2450.9 761.1 2463.0 752.5 2480.6 747.0 2488.1 741.6 2492.6 735.6 2495.5 729.1 2496.5 723.1 2495.6 717.6 2493.0 712.9 2488.6 710.0 2483.1 709.2 2477.1 710.6 2469.6 717.9 2449.6 725.4 2419.6 728.8 2410.1 732.6 2401.9 736.6 2395.1 741.1 2389.2 745.1 2385.4 749.6 2382.8 753.6 2381.7 759.1 2381.6 M763.0 2385.6 767.1 2385.6 770.1 2388.0 772.6 2393.2 774.5 2401.6 775.4 2412.6 775.2 2424.1 773.9 2434.6 771.6 2443.2 769.1 2448.3 761.1 2459.4 751.2 2479.1 745.6 2486.5 740.5 2490.6 734.6 2493.2 728.6 2493.9 723.1 2492.8 718.3 2490.1 714.6 2486.1 712.4 2481.1 712.0 2475.6 713.3 2469.1 719.1 2451.7 724.4 2428.6 728.3 2416.1 731.7 2408.1 735.6 2400.7 739.6 2394.9 743.6 2390.6 747.1 2388.0 751.1 2386.3 763.0 2385.6 M764.8 2389.6 768.1 2390.2 770.6 2393.1 772.6 2398.6 773.9 2406.1 774.5 2415.6 774.2 2425.6 772.8 2434.6 770.7 2441.6 768.6 2445.7 761.1 2456.0 750.5 2476.6 744.9 2484.1 740.1 2488.1 734.6 2490.6 729.1 2491.2 724.0 2490.1 719.8 2487.6 716.6 2483.7 715.0 2479.1 714.8 2474.1 715.9 2468.6 720.6 2452.5 725.8 2429.1 730.3 2415.6 733.6 2408.3 737.2 2402.1 741.1 2396.9 745.1 2393.2 748.1 2391.4 751.1 2390.4 759.6 2390.7 764.8 2389.6 M764.8 2393.6 767.6 2393.8 770.1 2396.4 772.0 2401.6 773.1 2408.1 773.6 2416.6 773.3 2425.6 772.1 2433.1 770.1 2439.6 768.1 2443.3 761.6 2452.2 750.1 2474.1 744.6 2481.5 740.1 2485.4 735.1 2487.9 730.1 2488.6 725.1 2487.6 721.6 2485.4 719.0 2482.1 717.5 2478.1 717.3 2473.1 726.3 2432.1 731.5 2416.6 734.6 2410.0 738.1 2404.2 741.6 2399.8 745.6 2396.3 750.6 2394.2 759.6 2395.0 764.8 2393.6 M765.0 2397.6 767.6 2397.7 769.6 2399.8 771.1 2403.6 772.3 2410.1 772.7 2417.6 772.4 2425.1 771.2 2432.1 769.6 2437.2 767.6 2440.9 761.6 2449.3 750.6 2470.4 744.6 2478.8 740.1 2482.8 735.6 2485.2 731.1 2486.0 726.6 2485.1 723.4 2483.1 721.2 2480.1 719.9 2476.1 719.9 2471.6 727.0 2434.6 729.5 2425.6 732.5 2417.6 735.6 2411.5 739.1 2406.0 742.6 2402.0 746.1 2399.3 749.1 2398.0 751.6 2397.7 760.1 2399.3 765.0 2397.6 M749.9 2401.1 753.1 2401.4 759.6 2403.5 761.6 2403.3 766.1 2401.6 767.6 2401.9 768.8 2403.1 770.6 2407.6 771.6 2414.9 771.5 2423.1 770.3 2430.6 768.1 2436.6 762.6 2444.7 753.1 2463.5 746.6 2473.6 742.6 2478.1 738.1 2481.4 733.6 2483.0 729.6 2482.9 726.5 2481.6 724.1 2479.1 722.7 2476.1 722.2 2472.1 723.0 2464.1 728.3 2433.6 732.4 2421.1 738.0 2410.6 741.1 2406.5 744.1 2403.7 747.1 2401.9 749.9 2401.1 M747.5 2404.6 752.1 2404.4 760.1 2407.8 762.1 2407.7 766.1 2406.1 768.1 2407.1 769.6 2410.5 770.4 2415.6 770.4 2421.6 769.6 2427.9 767.6 2433.6 762.1 2442.5 753.1 2461.2 747.6 2469.8 743.1 2475.0 739.1 2478.2 735.1 2479.9 731.1 2480.1 728.6 2479.1 726.5 2477.1 725.1 2474.1 724.6 2470.6 725.5 2457.6 728.5 2437.6 731.7 2426.1 736.3 2416.1 741.6 2408.8 744.6 2406.1 747.5 2404.6 M748.5 2407.1 750.6 2407.0 753.1 2407.7 760.6 2412.4 762.6 2412.5 765.6 2411.6 767.1 2412.2 768.2 2414.1 768.8 2418.1 768.1 2426.6 755.1 2455.1 748.6 2466.2 744.1 2471.6 740.1 2474.9 736.1 2476.8 732.1 2476.9 729.7 2475.6 728.1 2473.6 727.1 2470.8 726.6 2467.1 727.5 2451.1 729.9 2436.1 733.1 2425.6 737.6 2416.6 743.1 2409.9 745.6 2408.1 748.5 2407.1 M748.3 2409.6 751.1 2409.7 753.6 2410.8 761.1 2417.6 764.6 2420.0 765.4 2422.1 765.1 2425.1 757.5 2447.6 754.1 2455.1 750.6 2461.2 746.1 2467.3 741.6 2471.5 737.6 2473.6 733.6 2473.8 731.6 2472.8 729.8 2470.6 728.3 2464.1 728.6 2450.1 730.7 2436.6 733.8 2426.6 738.1 2418.2 743.1 2412.2 745.6 2410.5 748.3 2409.6 M747.9 2412.6 750.6 2412.7 753.6 2414.2 756.4 2417.1 758.9 2421.1 760.6 2427.6 759.7 2436.1 755.6 2449.1 749.6 2460.4 746.1 2464.7 742.1 2468.3 738.6 2470.0 735.6 2470.2 733.6 2469.3 732.1 2467.6 730.2 2461.1 730.0 2450.1 731.6 2438.1 734.4 2428.6 738.4 2420.6 743.1 2415.0 745.6 2413.4 747.9 2412.6 M747.0 2416.1 749.6 2416.0 752.1 2417.1 754.3 2419.1 756.2 2422.1 758.2 2429.1 757.6 2438.1 754.2 2449.1 749.1 2458.2 746.1 2461.8 743.1 2464.3 740.1 2465.8 737.6 2466.0 735.6 2465.2 734.1 2463.7 732.1 2458.1 731.6 2449.1 732.7 2439.6 735.1 2430.9 738.6 2423.6 742.6 2418.7 747.0 2416.1 M747.2 2419.6 749.6 2419.8 751.6 2420.8 754.7 2425.1 756.2 2431.6 755.6 2439.6 753.0 2448.1 748.6 2455.8 743.6 2460.6 741.1 2461.7 739.1 2461.8 736.1 2459.9 734.1 2455.1 733.5 2447.6 734.3 2439.6 736.4 2432.1 739.6 2425.8 743.1 2421.7 747.2 2419.6 M745.9 2424.1 747.6 2423.8 749.6 2424.4 752.4 2427.6 753.8 2432.6 753.6 2439.2 751.7 2446.1 748.6 2451.9 744.6 2456.0 742.6 2457.0 740.6 2457.1 738.1 2455.6 736.4 2452.1 735.7 2447.1 736.1 2441.1 737.6 2435.1 739.8 2430.1 742.6 2426.3 745.9 2424.1 M745.3 2429.1 748.1 2429.1 750.1 2431.1 751.2 2434.6 751.1 2439.6 749.7 2444.6 747.6 2448.6 744.6 2451.4 742.1 2452.0 740.1 2450.7 739.0 2448.6 738.4 2445.1 738.6 2441.1 739.6 2437.1 741.1 2433.5 743.1 2430.7 745.3 2429.1" fill="none" stroke="#555" stroke-width="0.8"/>
<path d="M699.8 2417.4h1.5v1.5h-1.5zM758.4 2528.8h1.5v1.5h-1.5zM790.4 2429.6h1.5v1.5h-1.5zM672.9 2558.6h1.5v1.5h-1.5zM735.8 2528.3h1.5v1.5h-1.5zM791.7 2466.5h1.5v1.5h-1.5zM674.1 2456.3h1.5v1.5h-1.5zM805.1 2448.6h1.5v1.5h-1.5zM777.1 2500.7h1.5v1.5h-1.5zM656.3 2458.3h1.5v1.5h-1.5zM668.0 2425.2h1.5v1.5h-1.5zM754.9 2519.0h1.5v1.5h-1.5zM653.6 2529.7h1.5v1.5h-1.5zM743.6 2532.0h1.5v1.5h-1.5zM695.1 2438.8h1.5v1.5h-1.5zM662.8 2435.2h1.5v1.5h-1.5zM682.0 2455.7h1.5v1.5h-1.5zM818.5 2393.8h1.5v1.5h-1.5zM679.7 2428.5h1.5v1.5h-1.5zM796.0 2388.4h1.5v1.5h-1.5zM796.7 2441.8h1.5v1.5h-1.5zM802.1 2436.1h1.5v1.5h-1.5zM798.2 2508.5h1.5v1.5h-1.5zM687.9 2526.3h1.5v1.5h-1.5zM708.6 2386.9h1.5v1.5h-1.5zM692.5 2421.7h1.5v1.5h-1.5zM799.3 2434.0h1.5v1.5h-1.5zM670.8 2429.4h1.5v1.5h-1.5zM701.6 2412.9h1.5v1.5h-1.5zM694.9 2387.4h1.5v1.5h-1.5zM702.3 2406.0h1.5v1.5h-1.5zM700.4 2390.6h1.5v1.5h-1.5zM792.5 2459.5h1.5v1.5h-1.5zM669.5 2500.5h1.5v1.5h-1.5zM787.9 2442.9h1.5v1.5h-1.5zM684.3 2509.6h1.5v1.5h-1.5zM808.5 2402.4h1.5v1.5h-1.5zM688.0 2512.1h1.5v1.5h-1.5zM722.6 2360.9h1.5v1.5h-1.5zM697.1 2408.0h1.5v1.5h-1.5zM666.0 2465.0h1.5v1.5h-1.5zM669.2 2447.2h1.5v1.5h-1.5zM794.0 2365.7h1.5v1.5h-1.5zM700.9 2404.7h1.5v1.5h-1.5zM799.7 2450.6h1.5v1.5h-1.5zM796.6 2381.1h1.5v1.5h-1.5zM665.5 2430.1h1.5v1.5h-1.5zM688.6 2429.6h1.5v1.5h-1.5zM803.9 2394.7h1.5v1.5h-1.5zM814.7 2445.6h1.5v1.5h-1.5zM816.9 2398.5h1.5v1.5h-1.5zM788.4 2485.1h1.5v1.5h-1.5zM685.5 2446.7h1.5v1.5h-1.5zM757.9 2551.1h1.5v1.5h-1.5zM728.0 2345.4h1.5v1.5h-1.5zM699.8 2580.1h1.5v1.5h-1.5zM678.5 2415.0h1.5v1.5h-1.5zM800.2 2432.6h1.5v1.5h-1.5zM867.8 2392.4h1.5v1.5h-1.5zM744.6 2528.3h1.5v1.5h-1.5zM824.4 2432.4h1.5v1.5h-1.5zM695.4 2394.9h1.5v1.5h-1.5zM683.2 2390.9h1.5v1.5h-1.5zM698.9 2533.6h1.5v1.5h-1.5zM704.3 2540.5h1.5v1.5h-1.5zM693.4 2439.3h1.5v1.5h-1.5zM810.0 2443.1h1.5v1.5h-1.5zM792.1 2517.5h1.5v1.5h-1.5zM789.5 2333.6h1.5v1.5h-1.5zM695.8 2375.5h1.5v1.5h-1.5zM810.8 2410.5h1.5v1.5h-1.5zM804.2 2450.9h1.5v1.5h-1.5zM706.6 2538.6h1.5v1.5h-1.5zM798.6 2434.3h1.5v1.5h-1.5zM706.5 2361.2h1.5v1.5h-1.5zM748.8 2547.0h1.5v1.5h-1.5zM794.0 2460.2h1.5v1.5h-1.5zM672.7 2424.1h1.5v1.5h-1.5zM806.7 2449.5h1.5v1.5h-1.5zM788.4 2469.0h1.5v1.5h-1.5zM786.6 2468.6h1.5v1.5h-1.5zM699.4 2372.8h1.5v1.5h-1.5zM700.2 2402.5h1.5v1.5h-1.5zM811.4 2429.2h1.5v1.5h-1.5zM685.2 2405.3h1.5v1.5h-1.5zM787.4 2458.7h1.5v1.5h-1.5zM789.4 2431.7h1.5v1.5h-1.5zM699.6 2414.5h1.5v1.5h-1.5zM678.8 2413.4h1.5v1.5h-1.5zM792.4 2395.4h1.5v1.5h-1.5zM712.6 2336.2h1.5v1.5h-1.5zM669.4 2488.9h1.5v1.5h-1.5zM705.3 2371.6h1.5v1.5h-1.5zM697.5 2397.6h1.5v1.5h-1.5zM702.6 2397.7h1.5v1.5h-1.5zM697.4 2385.4h1.5v1.5h-1.5zM801.8 2469.3h1.5v1.5h-1.5zM795.1 2379.0h1.5v1.5h-1.5zM690.4 2525.9h1.5v1.5h-1.5zM683.3 2509.9h1.5v1.5h-1.5zM719.0 2324.6h1.5v1.5h-1.5zM785.0 2487.9h1.5v1.5h-1.5zM695.8 2418.3h1.5v1.5h-1.5zM762.3 2540.3h1.5v1.5h-1.5zM742.0 2526.6h1.5v1.5h-1.5zM679.2 2519.0h1.5v1.5h-1.5zM646.9 2444.6h1.5v1.5h-1.5zM696.6 2568.9h1.5v1.5h-1.5zM791.6 2431.5h1.5v1.5h-1.5zM791.4 2448.9h1.5v1.5h-1.5zM678.2 2512.3h1.5v1.5h-1.5zM782.5 2482.1h1.5v1.5h-1.5zM702.4 2371.5h1.5v1.5h-1.5zM809.5 2438.2h1.5v1.5h-1.5zM729.4 2556.8h1.5v1.5h-1.5zM671.0 2459.2h1.5v1.5h-1.5zM797.3 2450.8h1.5v1.5h-1.5zM766.2 2579.9h1.5v1.5h-1.5zM680.4 2426.1h1.5v1.5h-1.5zM738.7 2528.8h1.5v1.5h-1.5zM669.7 2382.2h1.5v1.5h-1.5zM665.1 2429.9h1.5v1.5h-1.5zM741.9 2545.8h1.5v1.5h-1.5zM716.8 2367.6h1.5v1.5h-1.5zM829.6 2451.0h1.5v1.5h-1.5zM686.9 2445.8h1.5v1.5h-1.5zM794.5 2478.3h1.5v1.5h-1.5zM685.7 2383.9h1.5v1.5h-1.5zM778.3 2490.3h1.5v1.5h-1.5zM767.9 2503.4h1.5v1.5h-1.5zM795.5 2401.6h1.5v1.5h-1.5zM794.9 2385.5h1.5v1.5h-1.5zM668.4 2470.8h1.5v1.5h-1.5zM724.9 2570.5h1.5v1.5h-1.5zM784.1 2490.9h1.5v1.5h-1.5zM800.2 2399.6h1.5v1.5h-1.5zM701.5 2382.7h1.5v1.5h-1.5zM811.8 2370.2h1.5v1.5h-1.5zM822.5 2374.2h1.5v1.5h-1.5zM687.4 2442.3h1.5v1.5h-1.5zM676.7 2515.4h1.5v1.5h-1.5zM784.3 2487.8h1.5v1.5h-1.5zM789.8 2452.0h1.5v1.5h-1.5zM702.9 2385.2h1.5v1.5h-1.5zM808.5 2442.7h1.5v1.5h-1.5zM684.3 2448.3h1.5v1.5h-1.5zM783.2 2463.8h1.5v1.5h-1.5zM790.4 2360.8h1.5v1.5h-1.5zM798.1 2379.4h1.5v1.5h-1.5zM686.6 2422.3h1.5v1.5h-1.5zM690.3 2434.3h1.5v1.5h-1.5zM704.0 2334.5h1.5v1.5h-1.5zM654.0 2421.9h1.5v1.5h-1.5zM697.1 2401.0h1.5v1.5h-1.5zM813.4 2395.1h1.5v1.5h-1.5zM718.9 2366.1h1.5v1.5h-1.5zM668.2 2516.3h1.5v1.5h-1.5zM816.7 2410.0h1.5v1.5h-1.5zM704.0 2361.4h1.5v1.5h-1.5zM696.4 2415.6h1.5v1.5h-1.5zM762.4 2512.9h1.5v1.5h-1.5zM803.9 2469.1h1.5v1.5h-1.5zM686.0 2441.5h1.5v1.5h-1.5zM681.1 2437.1h1.5v1.5h-1.5zM693.2 2513.0h1.5v1.5h-1.5zM691.6 2382.8h1.5v1.5h-1.5zM682.6 2520.2h1.5v1.5h-1.5zM657.9 2483.6h1.5v1.5h-1.5zM816.1 2405.2h1.5v1.5h-1.5zM683.9 2414.4h1.5v1.5h-1.5zM673.8 2518.6h1.5v1.5h-1.5zM666.4 2428.1h1.5v1.5h-1.5zM698.3 2422.3h1.5v1.5h-1.5zM667.9 2460.5h1.5v1.5h-1.5zM693.2 2516.1h1.5v1.5h-1.5zM676.2 2416.3h1.5v1.5h-1.5zM805.4 2400.5h1.5v1.5h-1.5zM788.2 2442.1h1.5v1.5h-1.5zM796.8 2437.3h1.5v1.5h-1.5zM741.0 2545.3h1.5v1.5h-1.5zM681.7 2444.0h1.5v1.5h-1.5zM793.5 2481.4h1.5v1.5h-1.5zM678.1 2428.3h1.5v1.5h-1.5zM708.4 2392.7h1.5v1.5h-1.5zM791.1 2434.5h1.5v1.5h-1.5zM808.8 2379.8h1.5v1.5h-1.5zM699.3 2380.2h1.5v1.5h-1.5zM678.9 2436.0h1.5v1.5h-1.5zM780.8 2485.0h1.5v1.5h-1.5zM771.7 2499.3h1.5v1.5h-1.5zM682.9 2456.1h1.5v1.5h-1.5zM792.4 2390.8h1.5v1.5h-1.5zM774.9 2493.7h1.5v1.5h-1.5zM667.5 2470.6h1.5v1.5h-1.5zM682.7 2422.3h1.5v1.5h-1.5zM781.4 2499.6h1.5v1.5h-1.5zM790.4 2470.8h1.5v1.5h-1.5zM796.8 2452.7h1.5v1.5h-1.5zM676.7 2459.0h1.5v1.5h-1.5zM781.7 2538.4h1.5v1.5h-1.5zM707.6 2381.2h1.5v1.5h-1.5zM668.5 2387.5h1.5v1.5h-1.5zM693.6 2425.5h1.5v1.5h-1.5zM785.6 2475.7h1.5v1.5h-1.5zM788.8 2438.3h1.5v1.5h-1.5zM684.2 2410.0h1.5v1.5h-1.5zM736.3 2342.0h1.5v1.5h-1.5zM790.2 2468.9h1.5v1.5h-1.5zM785.8 2479.2h1.5v1.5h-1.5zM781.1 2492.1h1.5v1.5h-1.5zM647.1 2453.4h1.5v1.5h-1.5zM718.1 2533.0h1.5v1.5h-1.5zM728.0 2538.5h1.5v1.5h-1.5zM789.3 2432.8h1.5v1.5h-1.5zM721.0 2549.8h1.5v1.5h-1.5zM673.0 2502.5h1.5v1.5h-1.5zM691.4 2416.8h1.5v1.5h-1.5zM786.8 2498.7h1.5v1.5h-1.5zM663.0 2438.0h1.5v1.5h-1.5zM773.2 2496.9h1.5v1.5h-1.5zM694.8 2404.6h1.5v1.5h-1.5zM715.3 2374.4h1.5v1.5h-1.5zM793.7 2409.4h1.5v1.5h-1.5zM697.6 2416.1h1.5v1.5h-1.5zM804.0 2428.2h1.5v1.5h-1.5zM683.5 2406.7h1.5v1.5h-1.5zM695.7 2418.6h1.5v1.5h-1.5zM775.6 2541.1h1.5v1.5h-1.5zM785.3 2471.4h1.5v1.5h-1.5zM787.3 2443.7h1.5v1.5h-1.5zM762.9 2319.1h1.5v1.5h-1.5zM793.3 2459.5h1.5v1.5h-1.5zM688.6 2426.3h1.5v1.5h-1.5zM709.5 2361.4h1.5v1.5h-1.5zM787.9 2475.0h1.5v1.5h-1.5zM799.0 2381.5h1.5v1.5h-1.5zM670.6 2503.8h1.5v1.5h-1.5zM805.2 2509.8h1.5v1.5h-1.5zM753.3 2542.2h1.5v1.5h-1.5zM816.4 2401.2h1.5v1.5h-1.5zM801.5 2402.2h1.5v1.5h-1.5zM659.2 2528.2h1.5v1.5h-1.5zM682.3 2423.5h1.5v1.5h-1.5zM791.2 2419.6h1.5v1.5h-1.5zM799.7 2496.1h1.5v1.5h-1.5zM787.7 2458.6h1.5v1.5h-1.5zM704.6 2391.9h1.5v1.5h-1.5zM785.0 2465.6h1.5v1.5h-1.5zM815.3 2469.2h1.5v1.5h-1.5zM686.4 2419.2h1.5v1.5h-1.5zM644.9 2484.1h1.5v1.5h-1.5zM660.1 2555.0h1.5v1.5h-1.5zM697.7 2404.0h1.5v1.5h-1.5zM654.1 2480.8h1.5v1.5h-1.5zM705.6 2362.8h1.5v1.5h-1.5zM671.7 2446.1h1.5v1.5h-1.5zM683.8 2428.6h1.5v1.5h-1.5zM700.6 2415.6h1.5v1.5h-1.5zM681.0 2397.0h1.5v1.5h-1.5zM655.3 2459.6h1.5v1.5h-1.5zM687.7 2381.2h1.5v1.5h-1.5zM792.6 2515.5h1.5v1.5h-1.5zM677.5 2424.8h1.5v1.5h-1.5zM804.3 2367.1h1.5v1.5h-1.5zM794.2 2432.5h1.5v1.5h-1.5zM781.9 2478.6h1.5v1.5h-1.5zM707.1 2380.6h1.5v1.5h-1.5zM736.6 2536.5h1.5v1.5h-1.5zM790.9 2482.4h1.5v1.5h-1.5zM794.6 2523.7h1.5v1.5h-1.5zM784.7 2466.4h1.5v1.5h-1.5zM699.2 2404.7h1.5v1.5h-1.5zM692.3 2416.7h1.5v1.5h-1.5zM775.1 2514.5h1.5v1.5h-1.5zM665.8 2455.8h1.5v1.5h-1.5zM816.7 2462.0h1.5v1.5h-1.5zM691.6 2540.6h1.5v1.5h-1.5zM742.3 2316.7h1.5v1.5h-1.5zM791.3 2430.0h1.5v1.5h-1.5zM798.6 2455.1h1.5v1.5h-1.5zM785.9 2470.6h1.5v1.5h-1.5zM795.0 2430.2h1.5v1.5h-1.5zM700.2 2398.7h1.5v1.5h-1.5zM696.9 2433.7h1.5v1.5h-1.5zM820.3 2465.4h1.5v1.5h-1.5zM768.9 2511.0h1.5v1.5h-1.5zM803.9 2421.4h1.5v1.5h-1.5zM677.2 2501.1h1.5v1.5h-1.5zM695.3 2538.9h1.5v1.5h-1.5zM705.2 2390.3h1.5v1.5h-1.5zM700.2 2378.5h1.5v1.5h-1.5zM695.4 2419.4h1.5v1.5h-1.5zM805.0 2490.4h1.5v1.5h-1.5zM674.1 2452.3h1.5v1.5h-1.5zM680.8 2525.7h1.5v1.5h-1.5zM644.6 2395.1h1.5v1.5h-1.5zM661.2 2485.3h1.5v1.5h-1.5zM689.7 2399.2h1.5v1.5h-1.5zM710.3 2566.6h1.5v1.5h-1.5zM700.5 2402.8h1.5v1.5h-1.5zM664.5 2467.0h1.5v1.5h-1.5zM786.5 2453.6h1.5v1.5h-1.5zM771.8 2499.9h1.5v1.5h-1.5zM786.5 2461.2h1.5v1.5h-1.5zM768.2 2513.5h1.5v1.5h-1.5zM812.5 2487.0h1.5v1.5h-1.5zM701.4 2407.2h1.5v1.5h-1.5zM688.0 2421.2h1.5v1.5h-1.5zM704.8 2401.2h1.5v1.5h-1.5zM720.7 2558.5h1.5v1.5h-1.5zM696.0 2428.2h1.5v1.5h-1.5zM681.3 2405.9h1.5v1.5h-1.5zM699.9 2424.7h1.5v1.5h-1.5zM671.3 2439.8h1.5v1.5h-1.5zM781.1 2477.1h1.5v1.5h-1.5zM829.0 2473.6h1.5v1.5h-1.5zM696.2 2417.4h1.5v1.5h-1.5zM706.3 2533.3h1.5v1.5h-1.5zM808.1 2444.0h1.5v1.5h-1.5zM782.3 2324.0h1.5v1.5h-1.5zM795.7 2360.8h1.5v1.5h-1.5zM685.8 2387.3h1.5v1.5h-1.5zM799.7 2451.4h1.5v1.5h-1.5zM630.9 2503.8h1.5v1.5h-1.5zM814.5 2416.6h1.5v1.5h-1.5zM788.2 2477.7h1.5v1.5h-1.5zM776.4 2495.5h1.5v1.5h-1.5zM816.6 2401.5h1.5v1.5h-1.5zM671.6 2455.6h1.5v1.5h-1.5zM805.3 2463.1h1.5v1.5h-1.5zM696.2 2431.7h1.5v1.5h-1.5zM811.4 2461.1h1.5v1.5h-1.5zM688.3 2438.6h1.5v1.5h-1.5zM690.7 2436.2h1.5v1.5h-1.5zM786.3 2455.2h1.5v1.5h-1.5zM695.4 2374.3h1.5v1.5h-1.5zM747.0 2537.7h1.5v1.5h-1.5zM694.5 2406.5h1.5v1.5h-1.5zM705.5 2378.2h1.5v1.5h-1.5zM703.7 2548.3h1.5v1.5h-1.5zM807.8 2406.2h1.5v1.5h-1.5zM670.8 2442.7h1.5v1.5h-1.5zM694.9 2430.8h1.5v1.5h-1.5zM660.7 2420.4h1.5v1.5h-1.5zM666.7 2446.4h1.5v1.5h-1.5zM790.8 2492.7h1.5v1.5h-1.5zM730.9 2541.5h1.5v1.5h-1.5zM709.2 2386.3h1.5v1.5h-1.5zM659.2 2433.1h1.5v1.5h-1.5zM674.5 2489.5h1.5v1.5h-1.5zM687.1 2447.2h1.5v1.5h-1.5zM743.2 2563.7h1.5v1.5h-1.5zM766.4 2517.6h1.5v1.5h-1.5zM677.3 2411.0h1.5v1.5h-1.5zM806.5 2446.1h1.5v1.5h-1.5zM807.7 2383.8h1.5v1.5h-1.5zM760.0 2517.0h1.5v1.5h-1.5zM697.1 2521.0h1.5v1.5h-1.5zM754.9 2535.4h1.5v1.5h-1.5zM790.7 2458.9h1.5v1.5h-1.5zM670.0 2462.4h1.5v1.5h-1.5zM802.5 2401.1h1.5v1.5h-1.5zM685.6 2422.9h1.5v1.5h-1.5zM712.7 2526.5h1.5v1.5h-1.5zM691.3 2525.8h1.5v1.5h-1.5zM831.1 2446.2h1.5v1.5h-1.5zM785.0 2450.1h1.5v1.5h-1.5zM802.8 2435.3h1.5v1.5h-1.5zM726.6 2349.1h1.5v1.5h-1.5zM829.2 2428.5h1.5v1.5h-1.5zM779.7 2490.6h1.5v1.5h-1.5zM781.5 2532.5h1.5v1.5h-1.5zM676.5 2497.8h1.5v1.5h-1.5zM811.6 2398.3h1.5v1.5h-1.5zM669.9 2472.3h1.5v1.5h-1.5zM776.3 2502.7h1.5v1.5h-1.5zM648.4 2463.5h1.5v1.5h-1.5zM790.7 2431.7h1.5v1.5h-1.5zM698.6 2371.9h1.5v1.5h-1.5zM796.6 2388.2h1.5v1.5h-1.5zM787.6 2469.9h1.5v1.5h-1.5zM693.9 2406.3h1.5v1.5h-1.5zM725.7 2354.1h1.5v1.5h-1.5zM801.2 2443.4h1.5v1.5h-1.5zM683.4 2504.4h1.5v1.5h-1.5zM797.9 2357.0h1.5v1.5h-1.5zM665.6 2436.8h1.5v1.5h-1.5zM794.6 2474.1h1.5v1.5h-1.5zM797.0 2441.0h1.5v1.5h-1.5zM769.6 2327.9h1.5v1.5h-1.5zM821.1 2439.6h1.5v1.5h-1.5zM689.9 2420.0h1.5v1.5h-1.5zM696.4 2567.0h1.5v1.5h-1.5zM678.7 2512.6h1.5v1.5h-1.5zM669.8 2500.3h1.5v1.5h-1.5zM695.9 2423.2h1.5v1.5h-1.5zM805.3 2423.1h1.5v1.5h-1.5zM794.7 2411.4h1.5v1.5h-1.5zM794.9 2434.1h1.5v1.5h-1.5zM681.8 2412.8h1.5v1.5h-1.5zM793.0 2443.0h1.5v1.5h-1.5zM667.9 2436.1h1.5v1.5h-1.5zM670.9 2466.3h1.5v1.5h-1.5zM786.7 2483.5h1.5v1.5h-1.5zM776.2 2496.7h1.5v1.5h-1.5zM749.1 2523.4h1.5v1.5h-1.5zM702.6 2411.6h1.5v1.5h-1.5zM811.0 2419.9h1.5v1.5h-1.5zM678.2 2445.4h1.5v1.5h-1.5zM791.5 2425.2h1.5v1.5h-1.5zM826.8 2432.2h1.5v1.5h-1.5zM690.7 2396.9h1.5v1.5h-1.5zM683.7 2387.7h1.5v1.5h-1.5zM711.5 2383.9h1.5v1.5h-1.5zM714.2 2367.7h1.5v1.5h-1.5zM696.8 2426.8h1.5v1.5h-1.5zM723.6 2356.5h1.5v1.5h-1.5zM680.2 2413.0h1.5v1.5h-1.5zM791.1 2419.1h1.5v1.5h-1.5zM811.0 2425.2h1.5v1.5h-1.5zM681.7 2442.9h1.5v1.5h-1.5zM697.6 2407.2h1.5v1.5h-1.5zM667.7 2531.5h1.5v1.5h-1.5zM791.0 2436.5h1.5v1.5h-1.5zM657.3 2468.6h1.5v1.5h-1.5zM659.9 2484.2h1.5v1.5h-1.5zM795.5 2485.9h1.5v1.5h-1.5zM696.2 2434.6h1.5v1.5h-1.5zM692.4 2571.7h1.5v1.5h-1.5zM775.9 2507.8h1.5v1.5h-1.5zM688.5 2393.2h1.5v1.5h-1.5zM766.8 2536.2h1.5v1.5h-1.5zM780.2 2495.5h1.5v1.5h-1.5zM809.6 2416.2h1.5v1.5h-1.5zM740.2 2547.7h1.5v1.5h-1.5zM788.6 2480.9h1.5v1.5h-1.5zM691.1 2434.5h1.5v1.5h-1.5zM700.5 2414.4h1.5v1.5h-1.5zM791.8 2456.5h1.5v1.5h-1.5zM700.6 2414.6h1.5v1.5h-1.5zM777.1 2517.4h1.5v1.5h-1.5zM794.6 2470.8h1.5v1.5h-1.5zM671.2 2461.5h1.5v1.5h-1.5zM786.4 2490.1h1.5v1.5h-1.5zM788.6 2430.4h1.5v1.5h-1.5zM706.3 2537.1h1.5v1.5h-1.5zM698.0 2407.0h1.5v1.5h-1.5zM827.5 2447.2h1.5v1.5h-1.5zM814.4 2484.4h1.5v1.5h-1.5zM796.6 2428.3h1.5v1.5h-1.5zM714.5 2535.6h1.5v1.5h-1.5zM825.7 2411.5h1.5v1.5h-1.5zM804.9 2389.2h1.5v1.5h-1.5zM750.3 2526.1h1.5v1.5h-1.5zM785.8 2469.8h1.5v1.5h-1.5zM782.1 2494.0h1.5v1.5h-1.5zM683.1 2452.2h1.5v1.5h-1.5zM803.7 2408.8h1.5v1.5h-1.5zM666.8 2426.6h1.5v1.5h-1.5zM682.1 2446.3h1.5v1.5h-1.5zM814.0 2506.3h1.5v1.5h-1.5zM802.0 2444.1h1.5v1.5h-1.5zM792.0 2474.1h1.5v1.5h-1.5zM702.7 2394.9h1.5v1.5h-1.5zM689.1 2378.7h1.5v1.5h-1.5zM788.7 2465.8h1.5v1.5h-1.5zM684.4 2387.3h1.5v1.5h-1.5zM694.4 2521.4h1.5v1.5h-1.5zM675.9 2494.7h1.5v1.5h-1.5zM679.2 2431.1h1.5v1.5h-1.5zM698.4 2411.5h1.5v1.5h-1.5zM793.7 2339.3h1.5v1.5h-1.5zM825.8 2434.9h1.5v1.5h-1.5zM701.7 2522.6h1.5v1.5h-1.5zM802.0 2392.5h1.5v1.5h-1.5zM657.3 2449.1h1.5v1.5h-1.5zM787.4 2440.9h1.5v1.5h-1.5zM801.8 2419.1h1.5v1.5h-1.5zM738.7 2561.6h1.5v1.5h-1.5zM700.8 2412.7h1.5v1.5h-1.5zM798.3 2430.2h1.5v1.5h-1.5zM791.9 2434.0h1.5v1.5h-1.5zM796.1 2427.5h1.5v1.5h-1.5zM781.7 2488.6h1.5v1.5h-1.5zM665.6 2475.3h1.5v1.5h-1.5zM780.7 2502.6h1.5v1.5h-1.5zM757.0 2521.7h1.5v1.5h-1.5zM785.1 2467.8h1.5v1.5h-1.5zM802.0 2411.0h1.5v1.5h-1.5zM690.8 2409.5h1.5v1.5h-1.5zM789.8 2468.6h1.5v1.5h-1.5zM679.2 2440.8h1.5v1.5h-1.5zM755.4 2520.5h1.5v1.5h-1.5zM760.0 2573.9h1.5v1.5h-1.5zM682.3 2502.8h1.5v1.5h-1.5zM776.7 2501.0h1.5v1.5h-1.5zM770.0 2501.2h1.5v1.5h-1.5zM789.0 2434.8h1.5v1.5h-1.5zM771.7 2547.8h1.5v1.5h-1.5zM782.2 2503.6h1.5v1.5h-1.5zM783.9 2476.2h1.5v1.5h-1.5zM685.2 2441.0h1.5v1.5h-1.5zM668.0 2486.7h1.5v1.5h-1.5zM689.2 2437.9h1.5v1.5h-1.5zM802.6 2433.9h1.5v1.5h-1.5zM684.7 2389.1h1.5v1.5h-1.5zM691.2 2552.6h1.5v1.5h-1.5zM698.7 2407.1h1.5v1.5h-1.5zM697.4 2430.1h1.5v1.5h-1.5zM804.7 2382.3h1.5v1.5h-1.5zM672.6 2434.4h1.5v1.5h-1.5zM783.3 2476.5h1.5v1.5h-1.5zM756.2 2515.4h1.5v1.5h-1.5zM799.3 2437.8h1.5v1.5h-1.5zM689.6 2440.5h1.5v1.5h-1.5zM791.0 2430.1h1.5v1.5h-1.5zM685.9 2436.5h1.5v1.5h-1.5zM696.7 2531.9h1.5v1.5h-1.5zM715.9 2374.0h1.5v1.5h-1.5zM690.6 2419.7h1.5v1.5h-1.5zM666.6 2486.3h1.5v1.5h-1.5zM813.8 2487.6h1.5v1.5h-1.5zM678.8 2521.3h1.5v1.5h-1.5zM796.1 2438.6h1.5v1.5h-1.5zM698.3 2394.5h1.5v1.5h-1.5zM781.4 2495.5h1.5v1.5h-1.5zM796.0 2393.0h1.5v1.5h-1.5zM677.3 2497.9h1.5v1.5h-1.5zM792.5 2489.7h1.5v1.5h-1.5zM784.3 2471.3h1.5v1.5h-1.5zM690.2 2532.4h1.5v1.5h-1.5zM755.0 2518.3h1.5v1.5h-1.5zM769.4 2508.9h1.5v1.5h-1.5zM715.7 2342.0h1.5v1.5h-1.5zM714.7 2355.8h1.5v1.5h-1.5zM794.5 2394.7h1.5v1.5h-1.5zM703.1 2529.0h1.5v1.5h-1.5zM665.6 2482.9h1.5v1.5h-1.5zM786.2 2514.9h1.5v1.5h-1.5zM675.6 2531.8h1.5v1.5h-1.5zM732.8 2559.6h1.5v1.5h-1.5zM688.4 2517.5h1.5v1.5h-1.5zM677.5 2441.6h1.5v1.5h-1.5zM657.7 2434.7h1.5v1.5h-1.5zM701.2 2398.3h1.5v1.5h-1.5zM659.2 2525.8h1.5v1.5h-1.5zM806.3 2439.1h1.5v1.5h-1.5zM792.8 2363.7h1.5v1.5h-1.5zM660.8 2450.3h1.5v1.5h-1.5zM748.5 2527.8h1.5v1.5h-1.5z" fill="#1a1a1a"/>
</g>
<ellipse cx="589" cy="2482" rx="4.2" ry="22" fill="none" stroke="#777" stroke-width="0.9"/>
<rect x="584.1" y="2284.6" width="312.9" height="311.1" fill="none" stroke="#111" stroke-width="1.8"/>
<path d="M580.1 2580.2H584.1M580.1 2568.5H584.1M580.1 2556.7H584.1M580.1 2545.0H584.1M580.1 2521.4H584.1M580.1 2509.7H584.1M580.1 2497.9H584.1M580.1 2486.2H584.1M580.1 2462.6H584.1M580.1 2450.9H584.1M580.1 2439.1H584.1M580.1 2427.4H584.1M580.1 2403.8H584.1M580.1 2392.1H584.1M580.1 2380.3H584.1M580.1 2368.6H584.1M580.1 2345.0H584.1M580.1 2333.3H584.1M580.1 2321.5H584.1M580.1 2309.8H584.1M580.1 2286.2H584.1" fill="none" stroke="#111" stroke-width="1.5"/>
<path d="M575.1 2592.0H584.1M575.1 2533.2H584.1M575.1 2474.4H584.1M575.1 2415.6H584.1M575.1 2356.8H584.1M575.1 2298.0H584.1" fill="none" stroke="#111" stroke-width="2.4"/>
<text x="572.5" y="2596.2" font-size="11.5" text-anchor="end">0</text>
<text x="572.5" y="2537.4" font-size="11.5" text-anchor="end" textLength="26" lengthAdjust="spacingAndGlyphs">50K</text>
<text x="572.5" y="2478.6" font-size="11.5" text-anchor="end" textLength="26" lengthAdjust="spacingAndGlyphs">100K</text>
<text x="572.5" y="2419.8" font-size="11.5" text-anchor="end" textLength="26" lengthAdjust="spacingAndGlyphs">150K</text>
<text x="572.5" y="2361" font-size="11.5" text-anchor="end" textLength="26" lengthAdjust="spacingAndGlyphs">200K</text>
<text x="572.5" y="2302.2" font-size="11.5" text-anchor="end" textLength="26" lengthAdjust="spacingAndGlyphs">250K</text>
<path d="M591.5 2595.7V2599.7M597.6 2595.7V2599.7M602.6 2595.7V2599.7M606.8 2595.7V2599.7M610.5 2595.7V2599.7M613.7 2595.7V2599.7M635.6 2595.7V2599.7M646.7 2595.7V2599.7M654.6 2595.7V2599.7M660.7 2595.7V2599.7M665.7 2595.7V2599.7M669.9 2595.7V2599.7M673.6 2595.7V2599.7M676.8 2595.7V2599.7M699.6 2595.7V2599.7M710.7 2595.7V2599.7M718.6 2595.7V2599.7M724.7 2595.7V2599.7M729.7 2595.7V2599.7M733.9 2595.7V2599.7M737.6 2595.7V2599.7M740.8 2595.7V2599.7M761.8 2595.7V2599.7M772.9 2595.7V2599.7M780.8 2595.7V2599.7M786.9 2595.7V2599.7M791.9 2595.7V2599.7M796.1 2595.7V2599.7M799.8 2595.7V2599.7M803.0 2595.7V2599.7M825.4 2595.7V2599.7M836.5 2595.7V2599.7M844.4 2595.7V2599.7M850.5 2595.7V2599.7M855.5 2595.7V2599.7M859.7 2595.7V2599.7M863.4 2595.7V2599.7M866.6 2595.7V2599.7M888.1 2595.7V2599.7" fill="none" stroke="#111" stroke-width="1.5"/>
<path d="M616.6 2595.7V2604.7M680.6 2595.7V2604.7M742.8 2595.7V2604.7M806.4 2595.7V2604.7M869.1 2595.7V2604.7" fill="none" stroke="#111" stroke-width="2.4"/>
<text x="624.6" y="2623" font-size="11.5" text-anchor="middle">10<tspan dy="-6.3" font-size="9.2">1</tspan></text>
<text x="688.6" y="2623" font-size="11.5" text-anchor="middle">10<tspan dy="-6.3" font-size="9.2">2</tspan></text>
<text x="750.8" y="2623" font-size="11.5" text-anchor="middle">10<tspan dy="-6.3" font-size="9.2">3</tspan></text>
<text x="814.4" y="2623" font-size="11.5" text-anchor="middle">10<tspan dy="-6.3" font-size="9.2">4</tspan></text>
<text x="877.1" y="2623" font-size="11.5" text-anchor="middle">10<tspan dy="-6.3" font-size="9.2">5</tspan></text>
<line x1="788.3" y1="2284.6" x2="788.3" y2="2595.7" stroke="#111" stroke-width="1.3"/>
<text x="803.1" y="2435" font-size="17" textLength="86" lengthAdjust="spacingAndGlyphs">Apopxin<tspan dy="-5.7" font-size="9.9">pos</tspan></text>
<text x="847.3" y="2457.3" font-size="17" text-anchor="middle">1.9%</text>
<text x="656.8" y="2213.6" font-size="37" textLength="178" lengthAdjust="spacingAndGlyphs">Manf<tspan dy="-12.3" font-size="21.6">Cx3cr1WT</tspan></text>
<text x="582.2" y="2675.5" font-size="33" textLength="243" lengthAdjust="spacingAndGlyphs">Apopxin-Green</text>
<clipPath id="c11"><rect x="963.4" y="2291.1" width="300.8" height="300.9"/></clipPath>
<g clip-path="url(#c11)">
<path d="M1137.5 2343.1 1142.4 2343.5 1146.9 2345.1 1150.9 2348.0 1154.8 2352.6 1158.2 2358.6 1161.1 2365.6 1163.3 2373.6 1164.9 2382.6 1166.2 2400.1 1165.5 2420.1 1162.7 2443.6 1156.6 2480.1 1153.6 2491.1 1149.2 2500.1 1143.0 2508.1 1132.9 2518.0 1123.4 2525.3 1113.9 2530.4 1104.9 2532.7 1096.9 2532.3 1089.9 2529.9 1081.9 2524.8 1069.9 2514.6 1061.3 2505.6 1056.6 2498.6 1053.9 2492.1 1052.7 2485.1 1053.3 2478.1 1055.1 2472.6 1057.6 2467.6 1069.4 2451.8 1073.8 2444.1 1076.4 2437.1 1082.6 2414.6 1087.5 2400.1 1094.0 2385.1 1101.2 2372.1 1109.9 2360.0 1118.9 2351.0 1123.4 2347.8 1128.4 2345.2 1132.9 2343.7 1137.5 2343.1 M1135.3 2357.1 1139.9 2357.3 1143.9 2358.4 1146.9 2360.2 1149.9 2363.2 1152.7 2367.6 1155.1 2373.1 1158.7 2387.1 1160.4 2405.1 1160.2 2425.6 1158.1 2447.1 1154.1 2469.1 1150.8 2481.1 1146.8 2490.1 1139.6 2500.6 1131.4 2509.6 1123.4 2515.8 1114.4 2520.4 1105.9 2522.4 1097.4 2521.8 1090.4 2519.4 1083.4 2515.4 1075.5 2509.1 1069.3 2502.6 1065.3 2496.6 1062.9 2490.6 1062.0 2484.6 1062.7 2478.1 1066.1 2469.6 1075.7 2455.1 1079.4 2448.1 1081.9 2441.1 1087.6 2420.1 1091.7 2407.6 1097.1 2394.6 1103.2 2383.1 1110.9 2372.2 1118.9 2364.1 1126.9 2359.1 1130.9 2357.8 1135.3 2357.1 M1131.6 2366.6 1140.4 2366.7 1143.9 2367.8 1146.4 2369.5 1148.9 2372.3 1151.1 2376.1 1154.8 2387.1 1157.2 2403.1 1157.7 2422.1 1156.5 2441.1 1153.3 2460.1 1150.1 2471.6 1146.0 2481.1 1137.2 2495.6 1130.2 2504.1 1122.4 2510.5 1114.4 2514.6 1105.9 2516.4 1097.9 2515.8 1091.9 2513.8 1085.4 2510.3 1079.4 2505.6 1074.2 2500.1 1071.0 2495.1 1068.8 2489.6 1068.1 2484.1 1068.6 2478.6 1071.4 2471.1 1079.9 2457.1 1083.4 2449.8 1094.0 2413.6 1098.6 2402.1 1103.6 2392.1 1110.4 2381.7 1117.4 2374.0 1124.4 2369.0 1131.6 2366.6 M1130.3 2373.6 1139.4 2373.6 1142.4 2374.2 1144.9 2375.4 1147.4 2377.8 1149.4 2380.9 1152.7 2389.6 1155.2 2404.1 1156.0 2421.6 1155.0 2439.6 1152.3 2456.1 1149.7 2465.1 1146.4 2472.6 1134.5 2493.1 1128.2 2501.1 1121.4 2506.7 1113.4 2510.7 1105.4 2512.2 1097.9 2511.5 1092.4 2509.6 1086.9 2506.5 1081.9 2502.5 1077.5 2497.6 1074.8 2493.1 1073.1 2488.1 1072.6 2483.1 1073.3 2478.1 1075.7 2471.6 1082.9 2458.7 1085.9 2452.1 1096.1 2417.1 1100.2 2406.6 1104.6 2397.6 1110.9 2387.8 1117.3 2380.6 1123.9 2375.8 1130.3 2373.6 M1132.3 2379.1 1140.9 2379.6 1145.4 2381.6 1149.0 2386.6 1151.9 2395.0 1154.1 2409.1 1154.6 2425.1 1153.5 2441.1 1150.9 2455.1 1148.9 2461.3 1146.4 2466.7 1139.9 2476.8 1132.1 2491.6 1126.1 2499.1 1119.4 2504.4 1112.4 2507.6 1104.9 2508.8 1097.9 2508.0 1092.9 2506.1 1087.9 2503.2 1083.4 2499.3 1080.0 2495.1 1077.9 2491.1 1076.6 2486.6 1076.3 2482.1 1077.2 2477.1 1079.2 2471.6 1088.2 2453.6 1097.7 2420.1 1101.8 2409.6 1106.3 2400.6 1112.4 2391.3 1118.9 2384.5 1125.4 2380.5 1132.3 2379.1 M1128.4 2384.6 1139.9 2384.7 1143.4 2385.5 1146.9 2388.6 1149.9 2395.0 1152.4 2406.6 1153.4 2421.6 1152.8 2437.1 1150.5 2450.6 1148.7 2456.6 1146.4 2461.8 1138.9 2472.7 1130.3 2489.6 1125.4 2496.1 1119.4 2501.1 1112.9 2504.4 1105.9 2505.7 1098.9 2505.0 1094.4 2503.5 1089.9 2500.9 1086.0 2497.6 1083.2 2494.1 1081.0 2490.1 1079.9 2486.1 1079.6 2482.1 1080.3 2477.6 1082.2 2472.1 1090.1 2455.1 1098.7 2424.1 1102.0 2415.1 1105.7 2407.1 1111.1 2398.1 1116.9 2391.1 1122.4 2386.8 1128.4 2384.6 M1128.2 2389.1 1140.9 2389.5 1143.4 2390.1 1146.4 2392.7 1148.9 2397.7 1151.4 2408.6 1152.4 2422.1 1151.8 2436.1 1149.7 2448.6 1147.9 2454.4 1145.9 2458.5 1138.4 2468.8 1129.8 2486.1 1124.1 2494.1 1118.4 2498.9 1112.4 2501.9 1105.9 2503.1 1099.4 2502.4 1095.4 2501.0 1091.4 2498.6 1087.9 2495.6 1085.6 2492.6 1083.8 2489.1 1082.7 2485.1 1082.6 2481.1 1083.2 2477.1 1091.8 2456.1 1099.7 2427.1 1102.7 2418.6 1106.4 2410.5 1111.4 2402.1 1116.9 2395.4 1122.4 2391.1 1128.2 2389.1 M1126.4 2393.6 1142.9 2394.3 1145.4 2396.0 1147.6 2399.6 1150.1 2408.6 1151.3 2421.1 1150.9 2434.6 1149.1 2446.1 1145.9 2454.7 1137.9 2465.6 1128.7 2484.1 1123.4 2491.7 1118.4 2496.1 1112.4 2499.3 1106.4 2500.5 1100.4 2500.0 1096.5 2498.6 1093.1 2496.6 1090.2 2494.1 1087.9 2491.1 1086.2 2487.6 1085.4 2484.1 1086.0 2476.6 1093.3 2457.6 1100.5 2430.1 1106.4 2415.0 1111.4 2406.2 1116.4 2399.9 1121.4 2395.7 1126.4 2393.6 M1124.9 2397.6 1128.4 2397.2 1135.9 2398.4 1142.4 2398.1 1144.9 2399.5 1146.7 2402.1 1149.1 2410.1 1150.3 2421.1 1150.1 2433.1 1148.5 2443.6 1145.4 2452.1 1137.4 2463.1 1127.9 2482.0 1122.7 2489.6 1117.9 2494.0 1112.4 2497.0 1106.9 2498.2 1101.4 2497.8 1094.9 2494.9 1090.2 2490.1 1088.7 2487.1 1087.9 2483.6 1088.3 2476.6 1095.0 2457.6 1101.6 2431.1 1106.2 2419.1 1110.5 2411.1 1115.4 2404.4 1120.4 2399.8 1124.9 2397.6 M1124.8 2401.1 1128.9 2400.9 1136.4 2402.7 1142.4 2402.2 1144.4 2403.2 1145.9 2405.1 1148.3 2412.1 1149.4 2421.6 1149.2 2432.1 1147.9 2441.6 1144.9 2449.6 1137.4 2460.0 1127.4 2479.6 1121.9 2487.6 1117.4 2491.9 1112.4 2494.7 1106.9 2495.9 1101.9 2495.5 1095.9 2492.6 1092.0 2488.1 1090.2 2482.6 1090.8 2475.6 1096.4 2458.1 1102.1 2434.1 1106.8 2421.6 1110.9 2413.9 1115.4 2407.7 1119.9 2403.5 1124.8 2401.1 M1123.8 2404.6 1128.4 2404.4 1136.4 2406.9 1142.4 2406.3 1143.9 2406.9 1145.3 2408.6 1147.4 2414.5 1148.4 2422.6 1148.3 2431.6 1147.0 2440.1 1144.4 2447.0 1137.9 2456.3 1127.0 2477.1 1121.7 2485.1 1117.4 2489.4 1112.9 2492.1 1107.9 2493.5 1102.9 2493.3 1097.9 2491.0 1094.0 2486.6 1092.5 2481.1 1093.2 2474.6 1097.5 2459.6 1102.5 2437.1 1106.7 2425.1 1110.5 2417.6 1114.9 2411.3 1119.4 2406.9 1123.8 2404.6 M1123.4 2407.6 1127.9 2407.4 1135.9 2410.8 1141.9 2410.3 1144.4 2411.8 1146.3 2416.1 1147.3 2422.6 1147.3 2430.1 1146.3 2437.6 1143.9 2444.4 1137.9 2453.5 1127.9 2472.9 1121.9 2482.2 1117.9 2486.6 1113.4 2489.6 1108.4 2491.2 1103.9 2491.1 1100.2 2489.6 1097.4 2487.1 1095.5 2483.6 1094.8 2479.6 1095.3 2474.1 1098.8 2460.1 1102.5 2441.6 1106.2 2429.6 1111.4 2418.9 1117.4 2411.4 1120.4 2409.0 1123.4 2407.6 M1124.9 2410.1 1128.9 2410.7 1136.4 2415.0 1141.9 2415.0 1143.9 2416.3 1145.4 2420.0 1146.1 2425.1 1145.9 2431.6 1145.0 2437.1 1143.4 2441.2 1137.9 2450.6 1129.2 2468.1 1121.4 2480.3 1117.4 2484.5 1112.9 2487.5 1108.4 2488.8 1104.4 2488.5 1101.3 2487.1 1098.9 2484.6 1097.5 2481.6 1097.0 2478.1 1097.7 2472.1 1104.1 2439.6 1107.9 2428.4 1113.0 2419.1 1118.9 2412.7 1121.9 2410.9 1124.9 2410.1 M1122.5 2413.1 1125.4 2412.6 1128.4 2413.3 1136.9 2419.2 1142.4 2420.7 1143.6 2422.6 1144.3 2426.1 1143.9 2433.8 1142.4 2438.4 1131.7 2461.1 1123.4 2475.2 1118.9 2480.7 1114.4 2484.3 1109.9 2486.1 1105.9 2486.1 1103.4 2485.1 1101.2 2483.1 1099.8 2480.1 1099.3 2476.6 1099.8 2470.1 1104.2 2443.1 1107.4 2432.4 1111.9 2423.2 1116.9 2416.8 1119.9 2414.3 1122.5 2413.1 M1123.6 2415.1 1126.9 2415.3 1129.9 2416.7 1139.9 2426.6 1141.2 2430.1 1140.7 2435.1 1132.8 2456.6 1128.9 2464.4 1124.4 2471.6 1119.9 2477.2 1115.4 2481.2 1110.9 2483.3 1106.9 2483.4 1104.4 2482.1 1102.9 2480.4 1101.8 2477.6 1101.4 2474.3 1103.2 2454.6 1105.5 2441.6 1108.8 2431.6 1113.1 2423.6 1118.4 2417.6 1120.9 2416.0 1123.6 2415.1 M1123.8 2417.6 1126.9 2418.0 1129.9 2419.7 1133.1 2423.1 1135.6 2427.1 1137.0 2430.6 1137.6 2434.1 1136.5 2442.6 1134.3 2450.1 1131.5 2457.1 1128.1 2463.6 1124.4 2469.3 1120.4 2474.1 1116.4 2477.6 1112.4 2479.7 1108.9 2480.0 1106.9 2479.1 1105.4 2477.6 1104.3 2475.1 1103.7 2471.6 1104.3 2456.1 1106.4 2442.6 1109.4 2433.1 1113.8 2425.1 1118.9 2419.6 1121.4 2418.2 1123.8 2417.6 M1122.5 2420.6 1125.4 2420.5 1128.4 2421.8 1130.9 2424.2 1133.1 2427.6 1134.5 2431.1 1135.2 2435.1 1134.6 2444.1 1130.6 2456.1 1124.4 2466.7 1120.9 2470.7 1117.4 2473.7 1113.9 2475.4 1110.9 2475.7 1108.9 2474.7 1107.5 2473.1 1105.9 2467.1 1105.8 2455.6 1107.2 2444.6 1109.8 2435.6 1113.4 2428.5 1117.9 2423.1 1122.5 2420.6 M1122.2 2423.6 1124.9 2423.5 1127.4 2424.5 1129.6 2426.6 1131.4 2429.4 1133.4 2436.6 1132.8 2445.1 1129.6 2455.1 1124.4 2463.9 1118.4 2469.7 1115.4 2471.1 1112.9 2471.2 1111.4 2470.6 1109.9 2469.1 1108.0 2463.6 1107.4 2454.6 1108.5 2445.1 1110.6 2437.6 1113.9 2430.9 1117.9 2426.0 1122.2 2423.6 M1121.5 2427.1 1123.9 2426.8 1125.9 2427.4 1127.9 2428.9 1129.4 2431.1 1131.4 2437.6 1131.1 2445.1 1128.8 2453.1 1124.5 2460.6 1119.4 2465.5 1116.9 2466.6 1114.9 2466.7 1113.4 2466.2 1111.9 2464.8 1110.1 2460.6 1109.4 2454.1 1109.9 2446.6 1111.7 2439.6 1114.4 2433.8 1117.9 2429.3 1121.5 2427.1 M1120.7 2431.1 1122.4 2430.6 1124.4 2430.9 1127.4 2433.4 1129.2 2438.6 1129.2 2444.6 1127.6 2451.1 1124.4 2457.0 1120.4 2461.0 1118.4 2461.9 1116.4 2462.1 1113.9 2460.6 1112.4 2457.6 1111.6 2452.6 1111.9 2447.1 1113.0 2442.1 1115.0 2437.1 1117.9 2433.1 1120.7 2431.1 M1121.5 2435.1 1123.9 2435.4 1125.9 2437.6 1126.9 2441.1 1126.8 2445.6 1125.5 2450.1 1123.4 2453.9 1120.4 2456.7 1117.9 2457.2 1115.9 2456.1 1114.7 2453.6 1114.1 2450.1 1114.4 2446.1 1115.5 2442.1 1117.2 2438.6 1119.4 2436.2 1121.5 2435.1" fill="none" stroke="#555" stroke-width="0.8"/>
<path d="M1049.7 2380.1h1.5v1.5h-1.5zM1166.2 2419.8h1.5v1.5h-1.5zM1037.4 2370.2h1.5v1.5h-1.5zM1229.0 2409.3h1.5v1.5h-1.5zM1075.6 2432.5h1.5v1.5h-1.5zM1056.1 2465.3h1.5v1.5h-1.5zM1165.6 2486.2h1.5v1.5h-1.5zM1057.2 2464.3h1.5v1.5h-1.5zM1161.2 2465.7h1.5v1.5h-1.5zM1047.7 2394.8h1.5v1.5h-1.5zM1047.1 2424.0h1.5v1.5h-1.5zM1163.7 2523.3h1.5v1.5h-1.5zM1053.6 2403.6h1.5v1.5h-1.5zM1092.8 2538.0h1.5v1.5h-1.5zM1060.7 2437.1h1.5v1.5h-1.5zM1068.3 2423.1h1.5v1.5h-1.5zM1171.9 2417.5h1.5v1.5h-1.5zM1083.4 2397.0h1.5v1.5h-1.5zM1065.8 2424.4h1.5v1.5h-1.5zM1163.2 2444.4h1.5v1.5h-1.5zM1176.2 2418.4h1.5v1.5h-1.5zM1073.3 2408.7h1.5v1.5h-1.5zM1098.2 2368.8h1.5v1.5h-1.5zM1082.7 2411.2h1.5v1.5h-1.5zM1186.3 2404.2h1.5v1.5h-1.5zM1165.9 2430.0h1.5v1.5h-1.5zM1074.4 2434.5h1.5v1.5h-1.5zM1077.7 2424.1h1.5v1.5h-1.5zM1059.2 2452.4h1.5v1.5h-1.5zM1066.4 2448.2h1.5v1.5h-1.5zM1157.9 2475.2h1.5v1.5h-1.5zM1045.6 2503.3h1.5v1.5h-1.5zM1131.3 2533.8h1.5v1.5h-1.5zM1065.1 2436.0h1.5v1.5h-1.5zM1067.8 2448.2h1.5v1.5h-1.5zM1041.0 2523.4h1.5v1.5h-1.5zM1054.7 2496.1h1.5v1.5h-1.5zM1093.5 2332.8h1.5v1.5h-1.5zM1129.7 2529.4h1.5v1.5h-1.5zM1174.3 2403.9h1.5v1.5h-1.5zM1077.9 2394.0h1.5v1.5h-1.5zM1168.7 2468.3h1.5v1.5h-1.5zM1085.8 2344.5h1.5v1.5h-1.5zM1079.0 2400.6h1.5v1.5h-1.5zM1132.8 2559.2h1.5v1.5h-1.5zM1059.0 2504.2h1.5v1.5h-1.5zM1173.9 2401.7h1.5v1.5h-1.5zM1166.9 2482.3h1.5v1.5h-1.5zM1088.0 2393.4h1.5v1.5h-1.5zM1157.7 2491.3h1.5v1.5h-1.5zM1069.7 2448.3h1.5v1.5h-1.5zM1154.9 2509.9h1.5v1.5h-1.5zM1052.6 2518.9h1.5v1.5h-1.5zM1070.3 2410.8h1.5v1.5h-1.5zM1088.7 2381.4h1.5v1.5h-1.5zM1086.6 2539.4h1.5v1.5h-1.5zM1060.1 2555.2h1.5v1.5h-1.5zM1050.8 2451.3h1.5v1.5h-1.5zM1073.7 2521.6h1.5v1.5h-1.5zM1162.6 2452.0h1.5v1.5h-1.5zM1078.5 2416.5h1.5v1.5h-1.5zM1067.5 2435.5h1.5v1.5h-1.5zM1065.2 2406.4h1.5v1.5h-1.5zM1047.5 2404.3h1.5v1.5h-1.5zM1146.3 2523.9h1.5v1.5h-1.5zM1071.4 2521.9h1.5v1.5h-1.5zM1116.3 2528.3h1.5v1.5h-1.5zM1049.7 2408.5h1.5v1.5h-1.5zM1046.8 2428.5h1.5v1.5h-1.5zM1164.9 2471.9h1.5v1.5h-1.5zM1059.3 2459.2h1.5v1.5h-1.5zM1171.3 2473.2h1.5v1.5h-1.5zM1049.6 2398.2h1.5v1.5h-1.5zM1175.1 2396.1h1.5v1.5h-1.5zM1151.7 2534.0h1.5v1.5h-1.5zM1055.9 2403.7h1.5v1.5h-1.5zM1036.9 2500.5h1.5v1.5h-1.5zM1100.9 2541.7h1.5v1.5h-1.5zM1156.4 2487.7h1.5v1.5h-1.5zM1170.6 2416.3h1.5v1.5h-1.5zM1161.1 2452.5h1.5v1.5h-1.5zM1051.6 2391.9h1.5v1.5h-1.5zM1157.2 2494.4h1.5v1.5h-1.5zM1122.3 2535.0h1.5v1.5h-1.5zM1133.2 2536.0h1.5v1.5h-1.5zM1033.4 2500.8h1.5v1.5h-1.5zM1170.5 2418.6h1.5v1.5h-1.5zM1055.8 2439.7h1.5v1.5h-1.5zM1188.4 2503.7h1.5v1.5h-1.5zM1196.6 2462.8h1.5v1.5h-1.5zM1082.7 2397.5h1.5v1.5h-1.5zM1057.7 2408.5h1.5v1.5h-1.5zM1053.6 2370.6h1.5v1.5h-1.5zM1184.6 2351.6h1.5v1.5h-1.5zM1082.2 2407.1h1.5v1.5h-1.5zM1175.7 2460.3h1.5v1.5h-1.5zM1045.3 2489.5h1.5v1.5h-1.5zM1080.2 2350.8h1.5v1.5h-1.5zM1166.0 2415.5h1.5v1.5h-1.5zM1064.4 2452.0h1.5v1.5h-1.5zM1183.4 2476.2h1.5v1.5h-1.5zM1140.0 2530.5h1.5v1.5h-1.5zM1176.3 2397.5h1.5v1.5h-1.5zM1006.3 2408.9h1.5v1.5h-1.5zM1131.4 2338.3h1.5v1.5h-1.5zM1023.0 2442.7h1.5v1.5h-1.5zM1078.5 2527.6h1.5v1.5h-1.5zM1176.7 2426.3h1.5v1.5h-1.5zM1176.1 2467.8h1.5v1.5h-1.5zM1039.6 2465.0h1.5v1.5h-1.5zM1048.6 2499.7h1.5v1.5h-1.5zM1060.9 2449.9h1.5v1.5h-1.5zM1060.6 2458.8h1.5v1.5h-1.5zM1175.4 2449.2h1.5v1.5h-1.5zM1048.2 2503.8h1.5v1.5h-1.5zM1167.2 2421.0h1.5v1.5h-1.5zM1072.7 2385.9h1.5v1.5h-1.5zM1086.8 2397.8h1.5v1.5h-1.5zM1045.3 2441.0h1.5v1.5h-1.5zM1167.8 2379.8h1.5v1.5h-1.5zM1056.5 2439.0h1.5v1.5h-1.5zM1087.2 2545.2h1.5v1.5h-1.5zM1064.6 2544.0h1.5v1.5h-1.5zM1054.0 2442.2h1.5v1.5h-1.5zM1164.0 2495.9h1.5v1.5h-1.5zM1047.9 2397.5h1.5v1.5h-1.5zM1173.4 2421.3h1.5v1.5h-1.5zM1043.3 2503.9h1.5v1.5h-1.5zM1164.1 2430.5h1.5v1.5h-1.5zM1157.4 2471.3h1.5v1.5h-1.5zM1072.3 2441.3h1.5v1.5h-1.5zM1176.2 2449.0h1.5v1.5h-1.5zM1058.0 2436.4h1.5v1.5h-1.5zM1067.4 2366.3h1.5v1.5h-1.5zM1064.5 2521.8h1.5v1.5h-1.5zM1072.4 2409.3h1.5v1.5h-1.5zM1185.8 2401.7h1.5v1.5h-1.5zM1128.9 2529.8h1.5v1.5h-1.5zM1036.0 2463.2h1.5v1.5h-1.5zM1149.7 2513.1h1.5v1.5h-1.5zM1072.1 2424.5h1.5v1.5h-1.5zM1050.1 2484.0h1.5v1.5h-1.5zM1067.0 2393.6h1.5v1.5h-1.5zM1083.0 2407.9h1.5v1.5h-1.5zM1170.9 2430.4h1.5v1.5h-1.5zM1076.9 2420.1h1.5v1.5h-1.5zM1068.6 2350.9h1.5v1.5h-1.5zM1081.2 2529.1h1.5v1.5h-1.5zM1178.4 2408.4h1.5v1.5h-1.5zM1070.5 2412.3h1.5v1.5h-1.5zM1081.7 2409.2h1.5v1.5h-1.5zM1169.5 2462.4h1.5v1.5h-1.5zM1147.8 2502.8h1.5v1.5h-1.5zM1069.5 2523.7h1.5v1.5h-1.5zM1071.9 2566.8h1.5v1.5h-1.5zM1076.3 2418.6h1.5v1.5h-1.5zM1069.5 2519.2h1.5v1.5h-1.5zM1163.8 2436.2h1.5v1.5h-1.5zM1162.3 2468.7h1.5v1.5h-1.5zM1175.2 2413.7h1.5v1.5h-1.5zM1058.2 2448.7h1.5v1.5h-1.5zM1083.3 2404.9h1.5v1.5h-1.5zM1058.3 2456.1h1.5v1.5h-1.5zM1032.8 2518.3h1.5v1.5h-1.5zM1080.4 2382.9h1.5v1.5h-1.5zM1160.5 2468.8h1.5v1.5h-1.5zM1092.8 2547.0h1.5v1.5h-1.5zM1063.3 2426.4h1.5v1.5h-1.5zM1061.0 2455.5h1.5v1.5h-1.5zM1073.5 2424.5h1.5v1.5h-1.5zM1175.7 2439.0h1.5v1.5h-1.5zM1051.0 2516.7h1.5v1.5h-1.5zM1165.2 2420.8h1.5v1.5h-1.5zM1042.6 2426.5h1.5v1.5h-1.5zM1126.4 2321.3h1.5v1.5h-1.5zM1178.4 2430.4h1.5v1.5h-1.5zM1073.0 2426.5h1.5v1.5h-1.5zM1074.6 2524.1h1.5v1.5h-1.5zM1157.9 2352.3h1.5v1.5h-1.5zM1100.9 2534.8h1.5v1.5h-1.5zM1072.0 2440.4h1.5v1.5h-1.5zM1072.7 2393.4h1.5v1.5h-1.5zM1165.0 2421.0h1.5v1.5h-1.5zM1036.7 2441.0h1.5v1.5h-1.5zM1065.6 2427.5h1.5v1.5h-1.5zM1053.2 2473.5h1.5v1.5h-1.5zM1181.3 2501.0h1.5v1.5h-1.5zM1103.6 2551.5h1.5v1.5h-1.5zM1076.7 2396.3h1.5v1.5h-1.5zM1157.9 2487.4h1.5v1.5h-1.5zM1061.3 2551.3h1.5v1.5h-1.5zM1041.2 2530.8h1.5v1.5h-1.5zM1065.4 2437.1h1.5v1.5h-1.5zM1178.3 2459.0h1.5v1.5h-1.5zM1052.8 2395.5h1.5v1.5h-1.5zM1025.8 2514.3h1.5v1.5h-1.5zM1047.2 2421.4h1.5v1.5h-1.5zM1163.9 2466.4h1.5v1.5h-1.5zM1066.8 2517.3h1.5v1.5h-1.5zM1067.8 2405.1h1.5v1.5h-1.5zM1055.6 2447.6h1.5v1.5h-1.5zM1088.6 2394.0h1.5v1.5h-1.5zM1069.2 2446.3h1.5v1.5h-1.5zM1080.8 2538.0h1.5v1.5h-1.5zM1106.8 2540.8h1.5v1.5h-1.5zM1190.8 2416.1h1.5v1.5h-1.5zM1039.7 2540.3h1.5v1.5h-1.5zM1109.6 2356.8h1.5v1.5h-1.5zM1078.5 2397.7h1.5v1.5h-1.5zM1067.8 2439.5h1.5v1.5h-1.5zM1073.4 2430.8h1.5v1.5h-1.5zM1175.9 2439.4h1.5v1.5h-1.5zM1052.9 2454.0h1.5v1.5h-1.5zM1044.6 2373.1h1.5v1.5h-1.5zM1042.2 2475.7h1.5v1.5h-1.5zM1168.9 2370.2h1.5v1.5h-1.5zM1053.4 2501.1h1.5v1.5h-1.5zM1160.0 2460.7h1.5v1.5h-1.5zM1196.9 2428.8h1.5v1.5h-1.5zM1098.3 2374.3h1.5v1.5h-1.5zM1060.2 2429.7h1.5v1.5h-1.5zM1040.1 2480.2h1.5v1.5h-1.5zM1083.8 2402.6h1.5v1.5h-1.5zM1162.8 2472.4h1.5v1.5h-1.5zM1074.4 2433.6h1.5v1.5h-1.5zM1048.2 2439.1h1.5v1.5h-1.5zM1173.4 2429.0h1.5v1.5h-1.5zM1075.3 2431.1h1.5v1.5h-1.5zM1085.3 2396.1h1.5v1.5h-1.5zM1080.1 2523.6h1.5v1.5h-1.5zM1074.8 2423.3h1.5v1.5h-1.5zM1040.9 2465.2h1.5v1.5h-1.5zM1176.0 2470.6h1.5v1.5h-1.5zM1170.9 2441.0h1.5v1.5h-1.5zM1072.4 2434.1h1.5v1.5h-1.5zM1055.7 2505.3h1.5v1.5h-1.5zM1162.1 2474.8h1.5v1.5h-1.5zM1127.7 2339.7h1.5v1.5h-1.5zM1053.8 2450.8h1.5v1.5h-1.5zM1024.0 2410.1h1.5v1.5h-1.5zM1073.3 2386.9h1.5v1.5h-1.5zM1160.9 2495.0h1.5v1.5h-1.5zM1068.6 2429.6h1.5v1.5h-1.5zM1094.6 2374.3h1.5v1.5h-1.5zM1043.7 2522.6h1.5v1.5h-1.5zM1194.9 2425.7h1.5v1.5h-1.5zM1056.4 2464.7h1.5v1.5h-1.5zM1189.1 2483.3h1.5v1.5h-1.5zM1050.4 2508.0h1.5v1.5h-1.5zM1079.8 2395.8h1.5v1.5h-1.5zM1152.9 2541.5h1.5v1.5h-1.5zM1164.2 2471.1h1.5v1.5h-1.5zM1162.5 2470.1h1.5v1.5h-1.5zM1062.5 2515.5h1.5v1.5h-1.5zM1048.8 2452.3h1.5v1.5h-1.5zM1171.7 2361.5h1.5v1.5h-1.5zM1057.7 2447.0h1.5v1.5h-1.5zM1078.5 2419.3h1.5v1.5h-1.5zM1065.3 2455.2h1.5v1.5h-1.5zM1174.6 2446.9h1.5v1.5h-1.5zM1071.9 2379.0h1.5v1.5h-1.5zM1174.6 2473.7h1.5v1.5h-1.5zM1135.8 2518.5h1.5v1.5h-1.5zM1048.6 2454.8h1.5v1.5h-1.5zM1073.0 2418.4h1.5v1.5h-1.5zM1202.5 2413.1h1.5v1.5h-1.5zM1043.0 2461.3h1.5v1.5h-1.5zM1075.2 2429.7h1.5v1.5h-1.5zM1163.8 2439.5h1.5v1.5h-1.5zM1135.0 2524.9h1.5v1.5h-1.5zM1178.2 2445.3h1.5v1.5h-1.5zM1067.7 2429.6h1.5v1.5h-1.5zM1077.9 2406.3h1.5v1.5h-1.5zM1192.6 2398.8h1.5v1.5h-1.5zM1173.0 2488.7h1.5v1.5h-1.5zM1074.4 2546.0h1.5v1.5h-1.5zM1066.8 2523.2h1.5v1.5h-1.5zM1171.6 2496.0h1.5v1.5h-1.5zM1073.1 2435.7h1.5v1.5h-1.5zM1100.5 2532.4h1.5v1.5h-1.5zM1171.8 2431.6h1.5v1.5h-1.5zM1062.3 2526.7h1.5v1.5h-1.5zM1133.1 2342.1h1.5v1.5h-1.5zM1171.6 2431.1h1.5v1.5h-1.5zM1164.0 2457.2h1.5v1.5h-1.5zM1071.5 2419.0h1.5v1.5h-1.5zM1169.0 2423.7h1.5v1.5h-1.5zM1054.2 2459.3h1.5v1.5h-1.5zM1071.8 2378.2h1.5v1.5h-1.5zM1072.8 2436.6h1.5v1.5h-1.5zM1037.0 2495.5h1.5v1.5h-1.5zM1062.8 2452.8h1.5v1.5h-1.5zM1173.1 2484.6h1.5v1.5h-1.5zM1171.2 2388.3h1.5v1.5h-1.5zM1046.0 2448.1h1.5v1.5h-1.5zM1173.7 2420.6h1.5v1.5h-1.5zM1189.2 2414.7h1.5v1.5h-1.5zM1157.9 2495.4h1.5v1.5h-1.5zM1166.6 2417.8h1.5v1.5h-1.5zM1047.2 2448.4h1.5v1.5h-1.5zM1099.8 2549.2h1.5v1.5h-1.5zM1128.2 2543.4h1.5v1.5h-1.5zM1168.8 2475.6h1.5v1.5h-1.5zM1045.0 2465.3h1.5v1.5h-1.5zM1162.7 2453.5h1.5v1.5h-1.5zM1073.3 2430.7h1.5v1.5h-1.5zM1168.9 2534.2h1.5v1.5h-1.5zM1046.0 2441.9h1.5v1.5h-1.5zM1079.2 2403.4h1.5v1.5h-1.5zM1073.7 2528.7h1.5v1.5h-1.5zM1043.3 2487.3h1.5v1.5h-1.5zM1167.3 2432.9h1.5v1.5h-1.5zM1158.3 2498.3h1.5v1.5h-1.5zM1035.8 2470.5h1.5v1.5h-1.5zM1169.7 2438.6h1.5v1.5h-1.5zM1071.4 2425.0h1.5v1.5h-1.5zM1059.5 2408.5h1.5v1.5h-1.5zM1072.7 2523.1h1.5v1.5h-1.5zM1037.9 2479.1h1.5v1.5h-1.5zM1079.4 2377.4h1.5v1.5h-1.5zM1069.6 2379.5h1.5v1.5h-1.5zM1037.0 2552.5h1.5v1.5h-1.5zM1194.7 2419.7h1.5v1.5h-1.5zM1088.8 2374.0h1.5v1.5h-1.5zM1048.9 2491.9h1.5v1.5h-1.5zM1066.1 2432.2h1.5v1.5h-1.5zM1069.0 2443.4h1.5v1.5h-1.5zM1062.9 2429.3h1.5v1.5h-1.5zM1027.2 2511.2h1.5v1.5h-1.5zM1092.0 2385.7h1.5v1.5h-1.5z" fill="#1a1a1a"/>
</g>
<ellipse cx="968.5" cy="2468" rx="4.5" ry="9" fill="none" stroke="#777" stroke-width="0.9"/>
<ellipse cx="970" cy="2506" rx="6" ry="13" fill="none" stroke="#777" stroke-width="0.9"/>
<ellipse cx="969" cy="2506" rx="3.5" ry="8" fill="none" stroke="#888" stroke-width="0.8"/>
<rect x="963.4" y="2291.1" width="300.8" height="300.9" fill="none" stroke="#111" stroke-width="1.8"/>
<path d="M959.4 2576.0H963.4M959.4 2564.7H963.4M959.4 2553.4H963.4M959.4 2542.1H963.4M959.4 2519.5H963.4M959.4 2508.3H963.4M959.4 2497.0H963.4M959.4 2485.7H963.4M959.4 2463.1H963.4M959.4 2451.8H963.4M959.4 2440.5H963.4M959.4 2429.2H963.4M959.4 2406.6H963.4M959.4 2395.3H963.4M959.4 2384.0H963.4M959.4 2372.8H963.4M959.4 2350.2H963.4M959.4 2338.9H963.4M959.4 2327.6H963.4M959.4 2316.3H963.4M959.4 2293.7H963.4" fill="none" stroke="#111" stroke-width="1.5"/>
<path d="M954.4 2587.3H963.4M954.4 2530.8H963.4M954.4 2474.4H963.4M954.4 2417.9H963.4M954.4 2361.5H963.4M954.4 2305.0H963.4" fill="none" stroke="#111" stroke-width="2.4"/>
<text x="951.8" y="2591.5" font-size="11.5" text-anchor="end">0</text>
<text x="951.8" y="2535" font-size="11.5" text-anchor="end" textLength="26" lengthAdjust="spacingAndGlyphs">50K</text>
<text x="951.8" y="2478.6" font-size="11.5" text-anchor="end" textLength="26" lengthAdjust="spacingAndGlyphs">100K</text>
<text x="951.8" y="2422.1" font-size="11.5" text-anchor="end" textLength="26" lengthAdjust="spacingAndGlyphs">150K</text>
<text x="951.8" y="2365.7" font-size="11.5" text-anchor="end" textLength="26" lengthAdjust="spacingAndGlyphs">200K</text>
<text x="951.8" y="2309.2" font-size="11.5" text-anchor="end" textLength="26" lengthAdjust="spacingAndGlyphs">250K</text>
<path d="M970.3 2592.0V2596.0M976.2 2592.0V2596.0M981.0 2592.0V2596.0M985.1 2592.0V2596.0M988.6 2592.0V2596.0M991.7 2592.0V2596.0M1012.8 2592.0V2596.0M1023.5 2592.0V2596.0M1031.0 2592.0V2596.0M1036.9 2592.0V2596.0M1041.7 2592.0V2596.0M1045.8 2592.0V2596.0M1049.3 2592.0V2596.0M1052.4 2592.0V2596.0M1074.5 2592.0V2596.0M1085.2 2592.0V2596.0M1092.7 2592.0V2596.0M1098.6 2592.0V2596.0M1103.4 2592.0V2596.0M1107.5 2592.0V2596.0M1111.0 2592.0V2596.0M1114.1 2592.0V2596.0M1134.9 2592.0V2596.0M1145.6 2592.0V2596.0M1153.1 2592.0V2596.0M1159.0 2592.0V2596.0M1163.8 2592.0V2596.0M1167.9 2592.0V2596.0M1171.4 2592.0V2596.0M1174.5 2592.0V2596.0M1194.3 2592.0V2596.0M1205.0 2592.0V2596.0M1212.5 2592.0V2596.0M1218.4 2592.0V2596.0M1223.2 2592.0V2596.0M1227.3 2592.0V2596.0M1230.8 2592.0V2596.0M1233.9 2592.0V2596.0M1255.6 2592.0V2596.0" fill="none" stroke="#111" stroke-width="1.5"/>
<path d="M994.5 2592.0V2601.0M1056.2 2592.0V2601.0M1116.6 2592.0V2601.0M1176.0 2592.0V2601.0M1237.3 2592.0V2601.0" fill="none" stroke="#111" stroke-width="2.4"/>
<text x="1002.5" y="2617" font-size="11.5" text-anchor="middle">10<tspan dy="-6.3" font-size="9.2">1</tspan></text>
<text x="1064.2" y="2617" font-size="11.5" text-anchor="middle">10<tspan dy="-6.3" font-size="9.2">2</tspan></text>
<text x="1124.6" y="2617" font-size="11.5" text-anchor="middle">10<tspan dy="-6.3" font-size="9.2">3</tspan></text>
<text x="1184" y="2617" font-size="11.5" text-anchor="middle">10<tspan dy="-6.3" font-size="9.2">4</tspan></text>
<text x="1245.3" y="2617" font-size="11.5" text-anchor="middle">10<tspan dy="-6.3" font-size="9.2">5</tspan></text>
<line x1="1159.8" y1="2291.1" x2="1159.8" y2="2592" stroke="#111" stroke-width="1.3"/>
<text x="1173.6" y="2444.3" font-size="17" textLength="86" lengthAdjust="spacingAndGlyphs">Apopxin<tspan dy="-5.7" font-size="9.9">pos</tspan></text>
<text x="1217.8" y="2466.6" font-size="17" text-anchor="middle">1.6%</text>
<text x="1004.1" y="2213.6" font-size="37" textLength="160" lengthAdjust="spacingAndGlyphs">Manf<tspan dy="-12.3" font-size="21.6">Cx3cr1Δ</tspan></text>
</svg></body></html>
